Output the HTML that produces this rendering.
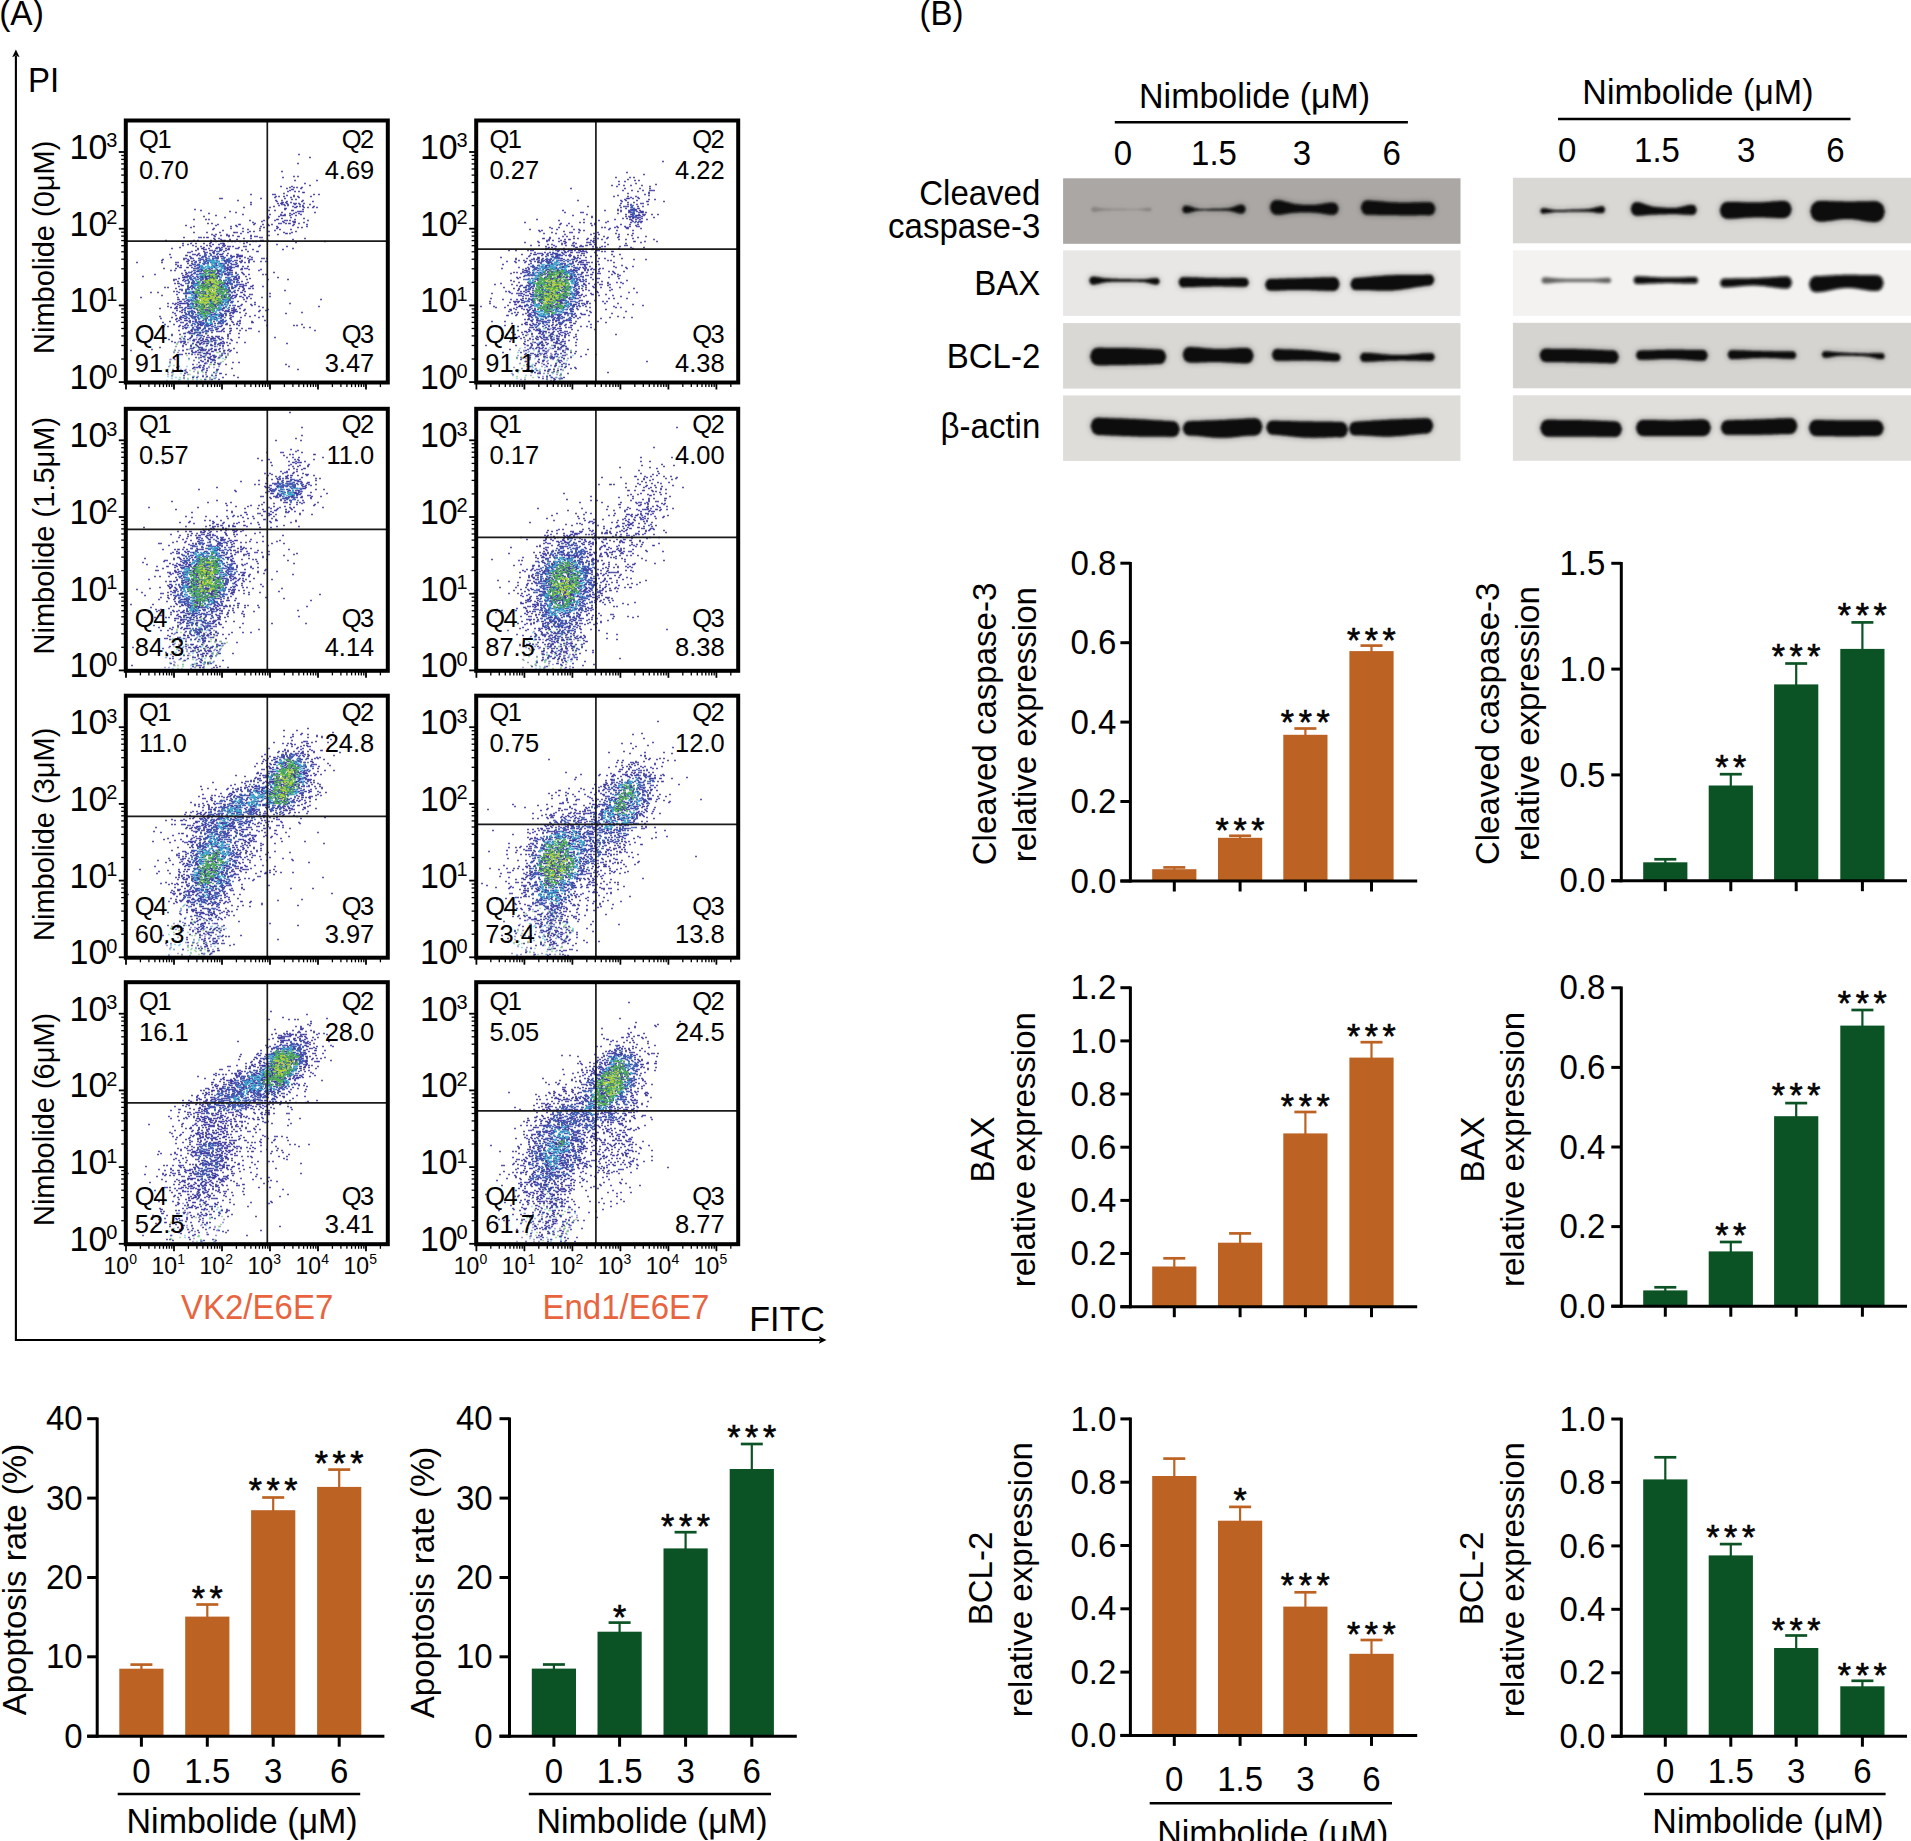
<!DOCTYPE html>
<html><head><meta charset="utf-8"><style>
html,body{margin:0;padding:0;background:#fff;}
svg{display:block;font-family:"Liberation Sans",sans-serif;}
</style></head><body>
<svg xmlns="http://www.w3.org/2000/svg" width="1911" height="1841" viewBox="0 0 1911 1841">
<defs><filter id="bl" x="-15%" y="-100%" width="130%" height="300%"><feGaussianBlur in="SourceGraphic" stdDeviation="3" result="b1"/><feComponentTransfer in="b1" result="b2"><feFuncA type="linear" slope="0.45"/></feComponentTransfer><feGaussianBlur in="SourceGraphic" stdDeviation="1" result="b3"/><feMerge><feMergeNode in="b2"/><feMergeNode in="b3"/></feMerge></filter>
<filter id="sb" x="-20%" y="-20%" width="140%" height="140%"><feGaussianBlur stdDeviation="6"/></filter><filter id="bl2" x="-10%" y="-80%" width="120%" height="260%"><feGaussianBlur stdDeviation="1.8"/></filter><filter id="sb2" x="-20%" y="-100%" width="140%" height="300%"><feGaussianBlur stdDeviation="3"/></filter></defs>
<rect width="1911" height="1841" fill="#fff"/>
<text transform="translate(-0.8,25) scale(1,1.045)" font-size="33.5" text-anchor="start" fill="#000" >(A)</text>
<text transform="translate(28,91.8) scale(1,1.045)" font-size="33" text-anchor="start" fill="#000" >PI</text>
<text transform="translate(749.3,1330.8) scale(1,1.045)" font-size="34" text-anchor="start" fill="#000" >FITC</text>
<line x1="15.9" y1="56" x2="15.9" y2="1341" stroke="#000" stroke-width="2.1"/>
<path d="M15.9 49.5 L19.6 57.2 L15.9 55.6 L12.2 57.2 Z" fill="#000"/>
<line x1="15" y1="1340" x2="820" y2="1340" stroke="#000" stroke-width="2.1"/>
<path d="M826.5 1340 L818.8 1343.7 L820.4 1340 L818.8 1336.3 Z" fill="#000"/>
<g transform="translate(0,0.5)"><path d="M195 319h0m343 2h0m-338 1h0m-8 2h0m352 0h0m-9 1h0m-340 1h0m344 2h0m12 0h0m-353 1h0m352 0h0m-347 2h0m339 0h0m-341 1h0m350 1h0m1 0h0m-24 1h0m16 0h0m0 1h0m5 0h0m-17 1h0m17 0h0m-352 1h0m357 0h0m-364 1h0m369 0h0m-378 1h0m4 0h0m11 0h0m17 0h0m-2 1h0m346 0h0m-378 1h0m31 0h0m347 0h0m5 0h0m-384 1h0m38 0h0m324 0h0m3 1h0m-340 1h0m-12 1h0m336 0h0m25 0h0m-335 1h0m314 0h0m-6 1h0m5 1h0m21 0h0m-362 1h0m350 0h0m10 0h0m-366 1h0m42 0h0m294 0h0m24 0h0m22 0h0m6 0h0m-47 1h0m5 0h0m19 0h0m-351 1h0m3 0h0m2 0h0m5 0h0m17 0h0m323 0h0m-324 1h0m-46 1h0m18 0h0m5 0h0m6 0h0m346 0h0m-332 1h0m298 0h0m29 0h0m-326 1h0m5 0h0m325 0h0m4 0h0m16 0h0m-367 1h0m1 0h0m15 0h0m325 0h0m14 0h0m-360 1h0m323 0h0m4 0h0m28 0h0m-384 1h0m1 0h0m42 0h0m316 0h0m10 0h0m14 0h0m-345 1h0m340 0h0m-378 1h0m355 0h0m13 0h0m-317 1h0m-16 1h0m1 0h0m1 0h0m-10 1h0m23 0h0m346 0h0m-20 1h0m-337 1h0m333 0h0m-343 1h0m15 0h0m344 1h0m-377 1h0m23 0h0m323 0h0m5 0h0m13 1h0m4 0h0m14 0h0m-369 1h0m337 0h0m-358 1h0m25 0h0m342 0h0m17 0h0m-45 1h0m-344 1h0m363 1h0m29 0h0m-353 1h0m-23 1h0m26 0h0m6 0h0m335 0h0m10 0h0m-14 1h0m12 0h0m-349 1h0m311 0h0m39 0h0m-366 230h0m355 1h0m-352 1h0m348 3h0m-353 1h0m5 2h0m345 1h0m-347 2h0m10 0h0m-22 2h0m18 2h0m4 2h0m7 0h0m347 0h0m3 0h0m-6 1h0m-363 2h0m16 0h0m340 0h0m18 1h0m-33 1h0m-328 1h0m-32 2h0m372 0h0m5 0h0m22 0h0m-364 1h0m6 0h0m363 0h0m-390 1h0m20 0h0m328 0h0m-339 1h0m12 0h0m341 0h0m5 0h0m-369 1h0m20 0h0m323 0h0m30 0h0m-373 1h0m5 0h0m352 0h0m15 0h0m10 0h0m6 0h0m-359 2h0m5 0h0m1 0h0m351 0h0m-397 2h0m29 0h0m362 0h0m-387 1h0m39 0h0m318 0h0m-348 1h0m29 0h0m342 1h0m10 0h0m-373 1h0m16 0h0m328 0h0m33 0h0m-395 1h0m8 0h0m5 0h0m30 0h0m346 0h0m-380 1h0m33 0h0m-19 1h0m8 0h0m5 0h0m348 0h0m-381 1h0m38 0h0m325 0h0m13 0h0m10 0h0m9 0h0m-396 2h0m23 0h0m5 0h0m9 1h0m343 0h0m1 0h0m9 0h0m-394 1h0m36 0h0m312 0h0m50 0h0m-381 1h0m371 0h0m5 0h0m5 0h0m-408 1h0m398 0h0m5 0h0m-10 1h0m13 0h0m-26 1h0m26 0h0m-398 2h0m26 0h0m350 0h0m-375 1h0m30 0h0m5 0h0m3 0h0m-4 1h0m344 1h0m13 0h0m-392 1h0m-9 2h0m4 0h0m31 0h0m323 0h0m21 1h0m21 0h0m5 0h0m-381 233h0m351 1h0m5 1h0m-361 2h0m-3 3h0m349 0h0m3 1h0m18 0h0m-370 1h0m27 1h0m340 1h0m5 0h0m-2 3h0m-16 1h0m15 1h0m-365 1h0m342 2h0m8 1h0m6 0h0m-349 2h0m-14 1h0m23 0h0m2 0h0m317 0h0m19 0h0m-321 1h0m331 0h0m-377 1h0m19 1h0m373 0h0m-343 1h0m-26 1h0m323 0h0m44 0h0m-363 2h0m20 0h0m317 0h0m14 0h0m-10 1h0m31 0h0m-392 1h0m370 0h0m4 0h0m10 0h0m1 0h0m-359 1h0m1 0h0m343 0h0m-28 1h0m4 0h0m19 0h0m-339 1h0m15 0h0m333 0h0m15 0h0m-390 1h0m32 0h0m319 0h0m-316 1h0m343 0h0m-362 1h0m10 0h0m311 0h0m19 1h0m21 1h0m-27 1h0m26 0h0m11 0h0m-21 2h0m-333 2h0m307 0h0m35 0h0m9 0h0m-391 1h0m25 0h0m9 0h0m326 0h0m-361 1h0m26 0h0m356 0h0m-378 1h0m9 0h0m30 0h0m335 0h0m9 1h0m-343 1h0m312 0h0m1 0h0m-315 1h0m-34 1h0m34 0h0m322 1h0m13 0h0m8 0h0m-365 1h0m-4 236h0m11 1h0m355 1h0m-363 1h0m369 0h0m-363 1h0m343 3h0m-329 1h0m348 1h0m7 0h0m-364 1h0m-17 2h0m346 0h0m19 0h0m-343 6h0m17 0h0m350 0h0m-368 1h0m18 0h0m333 0h0m-367 2h0m0 1h0m10 0h0m345 0h0m15 0h0m-16 1h0m35 1h0m-377 1h0m1 0h0m371 0h0m-37 2h0m34 1h0m-29 1h0m-14 1h0m22 0h0m-5 1h0m10 0h0m10 0h0m9 0h0m-38 1h0m23 0h0m-355 1h0m-15 1h0m14 0h0m-9 1h0m23 0h0m5 0h0m-33 1h0m28 0h0m336 0h0m18 0h0m1 0h0m-42 1h0m27 0h0m5 0h0m4 1h0m-32 1h0m36 0h0m-378 1h0m337 1h0m22 0h0m14 1h0m-356 1h0m-13 1h0m337 1h0m-337 2h0m340 1h0m-333 1h0m-8 1h0m9 0h0m315 0h0m9 0h0m8 0h0m31 1h0" stroke="#6a63bd" stroke-width="1.4" stroke-linecap="square" stroke-opacity="0.8" fill="none"/>
<path d="M541 319h0m1 0h0m3 2h0m-354 4h0m7 0h0m337 1h0m-346 1h0m355 1h0m-346 1h0m1 0h0m-2 1h0m1 0h0m345 0h0m-12 1h0m-345 1h0m10 0h0m5 0h0m-6 1h0m-1 1h0m-2 2h0m351 0h0m-361 1h0m32 1h0m339 0h0m-369 1h0m28 0h0m-22 1h0m362 0h0m5 0h0m-347 1h0m-1 1h0m330 0h0m-346 1h0m15 0h0m8 0h0m323 0h0m21 0h0m-364 2h0m369 0h0m-2 1h0m-33 1h0m20 0h0m-351 1h0m12 0h0m309 0h0m14 1h0m26 0h0m-26 1h0m4 1h0m6 0h0m-351 1h0m325 0h0m10 0h0m10 0h0m26 0h0m-372 1h0m30 0h0m335 0h0m-335 1h0m-17 1h0m10 0h0m316 0h0m42 0h0m-18 1h0m6 0h0m-346 1h0m8 1h0m294 0h0m18 0h0m10 0h0m-356 1h0m355 0h0m-350 1h0m364 0h0m9 0h0m-355 1h0m345 1h0m-387 1h0m363 1h0m33 0h0m-396 1h0m381 0h0m-364 1h0m373 0h0m-27 1h0m12 0h0m-10 2h0m1 0h0m4 0h0m-338 2h0m14 0h0m-44 1h0m45 0h0m318 0h0m18 0h0m-372 1h0m372 0h0m8 0h0m-349 1h0m301 1h0m13 0h0m21 0h0m-379 1h0m4 0h0m21 0h0m1 0h0m20 0h0m324 0h0m13 0h0m-375 1h0m381 0h0m-385 1h0m345 0h0m43 0h0m-381 1h0m1 0h0m8 0h0m9 0h0m363 0h0m-393 1h0m29 231h0m351 0h0m-351 1h0m-4 4h0m363 1h0m-361 4h0m345 0h0m24 0h0m-376 1h0m5 1h0m16 1h0m339 1h0m-346 1h0m356 0h0m-358 1h0m9 2h0m-12 1h0m11 0h0m-16 1h0m373 0h0m-388 1h0m20 0h0m15 0h0m6 0h0m316 0h0m-338 1h0m362 0h0m17 0h0m-380 2h0m4 0h0m363 0h0m-363 1h0m373 0h0m-36 1h0m24 0h0m-386 1h0m9 0h0m-10 1h0m4 0h0m1 0h0m23 0h0m358 0h0m11 0h0m-383 1h0m5 0h0m9 0h0m5 0h0m329 0h0m-334 1h0m367 0h0m-343 2h0m336 0h0m11 1h0m10 0h0m-359 1h0m-48 1h0m10 0h0m18 0h0m10 0h0m5 0h0m357 0h0m-373 1h0m15 0h0m358 0h0m-397 2h0m43 0h0m357 0h0m-390 1h0m33 0h0m310 0h0m-331 1h0m357 0h0m-343 1h0m348 0h0m-368 1h0m20 1h0m334 0h0m-344 1h0m322 0h0m44 0h0m-402 1h0m49 0h0m339 0h0m9 0h0m-14 1h0m23 0h0m-368 1h0m6 0h0m-32 1h0m8 0h0m371 0h0m-362 1h0m341 0h0m8 0h0m1 0h0m22 0h0m-23 1h0m26 0h0m-401 1h0m34 0h0m6 0h0m3 0h0m-18 1h0m1 0h0m7 0h0m2 0h0m331 0h0m-353 1h0m8 1h0m370 0h0m-21 1h0m-336 1h0m-31 1h0m9 0h0m354 0h0m4 0h0m-343 228h0m345 4h0m-342 1h0m-15 3h0m345 2h0m-341 1h0m358 1h0m-366 1h0m19 5h0m341 0h0m10 1h0m-354 1h0m-11 1h0m28 0h0m330 0h0m5 0h0m5 0h0m6 1h0m-380 2h0m15 1h0m14 0h0m359 1h0m-38 1h0m37 0h0m-7 1h0m6 0h0m-365 1h0m1 0h0m16 0h0m317 0h0m-363 1h0m39 0h0m1 0h0m11 0h0m311 0h0m9 0h0m21 0h0m-348 1h0m-45 1h0m34 0h0m21 0h0m347 0h0m-31 1h0m10 0h0m21 0h0m-7 1h0m-25 1h0m32 0h0m-385 1h0m10 0h0m14 0h0m305 0h0m5 1h0m37 0h0m11 0h0m-401 1h0m5 0h0m370 0h0m14 0h0m-348 1h0m10 0h0m305 0h0m14 1h0m4 0h0m14 1h0m-339 1h0m325 0h0m23 0h0m-367 1h0m346 0h0m-351 1h0m5 0h0m346 0h0m-365 1h0m1 0h0m-14 1h0m26 0h0m13 0h0m9 1h0m299 0h0m27 0h0m-370 1h0m4 0h0m5 0h0m-9 1h0m8 0h0m339 0h0m-330 1h0m27 0h0m307 1h0m27 0h0m-357 1h0m4 0h0m339 0h0m-365 1h0m4 0h0m356 2h0m17 0h0m9 0h0m-365 1h0m14 1h0m355 0h0m-391 1h0m348 0h0m21 0h0m8 0h0m0 227h0m-344 6h0m343 2h0m-340 1h0m350 0h0m-11 6h0m6 0h0m-7 1h0m11 1h0m-354 2h0m363 2h0m-19 1h0m-329 1h0m338 1h0m-21 1h0m-320 1h0m344 0h0m2 0h0m-341 2h0m328 0h0m23 0h0m-347 1h0m330 0h0m-331 1h0m355 1h0m-396 1h0m40 0h0m305 0h0m19 0h0m5 0h0m27 0h0m-373 1h0m359 2h0m-351 1h0m341 0h0m-341 1h0m320 1h0m10 0h0m29 1h0m-6 2h0m-34 2h0m-323 1h0m3 3h0m328 0h0m12 0h0m1 0h0m-332 1h0m327 0h0m9 1h0m-22 2h0m35 2h0m-395 1h0m13 0h0m14 1h0m-14 1h0m362 0h0m14 0h0m4 0h0m-35 1h0m22 1h0m9 0h0m-359 1h0m359 0h0m-364 1h0m17 0h0m337 0h0" stroke="#55bcd8" stroke-width="1.4" stroke-linecap="square" stroke-opacity="0.8" fill="none"/>
<path d="M541 319h0m-2 9h0m6 0h0m-349 3h0m357 1h0m-364 1h0m6 0h0m12 0h0m339 0h0m-347 1h0m352 0h0m-24 1h0m28 0h0m-373 1h0m367 0h0m-13 1h0m-319 3h0m-32 1h0m15 0h0m10 0h0m323 0h0m-356 2h0m28 0h0m-28 1h0m15 0h0m28 0h0m323 0h0m17 0h0m-347 1h0m330 0h0m9 0h0m12 0h0m-368 2h0m5 0h0m-11 1h0m14 0h0m341 0h0m-370 1h0m24 0h0m4 1h0m368 0h0m-397 1h0m50 0h0m347 0h0m-369 1h0m5 0h0m10 0h0m1 0h0m348 2h0m-379 1h0m33 0h0m8 0h0m312 0h0m-335 1h0m21 0h0m324 0h0m-29 1h0m1 0h0m32 0h0m5 0h0m-360 1h0m19 0h0m1 0h0m298 0h0m-292 1h0m339 0h0m-7 1h0m1 0h0m-335 1h0m-3 2h0m-10 1h0m1 0h0m4 0h0m-41 1h0m350 0h0m8 0h0m-354 1h0m381 0h0m-364 1h0m359 1h0m-386 1h0m395 0h0m-373 1h0m329 0h0m4 0h0m16 0h0m10 0h0m-376 1h0m25 0h0m19 0h0m332 0h0m8 0h0m-372 1h0m18 0h0m315 0h0m13 0h0m22 0h0m5 0h0m-385 2h0m17 0h0m371 0h0m0 1h0m-367 1h0m323 0h0m-337 1h0m4 0h0m22 0h0m319 0h0m8 0h0m-345 1h0m22 0h0m4 0h0m347 0h0m-368 1h0m8 0h0m5 0h0m341 0h0m-355 231h0m-1 1h0m363 0h0m-364 1h0m-2 2h0m-2 3h0m16 1h0m345 0h0m13 0h0m-366 1h0m7 0h0m-12 1h0m11 0h0m-2 2h0m10 1h0m345 0h0m-357 1h0m352 1h0m-349 2h0m353 0h0m-375 2h0m15 0h0m10 0h0m358 0h0m-383 1h0m25 0h0m347 0h0m-348 1h0m1 0h0m352 0h0m4 0h0m-377 1h0m14 0h0m23 0h0m344 1h0m-357 1h0m336 0h0m16 0h0m6 0h0m-26 1h0m-323 1h0m-12 1h0m12 0h0m356 0h0m6 0h0m-380 1h0m353 0h0m21 0h0m-359 1h0m357 0h0m-11 1h0m23 0h0m-405 1h0m29 0h0m1 0h0m6 0h0m5 0h0m5 0h0m308 0h0m28 0h0m-342 1h0m12 0h0m-3 1h0m309 0h0m18 0h0m14 0h0m-377 1h0m15 0h0m-11 1h0m11 0h0m14 0h0m314 0h0m33 0h0m11 0h0m-369 1h0m16 0h0m305 0h0m19 0h0m13 0h0m15 0h0m1 0h0m-364 1h0m6 0h0m338 0h0m-378 1h0m29 0h0m372 0h0m-48 1h0m43 0h0m-378 1h0m4 0h0m332 0h0m13 0h0m18 0h0m-367 1h0m357 0h0m-380 1h0m1 0h0m3 0h0m399 0h0m-362 1h0m4 0h0m-33 1h0m33 0h0m325 0h0m13 0h0m-365 1h0m357 0h0m-341 1h0m323 0h0m-318 1h0m326 0h0m-335 1h0m9 0h0m-18 1h0m331 1h0m21 0h0m-362 1h0m22 0h0m5 0h0m326 0h0m14 0h0m-345 1h0m340 0h0m22 0h0m-397 1h0m39 0h0m-26 1h0m9 0h0m3 0h0m13 0h0m327 0h0m-360 1h0m3 0h0m353 0h0m18 0h0m-366 1h0m13 0h0m348 1h0m17 0h0m-383 1h0m26 0h0m340 0h0m9 0h0m8 0h0m-25 232h0m2 5h0m-355 1h0m22 2h0m335 0h0m-7 3h0m16 0h0m-6 1h0m10 0h0m-341 1h0m314 0h0m28 0h0m-29 2h0m15 0h0m-348 1h0m362 2h0m6 0h0m-356 2h0m333 0h0m-343 1h0m358 0h0m-359 1h0m370 0h0m-33 2h0m21 0h0m-365 1h0m379 0h0m-1 1h0m-15 1h0m21 0h0m-399 1h0m49 0h0m337 0h0m11 0h0m-354 1h0m1 0h0m4 0h0m-40 1h0m24 0h0m10 0h0m305 0h0m55 0h0m-365 1h0m342 0h0m-376 1h0m24 0h0m14 0h0m337 2h0m-357 1h0m3 0h0m372 0h0m-6 4h0m4 0h0m-46 2h0m9 0h0m13 0h0m-343 1h0m316 0h0m50 0h0m-371 1h0m14 0h0m9 0h0m306 0h0m19 0h0m13 0h0m-35 1h0m31 0h0m-5 1h0m-357 2h0m13 0h0m360 0h0m1 0h0m-10 1h0m-361 1h0m10 0h0m4 0h0m347 0h0m-364 1h0m7 0h0m5 0h0m1 0h0m-5 1h0m13 0h0m343 0h0m-22 1h0m-339 1h0m8 1h0m-17 1h0m360 231h0m6 0h0m3 3h0m-7 1h0m-347 3h0m350 0h0m-15 5h0m22 1h0m3 2h0m-354 3h0m352 0h0m-11 1h0m-357 1h0m31 1h0m329 1h0m-12 1h0m14 1h0m16 1h0m-382 1h0m374 2h0m6 0h0m-341 2h0m306 0h0m-332 1h0m331 0h0m1 0h0m28 0h0m-346 1h0m321 0h0m-9 1h0m54 0h0m-37 2h0m34 0h0m-402 1h0m351 0h0m45 0h0m-37 1h0m37 0h0m-346 1h0m349 1h0m-351 1h0m328 0h0m18 0h0m-391 2h0m390 0h0m1 0h0m-383 1h0m-13 2h0m398 0h0m1 0h0m-31 1h0m13 1h0m3 0h0m-26 1h0m-328 1h0m337 0h0m22 0h0m3 0h0m-363 1h0m-18 1h0m376 0h0m-385 1h0m1 1h0m29 0h0m14 0h0m328 1h0" stroke="#6cc063" stroke-width="1.4" stroke-linecap="square" stroke-opacity="0.8" fill="none"/>
<path d="M195 321h0m345 0h0m5 1h0m-351 7h0m344 0h0m-330 1h0m338 2h0m-346 3h0m333 1h0m11 0h0m3 2h0m-351 1h0m329 0h0m5 0h0m-314 1h0m329 0h0m6 0h0m-367 1h0m10 0h0m10 0h0m358 0h0m-374 1h0m11 0h0m334 0h0m4 1h0m-5 2h0m-356 1h0m30 0h0m357 0h0m-340 2h0m307 0h0m31 0h0m5 0h0m1 0h0m1 0h0m-364 1h0m5 0h0m351 0h0m6 0h0m-391 1h0m4 0h0m345 0h0m15 0h0m4 0h0m5 0h0m-340 1h0m16 0h0m-50 1h0m4 0h0m44 1h0m6 0h0m314 0h0m9 0h0m-329 1h0m6 0h0m313 0h0m26 0h0m-361 1h0m330 0h0m15 0h0m-352 2h0m15 0h0m303 0h0m4 0h0m23 0h0m6 0h0m-361 1h0m341 0h0m34 0h0m4 0h0m-393 1h0m355 0h0m28 0h0m-364 1h0m8 1h0m336 0h0m9 0h0m15 0h0m-392 1h0m36 0h0m14 1h0m300 0h0m22 0h0m24 0h0m-10 1h0m-355 1h0m350 0h0m4 0h0m-386 1h0m10 0h0m25 0h0m15 0h0m308 0h0m5 0h0m-337 1h0m14 0h0m305 0h0m-310 1h0m318 0h0m14 0h0m-363 1h0m13 0h0m9 0h0m332 0h0m1 0h0m-10 1h0m30 0h0m10 0h0m-372 1h0m354 0h0m-372 1h0m4 0h0m367 0h0m13 0h0m-354 1h0m18 0h0m328 0h0m4 0h0m-360 1h0m18 0h0m307 0h0m44 0h0m4 0h0m-389 1h0m31 0h0m-5 1h0m345 0h0m-350 1h0m354 0h0m9 0h0m-372 1h0m31 0h0m345 0h0m-35 1h0m22 0h0m4 1h0m-2 230h0m6 1h0m-9 1h0m0 1h0m0 1h0m-363 6h0m18 0h0m350 0h0m13 0h0m-361 2h0m1 0h0m-8 1h0m12 0h0m-28 1h0m26 1h0m352 1h0m-380 1h0m385 0h0m5 0h0m-28 1h0m20 1h0m-351 1h0m5 0h0m345 1h0m-374 1h0m10 0h0m374 0h0m6 0h0m-400 1h0m371 1h0m25 2h0m-375 2h0m353 0h0m-14 1h0m4 0h0m24 0h0m-347 1h0m-11 1h0m366 1h0m-346 1h0m347 0h0m-398 1h0m363 0h0m14 0h0m-354 1h0m26 0h0m342 0h0m-30 1h0m-366 1h0m14 0h0m343 0h0m14 0h0m10 0h0m24 0h0m-392 1h0m357 0h0m-334 1h0m10 0h0m5 0h0m347 0h0m-372 1h0m357 0h0m16 0h0m-381 1h0m365 0h0m-334 1h0m329 0h0m-358 1h0m18 0h0m5 0h0m330 0h0m1 0h0m9 0h0m-381 1h0m10 0h0m22 1h0m13 0h0m348 0h0m1 0h0m9 0h0m-376 1h0m4 0h0m335 0h0m22 1h0m9 0h0m-357 1h0m-31 1h0m17 0h0m4 0h0m322 0h0m49 0h0m-388 1h0m16 1h0m14 0h0m323 0h0m12 0h0m9 0h0m-353 1h0m323 0h0m21 1h0m-375 1h0m30 0h0m332 1h0m-332 1h0m341 0h0m25 0h0m-375 1h0m350 0h0m-354 1h0m21 0h0m-24 234h0m362 1h0m-17 1h0m-344 2h0m360 3h0m2 0h0m-355 1h0m333 0h0m-349 1h0m375 0h0m4 2h0m-348 1h0m339 1h0m7 0h0m-12 1h0m4 1h0m12 1h0m-361 1h0m6 0h0m322 0h0m25 1h0m-370 2h0m373 0h0m-382 1h0m39 0h0m-36 2h0m45 1h0m332 0h0m-359 1h0m352 0h0m-371 2h0m28 0h0m9 1h0m310 0h0m49 0h0m-374 2h0m9 0h0m6 0h0m357 0h0m-21 1h0m10 0h0m-343 1h0m-14 1h0m355 0h0m-42 1h0m24 0h0m28 0h0m-348 2h0m342 0h0m5 0h0m-353 1h0m-9 1h0m9 0h0m352 0h0m-348 1h0m-31 1h0m7 0h0m1 0h0m12 0h0m339 0h0m-374 1h0m26 0h0m357 0h0m8 0h0m-351 1h0m342 0h0m-386 1h0m21 0h0m370 0h0m-357 1h0m326 1h0m-1 2h0m22 0h0m-347 1h0m325 0h0m-318 1h0m326 1h0m-330 1h0m308 0h0m30 0h0m-360 1h0m22 0h0m317 0h0m39 0h0m-391 1h0m348 0h0m17 0h0m-342 230h0m361 2h0m-10 4h0m6 0h0m-352 8h0m349 1h0m-341 2h0m364 4h0m-28 1h0m6 0h0m10 0h0m15 2h0m-387 1h0m350 0h0m6 0h0m-332 1h0m361 1h0m-391 1h0m346 0h0m-338 1h0m-14 1h0m5 0h0m350 0h0m10 0h0m22 0h0m-18 1h0m-343 1h0m347 0h0m4 0h0m27 0h0m-353 2h0m298 0h0m-319 1h0m371 0h0m-20 1h0m-331 1h0m325 0h0m19 1h0m-34 1h0m5 0h0m14 0h0m18 1h0m1 0h0m-38 2h0m17 1h0m-4 1h0m-329 1h0m-22 1h0m328 0h0m35 0h0m-351 1h0m342 0h0m5 0h0m12 1h0m-13 1h0m-337 1h0m315 0h0m31 0h0m-32 1h0m30 0h0m-38 1h0m17 0h0m9 2h0m-347 2h0m14 0h0m311 0h0m13 0h0m26 0h0" stroke="#4a46a8" stroke-width="1.4" stroke-linecap="square" stroke-opacity="0.8" fill="none"/>
<path d="M299 154h0m11 3h0m353 4h0m-365 2h0m-16 8h0m345 1h0m17 2h0m-350 2h0m4 0h0m-15 1h0m333 0h0m14 0h0m4 0h0m-6 2h0m-333 1h0m22 0h0m318 0h0m4 0h0m-20 1h0m6 0h0m-320 2h0m331 0h0m-17 1h0m37 0h0m-346 1h0m302 0h0m12 0h0m7 0h0m11 0h0m-361 1h0m11 0h0m325 0h0m33 0h0m-360 1h0m4 0h0m3 0h0m5 0h0m-15 1h0m14 0h0m270 0h0m54 0h0m15 0h0m10 0h0m-358 1h0m1 0h0m-3 1h0m333 0h0m9 0h0m11 0h0m7 0h0m2 0h0m2 0h0m-366 1h0m7 0h0m4 0h0m339 0h0m-335 1h0m1 0h0m345 0h0m-365 1h0m344 0h0m21 0h0m-398 1h0m22 0h0m2 0h0m39 0h0m5 0h0m326 0h0m-358 1h0m7 0h0m324 0h0m31 0h0m-373 1h0m3 0h0m5 0h0m10 0h0m4 0h0m13 0h0m303 0h0m14 0h0m8 0h0m-361 1h0m16 0h0m8 0h0m332 0h0m7 0h0m-418 1h0m2 0h0m39 0h0m24 0h0m342 0h0m1 0h0m1 0h0m4 0h0m6 0h0m-347 1h0m4 0h0m329 0h0m24 0h0m6 0h0m-417 1h0m38 0h0m6 0h0m21 0h0m275 0h0m43 0h0m5 0h0m11 0h0m-360 1h0m10 0h0m15 0h0m11 0h0m309 0h0m25 0h0m1 0h0m16 0h0m-413 1h0m31 0h0m1 0h0m3 0h0m5 0h0m337 0h0m6 0h0m-356 1h0m3 0h0m1 0h0m5 0h0m7 0h0m2 0h0m3 0h0m5 0h0m317 0h0m20 0h0m2 0h0m-392 1h0m31 0h0m2 0h0m4 0h0m7 0h0m5 0h0m10 0h0m318 0h0m3 0h0m6 0h0m11 0h0m-369 1h0m6 0h0m3 0h0m15 0h0m317 0h0m-346 1h0m19 0h0m4 0h0m3 0h0m3 0h0m11 0h0m274 0h0m36 0h0m2 0h0m2 0h0m4 0h0m6 0h0m5 0h0m-399 1h0m26 0h0m25 0h0m1 0h0m8 0h0m4 0h0m5 0h0m4 0h0m304 0h0m11 0h0m-347 1h0m1 0h0m340 0h0m8 0h0m4 0h0m1 0h0m-444 1h0m90 0h0m18 0h0m315 0h0m13 0h0m1 0h0m1 0h0m2 0h0m1 0h0m-435 1h0m68 0h0m6 0h0m17 0h0m1 0h0m270 0h0m42 0h0m13 0h0m3 0h0m8 0h0m3 0h0m2 0h0m2 0h0m4 0h0m-410 1h0m68 0h0m2 0h0m1 0h0m2 0h0m318 0h0m8 0h0m1 0h0m7 0h0m4 0h0m1 0h0m1 0h0m-407 1h0m46 0h0m14 0h0m19 0h0m250 0h0m16 0h0m2 0h0m46 0h0m2 0h0m8 0h0m2 0h0m1 0h0m1 0h0m3 0h0m-437 1h0m81 0h0m4 0h0m5 0h0m319 0h0m15 0h0m1 0h0m-391 1h0m27 0h0m11 0h0m4 0h0m7 0h0m9 0h0m286 0h0m39 0h0m5 0h0m1 0h0m7 0h0m4 0h0m2 0h0m7 0h0m6 0h0m-442 1h0m65 0h0m2 0h0m1 0h0m1 0h0m5 0h0m6 0h0m277 0h0m60 0h0m3 0h0m1 0h0m1 0h0m1 0h0m1 0h0m4 0h0m-440 1h0m64 0h0m11 0h0m313 0h0m34 0h0m3 0h0m2 0h0m1 0h0m1 0h0m3 0h0m6 0h0m-417 1h0m44 0h0m22 0h0m301 0h0m38 0h0m3 0h0m1 0h0m2 0h0m2 0h0m2 0h0m14 0h0m-386 1h0m14 0h0m22 0h0m319 0h0m4 0h0m6 0h0m5 0h0m4 0h0m-448 1h0m12 0h0m3 0h0m68 0h0m1 0h0m17 0h0m242 0h0m47 0h0m31 0h0m15 0h0m1 0h0m5 0h0m4 0h0m7 0h0m-397 1h0m14 0h0m11 0h0m10 0h0m2 0h0m3 0h0m18 0h0m251 0h0m40 0h0m33 0h0m-370 1h0m21 0h0m10 0h0m2 0h0m313 0h0m25 0h0m3 0h0m3 0h0m2 0h0m1 0h0m-389 1h0m31 0h0m10 0h0m1 0h0m9 0h0m221 0h0m55 0h0m4 0h0m22 0h0m25 0h0m7 0h0m3 0h0m-433 1h0m4 0h0m43 0h0m24 0h0m2 0h0m5 0h0m3 0h0m1 0h0m9 0h0m262 0h0m8 0h0m22 0h0m4 0h0m-377 1h0m21 0h0m1 0h0m14 0h0m9 0h0m5 0h0m4 0h0m22 0h0m13 0h0m253 0h0m35 0h0m26 0h0m9 0h0m8 0h0m-452 1h0m30 0h0m20 0h0m33 0h0m24 0h0m274 0h0m25 0h0m44 0h0m-442 1h0m37 0h0m6 0h0m24 0h0m16 0h0m30 0h0m265 0h0m45 0h0m8 0h0m5 0h0m7 0h0m2 0h0m-448 1h0m73 0h0m14 0h0m20 0h0m4 0h0m248 0h0m9 0h0m43 0h0m3 0h0m10 0h0m3 0h0m8 0h0m2 0h0m-414 1h0m17 0h0m12 0h0m17 0h0m17 0h0m275 0h0m58 0h0m17 0h0m1 0h0m13 0h0m-428 1h0m35 0h0m32 0h0m11 0h0m239 0h0m27 0h0m17 0h0m5 0h0m30 0h0m-386 1h0m37 0h0m15 0h0m264 0h0m3 0h0m38 0h0m4 0h0m33 0h0m16 0h0m-390 1h0m7 0h0m4 0h0m15 0h0m27 0h0m244 0h0m24 0h0m-370 1h0m13 0h0m13 0h0m14 0h0m1 0h0m2 0h0m11 0h0m36 0h0m8 0h0m260 0h0m18 0h0m2 0h0m7 0h0m19 0h0m-357 1h0m45 0h0m1 0h0m3 0h0m254 0h0m12 0h0m38 0h0m22 0h0m17 0h0m-421 1h0m4 0h0m11 0h0m51 0h0m287 0h0m26 0h0m8 0h0m20 0h0m9 0h0m-414 1h0m7 0h0m6 0h0m2 0h0m4 0h0m18 0h0m18 0h0m363 0h0m-417 1h0m14 0h0m9 0h0m1 0h0m12 0h0m4 0h0m2 0h0m306 0h0m4 0h0m7 0h0m21 0h0m9 0h0m15 0h0m27 0h0m-462 1h0m15 0h0m2 0h0m3 0h0m3 0h0m1 0h0m52 0h0m2 0h0m288 0h0m58 0h0m10 0h0m20 0h0m-424 1h0m5 0h0m25 0h0m7 0h0m54 0h0m238 0h0m1 0h0m6 0h0m9 0h0m15 0h0m4 0h0m10 0h0m6 0h0m4 0h0m9 0h0m26 0h0m-418 1h0m6 0h0m9 0h0m7 0h0m56 0h0m256 0h0m16 0h0m4 0h0m1 0h0m17 0h0m15 0h0m17 0h0m7 0h0m28 0h0m-488 1h0m28 0h0m4 0h0m13 0h0m11 0h0m2 0h0m1 0h0m5 0h0m31 0h0m2 0h0m5 0h0m279 0h0m2 0h0m4 0h0m8 0h0m30 0h0m3 0h0m-402 1h0m24 0h0m7 0h0m5 0h0m4 0h0m3 0h0m5 0h0m4 0h0m9 0h0m3 0h0m69 0h0m213 0h0m9 0h0m12 0h0m5 0h0m1 0h0m28 0h0m41 0h0m1 0h0m10 0h0m12 0h0m-446 1h0m36 0h0m49 0h0m229 0h0m14 0h0m27 0h0m8 0h0m13 0h0m1 0h0m2 0h0m4 0h0m11 0h0m36 0h0m-458 1h0m8 0h0m5 0h0m8 0h0m6 0h0m11 0h0m2 0h0m1 0h0m20 0h0m318 0h0m3 0h0m8 0h0m3 0h0m50 0h0m-438 1h0m25 0h0m6 0h0m5 0h0m26 0h0m27 0h0m271 0h0m4 0h0m10 0h0m28 0h0m1 0h0m4 0h0m13 0h0m-425 1h0m10 0h0m14 0h0m3 0h0m13 0h0m2 0h0m35 0h0m271 0h0m8 0h0m15 0h0m12 0h0m6 0h0m2 0h0m7 0h0m5 0h0m1 0h0m38 0h0m2 0h0m-431 1h0m5 0h0m10 0h0m13 0h0m4 0h0m2 0h0m3 0h0m11 0h0m2 0h0m13 0h0m28 0h0m259 0h0m10 0h0m18 0h0m6 0h0m2 0h0m1 0h0m10 0h0m9 0h0m3 0h0m15 0h0m-440 1h0m24 0h0m13 0h0m2 0h0m3 0h0m17 0h0m310 0h0m3 0h0m24 0h0m1 0h0m20 0h0m3 0h0m31 0h0m13 0h0m-472 1h0m26 0h0m4 0h0m1 0h0m6 0h0m7 0h0m1 0h0m3 0h0m6 0h0m3 0h0m7 0h0m2 0h0m55 0h0m253 0h0m1 0h0m1 0h0m7 0h0m9 0h0m29 0h0m26 0h0m14 0h0m-435 1h0m6 0h0m2 0h0m15 0h0m7 0h0m1 0h0m17 0h0m7 0h0m30 0h0m263 0h0m7 0h0m3 0h0m3 0h0m3 0h0m7 0h0m17 0h0m6 0h0m1 0h0m-397 1h0m14 0h0m2 0h0m3 0h0m5 0h0m1 0h0m5 0h0m16 0h0m267 0h0m7 0h0m12 0h0m3 0h0m2 0h0m25 0h0m1 0h0m5 0h0m5 0h0m2 0h0m1 0h0m3 0h0m4 0h0m1 0h0m3 0h0m14 0h0m2 0h0m-407 1h0m12 0h0m10 0h0m10 0h0m24 0h0m9 0h0m1 0h0m300 0h0m7 0h0m3 0h0m13 0h0m1 0h0m2 0h0m2 0h0m16 0h0m3 0h0m7 0h0m1 0h0m-425 1h0m2 0h0m15 0h0m2 0h0m6 0h0m1 0h0m321 0h0m10 0h0m5 0h0m3 0h0m9 0h0m3 0h0m1 0h0m5 0h0m1 0h0m5 0h0m2 0h0m8 0h0m8 0h0m-396 1h0m6 0h0m5 0h0m4 0h0m4 0h0m10 0h0m303 0h0m7 0h0m2 0h0m2 0h0m6 0h0m6 0h0m1 0h0m1 0h0m1 0h0m6 0h0m19 0h0m2 0h0m-414 1h0m23 0h0m2 0h0m3 0h0m19 0h0m3 0h0m1 0h0m1 0h0m15 0h0m1 0h0m284 0h0m12 0h0m1 0h0m1 0h0m7 0h0m4 0h0m4 0h0m1 0h0m4 0h0m1 0h0m2 0h0m1 0h0m10 0h0m42 0h0m8 0h0m-434 1h0m1 0h0m10 0h0m3 0h0m5 0h0m6 0h0m16 0h0m4 0h0m7 0h0m2 0h0m2 0h0m288 0h0m12 0h0m6 0h0m9 0h0m1 0h0m1 0h0m1 0h0m2 0h0m4 0h0m3 0h0m2 0h0m7 0h0m3 0h0m3 0h0m13 0h0m-407 1h0m13 0h0m2 0h0m8 0h0m2 0h0m3 0h0m3 0h0m1 0h0m1 0h0m8 0h0m2 0h0m1 0h0m3 0h0m2 0h0m1 0h0m1 0h0m1 0h0m8 0h0m279 0h0m17 0h0m6 0h0m1 0h0m3 0h0m1 0h0m13 0h0m4 0h0m17 0h0m23 0h0m-443 1h0m20 0h0m11 0h0m4 0h0m10 0h0m2 0h0m14 0h0m5 0h0m8 0h0m7 0h0m249 0h0m37 0h0m1 0h0m16 0h0m2 0h0m1 0h0m16 0h0m1 0h0m3 0h0m8 0h0m-402 1h0m2 0h0m5 0h0m2 0h0m6 0h0m14 0h0m4 0h0m1 0h0m4 0h0m2 0h0m16 0h0m8 0h0m14 0h0m2 0h0m3 0h0m249 0h0m11 0h0m7 0h0m4 0h0m1 0h0m4 0h0m16 0h0m2 0h0m1 0h0m13 0h0m2 0h0m3 0h0m19 0h0m6 0h0m17 0h0m-459 1h0m21 0h0m4 0h0m13 0h0m2 0h0m3 0h0m7 0h0m14 0h0m1 0h0m22 0h0m2 0h0m264 0h0m16 0h0m2 0h0m3 0h0m5 0h0m4 0h0m1 0h0m2 0h0m2 0h0m13 0h0m4 0h0m5 0h0m1 0h0m60 0h0m12 0h0m-484 1h0m27 0h0m5 0h0m6 0h0m7 0h0m2 0h0m2 0h0m2 0h0m4 0h0m7 0h0m1 0h0m2 0h0m2 0h0m2 0h0m4 0h0m2 0h0m5 0h0m7 0h0m270 0h0m5 0h0m6 0h0m9 0h0m3 0h0m2 0h0m3 0h0m3 0h0m3 0h0m4 0h0m1 0h0m3 0h0m1 0h0m15 0h0m5 0h0m2 0h0m2 0h0m22 0h0m3 0h0m-424 1h0m1 0h0m4 0h0m4 0h0m10 0h0m13 0h0m6 0h0m2 0h0m2 0h0m11 0h0m2 0h0m7 0h0m5 0h0m7 0h0m5 0h0m241 0h0m8 0h0m11 0h0m5 0h0m4 0h0m3 0h0m4 0h0m5 0h0m1 0h0m2 0h0m7 0h0m11 0h0m5 0h0m3 0h0m4 0h0m1 0h0m17 0h0m-461 1h0m25 0h0m14 0h0m2 0h0m17 0h0m5 0h0m5 0h0m3 0h0m3 0h0m1 0h0m1 0h0m3 0h0m1 0h0m9 0h0m3 0h0m7 0h0m5 0h0m4 0h0m4 0h0m267 0h0m9 0h0m13 0h0m1 0h0m2 0h0m7 0h0m1 0h0m2 0h0m4 0h0m1 0h0m17 0h0m6 0h0m2 0h0m2 0h0m4 0h0m2 0h0m3 0h0m22 0h0m-426 1h0m4 0h0m12 0h0m4 0h0m7 0h0m1 0h0m4 0h0m1 0h0m1 0h0m4 0h0m5 0h0m300 0h0m10 0h0m7 0h0m1 0h0m3 0h0m10 0h0m3 0h0m5 0h0m2 0h0m-396 1h0m17 0h0m2 0h0m3 0h0m1 0h0m5 0h0m11 0h0m1 0h0m5 0h0m11 0h0m2 0h0m2 0h0m267 0h0m26 0h0m23 0h0m3 0h0m3 0h0m2 0h0m2 0h0m3 0h0m13 0h0m3 0h0m2 0h0m1 0h0m1 0h0m2 0h0m9 0h0m3 0h0m-421 1h0m3 0h0m9 0h0m1 0h0m6 0h0m16 0h0m3 0h0m1 0h0m4 0h0m1 0h0m1 0h0m5 0h0m10 0h0m295 0h0m5 0h0m1 0h0m7 0h0m1 0h0m2 0h0m4 0h0m4 0h0m8 0h0m2 0h0m7 0h0m11 0h0m37 0h0m-444 1h0m17 0h0m5 0h0m2 0h0m10 0h0m2 0h0m6 0h0m3 0h0m2 0h0m5 0h0m1 0h0m5 0h0m1 0h0m1 0h0m5 0h0m5 0h0m285 0h0m1 0h0m8 0h0m4 0h0m4 0h0m13 0h0m1 0h0m3 0h0m1 0h0m1 0h0m16 0h0m5 0h0m6 0h0m18 0h0m19 0h0m-453 1h0m1 0h0m6 0h0m1 0h0m4 0h0m7 0h0m3 0h0m1 0h0m7 0h0m1 0h0m1 0h0m3 0h0m7 0h0m5 0h0m1 0h0m2 0h0m2 0h0m287 0h0m9 0h0m5 0h0m4 0h0m5 0h0m1 0h0m2 0h0m1 0h0m2 0h0m5 0h0m2 0h0m1 0h0m4 0h0m2 0h0m1 0h0m2 0h0m10 0h0m5 0h0m3 0h0m3 0h0m30 0h0m10 0h0m-462 1h0m12 0h0m18 0h0m2 0h0m1 0h0m1 0h0m3 0h0m8 0h0m3 0h0m4 0h0m9 0h0m2 0h0m1 0h0m3 0h0m11 0h0m3 0h0m2 0h0m255 0h0m24 0h0m3 0h0m6 0h0m4 0h0m1 0h0m3 0h0m1 0h0m2 0h0m1 0h0m4 0h0m1 0h0m3 0h0m2 0h0m1 0h0m18 0h0m2 0h0m6 0h0m2 0h0m6 0h0m8 0h0m3 0h0m24 0h0m-427 1h0m1 0h0m1 0h0m4 0h0m4 0h0m7 0h0m4 0h0m4 0h0m3 0h0m1 0h0m1 0h0m11 0h0m1 0h0m7 0h0m12 0h0m262 0h0m6 0h0m5 0h0m2 0h0m7 0h0m4 0h0m1 0h0m1 0h0m1 0h0m1 0h0m3 0h0m4 0h0m4 0h0m3 0h0m6 0h0m3 0h0m5 0h0m6 0h0m3 0h0m3 0h0m3 0h0m5 0h0m-428 1h0m4 0h0m10 0h0m9 0h0m5 0h0m3 0h0m1 0h0m2 0h0m3 0h0m4 0h0m3 0h0m3 0h0m1 0h0m2 0h0m6 0h0m3 0h0m1 0h0m1 0h0m27 0h0m266 0h0m1 0h0m1 0h0m7 0h0m4 0h0m8 0h0m4 0h0m7 0h0m2 0h0m4 0h0m1 0h0m2 0h0m3 0h0m4 0h0m1 0h0m1 0h0m1 0h0m1 0h0m8 0h0m3 0h0m-391 1h0m1 0h0m1 0h0m2 0h0m3 0h0m2 0h0m4 0h0m3 0h0m2 0h0m3 0h0m2 0h0m4 0h0m299 0h0m4 0h0m2 0h0m15 0h0m1 0h0m3 0h0m3 0h0m2 0h0m3 0h0m1 0h0m1 0h0m6 0h0m2 0h0m2 0h0m1 0h0m3 0h0m27 0h0m10 0h0m4 0h0m11 0h0m-438 1h0m3 0h0m2 0h0m4 0h0m10 0h0m4 0h0m1 0h0m2 0h0m1 0h0m1 0h0m4 0h0m4 0h0m1 0h0m5 0h0m2 0h0m2 0h0m4 0h0m6 0h0m32 0h0m240 0h0m3 0h0m6 0h0m2 0h0m2 0h0m6 0h0m4 0h0m3 0h0m1 0h0m3 0h0m4 0h0m1 0h0m3 0h0m2 0h0m3 0h0m1 0h0m1 0h0m1 0h0m2 0h0m2 0h0m1 0h0m1 0h0m2 0h0m1 0h0m5 0h0m8 0h0m1 0h0m4 0h0m6 0h0m21 0h0m-432 1h0m5 0h0m7 0h0m6 0h0m1 0h0m2 0h0m8 0h0m1 0h0m1 0h0m1 0h0m3 0h0m2 0h0m6 0h0m1 0h0m3 0h0m7 0h0m7 0h0m268 0h0m10 0h0m8 0h0m5 0h0m5 0h0m1 0h0m2 0h0m3 0h0m1 0h0m3 0h0m9 0h0m1 0h0m1 0h0m1 0h0m3 0h0m3 0h0m15 0h0m16 0h0m2 0h0m15 0h0m-460 1h0m31 0h0m6 0h0m5 0h0m8 0h0m5 0h0m1 0h0m1 0h0m3 0h0m1 0h0m4 0h0m2 0h0m3 0h0m1 0h0m2 0h0m1 0h0m3 0h0m12 0h0m5 0h0m14 0h0m3 0h0m262 0h0m12 0h0m1 0h0m2 0h0m2 0h0m3 0h0m1 0h0m1 0h0m1 0h0m1 0h0m1 0h0m1 0h0m1 0h0m2 0h0m2 0h0m1 0h0m2 0h0m3 0h0m1 0h0m5 0h0m3 0h0m4 0h0m3 0h0m10 0h0m1 0h0m20 0h0m6 0h0m-435 1h0m5 0h0m3 0h0m12 0h0m2 0h0m4 0h0m1 0h0m3 0h0m1 0h0m4 0h0m4 0h0m6 0h0m297 0h0m4 0h0m3 0h0m3 0h0m2 0h0m2 0h0m1 0h0m2 0h0m6 0h0m9 0h0m1 0h0m1 0h0m1 0h0m1 0h0m10 0h0m2 0h0m1 0h0m12 0h0m2 0h0m32 0h0m-477 1h0m42 0h0m2 0h0m2 0h0m4 0h0m4 0h0m4 0h0m1 0h0m1 0h0m2 0h0m1 0h0m1 0h0m1 0h0m1 0h0m3 0h0m1 0h0m1 0h0m1 0h0m1 0h0m2 0h0m1 0h0m17 0h0m3 0h0m7 0h0m278 0h0m14 0h0m1 0h0m8 0h0m3 0h0m1 0h0m6 0h0m1 0h0m1 0h0m1 0h0m1 0h0m3 0h0m3 0h0m4 0h0m1 0h0m3 0h0m1 0h0m5 0h0m2 0h0m35 0h0m-435 1h0m1 0h0m1 0h0m2 0h0m11 0h0m3 0h0m1 0h0m1 0h0m1 0h0m1 0h0m1 0h0m4 0h0m1 0h0m1 0h0m1 0h0m3 0h0m1 0h0m3 0h0m1 0h0m5 0h0m9 0h0m1 0h0m3 0h0m39 0h0m239 0h0m3 0h0m21 0h0m4 0h0m1 0h0m5 0h0m4 0h0m3 0h0m2 0h0m3 0h0m3 0h0m1 0h0m3 0h0m2 0h0m7 0h0m12 0h0m18 0h0m-430 1h0m11 0h0m10 0h0m1 0h0m2 0h0m3 0h0m1 0h0m2 0h0m2 0h0m3 0h0m1 0h0m2 0h0m12 0h0m5 0h0m3 0h0m2 0h0m11 0h0m268 0h0m14 0h0m3 0h0m2 0h0m1 0h0m3 0h0m1 0h0m3 0h0m1 0h0m2 0h0m1 0h0m1 0h0m2 0h0m1 0h0m1 0h0m3 0h0m14 0h0m1 0h0m1 0h0m4 0h0m20 0h0m2 0h0m20 0h0m-445 1h0m2 0h0m8 0h0m7 0h0m1 0h0m4 0h0m2 0h0m3 0h0m2 0h0m3 0h0m1 0h0m13 0h0m11 0h0m3 0h0m2 0h0m1 0h0m10 0h0m21 0h0m20 0h0m240 0h0m8 0h0m2 0h0m1 0h0m1 0h0m2 0h0m1 0h0m1 0h0m2 0h0m3 0h0m1 0h0m2 0h0m3 0h0m1 0h0m1 0h0m3 0h0m6 0h0m1 0h0m2 0h0m1 0h0m4 0h0m3 0h0m3 0h0m3 0h0m3 0h0m7 0h0m-419 1h0m9 0h0m3 0h0m2 0h0m5 0h0m8 0h0m4 0h0m5 0h0m4 0h0m5 0h0m1 0h0m1 0h0m3 0h0m2 0h0m3 0h0m2 0h0m7 0h0m273 0h0m22 0h0m5 0h0m11 0h0m2 0h0m1 0h0m4 0h0m1 0h0m1 0h0m1 0h0m1 0h0m2 0h0m3 0h0m1 0h0m1 0h0m5 0h0m1 0h0m7 0h0m47 0h0m-449 1h0m16 0h0m9 0h0m2 0h0m2 0h0m2 0h0m1 0h0m2 0h0m1 0h0m1 0h0m1 0h0m3 0h0m10 0h0m6 0h0m8 0h0m272 0h0m21 0h0m5 0h0m1 0h0m4 0h0m3 0h0m3 0h0m5 0h0m1 0h0m2 0h0m4 0h0m2 0h0m7 0h0m4 0h0m5 0h0m2 0h0m3 0h0m16 0h0m-413 1h0m3 0h0m2 0h0m4 0h0m1 0h0m4 0h0m3 0h0m2 0h0m1 0h0m1 0h0m1 0h0m2 0h0m2 0h0m2 0h0m8 0h0m3 0h0m2 0h0m7 0h0m2 0h0m9 0h0m271 0h0m9 0h0m4 0h0m1 0h0m6 0h0m6 0h0m2 0h0m4 0h0m1 0h0m1 0h0m2 0h0m1 0h0m4 0h0m6 0h0m1 0h0m8 0h0m23 0h0m10 0h0m9 0h0m4 0h0m-446 1h0m3 0h0m1 0h0m9 0h0m4 0h0m1 0h0m1 0h0m2 0h0m1 0h0m5 0h0m1 0h0m1 0h0m1 0h0m1 0h0m2 0h0m3 0h0m1 0h0m2 0h0m1 0h0m3 0h0m2 0h0m1 0h0m2 0h0m1 0h0m2 0h0m1 0h0m1 0h0m2 0h0m1 0h0m15 0h0m255 0h0m28 0h0m2 0h0m1 0h0m2 0h0m4 0h0m1 0h0m3 0h0m2 0h0m4 0h0m1 0h0m3 0h0m4 0h0m2 0h0m2 0h0m2 0h0m2 0h0m1 0h0m1 0h0m7 0h0m3 0h0m1 0h0m7 0h0m5 0h0m19 0h0m15 0h0m-442 1h0m13 0h0m2 0h0m2 0h0m6 0h0m1 0h0m2 0h0m1 0h0m3 0h0m2 0h0m3 0h0m1 0h0m2 0h0m1 0h0m3 0h0m1 0h0m3 0h0m5 0h0m8 0h0m1 0h0m2 0h0m252 0h0m17 0h0m18 0h0m4 0h0m3 0h0m2 0h0m3 0h0m1 0h0m2 0h0m2 0h0m2 0h0m1 0h0m1 0h0m3 0h0m2 0h0m1 0h0m3 0h0m1 0h0m1 0h0m3 0h0m10 0h0m9 0h0m1 0h0m10 0h0m5 0h0m2 0h0m8 0h0m-428 1h0m1 0h0m9 0h0m3 0h0m3 0h0m2 0h0m1 0h0m2 0h0m3 0h0m1 0h0m4 0h0m1 0h0m1 0h0m1 0h0m1 0h0m3 0h0m1 0h0m3 0h0m3 0h0m3 0h0m7 0h0m9 0h0m2 0h0m7 0h0m264 0h0m4 0h0m1 0h0m5 0h0m1 0h0m6 0h0m3 0h0m4 0h0m4 0h0m1 0h0m2 0h0m2 0h0m1 0h0m2 0h0m3 0h0m1 0h0m2 0h0m3 0h0m2 0h0m11 0h0m1 0h0m10 0h0m22 0h0m-429 1h0m9 0h0m3 0h0m2 0h0m10 0h0m1 0h0m1 0h0m1 0h0m2 0h0m1 0h0m1 0h0m4 0h0m1 0h0m4 0h0m2 0h0m1 0h0m4 0h0m1 0h0m5 0h0m4 0h0m4 0h0m2 0h0m1 0h0m8 0h0m1 0h0m11 0h0m257 0h0m9 0h0m3 0h0m2 0h0m5 0h0m3 0h0m4 0h0m3 0h0m1 0h0m1 0h0m2 0h0m1 0h0m1 0h0m1 0h0m2 0h0m2 0h0m4 0h0m1 0h0m1 0h0m1 0h0m1 0h0m2 0h0m5 0h0m4 0h0m14 0h0m-428 1h0m3 0h0m21 0h0m1 0h0m3 0h0m1 0h0m4 0h0m3 0h0m1 0h0m1 0h0m1 0h0m3 0h0m1 0h0m1 0h0m4 0h0m1 0h0m3 0h0m1 0h0m2 0h0m1 0h0m1 0h0m1 0h0m6 0h0m3 0h0m11 0h0m261 0h0m20 0h0m1 0h0m1 0h0m5 0h0m8 0h0m1 0h0m1 0h0m1 0h0m1 0h0m4 0h0m1 0h0m1 0h0m3 0h0m2 0h0m3 0h0m4 0h0m1 0h0m3 0h0m2 0h0m1 0h0m2 0h0m4 0h0m12 0h0m8 0h0m7 0h0m9 0h0m10 0h0m-444 1h0m12 0h0m4 0h0m3 0h0m4 0h0m5 0h0m5 0h0m1 0h0m3 0h0m6 0h0m1 0h0m6 0h0m3 0h0m3 0h0m1 0h0m6 0h0m5 0h0m5 0h0m1 0h0m3 0h0m261 0h0m5 0h0m11 0h0m3 0h0m3 0h0m3 0h0m3 0h0m12 0h0m1 0h0m1 0h0m2 0h0m2 0h0m4 0h0m1 0h0m3 0h0m11 0h0m3 0h0m52 0h0m-454 1h0m2 0h0m5 0h0m2 0h0m7 0h0m11 0h0m7 0h0m1 0h0m1 0h0m1 0h0m3 0h0m2 0h0m2 0h0m2 0h0m1 0h0m2 0h0m15 0h0m275 0h0m7 0h0m3 0h0m8 0h0m2 0h0m3 0h0m1 0h0m3 0h0m3 0h0m2 0h0m4 0h0m1 0h0m2 0h0m1 0h0m4 0h0m1 0h0m3 0h0m3 0h0m4 0h0m3 0h0m9 0h0m26 0h0m-430 1h0m4 0h0m12 0h0m1 0h0m8 0h0m2 0h0m2 0h0m8 0h0m6 0h0m1 0h0m2 0h0m1 0h0m1 0h0m8 0h0m5 0h0m42 0h0m233 0h0m8 0h0m7 0h0m4 0h0m5 0h0m3 0h0m3 0h0m1 0h0m1 0h0m3 0h0m2 0h0m5 0h0m1 0h0m4 0h0m11 0h0m7 0h0m6 0h0m21 0h0m-436 1h0m3 0h0m9 0h0m7 0h0m4 0h0m5 0h0m1 0h0m2 0h0m5 0h0m7 0h0m1 0h0m1 0h0m2 0h0m1 0h0m7 0h0m1 0h0m4 0h0m11 0h0m261 0h0m3 0h0m12 0h0m3 0h0m4 0h0m1 0h0m15 0h0m1 0h0m1 0h0m2 0h0m6 0h0m1 0h0m1 0h0m1 0h0m5 0h0m2 0h0m2 0h0m10 0h0m2 0h0m18 0h0m1 0h0m-446 1h0m7 0h0m21 0h0m7 0h0m4 0h0m1 0h0m1 0h0m1 0h0m1 0h0m3 0h0m3 0h0m5 0h0m1 0h0m1 0h0m2 0h0m2 0h0m5 0h0m5 0h0m2 0h0m4 0h0m1 0h0m4 0h0m3 0h0m6 0h0m1 0h0m268 0h0m16 0h0m7 0h0m3 0h0m1 0h0m3 0h0m3 0h0m4 0h0m1 0h0m1 0h0m2 0h0m1 0h0m2 0h0m2 0h0m1 0h0m1 0h0m1 0h0m4 0h0m2 0h0m7 0h0m5 0h0m2 0h0m19 0h0m31 0h0m8 0h0m-453 1h0m2 0h0m1 0h0m1 0h0m2 0h0m4 0h0m1 0h0m2 0h0m3 0h0m2 0h0m1 0h0m2 0h0m5 0h0m1 0h0m2 0h0m1 0h0m4 0h0m2 0h0m2 0h0m48 0h0m222 0h0m20 0h0m5 0h0m2 0h0m2 0h0m1 0h0m8 0h0m10 0h0m2 0h0m4 0h0m2 0h0m2 0h0m3 0h0m4 0h0m6 0h0m1 0h0m1 0h0m2 0h0m1 0h0m1 0h0m1 0h0m2 0h0m2 0h0m4 0h0m13 0h0m-414 1h0m15 0h0m4 0h0m3 0h0m5 0h0m2 0h0m3 0h0m1 0h0m1 0h0m1 0h0m2 0h0m1 0h0m4 0h0m7 0h0m3 0h0m8 0h0m7 0h0m6 0h0m2 0h0m272 0h0m7 0h0m1 0h0m1 0h0m2 0h0m1 0h0m4 0h0m1 0h0m1 0h0m1 0h0m5 0h0m2 0h0m1 0h0m1 0h0m1 0h0m5 0h0m2 0h0m2 0h0m2 0h0m1 0h0m1 0h0m5 0h0m3 0h0m3 0h0m5 0h0m10 0h0m1 0h0m13 0h0m-444 1h0m32 0h0m1 0h0m1 0h0m3 0h0m4 0h0m1 0h0m1 0h0m1 0h0m1 0h0m1 0h0m1 0h0m3 0h0m1 0h0m1 0h0m2 0h0m2 0h0m4 0h0m2 0h0m2 0h0m4 0h0m3 0h0m1 0h0m2 0h0m9 0h0m274 0h0m2 0h0m5 0h0m2 0h0m8 0h0m1 0h0m1 0h0m1 0h0m1 0h0m3 0h0m1 0h0m1 0h0m1 0h0m1 0h0m3 0h0m1 0h0m1 0h0m2 0h0m4 0h0m2 0h0m3 0h0m1 0h0m2 0h0m10 0h0m3 0h0m2 0h0m5 0h0m13 0h0m14 0h0m-427 1h0m8 0h0m2 0h0m1 0h0m6 0h0m2 0h0m4 0h0m1 0h0m1 0h0m2 0h0m1 0h0m3 0h0m5 0h0m1 0h0m1 0h0m1 0h0m1 0h0m3 0h0m3 0h0m4 0h0m4 0h0m1 0h0m8 0h0m21 0h0m253 0h0m8 0h0m5 0h0m4 0h0m2 0h0m1 0h0m2 0h0m3 0h0m3 0h0m1 0h0m3 0h0m3 0h0m1 0h0m1 0h0m4 0h0m1 0h0m2 0h0m6 0h0m11 0h0m37 0h0m-480 1h0m37 0h0m15 0h0m2 0h0m2 0h0m3 0h0m1 0h0m4 0h0m1 0h0m1 0h0m1 0h0m2 0h0m1 0h0m1 0h0m2 0h0m2 0h0m6 0h0m1 0h0m1 0h0m1 0h0m1 0h0m5 0h0m4 0h0m8 0h0m4 0h0m15 0h0m280 0h0m2 0h0m2 0h0m3 0h0m3 0h0m1 0h0m1 0h0m1 0h0m1 0h0m3 0h0m1 0h0m2 0h0m4 0h0m1 0h0m3 0h0m3 0h0m7 0h0m-387 1h0m1 0h0m1 0h0m5 0h0m2 0h0m2 0h0m1 0h0m2 0h0m3 0h0m1 0h0m1 0h0m3 0h0m1 0h0m1 0h0m1 0h0m10 0h0m2 0h0m3 0h0m14 0h0m4 0h0m240 0h0m32 0h0m3 0h0m3 0h0m8 0h0m4 0h0m1 0h0m5 0h0m4 0h0m2 0h0m1 0h0m3 0h0m2 0h0m5 0h0m1 0h0m4 0h0m6 0h0m1 0h0m2 0h0m31 0h0m5 0h0m13 0h0m-449 1h0m1 0h0m4 0h0m8 0h0m5 0h0m7 0h0m1 0h0m1 0h0m1 0h0m1 0h0m2 0h0m1 0h0m1 0h0m3 0h0m9 0h0m1 0h0m2 0h0m2 0h0m1 0h0m1 0h0m14 0h0m77 0h0m182 0h0m8 0h0m6 0h0m4 0h0m8 0h0m2 0h0m1 0h0m2 0h0m6 0h0m1 0h0m1 0h0m1 0h0m1 0h0m6 0h0m1 0h0m1 0h0m1 0h0m2 0h0m1 0h0m4 0h0m2 0h0m2 0h0m6 0h0m2 0h0m-385 1h0m2 0h0m2 0h0m2 0h0m4 0h0m5 0h0m1 0h0m3 0h0m1 0h0m1 0h0m2 0h0m1 0h0m1 0h0m2 0h0m3 0h0m1 0h0m8 0h0m3 0h0m1 0h0m292 0h0m1 0h0m9 0h0m2 0h0m5 0h0m1 0h0m1 0h0m3 0h0m5 0h0m2 0h0m1 0h0m1 0h0m3 0h0m1 0h0m1 0h0m2 0h0m1 0h0m2 0h0m1 0h0m1 0h0m1 0h0m14 0h0m2 0h0m13 0h0m-415 1h0m1 0h0m4 0h0m4 0h0m6 0h0m2 0h0m7 0h0m1 0h0m1 0h0m1 0h0m1 0h0m1 0h0m1 0h0m1 0h0m2 0h0m2 0h0m6 0h0m2 0h0m5 0h0m4 0h0m6 0h0m8 0h0m244 0h0m24 0h0m2 0h0m2 0h0m1 0h0m10 0h0m4 0h0m7 0h0m1 0h0m1 0h0m5 0h0m2 0h0m2 0h0m7 0h0m1 0h0m1 0h0m1 0h0m5 0h0m1 0h0m1 0h0m3 0h0m16 0h0m1 0h0m15 0h0m4 0h0m-429 1h0m18 0h0m2 0h0m4 0h0m2 0h0m4 0h0m2 0h0m2 0h0m6 0h0m1 0h0m1 0h0m3 0h0m3 0h0m2 0h0m3 0h0m1 0h0m23 0h0m255 0h0m5 0h0m3 0h0m4 0h0m2 0h0m10 0h0m1 0h0m6 0h0m1 0h0m5 0h0m3 0h0m3 0h0m2 0h0m5 0h0m1 0h0m1 0h0m4 0h0m2 0h0m9 0h0m10 0h0m-419 1h0m5 0h0m3 0h0m4 0h0m1 0h0m1 0h0m1 0h0m1 0h0m1 0h0m2 0h0m1 0h0m3 0h0m1 0h0m1 0h0m3 0h0m4 0h0m5 0h0m3 0h0m3 0h0m1 0h0m1 0h0m2 0h0m2 0h0m3 0h0m1 0h0m7 0h0m62 0h0m200 0h0m44 0h0m5 0h0m3 0h0m2 0h0m4 0h0m2 0h0m1 0h0m6 0h0m3 0h0m2 0h0m4 0h0m4 0h0m9 0h0m3 0h0m2 0h0m3 0h0m3 0h0m15 0h0m13 0h0m-443 1h0m3 0h0m10 0h0m1 0h0m4 0h0m3 0h0m1 0h0m5 0h0m1 0h0m1 0h0m2 0h0m1 0h0m4 0h0m2 0h0m1 0h0m1 0h0m1 0h0m3 0h0m3 0h0m3 0h0m17 0h0m9 0h0m4 0h0m260 0h0m1 0h0m11 0h0m10 0h0m10 0h0m1 0h0m1 0h0m1 0h0m1 0h0m5 0h0m2 0h0m2 0h0m11 0h0m3 0h0m1 0h0m1 0h0m9 0h0m48 0h0m-453 1h0m8 0h0m5 0h0m4 0h0m1 0h0m1 0h0m3 0h0m2 0h0m1 0h0m5 0h0m2 0h0m3 0h0m3 0h0m4 0h0m1 0h0m7 0h0m5 0h0m6 0h0m11 0h0m256 0h0m12 0h0m5 0h0m1 0h0m2 0h0m5 0h0m4 0h0m4 0h0m8 0h0m1 0h0m1 0h0m2 0h0m1 0h0m4 0h0m3 0h0m4 0h0m3 0h0m5 0h0m1 0h0m5 0h0m4 0h0m60 0h0m-475 1h0m9 0h0m11 0h0m2 0h0m4 0h0m1 0h0m2 0h0m2 0h0m1 0h0m2 0h0m2 0h0m2 0h0m4 0h0m2 0h0m1 0h0m1 0h0m1 0h0m1 0h0m10 0h0m12 0h0m1 0h0m20 0h0m60 0h0m162 0h0m13 0h0m25 0h0m1 0h0m1 0h0m1 0h0m3 0h0m6 0h0m13 0h0m2 0h0m2 0h0m2 0h0m1 0h0m1 0h0m4 0h0m2 0h0m1 0h0m4 0h0m1 0h0m2 0h0m3 0h0m4 0h0m1 0h0m3 0h0m3 0h0m6 0h0m28 0h0m-443 1h0m5 0h0m4 0h0m2 0h0m4 0h0m6 0h0m7 0h0m1 0h0m2 0h0m1 0h0m2 0h0m1 0h0m1 0h0m2 0h0m3 0h0m4 0h0m3 0h0m5 0h0m10 0h0m29 0h0m233 0h0m9 0h0m12 0h0m13 0h0m9 0h0m1 0h0m3 0h0m1 0h0m3 0h0m5 0h0m4 0h0m2 0h0m1 0h0m5 0h0m4 0h0m22 0h0m26 0h0m5 0h0m-461 1h0m15 0h0m2 0h0m8 0h0m3 0h0m1 0h0m1 0h0m1 0h0m3 0h0m1 0h0m7 0h0m1 0h0m11 0h0m3 0h0m2 0h0m4 0h0m1 0h0m8 0h0m2 0h0m6 0h0m274 0h0m8 0h0m13 0h0m6 0h0m1 0h0m6 0h0m2 0h0m2 0h0m5 0h0m3 0h0m2 0h0m1 0h0m8 0h0m1 0h0m5 0h0m-394 1h0m14 0h0m5 0h0m1 0h0m2 0h0m1 0h0m2 0h0m1 0h0m4 0h0m5 0h0m2 0h0m1 0h0m1 0h0m7 0h0m5 0h0m2 0h0m9 0h0m23 0h0m242 0h0m1 0h0m5 0h0m8 0h0m3 0h0m3 0h0m5 0h0m3 0h0m6 0h0m3 0h0m3 0h0m5 0h0m1 0h0m1 0h0m1 0h0m9 0h0m3 0h0m3 0h0m5 0h0m28 0h0m-429 1h0m5 0h0m3 0h0m7 0h0m6 0h0m8 0h0m2 0h0m1 0h0m1 0h0m4 0h0m9 0h0m3 0h0m2 0h0m4 0h0m1 0h0m2 0h0m9 0h0m16 0h0m6 0h0m245 0h0m17 0h0m1 0h0m4 0h0m1 0h0m1 0h0m6 0h0m1 0h0m3 0h0m1 0h0m7 0h0m3 0h0m7 0h0m8 0h0m16 0h0m-407 1h0m10 0h0m4 0h0m7 0h0m1 0h0m2 0h0m1 0h0m1 0h0m1 0h0m1 0h0m2 0h0m15 0h0m2 0h0m1 0h0m1 0h0m5 0h0m2 0h0m1 0h0m22 0h0m250 0h0m19 0h0m6 0h0m2 0h0m10 0h0m2 0h0m2 0h0m1 0h0m5 0h0m2 0h0m2 0h0m1 0h0m10 0h0m1 0h0m1 0h0m17 0h0m36 0h0m-453 1h0m9 0h0m3 0h0m4 0h0m3 0h0m3 0h0m3 0h0m1 0h0m3 0h0m1 0h0m1 0h0m3 0h0m4 0h0m2 0h0m18 0h0m2 0h0m1 0h0m6 0h0m62 0h0m213 0h0m3 0h0m10 0h0m6 0h0m1 0h0m10 0h0m7 0h0m11 0h0m2 0h0m1 0h0m1 0h0m24 0h0m-416 1h0m11 0h0m3 0h0m4 0h0m8 0h0m1 0h0m3 0h0m3 0h0m1 0h0m1 0h0m5 0h0m6 0h0m4 0h0m5 0h0m3 0h0m13 0h0m40 0h0m226 0h0m14 0h0m4 0h0m5 0h0m2 0h0m11 0h0m1 0h0m4 0h0m12 0h0m2 0h0m5 0h0m3 0h0m6 0h0m31 0h0m-426 1h0m2 0h0m12 0h0m1 0h0m1 0h0m9 0h0m1 0h0m2 0h0m2 0h0m1 0h0m2 0h0m2 0h0m2 0h0m3 0h0m291 0h0m6 0h0m6 0h0m2 0h0m7 0h0m6 0h0m5 0h0m3 0h0m4 0h0m1 0h0m2 0h0m2 0h0m4 0h0m7 0h0m2 0h0m8 0h0m2 0h0m1 0h0m-409 1h0m7 0h0m1 0h0m6 0h0m2 0h0m6 0h0m7 0h0m1 0h0m1 0h0m4 0h0m10 0h0m1 0h0m1 0h0m3 0h0m4 0h0m1 0h0m14 0h0m10 0h0m252 0h0m1 0h0m8 0h0m12 0h0m2 0h0m3 0h0m7 0h0m1 0h0m2 0h0m9 0h0m1 0h0m5 0h0m2 0h0m16 0h0m13 0h0m-429 1h0m21 0h0m11 0h0m2 0h0m2 0h0m5 0h0m1 0h0m4 0h0m3 0h0m1 0h0m3 0h0m6 0h0m3 0h0m1 0h0m10 0h0m17 0h0m13 0h0m266 0h0m2 0h0m11 0h0m1 0h0m1 0h0m1 0h0m3 0h0m1 0h0m2 0h0m2 0h0m6 0h0m3 0h0m10 0h0m4 0h0m42 0h0m-446 1h0m8 0h0m1 0h0m2 0h0m9 0h0m3 0h0m3 0h0m4 0h0m5 0h0m4 0h0m4 0h0m1 0h0m5 0h0m10 0h0m10 0h0m18 0h0m273 0h0m5 0h0m9 0h0m6 0h0m3 0h0m3 0h0m6 0h0m6 0h0m4 0h0m6 0h0m30 0h0m14 0h0m8 0h0m-471 1h0m16 0h0m3 0h0m5 0h0m1 0h0m3 0h0m10 0h0m6 0h0m2 0h0m4 0h0m3 0h0m3 0h0m13 0h0m299 0h0m9 0h0m8 0h0m8 0h0m3 0h0m1 0h0m1 0h0m3 0h0m16 0h0m23 0h0m-425 1h0m5 0h0m15 0h0m8 0h0m2 0h0m5 0h0m4 0h0m2 0h0m6 0h0m8 0h0m294 0h0m3 0h0m1 0h0m8 0h0m6 0h0m10 0h0m1 0h0m5 0h0m8 0h0m3 0h0m-391 1h0m6 0h0m1 0h0m1 0h0m3 0h0m6 0h0m7 0h0m3 0h0m5 0h0m6 0h0m4 0h0m1 0h0m18 0h0m25 0h0m266 0h0m1 0h0m5 0h0m1 0h0m2 0h0m8 0h0m1 0h0m4 0h0m3 0h0m1 0h0m2 0h0m5 0h0m2 0h0m1 0h0m2 0h0m2 0h0m-401 1h0m7 0h0m13 0h0m3 0h0m3 0h0m3 0h0m2 0h0m5 0h0m8 0h0m11 0h0m7 0h0m6 0h0m2 0h0m12 0h0m240 0h0m13 0h0m27 0h0m10 0h0m2 0h0m2 0h0m10 0h0m7 0h0m13 0h0m13 0h0m9 0h0m-435 1h0m18 0h0m2 0h0m7 0h0m7 0h0m3 0h0m3 0h0m3 0h0m5 0h0m8 0h0m1 0h0m3 0h0m10 0h0m19 0h0m1 0h0m273 0h0m1 0h0m10 0h0m6 0h0m6 0h0m4 0h0m6 0h0m1 0h0m10 0h0m1 0h0m35 0h0m-419 1h0m11 0h0m3 0h0m2 0h0m1 0h0m3 0h0m5 0h0m3 0h0m3 0h0m3 0h0m6 0h0m10 0h0m3 0h0m272 0h0m13 0h0m8 0h0m6 0h0m4 0h0m17 0h0m2 0h0m12 0h0m1 0h0m-410 1h0m9 0h0m12 0h0m13 0h0m1 0h0m1 0h0m2 0h0m4 0h0m1 0h0m3 0h0m1 0h0m14 0h0m1 0h0m7 0h0m3 0h0m65 0h0m220 0h0m4 0h0m1 0h0m3 0h0m4 0h0m2 0h0m11 0h0m6 0h0m4 0h0m3 0h0m1 0h0m5 0h0m25 0h0m-411 1h0m5 0h0m3 0h0m4 0h0m6 0h0m3 0h0m1 0h0m5 0h0m2 0h0m1 0h0m12 0h0m8 0h0m9 0h0m28 0h0m27 0h0m3 0h0m208 0h0m26 0h0m1 0h0m20 0h0m4 0h0m9 0h0m6 0h0m1 0h0m-408 1h0m4 0h0m11 0h0m4 0h0m29 0h0m8 0h0m1 0h0m275 0h0m22 0h0m25 0h0m6 0h0m11 0h0m21 0h0m6 0h0m-402 1h0m2 0h0m6 0h0m4 0h0m2 0h0m1 0h0m5 0h0m11 0h0m88 0h0m6 0h0m220 0h0m2 0h0m1 0h0m3 0h0m10 0h0m7 0h0m2 0h0m11 0h0m3 0h0m2 0h0m20 0h0m-408 1h0m3 0h0m12 0h0m2 0h0m5 0h0m4 0h0m1 0h0m8 0h0m6 0h0m6 0h0m1 0h0m6 0h0m5 0h0m7 0h0m2 0h0m303 0h0m4 0h0m2 0h0m1 0h0m-369 1h0m3 0h0m2 0h0m6 0h0m13 0h0m1 0h0m6 0h0m306 0h0m5 0h0m3 0h0m3 0h0m8 0h0m1 0h0m4 0h0m3 0h0m16 0h0m23 0h0m-416 1h0m12 0h0m1 0h0m14 0h0m5 0h0m2 0h0m9 0h0m9 0h0m9 0h0m6 0h0m69 0h0m203 0h0m12 0h0m6 0h0m2 0h0m1 0h0m1 0h0m20 0h0m1 0h0m17 0h0m-389 1h0m3 0h0m15 0h0m1 0h0m9 0h0m2 0h0m2 0h0m3 0h0m6 0h0m29 0h0m266 0h0m1 0h0m3 0h0m11 0h0m1 0h0m3 0h0m1 0h0m1 0h0m8 0h0m4 0h0m7 0h0m2 0h0m-379 1h0m2 0h0m5 0h0m2 0h0m3 0h0m3 0h0m9 0h0m300 0h0m10 0h0m5 0h0m13 0h0m3 0h0m6 0h0m4 0h0m8 0h0m2 0h0m7 0h0m-386 1h0m1 0h0m5 0h0m2 0h0m2 0h0m6 0h0m6 0h0m24 0h0m9 0h0m293 0h0m7 0h0m1 0h0m3 0h0m9 0h0m7 0h0m6 0h0m3 0h0m-396 1h0m8 0h0m18 0h0m30 0h0m279 0h0m8 0h0m8 0h0m9 0h0m10 0h0m9 0h0m2 0h0m7 0h0m6 0h0m10 0h0m40 0h0m-444 1h0m20 0h0m5 0h0m5 0h0m6 0h0m20 0h0m274 0h0m24 0h0m18 0h0m6 0h0m7 0h0m5 0h0m3 0h0m4 0h0m-384 1h0m7 0h0m12 0h0m8 0h0m4 0h0m1 0h0m2 0h0m9 0h0m291 0h0m18 0h0m3 0h0m11 0h0m1 0h0m5 0h0m2 0h0m6 0h0m11 0h0m-385 1h0m16 0h0m2 0h0m4 0h0m5 0h0m4 0h0m17 0h0m36 0h0m241 0h0m1 0h0m7 0h0m14 0h0m3 0h0m3 0h0m2 0h0m1 0h0m4 0h0m14 0h0m9 0h0m-394 1h0m4 0h0m6 0h0m10 0h0m3 0h0m8 0h0m1 0h0m1 0h0m1 0h0m1 0h0m4 0h0m4 0h0m5 0h0m293 0h0m9 0h0m6 0h0m6 0h0m9 0h0m6 0h0m1 0h0m-389 1h0m19 0h0m6 0h0m5 0h0m4 0h0m3 0h0m1 0h0m4 0h0m9 0h0m1 0h0m10 0h0m280 0h0m22 0h0m4 0h0m1 0h0m6 0h0m2 0h0m2 0h0m4 0h0m2 0h0m4 0h0m5 0h0m14 0h0m-439 1h0m55 0h0m1 0h0m7 0h0m1 0h0m6 0h0m6 0h0m1 0h0m17 0h0m258 0h0m38 0h0m24 0h0m7 0h0m10 0h0m-397 1h0m9 0h0m2 0h0m2 0h0m13 0h0m6 0h0m1 0h0m1 0h0m2 0h0m4 0h0m11 0h0m276 0h0m11 0h0m15 0h0m17 0h0m15 0h0m6 0h0m2 0h0m-390 1h0m6 0h0m4 0h0m12 0h0m1 0h0m4 0h0m13 0h0m6 0h0m3 0h0m3 0h0m10 0h0m8 0h0m290 0h0m6 0h0m1 0h0m4 0h0m8 0h0m2 0h0m1 0h0m4 0h0m15 0h0m-392 1h0m9 0h0m7 0h0m1 0h0m3 0h0m3 0h0m1 0h0m7 0h0m4 0h0m1 0h0m2 0h0m2 0h0m6 0h0m57 0h0m237 0h0m7 0h0m9 0h0m8 0h0m8 0h0m1 0h0m2 0h0m6 0h0m-379 1h0m10 0h0m4 0h0m11 0h0m4 0h0m3 0h0m278 0h0m29 0h0m7 0h0m6 0h0m1 0h0m3 0h0m5 0h0m14 0h0m-378 1h0m8 0h0m6 0h0m10 0h0m4 0h0m1 0h0m8 0h0m3 0h0m5 0h0m258 0h0m30 0h0m12 0h0m4 0h0m6 0h0m4 0h0m1 0h0m1 0h0m10 0h0m1 0h0m8 0h0m1 0h0m12 0h0m-393 1h0m8 0h0m7 0h0m17 0h0m8 0h0m332 0h0m7 0h0m4 0h0m-406 1h0m34 0h0m5 0h0m1 0h0m2 0h0m329 0h0m6 0h0m2 0h0m4 0h0m12 0h0m3 0h0m3 0h0m-370 1h0m2 0h0m9 0h0m10 0h0m8 0h0m14 0h0m299 0h0m3 0h0m4 0h0m2 0h0m4 0h0m7 0h0m6 0h0m8 0h0m-415 1h0m35 0h0m13 0h0m2 0h0m1 0h0m3 0h0m5 0h0m4 0h0m1 0h0m3 0h0m10 0h0m281 0h0m18 0h0m30 0h0m10 0h0m20 0h0m-457 1h0m52 0h0m9 0h0m6 0h0m3 0h0m2 0h0m2 0h0m4 0h0m6 0h0m1 0h0m8 0h0m4 0h0m3 0h0m295 0h0m18 0h0m19 0h0m-371 1h0m4 0h0m16 0h0m1 0h0m7 0h0m10 0h0m309 0h0m7 0h0m9 0h0m1 0h0m7 0h0m13 0h0m-383 1h0m2 0h0m4 0h0m1 0h0m7 0h0m30 0h0m266 0h0m18 0h0m44 0h0m6 0h0m-385 1h0m3 0h0m15 0h0m1 0h0m2 0h0m1 0h0m2 0h0m15 0h0m301 0h0m5 0h0m2 0h0m7 0h0m5 0h0m1 0h0m10 0h0m5 0h0m14 0h0m-395 1h0m2 0h0m10 0h0m6 0h0m12 0h0m315 0h0m10 0h0m3 0h0m6 0h0m11 0h0m3 0h0m28 0h0m10 0h0m-395 1h0m12 0h0m1 0h0m8 0h0m308 0h0m7 0h0m26 0h0m2 0h0m-362 1h0m1 0h0m7 0h0m3 0h0m2 0h0m320 0h0m2 0h0m6 0h0m1 0h0m7 0h0m5 0h0m24 0h0m-385 1h0m5 0h0m7 0h0m2 0h0m5 0h0m4 0h0m7 0h0m304 0h0m17 0h0m4 0h0m2 0h0m1 0h0m8 0h0m9 0h0m-397 1h0m35 0h0m1 0h0m341 0h0m2 0h0m11 0h0m-359 1h0m6 0h0m1 0h0m2 0h0m307 0h0m18 0h0m-338 1h0m7 0h0m5 0h0m2 0h0m328 0h0m1 0h0m15 0h0m2 0h0m-358 1h0m5 0h0m318 0h0m17 0h0m16 0h0m88 0h0m-448 1h0m12 0h0m4 0h0m18 0h0m6 0h0m300 0h0m21 0h0m-355 1h0m13 0h0m318 0h0m12 0h0m8 0h0m8 0h0m-371 1h0m21 0h0m5 0h0m7 0h0m60 0h0m241 0h0m17 0h0m18 0h0m7 0h0m-369 1h0m4 0h0m331 0h0m21 0h0m-357 1h0m90 0h0m241 0h0m17 0h0m8 0h0m7 0h0m4 0h0m-389 1h0m17 0h0m3 0h0m3 0h0m3 0h0m362 0h0m10 0h0m-382 1h0m14 0h0m25 0h0m339 0h0m5 0h0m-373 1h0m14 0h0m1 0h0m80 0h0m251 0h0m1 0h0m4 0h0m7 0h0m-376 1h0m17 0h0m5 0h0m10 0h0m299 0h0m21 0h0m8 0h0m13 0h0m-10 1h0m6 0h0m-367 1h0m19 0h0m8 0h0m318 0h0m3 0h0m73 0h0m-423 1h0m35 0h0m1 0h0m317 0h0m2 0h0m28 0h0m-342 1h0m-42 1h0m28 0h0m4 0h0m18 0h0m316 0h0m-347 1h0m4 0h0m340 0h0m-354 1h0m4 0h0m26 0h0m15 0h0m301 0h0m13 0h0m12 0h0m-21 1h0m11 0h0m8 0h0m-357 1h0m7 0h0m7 0h0m336 0h0m-1 1h0m-264 32h0m12 15h0m375 0h0m-375 8h0m-6 3h0m-20 2h0m25 0h0m353 7h0m-363 2h0m7 1h0m-2 1h0m-29 1h0m14 0h0m2 0h0m19 0h0m-12 2h0m3 0h0m21 0h0m1 0h0m-31 1h0m3 2h0m6 0h0m6 0h0m24 0h0m318 0h0m31 0h0m-414 1h0m11 1h0m26 0h0m3 0h0m16 0h0m-52 1h0m37 0h0m-10 1h0m7 0h0m9 0h0m336 0h0m9 0h0m-379 1h0m22 0h0m1 0h0m4 0h0m2 0h0m1 0h0m-138 1h0m133 0h0m-5 1h0m18 0h0m353 0h0m-390 1h0m17 0h0m11 0h0m8 0h0m334 0h0m32 0h0m-381 1h0m5 0h0m10 0h0m356 0h0m-44 1h0m30 0h0m-356 1h0m10 0h0m1 0h0m352 0h0m-368 1h0m8 0h0m5 0h0m337 1h0m-358 1h0m6 0h0m10 0h0m361 0h0m-373 1h0m2 0h0m7 0h0m-29 1h0m5 0h0m13 0h0m10 0h0m10 0h0m338 0h0m18 0h0m-387 1h0m34 0h0m2 0h0m345 0h0m-385 1h0m20 0h0m3 0h0m1 0h0m6 0h0m9 0h0m7 0h0m343 0h0m-381 1h0m4 0h0m6 0h0m1 0h0m348 0h0m1 0h0m9 0h0m6 0h0m13 0h0m7 0h0m-384 1h0m4 0h0m11 0h0m300 0h0m19 0h0m26 0h0m30 0h0m-410 1h0m10 0h0m3 0h0m3 0h0m3 0h0m2 0h0m28 0h0m4 0h0m324 0h0m22 0h0m10 0h0m-404 1h0m6 0h0m2 0h0m11 0h0m1 0h0m8 0h0m338 0h0m6 0h0m9 0h0m19 0h0m-413 1h0m24 0h0m8 0h0m4 0h0m1 0h0m2 0h0m18 0h0m334 0h0m-409 1h0m37 0h0m4 0h0m5 0h0m1 0h0m1 0h0m9 0h0m1 0h0m2 0h0m341 0h0m-364 1h0m5 0h0m11 0h0m8 0h0m6 0h0m1 0h0m337 0h0m12 0h0m11 0h0m-403 1h0m7 0h0m2 0h0m2 0h0m2 0h0m8 0h0m3 0h0m2 0h0m5 0h0m4 0h0m6 0h0m319 0h0m12 0h0m14 0h0m9 0h0m-406 1h0m4 0h0m16 0h0m5 0h0m3 0h0m7 0h0m2 0h0m3 0h0m8 0h0m6 0h0m7 0h0m283 0h0m11 0h0m1 0h0m3 0h0m26 0h0m-370 1h0m1 0h0m7 0h0m6 0h0m4 0h0m7 0h0m7 0h0m4 0h0m5 0h0m336 0h0m8 0h0m18 0h0m-408 1h0m12 0h0m1 0h0m1 0h0m2 0h0m2 0h0m4 0h0m6 0h0m2 0h0m8 0h0m2 0h0m331 0h0m10 0h0m16 0h0m-445 1h0m49 0h0m3 0h0m9 0h0m3 0h0m2 0h0m8 0h0m3 0h0m1 0h0m11 0h0m320 0h0m18 0h0m7 0h0m5 0h0m27 0h0m-412 1h0m21 0h0m5 0h0m6 0h0m1 0h0m1 0h0m344 0h0m12 0h0m-462 1h0m71 0h0m3 0h0m2 0h0m6 0h0m2 0h0m4 0h0m1 0h0m1 0h0m12 0h0m15 0h0m8 0h0m337 0h0m5 0h0m-431 1h0m36 0h0m1 0h0m7 0h0m10 0h0m1 0h0m3 0h0m3 0h0m2 0h0m1 0h0m329 0h0m1 0h0m6 0h0m8 0h0m1 0h0m8 0h0m-416 1h0m33 0h0m3 0h0m2 0h0m6 0h0m1 0h0m1 0h0m6 0h0m11 0h0m2 0h0m352 0h0m3 0h0m-390 1h0m18 0h0m1 0h0m3 0h0m1 0h0m1 0h0m1 0h0m1 0h0m2 0h0m1 0h0m1 0h0m3 0h0m12 0h0m349 0h0m-389 1h0m1 0h0m1 0h0m5 0h0m5 0h0m7 0h0m5 0h0m1 0h0m1 0h0m1 0h0m3 0h0m26 0h0m237 0h0m77 0h0m25 0h0m-388 1h0m2 0h0m4 0h0m5 0h0m3 0h0m5 0h0m1 0h0m2 0h0m331 0h0m7 0h0m10 0h0m6 0h0m7 0h0m-384 1h0m3 0h0m1 0h0m11 0h0m1 0h0m4 0h0m11 0h0m2 0h0m318 0h0m22 0h0m1 0h0m-390 1h0m2 0h0m11 0h0m2 0h0m1 0h0m3 0h0m3 0h0m6 0h0m2 0h0m1 0h0m1 0h0m9 0h0m10 0h0m9 0h0m270 0h0m42 0h0m37 0h0m-400 1h0m6 0h0m2 0h0m8 0h0m1 0h0m2 0h0m3 0h0m2 0h0m3 0h0m4 0h0m1 0h0m9 0h0m308 0h0m-348 1h0m12 0h0m1 0h0m1 0h0m2 0h0m1 0h0m23 0h0m322 0h0m16 0h0m5 0h0m11 0h0m1 0h0m-385 1h0m6 0h0m8 0h0m272 0h0m76 0h0m6 0h0m-432 1h0m64 0h0m4 0h0m5 0h0m1 0h0m12 0h0m288 0h0m6 0h0m34 0h0m18 0h0m16 0h0m-493 1h0m477 0h0m7 0h0m2 0h0m-450 1h0m23 0h0m33 0h0m20 0h0m2 0h0m1 0h0m10 0h0m3 0h0m4 0h0m14 0h0m262 0h0m22 0h0m19 0h0m15 0h0m3 0h0m2 0h0m6 0h0m-421 1h0m48 0h0m28 0h0m335 0h0m8 0h0m3 0h0m14 0h0m3 0h0m-403 1h0m28 0h0m7 0h0m18 0h0m304 0h0m1 0h0m21 0h0m7 0h0m16 0h0m-437 1h0m24 0h0m8 0h0m55 0h0m325 0h0m1 0h0m17 0h0m-421 1h0m12 0h0m26 0h0m11 0h0m323 0h0m40 0h0m5 0h0m5 0h0m9 0h0m-518 1h0m49 0h0m71 0h0m11 0h0m10 0h0m4 0h0m29 0h0m297 0h0m8 0h0m19 0h0m13 0h0m-415 1h0m13 0h0m13 0h0m7 0h0m13 0h0m247 0h0m44 0h0m48 0h0m18 0h0m3 0h0m22 0h0m-497 1h0m87 0h0m14 0h0m9 0h0m6 0h0m315 0h0m20 0h0m10 0h0m6 0h0m2 0h0m1 0h0m2 0h0m8 0h0m1 0h0m4 0h0m6 0h0m-440 1h0m48 0h0m1 0h0m27 0h0m265 0h0m46 0h0m11 0h0m14 0h0m11 0h0m10 0h0m-428 1h0m32 0h0m1 0h0m6 0h0m15 0h0m3 0h0m6 0h0m330 0h0m16 0h0m8 0h0m3 0h0m2 0h0m-462 1h0m40 0h0m13 0h0m1 0h0m27 0h0m13 0h0m2 0h0m298 0h0m-328 1h0m2 0h0m9 0h0m31 0h0m257 0h0m19 0h0m15 0h0m24 0h0m26 0h0m5 0h0m2 0h0m5 0h0m-406 1h0m23 0h0m1 0h0m5 0h0m24 0h0m12 0h0m272 0h0m43 0h0m1 0h0m1 0h0m3 0h0m6 0h0m3 0h0m7 0h0m3 0h0m-417 1h0m7 0h0m21 0h0m7 0h0m283 0h0m57 0h0m5 0h0m17 0h0m5 0h0m1 0h0m5 0h0m26 0h0m-482 1h0m20 0h0m11 0h0m10 0h0m6 0h0m5 0h0m15 0h0m21 0h0m11 0h0m293 0h0m48 0h0m6 0h0m13 0h0m10 0h0m9 0h0m-472 1h0m51 0h0m392 0h0m5 0h0m3 0h0m20 0h0m-435 1h0m20 0h0m6 0h0m18 0h0m275 0h0m32 0h0m5 0h0m41 0h0m16 0h0m4 0h0m3 0h0m8 0h0m-392 1h0m1 0h0m11 0h0m318 0h0m9 0h0m20 0h0m6 0h0m5 0h0m7 0h0m2 0h0m-438 1h0m5 0h0m11 0h0m55 0h0m1 0h0m19 0h0m258 0h0m31 0h0m33 0h0m8 0h0m9 0h0m12 0h0m-457 1h0m23 0h0m31 0h0m26 0h0m26 0h0m294 0h0m2 0h0m36 0h0m16 0h0m3 0h0m-467 1h0m9 0h0m25 0h0m10 0h0m15 0h0m19 0h0m13 0h0m20 0h0m239 0h0m59 0h0m5 0h0m18 0h0m5 0h0m12 0h0m4 0h0m19 0h0m-458 1h0m19 0h0m10 0h0m11 0h0m3 0h0m14 0h0m326 0h0m3 0h0m13 0h0m30 0h0m1 0h0m7 0h0m1 0h0m7 0h0m6 0h0m-428 1h0m1 0h0m41 0h0m307 0h0m16 0h0m46 0h0m2 0h0m1 0h0m20 0h0m-441 1h0m11 0h0m1 0h0m7 0h0m4 0h0m11 0h0m1 0h0m39 0h0m288 0h0m26 0h0m20 0h0m8 0h0m3 0h0m4 0h0m16 0h0m7 0h0m-470 1h0m20 0h0m7 0h0m2 0h0m3 0h0m11 0h0m4 0h0m1 0h0m1 0h0m12 0h0m30 0h0m22 0h0m305 0h0m13 0h0m2 0h0m4 0h0m21 0h0m8 0h0m-508 1h0m69 0h0m10 0h0m37 0h0m11 0h0m345 0h0m12 0h0m10 0h0m1 0h0m-428 1h0m3 0h0m9 0h0m3 0h0m363 0h0m15 0h0m7 0h0m13 0h0m6 0h0m1 0h0m11 0h0m2 0h0m7 0h0m2 0h0m-450 1h0m3 0h0m3 0h0m4 0h0m15 0h0m8 0h0m323 0h0m4 0h0m20 0h0m44 0h0m23 0h0m4 0h0m-450 1h0m5 0h0m12 0h0m5 0h0m7 0h0m1 0h0m3 0h0m6 0h0m305 0h0m9 0h0m33 0h0m3 0h0m14 0h0m15 0h0m4 0h0m20 0h0m3 0h0m15 0h0m-486 1h0m8 0h0m4 0h0m1 0h0m10 0h0m4 0h0m6 0h0m6 0h0m18 0h0m1 0h0m5 0h0m311 0h0m19 0h0m2 0h0m7 0h0m2 0h0m10 0h0m18 0h0m10 0h0m4 0h0m15 0h0m7 0h0m-445 1h0m2 0h0m1 0h0m6 0h0m15 0h0m9 0h0m26 0h0m287 0h0m26 0h0m8 0h0m21 0h0m4 0h0m1 0h0m3 0h0m7 0h0m49 0h0m-474 1h0m5 0h0m11 0h0m18 0h0m29 0h0m302 0h0m7 0h0m11 0h0m1 0h0m1 0h0m2 0h0m15 0h0m8 0h0m3 0h0m2 0h0m4 0h0m16 0h0m9 0h0m2 0h0m7 0h0m-474 1h0m17 0h0m14 0h0m2 0h0m6 0h0m3 0h0m13 0h0m8 0h0m3 0h0m314 0h0m20 0h0m1 0h0m3 0h0m2 0h0m9 0h0m3 0h0m3 0h0m24 0h0m5 0h0m15 0h0m3 0h0m4 0h0m11 0h0m-474 1h0m11 0h0m5 0h0m3 0h0m1 0h0m7 0h0m1 0h0m2 0h0m3 0h0m2 0h0m12 0h0m19 0h0m37 0h0m262 0h0m3 0h0m16 0h0m3 0h0m3 0h0m4 0h0m21 0h0m21 0h0m11 0h0m2 0h0m5 0h0m-446 1h0m18 0h0m11 0h0m18 0h0m28 0h0m284 0h0m7 0h0m11 0h0m3 0h0m1 0h0m5 0h0m21 0h0m18 0h0m7 0h0m1 0h0m11 0h0m-453 1h0m18 0h0m1 0h0m2 0h0m7 0h0m4 0h0m1 0h0m9 0h0m2 0h0m298 0h0m30 0h0m7 0h0m10 0h0m3 0h0m6 0h0m16 0h0m10 0h0m20 0h0m4 0h0m23 0h0m9 0h0m-472 1h0m10 0h0m5 0h0m16 0h0m4 0h0m7 0h0m317 0h0m9 0h0m9 0h0m4 0h0m4 0h0m8 0h0m13 0h0m6 0h0m7 0h0m26 0h0m15 0h0m-464 1h0m16 0h0m10 0h0m1 0h0m11 0h0m2 0h0m2 0h0m26 0h0m276 0h0m19 0h0m5 0h0m12 0h0m5 0h0m7 0h0m7 0h0m3 0h0m10 0h0m9 0h0m2 0h0m11 0h0m7 0h0m1 0h0m-434 1h0m10 0h0m2 0h0m13 0h0m5 0h0m1 0h0m2 0h0m6 0h0m1 0h0m4 0h0m1 0h0m1 0h0m43 0h0m264 0h0m1 0h0m8 0h0m10 0h0m1 0h0m21 0h0m25 0h0m11 0h0m9 0h0m1 0h0m9 0h0m-463 1h0m9 0h0m12 0h0m1 0h0m11 0h0m18 0h0m5 0h0m17 0h0m13 0h0m14 0h0m280 0h0m1 0h0m3 0h0m4 0h0m14 0h0m1 0h0m6 0h0m4 0h0m12 0h0m12 0h0m6 0h0m2 0h0m18 0h0m-467 1h0m12 0h0m25 0h0m9 0h0m1 0h0m5 0h0m1 0h0m5 0h0m10 0h0m5 0h0m11 0h0m289 0h0m13 0h0m6 0h0m1 0h0m1 0h0m2 0h0m5 0h0m10 0h0m5 0h0m4 0h0m3 0h0m7 0h0m17 0h0m3 0h0m1 0h0m8 0h0m11 0h0m-484 1h0m2 0h0m32 0h0m3 0h0m3 0h0m1 0h0m4 0h0m14 0h0m1 0h0m1 0h0m1 0h0m1 0h0m5 0h0m7 0h0m38 0h0m12 0h0m260 0h0m4 0h0m2 0h0m12 0h0m6 0h0m8 0h0m6 0h0m9 0h0m2 0h0m3 0h0m11 0h0m52 0h0m-470 1h0m7 0h0m7 0h0m15 0h0m14 0h0m327 0h0m14 0h0m10 0h0m1 0h0m5 0h0m4 0h0m39 0h0m5 0h0m5 0h0m-473 1h0m22 0h0m2 0h0m14 0h0m2 0h0m2 0h0m6 0h0m3 0h0m2 0h0m5 0h0m41 0h0m272 0h0m12 0h0m6 0h0m13 0h0m1 0h0m3 0h0m2 0h0m27 0h0m1 0h0m14 0h0m11 0h0m4 0h0m19 0h0m1 0h0m-461 1h0m2 0h0m7 0h0m7 0h0m4 0h0m2 0h0m3 0h0m4 0h0m10 0h0m2 0h0m7 0h0m296 0h0m3 0h0m20 0h0m1 0h0m1 0h0m1 0h0m2 0h0m2 0h0m13 0h0m11 0h0m11 0h0m3 0h0m12 0h0m19 0h0m5 0h0m-457 1h0m18 0h0m23 0h0m6 0h0m10 0h0m3 0h0m267 0h0m35 0h0m2 0h0m15 0h0m14 0h0m8 0h0m16 0h0m8 0h0m-418 1h0m1 0h0m5 0h0m14 0h0m4 0h0m2 0h0m3 0h0m18 0h0m5 0h0m3 0h0m5 0h0m293 0h0m13 0h0m4 0h0m7 0h0m6 0h0m2 0h0m1 0h0m9 0h0m14 0h0m11 0h0m7 0h0m3 0h0m3 0h0m-461 1h0m12 0h0m3 0h0m1 0h0m4 0h0m4 0h0m11 0h0m2 0h0m2 0h0m1 0h0m6 0h0m1 0h0m4 0h0m1 0h0m3 0h0m1 0h0m11 0h0m11 0h0m1 0h0m47 0h0m257 0h0m31 0h0m13 0h0m1 0h0m9 0h0m7 0h0m1 0h0m9 0h0m4 0h0m12 0h0m-437 1h0m1 0h0m18 0h0m1 0h0m1 0h0m3 0h0m3 0h0m5 0h0m3 0h0m3 0h0m1 0h0m23 0h0m289 0h0m12 0h0m5 0h0m12 0h0m5 0h0m38 0h0m2 0h0m25 0h0m-469 1h0m8 0h0m3 0h0m1 0h0m7 0h0m9 0h0m1 0h0m7 0h0m1 0h0m1 0h0m1 0h0m22 0h0m3 0h0m6 0h0m22 0h0m275 0h0m8 0h0m1 0h0m8 0h0m1 0h0m10 0h0m4 0h0m3 0h0m3 0h0m3 0h0m2 0h0m26 0h0m2 0h0m5 0h0m4 0h0m5 0h0m2 0h0m16 0h0m16 0h0m-490 1h0m6 0h0m7 0h0m7 0h0m1 0h0m10 0h0m3 0h0m5 0h0m2 0h0m8 0h0m1 0h0m1 0h0m3 0h0m9 0h0m2 0h0m17 0h0m2 0h0m5 0h0m272 0h0m6 0h0m8 0h0m10 0h0m1 0h0m3 0h0m1 0h0m6 0h0m3 0h0m9 0h0m4 0h0m5 0h0m4 0h0m2 0h0m9 0h0m1 0h0m4 0h0m2 0h0m10 0h0m-451 1h0m6 0h0m2 0h0m9 0h0m6 0h0m8 0h0m6 0h0m1 0h0m3 0h0m1 0h0m3 0h0m3 0h0m12 0h0m17 0h0m1 0h0m48 0h0m212 0h0m34 0h0m2 0h0m3 0h0m7 0h0m13 0h0m9 0h0m4 0h0m7 0h0m7 0h0m6 0h0m6 0h0m14 0h0m2 0h0m10 0h0m-451 1h0m18 0h0m2 0h0m1 0h0m9 0h0m5 0h0m9 0h0m9 0h0m9 0h0m2 0h0m23 0h0m25 0h0m250 0h0m2 0h0m5 0h0m11 0h0m2 0h0m3 0h0m10 0h0m3 0h0m4 0h0m6 0h0m2 0h0m9 0h0m6 0h0m5 0h0m-429 1h0m1 0h0m7 0h0m1 0h0m1 0h0m7 0h0m3 0h0m4 0h0m9 0h0m5 0h0m1 0h0m2 0h0m8 0h0m12 0h0m5 0h0m35 0h0m252 0h0m5 0h0m5 0h0m4 0h0m3 0h0m3 0h0m9 0h0m2 0h0m1 0h0m1 0h0m1 0h0m1 0h0m1 0h0m1 0h0m1 0h0m2 0h0m1 0h0m13 0h0m1 0h0m9 0h0m8 0h0m12 0h0m7 0h0m4 0h0m7 0h0m-452 1h0m3 0h0m7 0h0m3 0h0m4 0h0m2 0h0m4 0h0m3 0h0m2 0h0m1 0h0m3 0h0m2 0h0m11 0h0m1 0h0m31 0h0m280 0h0m26 0h0m6 0h0m1 0h0m2 0h0m4 0h0m5 0h0m13 0h0m2 0h0m6 0h0m8 0h0m-438 1h0m1 0h0m13 0h0m3 0h0m1 0h0m8 0h0m3 0h0m5 0h0m9 0h0m5 0h0m1 0h0m1 0h0m1 0h0m34 0h0m260 0h0m13 0h0m6 0h0m1 0h0m1 0h0m6 0h0m5 0h0m2 0h0m6 0h0m1 0h0m5 0h0m3 0h0m2 0h0m1 0h0m3 0h0m3 0h0m2 0h0m5 0h0m23 0h0m3 0h0m-469 1h0m29 0h0m6 0h0m4 0h0m3 0h0m11 0h0m1 0h0m6 0h0m2 0h0m6 0h0m5 0h0m5 0h0m5 0h0m5 0h0m16 0h0m289 0h0m8 0h0m1 0h0m1 0h0m7 0h0m12 0h0m1 0h0m2 0h0m2 0h0m8 0h0m13 0h0m23 0h0m6 0h0m20 0h0m-468 1h0m7 0h0m12 0h0m4 0h0m1 0h0m1 0h0m1 0h0m1 0h0m1 0h0m1 0h0m4 0h0m11 0h0m1 0h0m12 0h0m11 0h0m11 0h0m3 0h0m11 0h0m225 0h0m67 0h0m5 0h0m4 0h0m1 0h0m3 0h0m10 0h0m10 0h0m2 0h0m2 0h0m29 0h0m-460 1h0m2 0h0m18 0h0m4 0h0m9 0h0m2 0h0m1 0h0m4 0h0m2 0h0m1 0h0m1 0h0m7 0h0m2 0h0m2 0h0m1 0h0m10 0h0m1 0h0m56 0h0m231 0h0m3 0h0m21 0h0m22 0h0m6 0h0m1 0h0m3 0h0m3 0h0m1 0h0m8 0h0m5 0h0m1 0h0m5 0h0m4 0h0m44 0h0m18 0h0m-500 1h0m17 0h0m4 0h0m1 0h0m10 0h0m2 0h0m2 0h0m2 0h0m2 0h0m3 0h0m2 0h0m3 0h0m4 0h0m1 0h0m5 0h0m10 0h0m2 0h0m23 0h0m279 0h0m2 0h0m4 0h0m8 0h0m4 0h0m1 0h0m4 0h0m1 0h0m8 0h0m6 0h0m1 0h0m5 0h0m2 0h0m7 0h0m3 0h0m6 0h0m27 0h0m-482 1h0m40 0h0m4 0h0m3 0h0m3 0h0m1 0h0m5 0h0m1 0h0m3 0h0m6 0h0m3 0h0m2 0h0m2 0h0m1 0h0m5 0h0m5 0h0m316 0h0m1 0h0m10 0h0m3 0h0m3 0h0m8 0h0m1 0h0m3 0h0m3 0h0m4 0h0m2 0h0m2 0h0m3 0h0m23 0h0m-439 1h0m7 0h0m7 0h0m3 0h0m10 0h0m8 0h0m1 0h0m2 0h0m1 0h0m1 0h0m3 0h0m1 0h0m2 0h0m1 0h0m2 0h0m4 0h0m1 0h0m10 0h0m1 0h0m12 0h0m11 0h0m36 0h0m251 0h0m4 0h0m3 0h0m3 0h0m6 0h0m2 0h0m3 0h0m1 0h0m3 0h0m9 0h0m10 0h0m5 0h0m10 0h0m31 0h0m20 0h0m-508 1h0m26 0h0m6 0h0m1 0h0m6 0h0m3 0h0m1 0h0m1 0h0m5 0h0m1 0h0m1 0h0m2 0h0m2 0h0m5 0h0m1 0h0m1 0h0m1 0h0m3 0h0m4 0h0m1 0h0m5 0h0m7 0h0m2 0h0m10 0h0m3 0h0m276 0h0m31 0h0m1 0h0m1 0h0m3 0h0m2 0h0m9 0h0m1 0h0m3 0h0m5 0h0m6 0h0m6 0h0m4 0h0m10 0h0m6 0h0m7 0h0m12 0h0m5 0h0m1 0h0m-459 1h0m1 0h0m4 0h0m2 0h0m7 0h0m1 0h0m5 0h0m4 0h0m5 0h0m1 0h0m2 0h0m5 0h0m1 0h0m1 0h0m1 0h0m1 0h0m1 0h0m2 0h0m6 0h0m6 0h0m6 0h0m6 0h0m271 0h0m19 0h0m1 0h0m5 0h0m10 0h0m4 0h0m1 0h0m2 0h0m1 0h0m4 0h0m1 0h0m4 0h0m3 0h0m5 0h0m3 0h0m-420 1h0m10 0h0m1 0h0m9 0h0m9 0h0m1 0h0m1 0h0m3 0h0m3 0h0m1 0h0m1 0h0m5 0h0m1 0h0m3 0h0m4 0h0m1 0h0m3 0h0m1 0h0m4 0h0m2 0h0m6 0h0m11 0h0m14 0h0m282 0h0m6 0h0m7 0h0m4 0h0m2 0h0m8 0h0m2 0h0m1 0h0m7 0h0m2 0h0m1 0h0m3 0h0m1 0h0m6 0h0m2 0h0m24 0h0m9 0h0m8 0h0m4 0h0m-455 1h0m6 0h0m2 0h0m1 0h0m5 0h0m8 0h0m2 0h0m1 0h0m4 0h0m1 0h0m1 0h0m1 0h0m2 0h0m2 0h0m1 0h0m2 0h0m1 0h0m1 0h0m12 0h0m1 0h0m2 0h0m6 0h0m14 0h0m7 0h0m293 0h0m1 0h0m2 0h0m2 0h0m1 0h0m4 0h0m1 0h0m1 0h0m3 0h0m1 0h0m1 0h0m1 0h0m5 0h0m2 0h0m1 0h0m8 0h0m3 0h0m7 0h0m11 0h0m8 0h0m4 0h0m10 0h0m4 0h0m-469 1h0m19 0h0m5 0h0m2 0h0m4 0h0m1 0h0m2 0h0m5 0h0m9 0h0m4 0h0m8 0h0m2 0h0m5 0h0m3 0h0m1 0h0m20 0h0m280 0h0m8 0h0m5 0h0m6 0h0m7 0h0m5 0h0m2 0h0m2 0h0m2 0h0m1 0h0m2 0h0m4 0h0m1 0h0m4 0h0m1 0h0m1 0h0m2 0h0m3 0h0m6 0h0m8 0h0m5 0h0m-430 1h0m17 0h0m5 0h0m2 0h0m3 0h0m1 0h0m1 0h0m1 0h0m7 0h0m1 0h0m12 0h0m2 0h0m3 0h0m3 0h0m9 0h0m21 0h0m261 0h0m5 0h0m5 0h0m2 0h0m7 0h0m2 0h0m5 0h0m4 0h0m6 0h0m1 0h0m2 0h0m3 0h0m7 0h0m7 0h0m1 0h0m1 0h0m2 0h0m2 0h0m1 0h0m8 0h0m-442 1h0m2 0h0m17 0h0m13 0h0m2 0h0m1 0h0m3 0h0m2 0h0m5 0h0m1 0h0m2 0h0m1 0h0m2 0h0m1 0h0m1 0h0m2 0h0m5 0h0m1 0h0m2 0h0m1 0h0m2 0h0m43 0h0m258 0h0m8 0h0m4 0h0m7 0h0m3 0h0m3 0h0m1 0h0m3 0h0m1 0h0m2 0h0m6 0h0m2 0h0m1 0h0m3 0h0m2 0h0m1 0h0m10 0h0m2 0h0m2 0h0m2 0h0m1 0h0m1 0h0m3 0h0m1 0h0m9 0h0m7 0h0m18 0h0m5 0h0m-456 1h0m1 0h0m3 0h0m6 0h0m1 0h0m1 0h0m6 0h0m1 0h0m3 0h0m2 0h0m2 0h0m1 0h0m3 0h0m1 0h0m1 0h0m1 0h0m2 0h0m2 0h0m5 0h0m2 0h0m7 0h0m3 0h0m29 0h0m19 0h0m248 0h0m15 0h0m4 0h0m1 0h0m3 0h0m5 0h0m2 0h0m2 0h0m3 0h0m6 0h0m2 0h0m1 0h0m1 0h0m2 0h0m5 0h0m4 0h0m2 0h0m24 0h0m11 0h0m15 0h0m-465 1h0m2 0h0m6 0h0m2 0h0m5 0h0m2 0h0m2 0h0m2 0h0m2 0h0m3 0h0m7 0h0m2 0h0m1 0h0m2 0h0m1 0h0m1 0h0m1 0h0m1 0h0m1 0h0m3 0h0m3 0h0m1 0h0m3 0h0m2 0h0m4 0h0m14 0h0m2 0h0m2 0h0m13 0h0m262 0h0m17 0h0m6 0h0m1 0h0m5 0h0m1 0h0m3 0h0m3 0h0m6 0h0m1 0h0m2 0h0m1 0h0m1 0h0m4 0h0m1 0h0m6 0h0m5 0h0m3 0h0m2 0h0m4 0h0m17 0h0m1 0h0m2 0h0m2 0h0m2 0h0m2 0h0m-448 1h0m3 0h0m7 0h0m3 0h0m11 0h0m1 0h0m2 0h0m1 0h0m3 0h0m5 0h0m4 0h0m1 0h0m4 0h0m13 0h0m16 0h0m20 0h0m274 0h0m7 0h0m1 0h0m1 0h0m2 0h0m2 0h0m1 0h0m1 0h0m3 0h0m1 0h0m1 0h0m3 0h0m1 0h0m5 0h0m1 0h0m1 0h0m4 0h0m1 0h0m1 0h0m6 0h0m1 0h0m4 0h0m4 0h0m7 0h0m4 0h0m5 0h0m-435 1h0m7 0h0m6 0h0m1 0h0m1 0h0m1 0h0m3 0h0m2 0h0m3 0h0m2 0h0m2 0h0m2 0h0m2 0h0m2 0h0m1 0h0m1 0h0m1 0h0m1 0h0m3 0h0m3 0h0m2 0h0m4 0h0m3 0h0m1 0h0m1 0h0m3 0h0m1 0h0m4 0h0m5 0h0m4 0h0m7 0h0m43 0h0m240 0h0m8 0h0m1 0h0m4 0h0m8 0h0m7 0h0m7 0h0m1 0h0m2 0h0m3 0h0m1 0h0m1 0h0m1 0h0m15 0h0m6 0h0m6 0h0m17 0h0m-439 1h0m10 0h0m1 0h0m3 0h0m2 0h0m1 0h0m3 0h0m2 0h0m1 0h0m1 0h0m20 0h0m5 0h0m11 0h0m1 0h0m1 0h0m5 0h0m280 0h0m3 0h0m4 0h0m2 0h0m12 0h0m7 0h0m1 0h0m2 0h0m1 0h0m1 0h0m1 0h0m5 0h0m6 0h0m2 0h0m1 0h0m1 0h0m2 0h0m4 0h0m1 0h0m1 0h0m1 0h0m9 0h0m2 0h0m5 0h0m5 0h0m7 0h0m5 0h0m-465 1h0m5 0h0m9 0h0m12 0h0m3 0h0m10 0h0m2 0h0m6 0h0m3 0h0m1 0h0m3 0h0m2 0h0m4 0h0m5 0h0m3 0h0m1 0h0m6 0h0m3 0h0m16 0h0m280 0h0m3 0h0m9 0h0m6 0h0m7 0h0m3 0h0m1 0h0m1 0h0m1 0h0m4 0h0m1 0h0m3 0h0m2 0h0m1 0h0m1 0h0m7 0h0m6 0h0m2 0h0m-411 1h0m4 0h0m4 0h0m1 0h0m2 0h0m7 0h0m2 0h0m2 0h0m1 0h0m7 0h0m1 0h0m1 0h0m1 0h0m2 0h0m4 0h0m2 0h0m2 0h0m1 0h0m10 0h0m5 0h0m285 0h0m9 0h0m4 0h0m1 0h0m4 0h0m10 0h0m1 0h0m1 0h0m5 0h0m7 0h0m3 0h0m4 0h0m9 0h0m6 0h0m1 0h0m6 0h0m28 0h0m8 0h0m-445 1h0m7 0h0m5 0h0m2 0h0m3 0h0m9 0h0m1 0h0m1 0h0m3 0h0m5 0h0m2 0h0m2 0h0m1 0h0m2 0h0m1 0h0m5 0h0m3 0h0m2 0h0m4 0h0m3 0h0m11 0h0m280 0h0m12 0h0m3 0h0m3 0h0m3 0h0m1 0h0m1 0h0m3 0h0m5 0h0m1 0h0m5 0h0m1 0h0m2 0h0m1 0h0m3 0h0m2 0h0m1 0h0m1 0h0m12 0h0m2 0h0m3 0h0m6 0h0m5 0h0m1 0h0m20 0h0m-482 1h0m28 0h0m8 0h0m2 0h0m2 0h0m3 0h0m1 0h0m7 0h0m2 0h0m3 0h0m1 0h0m1 0h0m1 0h0m2 0h0m3 0h0m1 0h0m2 0h0m1 0h0m2 0h0m8 0h0m1 0h0m5 0h0m6 0h0m7 0h0m26 0h0m264 0h0m2 0h0m3 0h0m5 0h0m1 0h0m1 0h0m5 0h0m9 0h0m4 0h0m4 0h0m7 0h0m8 0h0m11 0h0m9 0h0m18 0h0m-446 1h0m6 0h0m1 0h0m5 0h0m1 0h0m3 0h0m1 0h0m1 0h0m2 0h0m1 0h0m1 0h0m4 0h0m7 0h0m1 0h0m2 0h0m1 0h0m3 0h0m6 0h0m5 0h0m3 0h0m7 0h0m5 0h0m255 0h0m30 0h0m2 0h0m11 0h0m3 0h0m2 0h0m4 0h0m1 0h0m5 0h0m5 0h0m1 0h0m1 0h0m3 0h0m5 0h0m2 0h0m3 0h0m1 0h0m1 0h0m3 0h0m2 0h0m9 0h0m4 0h0m8 0h0m13 0h0m29 0h0m-480 1h0m4 0h0m1 0h0m3 0h0m1 0h0m11 0h0m2 0h0m4 0h0m4 0h0m1 0h0m4 0h0m1 0h0m1 0h0m1 0h0m1 0h0m1 0h0m4 0h0m6 0h0m3 0h0m1 0h0m6 0h0m10 0h0m8 0h0m6 0h0m259 0h0m25 0h0m7 0h0m4 0h0m1 0h0m2 0h0m1 0h0m5 0h0m1 0h0m1 0h0m5 0h0m5 0h0m1 0h0m3 0h0m2 0h0m2 0h0m2 0h0m4 0h0m1 0h0m7 0h0m6 0h0m1 0h0m8 0h0m4 0h0m-425 1h0m1 0h0m1 0h0m2 0h0m5 0h0m3 0h0m4 0h0m2 0h0m1 0h0m4 0h0m11 0h0m4 0h0m6 0h0m1 0h0m8 0h0m283 0h0m17 0h0m1 0h0m3 0h0m8 0h0m4 0h0m4 0h0m1 0h0m1 0h0m5 0h0m1 0h0m1 0h0m1 0h0m1 0h0m2 0h0m1 0h0m2 0h0m2 0h0m1 0h0m3 0h0m2 0h0m10 0h0m1 0h0m1 0h0m3 0h0m7 0h0m11 0h0m5 0h0m23 0h0m-457 1h0m5 0h0m1 0h0m3 0h0m4 0h0m3 0h0m1 0h0m1 0h0m2 0h0m2 0h0m1 0h0m1 0h0m1 0h0m1 0h0m7 0h0m5 0h0m3 0h0m1 0h0m2 0h0m7 0h0m8 0h0m286 0h0m4 0h0m5 0h0m4 0h0m4 0h0m1 0h0m3 0h0m3 0h0m3 0h0m6 0h0m2 0h0m1 0h0m3 0h0m2 0h0m1 0h0m9 0h0m17 0h0m36 0h0m-462 1h0m1 0h0m8 0h0m3 0h0m4 0h0m2 0h0m5 0h0m1 0h0m1 0h0m2 0h0m2 0h0m3 0h0m4 0h0m2 0h0m1 0h0m1 0h0m5 0h0m3 0h0m2 0h0m5 0h0m2 0h0m9 0h0m25 0h0m266 0h0m22 0h0m2 0h0m3 0h0m9 0h0m5 0h0m1 0h0m2 0h0m2 0h0m1 0h0m2 0h0m1 0h0m8 0h0m1 0h0m3 0h0m1 0h0m4 0h0m1 0h0m11 0h0m3 0h0m19 0h0m9 0h0m-469 1h0m4 0h0m14 0h0m1 0h0m5 0h0m2 0h0m1 0h0m1 0h0m5 0h0m4 0h0m1 0h0m1 0h0m1 0h0m1 0h0m1 0h0m1 0h0m1 0h0m1 0h0m1 0h0m3 0h0m2 0h0m4 0h0m14 0h0m5 0h0m276 0h0m9 0h0m10 0h0m5 0h0m2 0h0m2 0h0m2 0h0m1 0h0m1 0h0m7 0h0m2 0h0m3 0h0m1 0h0m1 0h0m1 0h0m1 0h0m2 0h0m2 0h0m1 0h0m5 0h0m3 0h0m2 0h0m2 0h0m1 0h0m8 0h0m1 0h0m1 0h0m2 0h0m4 0h0m19 0h0m-450 1h0m3 0h0m8 0h0m9 0h0m1 0h0m1 0h0m1 0h0m2 0h0m2 0h0m1 0h0m1 0h0m2 0h0m2 0h0m1 0h0m4 0h0m1 0h0m3 0h0m1 0h0m2 0h0m1 0h0m1 0h0m3 0h0m16 0h0m28 0h0m281 0h0m7 0h0m2 0h0m1 0h0m1 0h0m1 0h0m3 0h0m1 0h0m1 0h0m2 0h0m1 0h0m6 0h0m1 0h0m2 0h0m7 0h0m1 0h0m12 0h0m13 0h0m-446 1h0m10 0h0m1 0h0m4 0h0m5 0h0m3 0h0m1 0h0m3 0h0m2 0h0m2 0h0m15 0h0m5 0h0m1 0h0m3 0h0m2 0h0m1 0h0m1 0h0m2 0h0m2 0h0m3 0h0m5 0h0m3 0h0m9 0h0m4 0h0m253 0h0m16 0h0m10 0h0m15 0h0m3 0h0m3 0h0m1 0h0m2 0h0m2 0h0m1 0h0m1 0h0m2 0h0m1 0h0m2 0h0m2 0h0m3 0h0m2 0h0m1 0h0m3 0h0m3 0h0m1 0h0m4 0h0m3 0h0m5 0h0m14 0h0m5 0h0m11 0h0m9 0h0m5 0h0m1 0h0m-481 1h0m20 0h0m6 0h0m6 0h0m2 0h0m4 0h0m1 0h0m1 0h0m4 0h0m3 0h0m4 0h0m2 0h0m2 0h0m2 0h0m1 0h0m1 0h0m3 0h0m1 0h0m3 0h0m2 0h0m2 0h0m3 0h0m30 0h0m29 0h0m249 0h0m12 0h0m2 0h0m9 0h0m1 0h0m1 0h0m1 0h0m1 0h0m1 0h0m2 0h0m3 0h0m1 0h0m1 0h0m1 0h0m1 0h0m1 0h0m2 0h0m5 0h0m3 0h0m7 0h0m1 0h0m3 0h0m1 0h0m1 0h0m11 0h0m7 0h0m5 0h0m3 0h0m-481 1h0m40 0h0m11 0h0m6 0h0m2 0h0m3 0h0m1 0h0m2 0h0m1 0h0m3 0h0m1 0h0m2 0h0m2 0h0m2 0h0m1 0h0m9 0h0m1 0h0m5 0h0m1 0h0m3 0h0m2 0h0m286 0h0m7 0h0m4 0h0m1 0h0m6 0h0m5 0h0m3 0h0m3 0h0m1 0h0m2 0h0m1 0h0m3 0h0m1 0h0m2 0h0m1 0h0m1 0h0m1 0h0m2 0h0m1 0h0m1 0h0m1 0h0m1 0h0m4 0h0m2 0h0m1 0h0m5 0h0m4 0h0m1 0h0m5 0h0m6 0h0m6 0h0m-429 1h0m2 0h0m13 0h0m2 0h0m4 0h0m1 0h0m2 0h0m1 0h0m3 0h0m3 0h0m2 0h0m6 0h0m2 0h0m1 0h0m1 0h0m3 0h0m2 0h0m1 0h0m9 0h0m2 0h0m5 0h0m5 0h0m270 0h0m15 0h0m10 0h0m12 0h0m2 0h0m2 0h0m2 0h0m3 0h0m1 0h0m1 0h0m1 0h0m2 0h0m1 0h0m6 0h0m1 0h0m2 0h0m5 0h0m4 0h0m1 0h0m4 0h0m11 0h0m2 0h0m8 0h0m1 0h0m-440 1h0m4 0h0m13 0h0m3 0h0m1 0h0m1 0h0m4 0h0m2 0h0m2 0h0m2 0h0m1 0h0m4 0h0m4 0h0m1 0h0m1 0h0m5 0h0m10 0h0m5 0h0m45 0h0m246 0h0m15 0h0m1 0h0m1 0h0m2 0h0m1 0h0m5 0h0m11 0h0m1 0h0m3 0h0m6 0h0m2 0h0m2 0h0m1 0h0m3 0h0m1 0h0m1 0h0m2 0h0m2 0h0m2 0h0m3 0h0m10 0h0m6 0h0m11 0h0m-475 1h0m26 0h0m5 0h0m2 0h0m7 0h0m10 0h0m3 0h0m6 0h0m2 0h0m1 0h0m1 0h0m1 0h0m1 0h0m2 0h0m3 0h0m5 0h0m1 0h0m1 0h0m1 0h0m12 0h0m1 0h0m1 0h0m15 0h0m11 0h0m274 0h0m10 0h0m1 0h0m5 0h0m5 0h0m5 0h0m3 0h0m2 0h0m1 0h0m1 0h0m7 0h0m4 0h0m15 0h0m5 0h0m2 0h0m-439 1h0m2 0h0m18 0h0m13 0h0m1 0h0m2 0h0m2 0h0m1 0h0m3 0h0m1 0h0m1 0h0m4 0h0m1 0h0m1 0h0m1 0h0m2 0h0m17 0h0m1 0h0m12 0h0m265 0h0m9 0h0m4 0h0m22 0h0m2 0h0m7 0h0m2 0h0m1 0h0m1 0h0m3 0h0m4 0h0m1 0h0m3 0h0m3 0h0m1 0h0m6 0h0m3 0h0m3 0h0m17 0h0m1 0h0m-431 1h0m7 0h0m3 0h0m4 0h0m10 0h0m3 0h0m1 0h0m6 0h0m6 0h0m1 0h0m2 0h0m2 0h0m1 0h0m4 0h0m5 0h0m7 0h0m16 0h0m71 0h0m209 0h0m11 0h0m2 0h0m5 0h0m6 0h0m1 0h0m1 0h0m1 0h0m4 0h0m1 0h0m3 0h0m2 0h0m4 0h0m1 0h0m1 0h0m2 0h0m9 0h0m7 0h0m3 0h0m2 0h0m-450 1h0m23 0h0m6 0h0m4 0h0m15 0h0m2 0h0m2 0h0m3 0h0m2 0h0m5 0h0m1 0h0m4 0h0m1 0h0m6 0h0m302 0h0m6 0h0m12 0h0m2 0h0m1 0h0m2 0h0m3 0h0m2 0h0m1 0h0m6 0h0m1 0h0m1 0h0m2 0h0m1 0h0m3 0h0m2 0h0m2 0h0m2 0h0m1 0h0m2 0h0m5 0h0m9 0h0m3 0h0m9 0h0m3 0h0m-426 1h0m7 0h0m6 0h0m6 0h0m2 0h0m2 0h0m2 0h0m4 0h0m2 0h0m4 0h0m2 0h0m2 0h0m8 0h0m1 0h0m7 0h0m292 0h0m8 0h0m6 0h0m10 0h0m1 0h0m3 0h0m1 0h0m3 0h0m3 0h0m2 0h0m4 0h0m1 0h0m3 0h0m2 0h0m4 0h0m3 0h0m1 0h0m2 0h0m2 0h0m6 0h0m3 0h0m6 0h0m-436 1h0m7 0h0m7 0h0m16 0h0m2 0h0m1 0h0m3 0h0m2 0h0m4 0h0m2 0h0m3 0h0m2 0h0m2 0h0m3 0h0m6 0h0m7 0h0m38 0h0m264 0h0m16 0h0m1 0h0m1 0h0m3 0h0m2 0h0m3 0h0m1 0h0m4 0h0m1 0h0m1 0h0m2 0h0m1 0h0m14 0h0m1 0h0m2 0h0m10 0h0m2 0h0m4 0h0m7 0h0m1 0h0m2 0h0m-440 1h0m6 0h0m4 0h0m8 0h0m2 0h0m5 0h0m7 0h0m4 0h0m2 0h0m6 0h0m1 0h0m1 0h0m1 0h0m2 0h0m1 0h0m9 0h0m8 0h0m48 0h0m246 0h0m7 0h0m1 0h0m3 0h0m7 0h0m2 0h0m2 0h0m3 0h0m3 0h0m1 0h0m1 0h0m3 0h0m2 0h0m4 0h0m1 0h0m1 0h0m16 0h0m9 0h0m1 0h0m11 0h0m4 0h0m-453 1h0m15 0h0m7 0h0m1 0h0m2 0h0m1 0h0m1 0h0m3 0h0m8 0h0m2 0h0m1 0h0m1 0h0m7 0h0m1 0h0m4 0h0m8 0h0m307 0h0m1 0h0m19 0h0m5 0h0m1 0h0m1 0h0m1 0h0m2 0h0m4 0h0m1 0h0m1 0h0m1 0h0m5 0h0m1 0h0m2 0h0m1 0h0m5 0h0m1 0h0m2 0h0m7 0h0m8 0h0m7 0h0m-417 1h0m5 0h0m2 0h0m1 0h0m1 0h0m1 0h0m1 0h0m3 0h0m2 0h0m2 0h0m3 0h0m3 0h0m3 0h0m13 0h0m1 0h0m1 0h0m6 0h0m76 0h0m215 0h0m2 0h0m3 0h0m7 0h0m7 0h0m2 0h0m1 0h0m3 0h0m2 0h0m1 0h0m3 0h0m1 0h0m1 0h0m1 0h0m2 0h0m1 0h0m3 0h0m1 0h0m3 0h0m1 0h0m3 0h0m10 0h0m11 0h0m6 0h0m8 0h0m4 0h0m-446 1h0m8 0h0m4 0h0m6 0h0m3 0h0m5 0h0m3 0h0m2 0h0m2 0h0m3 0h0m1 0h0m5 0h0m4 0h0m2 0h0m6 0h0m2 0h0m305 0h0m2 0h0m5 0h0m5 0h0m6 0h0m4 0h0m2 0h0m3 0h0m2 0h0m6 0h0m4 0h0m3 0h0m1 0h0m4 0h0m2 0h0m3 0h0m3 0h0m9 0h0m4 0h0m4 0h0m-421 1h0m1 0h0m4 0h0m11 0h0m2 0h0m3 0h0m14 0h0m3 0h0m304 0h0m5 0h0m11 0h0m15 0h0m3 0h0m5 0h0m3 0h0m4 0h0m1 0h0m1 0h0m5 0h0m3 0h0m5 0h0m8 0h0m5 0h0m8 0h0m7 0h0m25 0h0m-459 1h0m9 0h0m1 0h0m5 0h0m2 0h0m4 0h0m1 0h0m2 0h0m5 0h0m9 0h0m4 0h0m4 0h0m16 0h0m1 0h0m282 0h0m1 0h0m1 0h0m15 0h0m7 0h0m6 0h0m1 0h0m4 0h0m3 0h0m4 0h0m4 0h0m2 0h0m1 0h0m10 0h0m4 0h0m3 0h0m36 0h0m-492 1h0m22 0h0m24 0h0m5 0h0m3 0h0m3 0h0m1 0h0m6 0h0m5 0h0m8 0h0m3 0h0m4 0h0m4 0h0m314 0h0m1 0h0m1 0h0m2 0h0m1 0h0m13 0h0m1 0h0m11 0h0m4 0h0m3 0h0m2 0h0m1 0h0m3 0h0m1 0h0m8 0h0m11 0h0m9 0h0m23 0h0m-446 1h0m1 0h0m5 0h0m2 0h0m2 0h0m5 0h0m3 0h0m3 0h0m4 0h0m8 0h0m2 0h0m3 0h0m2 0h0m4 0h0m4 0h0m4 0h0m4 0h0m7 0h0m3 0h0m10 0h0m277 0h0m3 0h0m3 0h0m1 0h0m1 0h0m2 0h0m3 0h0m1 0h0m2 0h0m7 0h0m2 0h0m2 0h0m1 0h0m1 0h0m1 0h0m7 0h0m1 0h0m6 0h0m2 0h0m2 0h0m9 0h0m-421 1h0m3 0h0m6 0h0m8 0h0m3 0h0m4 0h0m1 0h0m1 0h0m1 0h0m1 0h0m3 0h0m4 0h0m8 0h0m4 0h0m6 0h0m1 0h0m2 0h0m3 0h0m77 0h0m221 0h0m2 0h0m3 0h0m3 0h0m18 0h0m10 0h0m4 0h0m8 0h0m9 0h0m29 0h0m3 0h0m-466 1h0m38 0h0m1 0h0m6 0h0m3 0h0m1 0h0m2 0h0m2 0h0m12 0h0m22 0h0m7 0h0m14 0h0m265 0h0m1 0h0m10 0h0m6 0h0m9 0h0m7 0h0m4 0h0m2 0h0m1 0h0m7 0h0m1 0h0m1 0h0m8 0h0m7 0h0m4 0h0m4 0h0m-427 1h0m22 0h0m3 0h0m3 0h0m1 0h0m13 0h0m2 0h0m7 0h0m4 0h0m9 0h0m284 0h0m9 0h0m16 0h0m3 0h0m6 0h0m2 0h0m6 0h0m1 0h0m1 0h0m5 0h0m2 0h0m7 0h0m5 0h0m2 0h0m4 0h0m3 0h0m2 0h0m-435 1h0m5 0h0m26 0h0m7 0h0m1 0h0m8 0h0m2 0h0m6 0h0m1 0h0m2 0h0m3 0h0m1 0h0m279 0h0m37 0h0m2 0h0m2 0h0m3 0h0m8 0h0m10 0h0m1 0h0m3 0h0m7 0h0m6 0h0m4 0h0m2 0h0m4 0h0m7 0h0m-434 1h0m14 0h0m6 0h0m5 0h0m3 0h0m4 0h0m2 0h0m3 0h0m1 0h0m2 0h0m1 0h0m4 0h0m7 0h0m6 0h0m3 0h0m2 0h0m7 0h0m4 0h0m65 0h0m204 0h0m14 0h0m11 0h0m15 0h0m5 0h0m1 0h0m8 0h0m2 0h0m9 0h0m3 0h0m2 0h0m7 0h0m3 0h0m6 0h0m3 0h0m-434 1h0m17 0h0m3 0h0m6 0h0m4 0h0m1 0h0m5 0h0m1 0h0m2 0h0m16 0h0m1 0h0m9 0h0m21 0h0m11 0h0m273 0h0m3 0h0m3 0h0m2 0h0m11 0h0m9 0h0m15 0h0m15 0h0m1 0h0m10 0h0m-447 1h0m22 0h0m10 0h0m1 0h0m2 0h0m9 0h0m14 0h0m5 0h0m16 0h0m6 0h0m262 0h0m32 0h0m12 0h0m3 0h0m3 0h0m1 0h0m1 0h0m2 0h0m2 0h0m1 0h0m9 0h0m4 0h0m2 0h0m2 0h0m7 0h0m4 0h0m-443 1h0m50 0h0m2 0h0m3 0h0m2 0h0m1 0h0m1 0h0m5 0h0m2 0h0m16 0h0m2 0h0m6 0h0m14 0h0m283 0h0m7 0h0m20 0h0m3 0h0m5 0h0m5 0h0m3 0h0m10 0h0m11 0h0m10 0h0m-428 1h0m7 0h0m11 0h0m4 0h0m7 0h0m1 0h0m4 0h0m1 0h0m2 0h0m2 0h0m6 0h0m11 0h0m17 0h0m283 0h0m9 0h0m3 0h0m4 0h0m2 0h0m1 0h0m7 0h0m2 0h0m9 0h0m5 0h0m10 0h0m1 0h0m7 0h0m24 0h0m2 0h0m-452 1h0m16 0h0m7 0h0m1 0h0m1 0h0m6 0h0m1 0h0m1 0h0m12 0h0m6 0h0m5 0h0m2 0h0m317 0h0m6 0h0m7 0h0m6 0h0m6 0h0m6 0h0m1 0h0m9 0h0m3 0h0m7 0h0m6 0h0m3 0h0m5 0h0m-422 1h0m1 0h0m4 0h0m12 0h0m5 0h0m5 0h0m14 0h0m8 0h0m16 0h0m55 0h0m222 0h0m8 0h0m2 0h0m12 0h0m1 0h0m7 0h0m5 0h0m8 0h0m5 0h0m1 0h0m7 0h0m2 0h0m35 0h0m14 0h0m10 0h0m-483 1h0m11 0h0m3 0h0m12 0h0m6 0h0m1 0h0m3 0h0m3 0h0m6 0h0m5 0h0m8 0h0m5 0h0m2 0h0m5 0h0m312 0h0m12 0h0m1 0h0m1 0h0m1 0h0m3 0h0m2 0h0m1 0h0m4 0h0m8 0h0m3 0h0m1 0h0m5 0h0m13 0h0m41 0h0m-458 1h0m1 0h0m2 0h0m12 0h0m7 0h0m7 0h0m7 0h0m8 0h0m322 0h0m6 0h0m1 0h0m7 0h0m2 0h0m1 0h0m17 0h0m1 0h0m4 0h0m1 0h0m2 0h0m14 0h0m16 0h0m-432 1h0m1 0h0m2 0h0m2 0h0m5 0h0m2 0h0m25 0h0m2 0h0m307 0h0m2 0h0m2 0h0m3 0h0m4 0h0m12 0h0m4 0h0m4 0h0m2 0h0m11 0h0m2 0h0m16 0h0m3 0h0m-417 1h0m6 0h0m7 0h0m9 0h0m2 0h0m6 0h0m1 0h0m8 0h0m2 0h0m314 0h0m8 0h0m12 0h0m3 0h0m6 0h0m1 0h0m2 0h0m4 0h0m4 0h0m4 0h0m1 0h0m6 0h0m6 0h0m21 0h0m-424 1h0m4 0h0m15 0h0m7 0h0m3 0h0m2 0h0m11 0h0m8 0h0m288 0h0m15 0h0m5 0h0m1 0h0m7 0h0m2 0h0m1 0h0m2 0h0m1 0h0m3 0h0m7 0h0m6 0h0m29 0h0m-423 1h0m2 0h0m3 0h0m7 0h0m2 0h0m5 0h0m6 0h0m2 0h0m9 0h0m5 0h0m315 0h0m12 0h0m2 0h0m3 0h0m4 0h0m1 0h0m6 0h0m4 0h0m10 0h0m1 0h0m13 0h0m6 0h0m5 0h0m-420 1h0m6 0h0m1 0h0m5 0h0m3 0h0m1 0h0m9 0h0m4 0h0m2 0h0m1 0h0m6 0h0m24 0h0m29 0h0m34 0h0m212 0h0m9 0h0m4 0h0m3 0h0m9 0h0m2 0h0m3 0h0m7 0h0m6 0h0m2 0h0m2 0h0m2 0h0m3 0h0m1 0h0m6 0h0m3 0h0m2 0h0m6 0h0m9 0h0m-405 1h0m24 0h0m4 0h0m1 0h0m304 0h0m6 0h0m12 0h0m5 0h0m6 0h0m4 0h0m1 0h0m1 0h0m12 0h0m4 0h0m9 0h0m9 0h0m-440 1h0m24 0h0m11 0h0m8 0h0m6 0h0m5 0h0m2 0h0m333 0h0m11 0h0m5 0h0m3 0h0m1 0h0m7 0h0m8 0h0m-400 1h0m9 0h0m17 0h0m3 0h0m3 0h0m4 0h0m2 0h0m327 0h0m1 0h0m4 0h0m4 0h0m4 0h0m2 0h0m4 0h0m6 0h0m1 0h0m1 0h0m4 0h0m6 0h0m-421 1h0m14 0h0m9 0h0m25 0h0m16 0h0m17 0h0m283 0h0m22 0h0m1 0h0m3 0h0m10 0h0m3 0h0m3 0h0m5 0h0m7 0h0m19 0h0m-426 1h0m11 0h0m4 0h0m1 0h0m1 0h0m1 0h0m2 0h0m6 0h0m5 0h0m4 0h0m6 0h0m1 0h0m308 0h0m15 0h0m4 0h0m3 0h0m6 0h0m1 0h0m20 0h0m11 0h0m-408 1h0m12 0h0m14 0h0m1 0h0m1 0h0m2 0h0m3 0h0m54 0h0m269 0h0m12 0h0m6 0h0m4 0h0m15 0h0m10 0h0m6 0h0m10 0h0m76 0h0m-506 1h0m7 0h0m26 0h0m1 0h0m15 0h0m298 0h0m18 0h0m13 0h0m24 0h0m6 0h0m2 0h0m2 0h0m26 0h0m-413 1h0m11 0h0m3 0h0m16 0h0m325 0h0m18 0h0m3 0h0m6 0h0m7 0h0m-398 1h0m20 0h0m1 0h0m2 0h0m1 0h0m10 0h0m5 0h0m16 0h0m11 0h0m8 0h0m291 0h0m5 0h0m5 0h0m3 0h0m3 0h0m6 0h0m4 0h0m13 0h0m-409 1h0m18 0h0m8 0h0m1 0h0m5 0h0m6 0h0m8 0h0m317 0h0m7 0h0m6 0h0m6 0h0m2 0h0m2 0h0m2 0h0m5 0h0m6 0h0m3 0h0m33 0h0m-423 1h0m7 0h0m6 0h0m7 0h0m4 0h0m3 0h0m3 0h0m9 0h0m6 0h0m288 0h0m19 0h0m6 0h0m2 0h0m23 0h0m50 0h0m-449 1h0m16 0h0m1 0h0m3 0h0m4 0h0m2 0h0m8 0h0m2 0h0m3 0h0m1 0h0m9 0h0m306 0h0m13 0h0m7 0h0m2 0h0m5 0h0m2 0h0m4 0h0m10 0h0m8 0h0m10 0h0m-414 1h0m33 0h0m328 0h0m4 0h0m10 0h0m4 0h0m6 0h0m3 0h0m2 0h0m11 0h0m6 0h0m4 0h0m4 0h0m-407 1h0m2 0h0m8 0h0m1 0h0m16 0h0m6 0h0m2 0h0m326 0h0m14 0h0m2 0h0m7 0h0m4 0h0m2 0h0m7 0h0m5 0h0m1 0h0m4 0h0m-420 1h0m2 0h0m17 0h0m18 0h0m1 0h0m2 0h0m21 0h0m304 0h0m21 0h0m5 0h0m2 0h0m18 0h0m2 0h0m5 0h0m24 0h0m-437 1h0m21 0h0m4 0h0m4 0h0m4 0h0m13 0h0m311 0h0m9 0h0m4 0h0m7 0h0m1 0h0m4 0h0m10 0h0m1 0h0m4 0h0m3 0h0m1 0h0m46 0h0m-437 1h0m23 0h0m2 0h0m11 0h0m330 0h0m4 0h0m8 0h0m4 0h0m2 0h0m14 0h0m6 0h0m-404 1h0m6 0h0m12 0h0m6 0h0m5 0h0m343 0h0m2 0h0m3 0h0m29 0h0m1 0h0m-384 1h0m34 0h0m301 0h0m5 0h0m12 0h0m3 0h0m9 0h0m-345 1h0m308 0h0m19 0h0m4 0h0m11 0h0m5 0h0m2 0h0m1 0h0m12 0h0m-446 1h0m35 0h0m13 0h0m5 0h0m1 0h0m1 0h0m9 0h0m15 0h0m303 0h0m7 0h0m2 0h0m4 0h0m12 0h0m3 0h0m4 0h0m1 0h0m8 0h0m6 0h0m9 0h0m6 0h0m-375 1h0m12 0h0m1 0h0m300 0h0m31 0h0m20 0h0m-401 1h0m16 0h0m10 0h0m4 0h0m6 0h0m7 0h0m4 0h0m321 0h0m10 0h0m2 0h0m1 0h0m4 0h0m6 0h0m5 0h0m6 0h0m1 0h0m1 0h0m8 0h0m-449 1h0m56 0h0m1 0h0m4 0h0m2 0h0m1 0h0m1 0h0m10 0h0m3 0h0m1 0h0m354 0h0m16 0h0m-419 1h0m32 0h0m9 0h0m6 0h0m319 0h0m15 0h0m4 0h0m4 0h0m2 0h0m3 0h0m5 0h0m4 0h0m1 0h0m5 0h0m5 0h0m-379 1h0m336 0h0m27 0h0m1 0h0m17 0h0m-400 1h0m14 0h0m8 0h0m4 0h0m3 0h0m2 0h0m7 0h0m327 0h0m8 0h0m7 0h0m14 0h0m3 0h0m10 0h0m7 0h0m-402 1h0m2 0h0m6 0h0m7 0h0m3 0h0m2 0h0m331 0h0m1 0h0m9 0h0m1 0h0m8 0h0m3 0h0m2 0h0m-400 1h0m31 0h0m354 0h0m4 0h0m9 0h0m2 0h0m27 0h0m-390 1h0m1 0h0m3 0h0m12 0h0m1 0h0m13 0h0m323 0h0m4 0h0m7 0h0m13 0h0m-382 1h0m3 0h0m1 0h0m341 0h0m1 0h0m15 0h0m14 0h0m3 0h0m-392 1h0m4 0h0m10 0h0m8 0h0m5 0h0m338 0h0m8 0h0m-384 1h0m30 0h0m7 0h0m2 0h0m337 0h0m2 0h0m9 0h0m-367 1h0m2 0h0m348 0h0m5 0h0m7 0h0m20 0h0m2 0h0m-407 1h0m3 0h0m8 0h0m7 0h0m11 0h0m349 0h0m5 0h0m1 0h0m5 0h0m5 0h0m1 0h0m55 0h0m-419 1h0m342 0h0m15 0h0m4 0h0m9 0h0m6 0h0m-392 1h0m17 0h0m21 0h0m319 0h0m20 0h0m3 0h0m1 1h0m19 0h0m-384 1h0m7 0h0m329 0h0m26 0h0m-392 1h0m26 0h0m11 0h0m3 0h0m346 0h0m1 0h0m15 0h0m-380 1h0m368 0h0m33 0h0m-462 1h0m65 0h0m2 0h0m2 0h0m15 0h0m346 0h0m21 0h0m-390 1h0m27 0h0m312 0h0m15 0h0m-347 1h0m3 0h0m11 0h0m3 0h0m11 0h0m338 0h0m7 0h0m85 54h0m-350 7h0m-24 2h0m13 0h0m36 2h0m-31 1h0m340 0h0m-349 1h0m8 0h0m7 0h0m325 0h0m-316 1h0m-33 1h0m9 0h0m24 0h0m5 0h0m-31 1h0m17 0h0m14 0h0m322 1h0m-313 1h0m-39 1h0m12 1h0m1 0h0m2 0h0m9 0h0m-42 1h0m28 0h0m10 0h0m16 0h0m325 0h0m-370 1h0m5 0h0m3 0h0m16 0h0m1 0h0m314 0h0m9 0h0m-339 1h0m3 0h0m-8 1h0m17 0h0m3 0h0m341 0h0m-356 1h0m9 0h0m7 0h0m2 0h0m326 0h0m-338 1h0m375 0h0m-404 1h0m28 0h0m6 0h0m330 0h0m-348 1h0m16 0h0m9 0h0m-25 1h0m3 0h0m24 0h0m9 0h0m1 0h0m-43 1h0m4 0h0m5 0h0m6 0h0m5 0h0m4 0h0m5 0h0m6 0h0m310 0h0m-346 1h0m8 0h0m16 0h0m1 0h0m11 0h0m26 0h0m269 0h0m36 0h0m19 0h0m-378 1h0m5 0h0m5 0h0m2 0h0m3 0h0m2 0h0m327 0h0m42 0h0m-407 1h0m18 0h0m3 0h0m6 0h0m4 0h0m9 0h0m3 0h0m-26 1h0m2 0h0m6 0h0m7 0h0m6 0h0m6 0h0m25 0h0m307 0h0m4 0h0m-383 1h0m8 0h0m8 0h0m5 0h0m1 0h0m3 0h0m3 0h0m2 0h0m7 0h0m5 0h0m4 0h0m337 0h0m-371 1h0m1 0h0m7 0h0m2 0h0m4 0h0m4 0h0m25 0h0m3 0h0m-52 1h0m9 0h0m7 0h0m5 0h0m9 0h0m2 0h0m7 0h0m1 0h0m7 0h0m3 0h0m328 0h0m4 0h0m10 0h0m4 0h0m-400 1h0m10 0h0m1 0h0m5 0h0m7 0h0m1 0h0m2 0h0m11 0h0m1 0h0m10 0h0m12 0h0m225 0h0m100 0h0m8 0h0m-391 1h0m6 0h0m9 0h0m6 0h0m6 0h0m5 0h0m320 0h0m5 0h0m45 0h0m7 0h0m-412 1h0m13 0h0m1 0h0m11 0h0m1 0h0m2 0h0m3 0h0m2 0h0m1 0h0m2 0h0m12 0h0m1 0h0m324 0h0m8 0h0m-368 1h0m5 0h0m1 0h0m2 0h0m2 0h0m5 0h0m5 0h0m9 0h0m8 0h0m304 0h0m5 0h0m9 0h0m2 0h0m3 0h0m2 0h0m25 0h0m-406 1h0m5 0h0m5 0h0m3 0h0m10 0h0m1 0h0m2 0h0m2 0h0m9 0h0m1 0h0m33 0h0m306 0h0m21 0h0m-384 1h0m3 0h0m1 0h0m7 0h0m1 0h0m3 0h0m4 0h0m6 0h0m2 0h0m14 0h0m2 0h0m2 0h0m313 0h0m3 0h0m6 0h0m17 0h0m-370 1h0m3 0h0m4 0h0m1 0h0m6 0h0m6 0h0m6 0h0m19 0h0m292 0h0m13 0h0m-380 1h0m12 0h0m2 0h0m13 0h0m1 0h0m4 0h0m2 0h0m1 0h0m1 0h0m2 0h0m2 0h0m3 0h0m4 0h0m2 0h0m2 0h0m13 0h0m297 0h0m11 0h0m3 0h0m11 0h0m4 0h0m17 0h0m-395 1h0m3 0h0m3 0h0m4 0h0m8 0h0m1 0h0m3 0h0m2 0h0m5 0h0m4 0h0m309 0h0m14 0h0m8 0h0m12 0h0m8 0h0m-381 1h0m1 0h0m6 0h0m1 0h0m4 0h0m1 0h0m3 0h0m1 0h0m1 0h0m2 0h0m3 0h0m1 0h0m2 0h0m1 0h0m1 0h0m6 0h0m9 0h0m5 0h0m311 0h0m10 0h0m14 0h0m4 0h0m-395 1h0m2 0h0m9 0h0m7 0h0m2 0h0m2 0h0m1 0h0m3 0h0m1 0h0m3 0h0m1 0h0m3 0h0m324 0h0m2 0h0m7 0h0m-346 1h0m1 0h0m1 0h0m1 0h0m4 0h0m2 0h0m2 0h0m1 0h0m10 0h0m2 0h0m18 0h0m9 0h0m299 0h0m2 0h0m6 0h0m3 0h0m3 0h0m-379 1h0m3 0h0m1 0h0m1 0h0m2 0h0m4 0h0m3 0h0m1 0h0m1 0h0m8 0h0m3 0h0m1 0h0m2 0h0m3 0h0m3 0h0m5 0h0m9 0h0m301 0h0m1 0h0m7 0h0m-369 1h0m25 0h0m5 0h0m7 0h0m2 0h0m1 0h0m1 0h0m4 0h0m1 0h0m2 0h0m260 0h0m60 0h0m6 0h0m3 0h0m4 0h0m2 0h0m8 0h0m4 0h0m-396 1h0m1 0h0m3 0h0m8 0h0m8 0h0m5 0h0m2 0h0m5 0h0m2 0h0m1 0h0m3 0h0m5 0h0m1 0h0m3 0h0m1 0h0m1 0h0m1 0h0m7 0h0m297 0h0m23 0h0m10 0h0m-372 1h0m2 0h0m2 0h0m1 0h0m1 0h0m2 0h0m1 0h0m10 0h0m2 0h0m1 0h0m3 0h0m3 0h0m4 0h0m12 0h0m5 0h0m260 0h0m19 0h0m14 0h0m9 0h0m2 0h0m2 0h0m4 0h0m6 0h0m1 0h0m6 0h0m2 0h0m5 0h0m12 0h0m-427 1h0m24 0h0m3 0h0m1 0h0m2 0h0m2 0h0m4 0h0m3 0h0m9 0h0m2 0h0m1 0h0m1 0h0m2 0h0m2 0h0m1 0h0m1 0h0m1 0h0m13 0h0m3 0h0m4 0h0m284 0h0m8 0h0m6 0h0m2 0h0m11 0h0m1 0h0m5 0h0m3 0h0m1 0h0m2 0h0m6 0h0m2 0h0m4 0h0m5 0h0m6 0h0m3 0h0m-419 1h0m21 0h0m2 0h0m3 0h0m1 0h0m5 0h0m2 0h0m4 0h0m1 0h0m2 0h0m1 0h0m1 0h0m1 0h0m2 0h0m3 0h0m1 0h0m4 0h0m8 0h0m305 0h0m1 0h0m8 0h0m7 0h0m1 0h0m16 0h0m4 0h0m1 0h0m-394 1h0m8 0h0m2 0h0m5 0h0m6 0h0m2 0h0m4 0h0m2 0h0m4 0h0m2 0h0m2 0h0m1 0h0m1 0h0m1 0h0m2 0h0m6 0h0m1 0h0m271 0h0m54 0h0m9 0h0m7 0h0m9 0h0m32 0h0m-432 1h0m3 0h0m2 0h0m14 0h0m3 0h0m2 0h0m4 0h0m1 0h0m1 0h0m2 0h0m1 0h0m2 0h0m9 0h0m1 0h0m1 0h0m2 0h0m3 0h0m312 0h0m22 0h0m1 0h0m9 0h0m1 0h0m1 0h0m1 0h0m2 0h0m5 0h0m1 0h0m11 0h0m-414 1h0m12 0h0m2 0h0m1 0h0m5 0h0m3 0h0m3 0h0m6 0h0m2 0h0m7 0h0m1 0h0m6 0h0m2 0h0m1 0h0m2 0h0m264 0h0m36 0h0m1 0h0m25 0h0m4 0h0m-390 1h0m3 0h0m6 0h0m1 0h0m16 0h0m1 0h0m2 0h0m2 0h0m1 0h0m1 0h0m7 0h0m8 0h0m9 0h0m2 0h0m4 0h0m292 0h0m6 0h0m2 0h0m14 0h0m10 0h0m7 0h0m8 0h0m-407 1h0m2 0h0m3 0h0m3 0h0m12 0h0m4 0h0m1 0h0m1 0h0m1 0h0m1 0h0m1 0h0m1 0h0m4 0h0m4 0h0m1 0h0m4 0h0m3 0h0m4 0h0m1 0h0m1 0h0m3 0h0m3 0h0m4 0h0m312 0h0m8 0h0m1 0h0m1 0h0m5 0h0m15 0h0m8 0h0m4 0h0m1 0h0m-450 1h0m29 0h0m16 0h0m6 0h0m3 0h0m2 0h0m2 0h0m2 0h0m3 0h0m1 0h0m2 0h0m2 0h0m3 0h0m3 0h0m1 0h0m7 0h0m1 0h0m4 0h0m2 0h0m1 0h0m8 0h0m3 0h0m292 0h0m6 0h0m5 0h0m5 0h0m4 0h0m2 0h0m5 0h0m6 0h0m1 0h0m3 0h0m-398 1h0m18 0h0m6 0h0m4 0h0m1 0h0m6 0h0m5 0h0m3 0h0m1 0h0m2 0h0m2 0h0m1 0h0m24 0h0m289 0h0m5 0h0m15 0h0m2 0h0m2 0h0m17 0h0m-413 1h0m35 0h0m6 0h0m1 0h0m4 0h0m1 0h0m2 0h0m1 0h0m4 0h0m3 0h0m1 0h0m2 0h0m1 0h0m3 0h0m4 0h0m9 0h0m8 0h0m275 0h0m9 0h0m1 0h0m1 0h0m5 0h0m4 0h0m6 0h0m1 0h0m17 0h0m5 0h0m35 0h0m-448 1h0m15 0h0m10 0h0m12 0h0m7 0h0m2 0h0m1 0h0m2 0h0m1 0h0m3 0h0m2 0h0m2 0h0m2 0h0m1 0h0m2 0h0m2 0h0m4 0h0m5 0h0m5 0h0m296 0h0m3 0h0m8 0h0m3 0h0m11 0h0m1 0h0m3 0h0m4 0h0m4 0h0m9 0h0m2 0h0m4 0h0m-456 1h0m48 0h0m3 0h0m3 0h0m1 0h0m1 0h0m2 0h0m7 0h0m5 0h0m10 0h0m3 0h0m1 0h0m1 0h0m1 0h0m2 0h0m3 0h0m1 0h0m4 0h0m1 0h0m4 0h0m2 0h0m5 0h0m6 0h0m5 0h0m281 0h0m3 0h0m10 0h0m9 0h0m4 0h0m2 0h0m1 0h0m1 0h0m9 0h0m-399 1h0m4 0h0m2 0h0m6 0h0m9 0h0m1 0h0m1 0h0m1 0h0m1 0h0m1 0h0m4 0h0m1 0h0m9 0h0m1 0h0m5 0h0m1 0h0m2 0h0m1 0h0m3 0h0m5 0h0m23 0h0m277 0h0m6 0h0m4 0h0m7 0h0m2 0h0m4 0h0m2 0h0m2 0h0m4 0h0m1 0h0m1 0h0m6 0h0m3 0h0m2 0h0m7 0h0m5 0h0m-447 1h0m20 0h0m5 0h0m5 0h0m7 0h0m10 0h0m1 0h0m1 0h0m2 0h0m4 0h0m1 0h0m17 0h0m2 0h0m1 0h0m1 0h0m2 0h0m2 0h0m1 0h0m1 0h0m8 0h0m17 0h0m6 0h0m247 0h0m12 0h0m12 0h0m13 0h0m6 0h0m6 0h0m7 0h0m2 0h0m3 0h0m4 0h0m3 0h0m2 0h0m5 0h0m-442 1h0m14 0h0m11 0h0m9 0h0m2 0h0m3 0h0m7 0h0m3 0h0m11 0h0m8 0h0m4 0h0m2 0h0m3 0h0m2 0h0m3 0h0m2 0h0m2 0h0m2 0h0m1 0h0m2 0h0m1 0h0m3 0h0m7 0h0m7 0h0m273 0h0m20 0h0m6 0h0m4 0h0m10 0h0m6 0h0m1 0h0m3 0h0m3 0h0m3 0h0m2 0h0m9 0h0m1 0h0m-411 1h0m7 0h0m2 0h0m4 0h0m2 0h0m1 0h0m5 0h0m1 0h0m9 0h0m3 0h0m1 0h0m2 0h0m2 0h0m2 0h0m1 0h0m1 0h0m1 0h0m2 0h0m3 0h0m11 0h0m8 0h0m250 0h0m1 0h0m39 0h0m4 0h0m13 0h0m4 0h0m1 0h0m3 0h0m1 0h0m7 0h0m1 0h0m10 0h0m2 0h0m3 0h0m3 0h0m6 0h0m-424 1h0m4 0h0m5 0h0m8 0h0m6 0h0m1 0h0m2 0h0m2 0h0m3 0h0m1 0h0m3 0h0m2 0h0m4 0h0m4 0h0m3 0h0m4 0h0m4 0h0m1 0h0m3 0h0m2 0h0m1 0h0m2 0h0m1 0h0m6 0h0m1 0h0m4 0h0m1 0h0m7 0h0m261 0h0m20 0h0m10 0h0m24 0h0m4 0h0m1 0h0m5 0h0m3 0h0m-413 1h0m1 0h0m18 0h0m6 0h0m4 0h0m4 0h0m1 0h0m4 0h0m1 0h0m7 0h0m2 0h0m1 0h0m3 0h0m1 0h0m2 0h0m3 0h0m2 0h0m10 0h0m6 0h0m11 0h0m6 0h0m230 0h0m10 0h0m25 0h0m5 0h0m20 0h0m3 0h0m5 0h0m1 0h0m8 0h0m5 0h0m5 0h0m7 0h0m-429 1h0m9 0h0m1 0h0m28 0h0m4 0h0m2 0h0m3 0h0m1 0h0m1 0h0m3 0h0m1 0h0m2 0h0m6 0h0m1 0h0m2 0h0m5 0h0m6 0h0m4 0h0m1 0h0m2 0h0m246 0h0m19 0h0m33 0h0m10 0h0m11 0h0m1 0h0m2 0h0m8 0h0m7 0h0m10 0h0m-447 1h0m26 0h0m3 0h0m9 0h0m9 0h0m3 0h0m8 0h0m2 0h0m7 0h0m1 0h0m4 0h0m2 0h0m1 0h0m1 0h0m2 0h0m2 0h0m2 0h0m1 0h0m1 0h0m1 0h0m1 0h0m2 0h0m11 0h0m16 0h0m255 0h0m12 0h0m10 0h0m8 0h0m1 0h0m12 0h0m2 0h0m7 0h0m1 0h0m2 0h0m3 0h0m8 0h0m4 0h0m1 0h0m4 0h0m12 0h0m10 0h0m-458 1h0m3 0h0m16 0h0m4 0h0m6 0h0m1 0h0m5 0h0m2 0h0m1 0h0m25 0h0m5 0h0m1 0h0m2 0h0m5 0h0m9 0h0m5 0h0m1 0h0m13 0h0m5 0h0m231 0h0m7 0h0m7 0h0m38 0h0m21 0h0m3 0h0m7 0h0m3 0h0m10 0h0m5 0h0m-454 1h0m20 0h0m3 0h0m6 0h0m2 0h0m4 0h0m3 0h0m2 0h0m23 0h0m3 0h0m5 0h0m8 0h0m1 0h0m6 0h0m14 0h0m11 0h0m2 0h0m263 0h0m13 0h0m18 0h0m2 0h0m1 0h0m11 0h0m2 0h0m2 0h0m2 0h0m3 0h0m19 0h0m10 0h0m8 0h0m-455 1h0m13 0h0m3 0h0m13 0h0m8 0h0m4 0h0m3 0h0m2 0h0m3 0h0m1 0h0m1 0h0m7 0h0m2 0h0m3 0h0m1 0h0m4 0h0m1 0h0m2 0h0m1 0h0m1 0h0m1 0h0m10 0h0m7 0h0m1 0h0m3 0h0m3 0h0m1 0h0m280 0h0m22 0h0m1 0h0m1 0h0m7 0h0m2 0h0m8 0h0m4 0h0m1 0h0m-433 1h0m2 0h0m7 0h0m19 0h0m5 0h0m6 0h0m5 0h0m11 0h0m7 0h0m3 0h0m2 0h0m2 0h0m4 0h0m3 0h0m1 0h0m1 0h0m1 0h0m3 0h0m2 0h0m4 0h0m7 0h0m12 0h0m242 0h0m15 0h0m25 0h0m4 0h0m10 0h0m10 0h0m2 0h0m1 0h0m4 0h0m3 0h0m5 0h0m1 0h0m11 0h0m6 0h0m1 0h0m1 0h0m8 0h0m-448 1h0m16 0h0m5 0h0m15 0h0m4 0h0m4 0h0m8 0h0m5 0h0m1 0h0m7 0h0m1 0h0m8 0h0m3 0h0m1 0h0m5 0h0m8 0h0m14 0h0m251 0h0m10 0h0m2 0h0m19 0h0m4 0h0m7 0h0m3 0h0m3 0h0m1 0h0m4 0h0m10 0h0m2 0h0m5 0h0m6 0h0m2 0h0m4 0h0m2 0h0m6 0h0m44 0h0m-489 1h0m9 0h0m9 0h0m16 0h0m16 0h0m6 0h0m2 0h0m7 0h0m4 0h0m3 0h0m3 0h0m6 0h0m4 0h0m3 0h0m5 0h0m262 0h0m9 0h0m17 0h0m3 0h0m9 0h0m5 0h0m1 0h0m4 0h0m7 0h0m8 0h0m9 0h0m5 0h0m2 0h0m18 0h0m-457 1h0m8 0h0m10 0h0m7 0h0m1 0h0m2 0h0m7 0h0m10 0h0m2 0h0m1 0h0m2 0h0m2 0h0m2 0h0m9 0h0m5 0h0m2 0h0m1 0h0m2 0h0m2 0h0m3 0h0m7 0h0m2 0h0m5 0h0m11 0h0m286 0h0m11 0h0m7 0h0m1 0h0m7 0h0m2 0h0m7 0h0m1 0h0m3 0h0m1 0h0m8 0h0m1 0h0m11 0h0m14 0h0m-479 1h0m47 0h0m2 0h0m7 0h0m2 0h0m3 0h0m1 0h0m16 0h0m2 0h0m1 0h0m2 0h0m3 0h0m2 0h0m4 0h0m3 0h0m3 0h0m17 0h0m257 0h0m5 0h0m36 0h0m6 0h0m6 0h0m3 0h0m2 0h0m4 0h0m1 0h0m2 0h0m3 0h0m6 0h0m7 0h0m25 0h0m-466 1h0m11 0h0m3 0h0m4 0h0m9 0h0m9 0h0m3 0h0m1 0h0m3 0h0m2 0h0m1 0h0m8 0h0m17 0h0m11 0h0m3 0h0m1 0h0m16 0h0m255 0h0m1 0h0m2 0h0m27 0h0m25 0h0m1 0h0m1 0h0m2 0h0m1 0h0m3 0h0m5 0h0m6 0h0m13 0h0m2 0h0m-454 1h0m4 0h0m9 0h0m7 0h0m9 0h0m1 0h0m3 0h0m16 0h0m8 0h0m3 0h0m1 0h0m4 0h0m3 0h0m1 0h0m1 0h0m4 0h0m15 0h0m2 0h0m16 0h0m211 0h0m34 0h0m27 0h0m2 0h0m17 0h0m1 0h0m2 0h0m3 0h0m1 0h0m2 0h0m2 0h0m2 0h0m1 0h0m3 0h0m9 0h0m1 0h0m7 0h0m6 0h0m4 0h0m6 0h0m-448 1h0m9 0h0m5 0h0m16 0h0m4 0h0m2 0h0m1 0h0m3 0h0m2 0h0m1 0h0m2 0h0m3 0h0m2 0h0m5 0h0m4 0h0m1 0h0m1 0h0m4 0h0m3 0h0m1 0h0m2 0h0m7 0h0m6 0h0m5 0h0m10 0h0m4 0h0m1 0h0m11 0h0m228 0h0m46 0h0m13 0h0m6 0h0m1 0h0m5 0h0m1 0h0m9 0h0m5 0h0m5 0h0m1 0h0m2 0h0m8 0h0m8 0h0m-449 1h0m10 0h0m12 0h0m3 0h0m4 0h0m4 0h0m1 0h0m4 0h0m3 0h0m11 0h0m2 0h0m2 0h0m14 0h0m9 0h0m1 0h0m4 0h0m2 0h0m3 0h0m20 0h0m207 0h0m37 0h0m18 0h0m27 0h0m2 0h0m8 0h0m4 0h0m6 0h0m1 0h0m4 0h0m3 0h0m4 0h0m5 0h0m2 0h0m1 0h0m6 0h0m1 0h0m3 0h0m-444 1h0m6 0h0m3 0h0m4 0h0m3 0h0m3 0h0m3 0h0m1 0h0m5 0h0m5 0h0m1 0h0m2 0h0m2 0h0m6 0h0m4 0h0m15 0h0m7 0h0m1 0h0m4 0h0m3 0h0m2 0h0m6 0h0m15 0h0m1 0h0m220 0h0m45 0h0m16 0h0m3 0h0m19 0h0m1 0h0m2 0h0m2 0h0m2 0h0m3 0h0m4 0h0m1 0h0m2 0h0m2 0h0m1 0h0m7 0h0m7 0h0m13 0h0m-446 1h0m14 0h0m1 0h0m9 0h0m2 0h0m10 0h0m7 0h0m1 0h0m1 0h0m13 0h0m5 0h0m4 0h0m1 0h0m7 0h0m5 0h0m1 0h0m2 0h0m13 0h0m11 0h0m232 0h0m11 0h0m1 0h0m12 0h0m15 0h0m8 0h0m11 0h0m1 0h0m1 0h0m8 0h0m1 0h0m2 0h0m2 0h0m3 0h0m1 0h0m1 0h0m5 0h0m1 0h0m1 0h0m5 0h0m9 0h0m-438 1h0m2 0h0m3 0h0m1 0h0m15 0h0m5 0h0m2 0h0m3 0h0m6 0h0m4 0h0m2 0h0m1 0h0m4 0h0m2 0h0m11 0h0m2 0h0m8 0h0m6 0h0m6 0h0m2 0h0m9 0h0m185 0h0m59 0h0m18 0h0m2 0h0m8 0h0m10 0h0m17 0h0m1 0h0m3 0h0m6 0h0m1 0h0m3 0h0m4 0h0m1 0h0m1 0h0m2 0h0m3 0h0m2 0h0m7 0h0m9 0h0m9 0h0m-451 1h0m12 0h0m4 0h0m6 0h0m4 0h0m3 0h0m8 0h0m1 0h0m9 0h0m2 0h0m2 0h0m1 0h0m16 0h0m2 0h0m11 0h0m2 0h0m1 0h0m3 0h0m251 0h0m18 0h0m3 0h0m14 0h0m9 0h0m3 0h0m2 0h0m12 0h0m6 0h0m3 0h0m7 0h0m1 0h0m3 0h0m3 0h0m21 0h0m-453 1h0m4 0h0m14 0h0m17 0h0m2 0h0m5 0h0m1 0h0m11 0h0m1 0h0m2 0h0m1 0h0m3 0h0m3 0h0m8 0h0m6 0h0m37 0h0m272 0h0m3 0h0m2 0h0m16 0h0m10 0h0m1 0h0m6 0h0m12 0h0m9 0h0m8 0h0m6 0h0m-467 1h0m5 0h0m10 0h0m5 0h0m3 0h0m2 0h0m17 0h0m2 0h0m7 0h0m1 0h0m1 0h0m1 0h0m1 0h0m9 0h0m1 0h0m5 0h0m4 0h0m16 0h0m4 0h0m3 0h0m7 0h0m5 0h0m4 0h0m257 0h0m15 0h0m4 0h0m16 0h0m2 0h0m1 0h0m8 0h0m1 0h0m6 0h0m13 0h0m1 0h0m14 0h0m1 0h0m6 0h0m-446 1h0m2 0h0m5 0h0m10 0h0m4 0h0m4 0h0m9 0h0m1 0h0m1 0h0m3 0h0m4 0h0m7 0h0m6 0h0m2 0h0m8 0h0m2 0h0m11 0h0m12 0h0m18 0h0m226 0h0m21 0h0m15 0h0m1 0h0m4 0h0m3 0h0m2 0h0m1 0h0m4 0h0m2 0h0m2 0h0m1 0h0m2 0h0m4 0h0m5 0h0m2 0h0m6 0h0m2 0h0m3 0h0m7 0h0m13 0h0m3 0h0m5 0h0m11 0h0m8 0h0m-475 1h0m12 0h0m4 0h0m3 0h0m7 0h0m2 0h0m4 0h0m2 0h0m3 0h0m5 0h0m12 0h0m4 0h0m8 0h0m6 0h0m3 0h0m14 0h0m6 0h0m4 0h0m262 0h0m5 0h0m12 0h0m21 0h0m15 0h0m3 0h0m7 0h0m6 0h0m1 0h0m2 0h0m8 0h0m3 0h0m3 0h0m3 0h0m2 0h0m3 0h0m2 0h0m-452 1h0m13 0h0m5 0h0m1 0h0m13 0h0m5 0h0m36 0h0m1 0h0m1 0h0m3 0h0m15 0h0m11 0h0m248 0h0m8 0h0m2 0h0m2 0h0m14 0h0m7 0h0m26 0h0m9 0h0m8 0h0m5 0h0m2 0h0m2 0h0m10 0h0m3 0h0m3 0h0m-456 1h0m16 0h0m4 0h0m9 0h0m11 0h0m2 0h0m5 0h0m9 0h0m11 0h0m6 0h0m6 0h0m11 0h0m20 0h0m255 0h0m10 0h0m4 0h0m3 0h0m4 0h0m7 0h0m11 0h0m3 0h0m14 0h0m5 0h0m1 0h0m5 0h0m8 0h0m5 0h0m5 0h0m7 0h0m-450 1h0m10 0h0m4 0h0m1 0h0m13 0h0m5 0h0m1 0h0m7 0h0m3 0h0m2 0h0m2 0h0m5 0h0m5 0h0m12 0h0m6 0h0m7 0h0m48 0h0m222 0h0m4 0h0m2 0h0m8 0h0m3 0h0m7 0h0m5 0h0m6 0h0m17 0h0m3 0h0m2 0h0m7 0h0m3 0h0m4 0h0m6 0h0m5 0h0m3 0h0m1 0h0m4 0h0m10 0h0m-457 1h0m3 0h0m7 0h0m2 0h0m3 0h0m3 0h0m10 0h0m3 0h0m3 0h0m7 0h0m5 0h0m25 0h0m13 0h0m27 0h0m232 0h0m5 0h0m10 0h0m17 0h0m10 0h0m3 0h0m18 0h0m6 0h0m9 0h0m4 0h0m5 0h0m2 0h0m1 0h0m2 0h0m2 0h0m1 0h0m4 0h0m1 0h0m4 0h0m17 0h0m-482 1h0m12 0h0m17 0h0m5 0h0m6 0h0m5 0h0m2 0h0m2 0h0m7 0h0m5 0h0m1 0h0m4 0h0m9 0h0m30 0h0m2 0h0m303 0h0m3 0h0m1 0h0m6 0h0m2 0h0m7 0h0m1 0h0m9 0h0m7 0h0m1 0h0m2 0h0m14 0h0m-469 1h0m9 0h0m6 0h0m1 0h0m4 0h0m20 0h0m5 0h0m3 0h0m2 0h0m8 0h0m6 0h0m6 0h0m2 0h0m13 0h0m1 0h0m10 0h0m3 0h0m289 0h0m8 0h0m8 0h0m4 0h0m5 0h0m2 0h0m14 0h0m4 0h0m8 0h0m6 0h0m2 0h0m7 0h0m2 0h0m4 0h0m6 0h0m-438 1h0m1 0h0m2 0h0m4 0h0m10 0h0m1 0h0m19 0h0m7 0h0m2 0h0m4 0h0m2 0h0m1 0h0m1 0h0m19 0h0m3 0h0m9 0h0m275 0h0m5 0h0m4 0h0m9 0h0m4 0h0m9 0h0m3 0h0m6 0h0m8 0h0m3 0h0m2 0h0m3 0h0m22 0h0m8 0h0m5 0h0m-451 1h0m1 0h0m8 0h0m6 0h0m2 0h0m7 0h0m2 0h0m1 0h0m2 0h0m2 0h0m5 0h0m2 0h0m10 0h0m6 0h0m9 0h0m7 0h0m16 0h0m17 0h0m251 0h0m7 0h0m4 0h0m18 0h0m2 0h0m4 0h0m21 0h0m1 0h0m6 0h0m15 0h0m2 0h0m1 0h0m2 0h0m-439 1h0m12 0h0m6 0h0m1 0h0m8 0h0m1 0h0m2 0h0m1 0h0m1 0h0m4 0h0m2 0h0m2 0h0m6 0h0m2 0h0m3 0h0m1 0h0m7 0h0m5 0h0m3 0h0m39 0h0m251 0h0m14 0h0m4 0h0m8 0h0m15 0h0m3 0h0m5 0h0m9 0h0m1 0h0m4 0h0m3 0h0m5 0h0m1 0h0m13 0h0m9 0h0m-473 1h0m3 0h0m7 0h0m2 0h0m1 0h0m18 0h0m2 0h0m3 0h0m7 0h0m8 0h0m6 0h0m4 0h0m6 0h0m2 0h0m8 0h0m6 0h0m13 0h0m282 0h0m9 0h0m3 0h0m3 0h0m5 0h0m15 0h0m1 0h0m2 0h0m1 0h0m3 0h0m6 0h0m2 0h0m5 0h0m10 0h0m11 0h0m-438 1h0m2 0h0m3 0h0m9 0h0m1 0h0m3 0h0m4 0h0m1 0h0m5 0h0m2 0h0m8 0h0m1 0h0m1 0h0m1 0h0m2 0h0m1 0h0m17 0h0m15 0h0m13 0h0m2 0h0m4 0h0m262 0h0m3 0h0m5 0h0m15 0h0m3 0h0m2 0h0m12 0h0m12 0h0m1 0h0m12 0h0m1 0h0m3 0h0m6 0h0m1 0h0m4 0h0m3 0h0m-431 1h0m1 0h0m1 0h0m6 0h0m4 0h0m5 0h0m2 0h0m3 0h0m5 0h0m1 0h0m1 0h0m1 0h0m3 0h0m1 0h0m2 0h0m1 0h0m1 0h0m22 0h0m2 0h0m9 0h0m278 0h0m5 0h0m8 0h0m7 0h0m2 0h0m4 0h0m1 0h0m6 0h0m4 0h0m7 0h0m2 0h0m10 0h0m5 0h0m16 0h0m19 0h0m4 0h0m-490 1h0m31 0h0m5 0h0m3 0h0m2 0h0m7 0h0m2 0h0m10 0h0m1 0h0m5 0h0m2 0h0m10 0h0m5 0h0m2 0h0m6 0h0m2 0h0m2 0h0m19 0h0m13 0h0m269 0h0m4 0h0m5 0h0m3 0h0m4 0h0m6 0h0m14 0h0m2 0h0m3 0h0m1 0h0m1 0h0m5 0h0m17 0h0m6 0h0m13 0h0m10 0h0m9 0h0m-469 1h0m4 0h0m1 0h0m5 0h0m3 0h0m5 0h0m8 0h0m5 0h0m7 0h0m1 0h0m3 0h0m3 0h0m2 0h0m31 0h0m1 0h0m5 0h0m20 0h0m248 0h0m3 0h0m1 0h0m5 0h0m2 0h0m16 0h0m6 0h0m1 0h0m2 0h0m3 0h0m1 0h0m3 0h0m4 0h0m8 0h0m7 0h0m7 0h0m1 0h0m3 0h0m9 0h0m5 0h0m1 0h0m2 0h0m14 0h0m2 0h0m-446 1h0m1 0h0m5 0h0m4 0h0m1 0h0m1 0h0m1 0h0m3 0h0m3 0h0m6 0h0m13 0h0m6 0h0m1 0h0m1 0h0m2 0h0m1 0h0m5 0h0m276 0h0m5 0h0m9 0h0m22 0h0m2 0h0m2 0h0m12 0h0m1 0h0m14 0h0m2 0h0m1 0h0m4 0h0m2 0h0m4 0h0m3 0h0m4 0h0m2 0h0m3 0h0m1 0h0m1 0h0m-430 1h0m10 0h0m2 0h0m4 0h0m20 0h0m3 0h0m6 0h0m3 0h0m17 0h0m5 0h0m13 0h0m1 0h0m217 0h0m46 0h0m5 0h0m4 0h0m7 0h0m9 0h0m2 0h0m22 0h0m12 0h0m7 0h0m1 0h0m6 0h0m6 0h0m3 0h0m5 0h0m4 0h0m33 0h0m-511 1h0m40 0h0m2 0h0m1 0h0m10 0h0m3 0h0m6 0h0m1 0h0m4 0h0m2 0h0m2 0h0m10 0h0m7 0h0m1 0h0m16 0h0m276 0h0m14 0h0m1 0h0m2 0h0m2 0h0m3 0h0m2 0h0m2 0h0m1 0h0m1 0h0m7 0h0m4 0h0m2 0h0m3 0h0m1 0h0m10 0h0m2 0h0m3 0h0m8 0h0m1 0h0m15 0h0m1 0h0m-459 1h0m35 0h0m5 0h0m7 0h0m2 0h0m2 0h0m8 0h0m3 0h0m2 0h0m3 0h0m1 0h0m7 0h0m14 0h0m15 0h0m21 0h0m32 0h0m210 0h0m5 0h0m10 0h0m4 0h0m8 0h0m2 0h0m9 0h0m2 0h0m1 0h0m3 0h0m5 0h0m1 0h0m7 0h0m3 0h0m5 0h0m7 0h0m6 0h0m3 0h0m3 0h0m1 0h0m1 0h0m3 0h0m39 0h0m-477 1h0m3 0h0m1 0h0m18 0h0m4 0h0m12 0h0m4 0h0m3 0h0m2 0h0m2 0h0m9 0h0m3 0h0m35 0h0m255 0h0m13 0h0m9 0h0m3 0h0m21 0h0m3 0h0m1 0h0m4 0h0m5 0h0m1 0h0m1 0h0m1 0h0m13 0h0m2 0h0m4 0h0m-406 1h0m7 0h0m3 0h0m2 0h0m1 0h0m7 0h0m2 0h0m15 0h0m6 0h0m2 0h0m27 0h0m236 0h0m24 0h0m18 0h0m3 0h0m5 0h0m2 0h0m7 0h0m1 0h0m7 0h0m3 0h0m6 0h0m2 0h0m2 0h0m25 0h0m9 0h0m1 0h0m-455 1h0m14 0h0m6 0h0m15 0h0m12 0h0m4 0h0m3 0h0m2 0h0m2 0h0m10 0h0m4 0h0m3 0h0m4 0h0m1 0h0m2 0h0m1 0h0m10 0h0m292 0h0m7 0h0m3 0h0m8 0h0m21 0h0m3 0h0m11 0h0m4 0h0m4 0h0m5 0h0m1 0h0m1 0h0m-439 1h0m9 0h0m4 0h0m8 0h0m3 0h0m3 0h0m5 0h0m8 0h0m9 0h0m7 0h0m3 0h0m9 0h0m9 0h0m8 0h0m17 0h0m261 0h0m8 0h0m1 0h0m1 0h0m1 0h0m1 0h0m4 0h0m3 0h0m2 0h0m8 0h0m2 0h0m3 0h0m1 0h0m35 0h0m2 0h0m16 0h0m29 0h0m-473 1h0m12 0h0m1 0h0m15 0h0m2 0h0m5 0h0m5 0h0m19 0h0m18 0h0m257 0h0m7 0h0m12 0h0m3 0h0m2 0h0m3 0h0m1 0h0m2 0h0m5 0h0m2 0h0m6 0h0m10 0h0m1 0h0m1 0h0m3 0h0m4 0h0m1 0h0m4 0h0m11 0h0m3 0h0m3 0h0m5 0h0m2 0h0m4 0h0m17 0h0m16 0h0m-488 1h0m24 0h0m5 0h0m2 0h0m1 0h0m4 0h0m2 0h0m5 0h0m3 0h0m3 0h0m33 0h0m3 0h0m28 0h0m250 0h0m1 0h0m3 0h0m2 0h0m6 0h0m7 0h0m7 0h0m2 0h0m11 0h0m4 0h0m2 0h0m1 0h0m2 0h0m5 0h0m6 0h0m35 0h0m9 0h0m18 0h0m-488 1h0m17 0h0m10 0h0m10 0h0m4 0h0m10 0h0m3 0h0m2 0h0m2 0h0m5 0h0m13 0h0m1 0h0m2 0h0m6 0h0m5 0h0m276 0h0m8 0h0m5 0h0m3 0h0m3 0h0m2 0h0m22 0h0m2 0h0m1 0h0m15 0h0m20 0h0m11 0h0m-447 1h0m25 0h0m18 0h0m1 0h0m25 0h0m1 0h0m5 0h0m2 0h0m282 0h0m2 0h0m8 0h0m19 0h0m7 0h0m1 0h0m2 0h0m1 0h0m1 0h0m6 0h0m4 0h0m3 0h0m2 0h0m3 0h0m3 0h0m1 0h0m2 0h0m4 0h0m5 0h0m5 0h0m-460 1h0m30 0h0m6 0h0m1 0h0m1 0h0m2 0h0m2 0h0m10 0h0m4 0h0m1 0h0m2 0h0m9 0h0m1 0h0m6 0h0m2 0h0m6 0h0m2 0h0m8 0h0m5 0h0m3 0h0m2 0h0m26 0h0m23 0h0m232 0h0m7 0h0m4 0h0m2 0h0m3 0h0m5 0h0m4 0h0m1 0h0m10 0h0m4 0h0m1 0h0m9 0h0m6 0h0m11 0h0m8 0h0m4 0h0m2 0h0m4 0h0m3 0h0m4 0h0m-459 1h0m15 0h0m2 0h0m4 0h0m1 0h0m3 0h0m5 0h0m4 0h0m6 0h0m1 0h0m4 0h0m3 0h0m5 0h0m2 0h0m10 0h0m10 0h0m3 0h0m1 0h0m297 0h0m2 0h0m5 0h0m6 0h0m1 0h0m1 0h0m3 0h0m2 0h0m3 0h0m11 0h0m14 0h0m6 0h0m5 0h0m3 0h0m6 0h0m12 0h0m9 0h0m-432 1h0m3 0h0m5 0h0m5 0h0m2 0h0m17 0h0m7 0h0m7 0h0m12 0h0m14 0h0m49 0h0m185 0h0m22 0h0m2 0h0m4 0h0m10 0h0m17 0h0m1 0h0m4 0h0m1 0h0m1 0h0m2 0h0m11 0h0m7 0h0m4 0h0m9 0h0m5 0h0m8 0h0m3 0h0m-432 1h0m5 0h0m4 0h0m3 0h0m6 0h0m5 0h0m1 0h0m3 0h0m1 0h0m1 0h0m5 0h0m5 0h0m18 0h0m18 0h0m266 0h0m4 0h0m12 0h0m5 0h0m3 0h0m6 0h0m1 0h0m7 0h0m1 0h0m1 0h0m3 0h0m6 0h0m5 0h0m4 0h0m37 0h0m6 0h0m11 0h0m1 0h0m-450 1h0m5 0h0m3 0h0m1 0h0m2 0h0m5 0h0m8 0h0m8 0h0m1 0h0m8 0h0m3 0h0m7 0h0m4 0h0m3 0h0m11 0h0m274 0h0m7 0h0m3 0h0m6 0h0m10 0h0m2 0h0m1 0h0m6 0h0m9 0h0m7 0h0m3 0h0m3 0h0m3 0h0m11 0h0m9 0h0m3 0h0m7 0h0m-433 1h0m6 0h0m1 0h0m2 0h0m2 0h0m2 0h0m3 0h0m4 0h0m2 0h0m2 0h0m1 0h0m2 0h0m10 0h0m12 0h0m280 0h0m6 0h0m3 0h0m1 0h0m5 0h0m8 0h0m5 0h0m3 0h0m10 0h0m3 0h0m5 0h0m3 0h0m1 0h0m2 0h0m1 0h0m2 0h0m12 0h0m1 0h0m3 0h0m8 0h0m17 0h0m-442 1h0m12 0h0m3 0h0m7 0h0m4 0h0m2 0h0m12 0h0m1 0h0m2 0h0m3 0h0m2 0h0m7 0h0m1 0h0m3 0h0m6 0h0m5 0h0m6 0h0m255 0h0m7 0h0m4 0h0m17 0h0m13 0h0m2 0h0m4 0h0m2 0h0m1 0h0m2 0h0m1 0h0m1 0h0m17 0h0m1 0h0m16 0h0m13 0h0m9 0h0m1 0h0m4 0h0m-426 1h0m5 0h0m9 0h0m10 0h0m4 0h0m18 0h0m10 0h0m7 0h0m268 0h0m2 0h0m11 0h0m1 0h0m1 0h0m9 0h0m1 0h0m3 0h0m6 0h0m4 0h0m1 0h0m7 0h0m2 0h0m8 0h0m7 0h0m1 0h0m1 0h0m2 0h0m18 0h0m2 0h0m-414 1h0m3 0h0m14 0h0m2 0h0m9 0h0m5 0h0m3 0h0m5 0h0m281 0h0m20 0h0m2 0h0m1 0h0m4 0h0m7 0h0m3 0h0m3 0h0m2 0h0m1 0h0m11 0h0m3 0h0m1 0h0m1 0h0m2 0h0m4 0h0m1 0h0m17 0h0m2 0h0m5 0h0m8 0h0m3 0h0m-453 1h0m20 0h0m1 0h0m10 0h0m3 0h0m3 0h0m4 0h0m4 0h0m3 0h0m20 0h0m6 0h0m11 0h0m4 0h0m246 0h0m10 0h0m9 0h0m1 0h0m2 0h0m2 0h0m3 0h0m6 0h0m2 0h0m7 0h0m1 0h0m1 0h0m1 0h0m3 0h0m4 0h0m1 0h0m1 0h0m1 0h0m22 0h0m2 0h0m2 0h0m4 0h0m5 0h0m11 0h0m3 0h0m-428 1h0m2 0h0m9 0h0m4 0h0m2 0h0m1 0h0m1 0h0m6 0h0m6 0h0m10 0h0m4 0h0m5 0h0m14 0h0m4 0h0m6 0h0m18 0h0m214 0h0m46 0h0m4 0h0m1 0h0m6 0h0m3 0h0m4 0h0m4 0h0m1 0h0m1 0h0m1 0h0m1 0h0m2 0h0m4 0h0m1 0h0m6 0h0m17 0h0m3 0h0m6 0h0m6 0h0m11 0h0m3 0h0m5 0h0m-439 1h0m5 0h0m12 0h0m7 0h0m6 0h0m2 0h0m5 0h0m14 0h0m4 0h0m5 0h0m22 0h0m22 0h0m226 0h0m17 0h0m18 0h0m1 0h0m5 0h0m3 0h0m1 0h0m2 0h0m7 0h0m1 0h0m1 0h0m2 0h0m24 0h0m3 0h0m5 0h0m14 0h0m1 0h0m6 0h0m5 0h0m-453 1h0m9 0h0m5 0h0m5 0h0m2 0h0m3 0h0m9 0h0m1 0h0m1 0h0m2 0h0m1 0h0m4 0h0m4 0h0m8 0h0m3 0h0m4 0h0m6 0h0m6 0h0m281 0h0m14 0h0m1 0h0m2 0h0m10 0h0m5 0h0m3 0h0m6 0h0m4 0h0m3 0h0m2 0h0m26 0h0m-432 1h0m9 0h0m10 0h0m1 0h0m5 0h0m1 0h0m4 0h0m2 0h0m1 0h0m5 0h0m2 0h0m2 0h0m12 0h0m6 0h0m1 0h0m2 0h0m10 0h0m16 0h0m241 0h0m14 0h0m5 0h0m3 0h0m3 0h0m4 0h0m10 0h0m2 0h0m2 0h0m1 0h0m1 0h0m2 0h0m2 0h0m9 0h0m3 0h0m9 0h0m9 0h0m3 0h0m1 0h0m1 0h0m3 0h0m5 0h0m1 0h0m3 0h0m2 0h0m1 0h0m5 0h0m3 0h0m3 0h0m21 0h0m-461 1h0m2 0h0m12 0h0m3 0h0m2 0h0m7 0h0m2 0h0m4 0h0m1 0h0m4 0h0m1 0h0m2 0h0m6 0h0m6 0h0m5 0h0m19 0h0m2 0h0m278 0h0m3 0h0m4 0h0m4 0h0m2 0h0m3 0h0m2 0h0m3 0h0m2 0h0m1 0h0m1 0h0m1 0h0m1 0h0m1 0h0m2 0h0m3 0h0m2 0h0m1 0h0m1 0h0m1 0h0m3 0h0m11 0h0m26 0h0m-428 1h0m3 0h0m11 0h0m1 0h0m7 0h0m9 0h0m3 0h0m1 0h0m1 0h0m3 0h0m1 0h0m2 0h0m7 0h0m4 0h0m2 0h0m2 0h0m7 0h0m13 0h0m287 0h0m1 0h0m3 0h0m1 0h0m9 0h0m1 0h0m1 0h0m3 0h0m2 0h0m2 0h0m2 0h0m19 0h0m17 0h0m21 0h0m67 0h0m-517 1h0m23 0h0m1 0h0m10 0h0m3 0h0m8 0h0m1 0h0m13 0h0m3 0h0m4 0h0m7 0h0m18 0h0m268 0h0m1 0h0m4 0h0m1 0h0m1 0h0m2 0h0m1 0h0m3 0h0m1 0h0m2 0h0m3 0h0m2 0h0m7 0h0m14 0h0m1 0h0m3 0h0m8 0h0m41 0h0m-464 1h0m14 0h0m2 0h0m10 0h0m2 0h0m13 0h0m2 0h0m2 0h0m2 0h0m7 0h0m1 0h0m6 0h0m1 0h0m52 0h0m225 0h0m25 0h0m2 0h0m7 0h0m2 0h0m1 0h0m1 0h0m3 0h0m8 0h0m7 0h0m1 0h0m1 0h0m1 0h0m4 0h0m4 0h0m7 0h0m2 0h0m18 0h0m12 0h0m-433 1h0m2 0h0m13 0h0m4 0h0m5 0h0m8 0h0m2 0h0m3 0h0m2 0h0m1 0h0m1 0h0m10 0h0m11 0h0m5 0h0m13 0h0m31 0h0m251 0h0m4 0h0m3 0h0m6 0h0m2 0h0m1 0h0m2 0h0m1 0h0m1 0h0m1 0h0m3 0h0m13 0h0m6 0h0m5 0h0m3 0h0m9 0h0m13 0h0m1 0h0m-459 1h0m12 0h0m18 0h0m11 0h0m2 0h0m11 0h0m6 0h0m2 0h0m10 0h0m4 0h0m1 0h0m2 0h0m13 0h0m17 0h0m26 0h0m225 0h0m8 0h0m8 0h0m7 0h0m3 0h0m2 0h0m2 0h0m1 0h0m3 0h0m1 0h0m1 0h0m2 0h0m8 0h0m3 0h0m6 0h0m3 0h0m1 0h0m19 0h0m2 0h0m12 0h0m12 0h0m-440 1h0m7 0h0m1 0h0m7 0h0m1 0h0m3 0h0m2 0h0m3 0h0m2 0h0m2 0h0m2 0h0m3 0h0m20 0h0m297 0h0m1 0h0m7 0h0m2 0h0m3 0h0m7 0h0m1 0h0m6 0h0m1 0h0m2 0h0m1 0h0m9 0h0m4 0h0m5 0h0m3 0h0m2 0h0m1 0h0m4 0h0m3 0h0m12 0h0m4 0h0m29 0h0m-473 1h0m14 0h0m10 0h0m3 0h0m3 0h0m5 0h0m7 0h0m5 0h0m3 0h0m1 0h0m6 0h0m2 0h0m11 0h0m3 0h0m4 0h0m7 0h0m59 0h0m222 0h0m9 0h0m2 0h0m8 0h0m2 0h0m6 0h0m5 0h0m6 0h0m4 0h0m13 0h0m15 0h0m2 0h0m12 0h0m3 0h0m3 0h0m17 0h0m-454 1h0m3 0h0m9 0h0m1 0h0m3 0h0m1 0h0m2 0h0m4 0h0m16 0h0m4 0h0m13 0h0m287 0h0m10 0h0m3 0h0m4 0h0m1 0h0m1 0h0m1 0h0m1 0h0m3 0h0m3 0h0m1 0h0m1 0h0m4 0h0m9 0h0m2 0h0m1 0h0m1 0h0m1 0h0m6 0h0m3 0h0m9 0h0m1 0h0m5 0h0m15 0h0m5 0h0m-445 1h0m10 0h0m5 0h0m8 0h0m1 0h0m1 0h0m9 0h0m2 0h0m3 0h0m2 0h0m2 0h0m5 0h0m9 0h0m3 0h0m305 0h0m1 0h0m2 0h0m9 0h0m2 0h0m1 0h0m5 0h0m1 0h0m1 0h0m4 0h0m3 0h0m6 0h0m4 0h0m8 0h0m10 0h0m9 0h0m2 0h0m18 0h0m11 0h0m-449 1h0m1 0h0m5 0h0m6 0h0m9 0h0m1 0h0m2 0h0m1 0h0m4 0h0m6 0h0m1 0h0m2 0h0m1 0h0m1 0h0m1 0h0m6 0h0m2 0h0m10 0h0m10 0h0m8 0h0m241 0h0m25 0h0m6 0h0m16 0h0m1 0h0m1 0h0m2 0h0m4 0h0m2 0h0m3 0h0m1 0h0m4 0h0m14 0h0m13 0h0m9 0h0m-450 1h0m30 0h0m4 0h0m16 0h0m3 0h0m6 0h0m3 0h0m10 0h0m2 0h0m6 0h0m1 0h0m2 0h0m8 0h0m1 0h0m28 0h0m244 0h0m7 0h0m1 0h0m3 0h0m4 0h0m1 0h0m6 0h0m5 0h0m7 0h0m1 0h0m4 0h0m2 0h0m5 0h0m2 0h0m2 0h0m4 0h0m2 0h0m5 0h0m4 0h0m9 0h0m6 0h0m5 0h0m1 0h0m1 0h0m3 0h0m17 0h0m-428 1h0m5 0h0m7 0h0m7 0h0m3 0h0m4 0h0m1 0h0m6 0h0m10 0h0m1 0h0m285 0h0m13 0h0m5 0h0m1 0h0m3 0h0m1 0h0m5 0h0m1 0h0m1 0h0m3 0h0m4 0h0m2 0h0m1 0h0m1 0h0m1 0h0m5 0h0m1 0h0m6 0h0m16 0h0m1 0h0m-404 1h0m3 0h0m4 0h0m2 0h0m1 0h0m3 0h0m3 0h0m1 0h0m1 0h0m4 0h0m3 0h0m5 0h0m3 0h0m2 0h0m7 0h0m2 0h0m3 0h0m10 0h0m239 0h0m17 0h0m7 0h0m4 0h0m12 0h0m1 0h0m5 0h0m4 0h0m1 0h0m2 0h0m2 0h0m4 0h0m1 0h0m1 0h0m2 0h0m2 0h0m4 0h0m1 0h0m1 0h0m5 0h0m2 0h0m11 0h0m2 0h0m3 0h0m8 0h0m18 0h0m11 0h0m-481 1h0m39 0h0m6 0h0m3 0h0m1 0h0m6 0h0m4 0h0m6 0h0m1 0h0m3 0h0m3 0h0m7 0h0m14 0h0m10 0h0m1 0h0m2 0h0m2 0h0m26 0h0m225 0h0m24 0h0m17 0h0m2 0h0m5 0h0m1 0h0m1 0h0m2 0h0m2 0h0m4 0h0m2 0h0m5 0h0m3 0h0m1 0h0m3 0h0m2 0h0m14 0h0m30 0h0m-449 1h0m32 0h0m1 0h0m4 0h0m1 0h0m1 0h0m4 0h0m1 0h0m2 0h0m2 0h0m1 0h0m7 0h0m3 0h0m5 0h0m8 0h0m30 0h0m243 0h0m23 0h0m5 0h0m2 0h0m3 0h0m2 0h0m6 0h0m3 0h0m2 0h0m7 0h0m2 0h0m1 0h0m10 0h0m2 0h0m1 0h0m1 0h0m6 0h0m6 0h0m6 0h0m9 0h0m-451 1h0m20 0h0m5 0h0m3 0h0m6 0h0m6 0h0m2 0h0m3 0h0m1 0h0m8 0h0m2 0h0m3 0h0m4 0h0m5 0h0m5 0h0m2 0h0m7 0h0m20 0h0m15 0h0m256 0h0m14 0h0m1 0h0m2 0h0m1 0h0m4 0h0m1 0h0m1 0h0m2 0h0m1 0h0m10 0h0m9 0h0m4 0h0m2 0h0m2 0h0m12 0h0m14 0h0m3 0h0m13 0h0m-448 1h0m19 0h0m5 0h0m1 0h0m7 0h0m2 0h0m2 0h0m5 0h0m2 0h0m7 0h0m16 0h0m20 0h0m4 0h0m11 0h0m12 0h0m215 0h0m2 0h0m17 0h0m4 0h0m1 0h0m3 0h0m4 0h0m6 0h0m2 0h0m2 0h0m6 0h0m1 0h0m2 0h0m2 0h0m5 0h0m4 0h0m13 0h0m12 0h0m3 0h0m17 0h0m11 0h0m-468 1h0m13 0h0m28 0h0m1 0h0m1 0h0m2 0h0m3 0h0m1 0h0m1 0h0m1 0h0m2 0h0m1 0h0m8 0h0m3 0h0m4 0h0m1 0h0m8 0h0m21 0h0m9 0h0m1 0h0m235 0h0m23 0h0m6 0h0m4 0h0m4 0h0m3 0h0m1 0h0m1 0h0m6 0h0m7 0h0m1 0h0m1 0h0m4 0h0m5 0h0m4 0h0m1 0h0m1 0h0m9 0h0m5 0h0m2 0h0m2 0h0m14 0h0m5 0h0m10 0h0m-441 1h0m5 0h0m13 0h0m4 0h0m4 0h0m1 0h0m8 0h0m1 0h0m2 0h0m1 0h0m4 0h0m2 0h0m10 0h0m2 0h0m2 0h0m36 0h0m252 0h0m5 0h0m3 0h0m2 0h0m3 0h0m2 0h0m4 0h0m8 0h0m1 0h0m1 0h0m6 0h0m6 0h0m2 0h0m11 0h0m1 0h0m4 0h0m14 0h0m-420 1h0m3 0h0m5 0h0m1 0h0m7 0h0m1 0h0m1 0h0m2 0h0m6 0h0m1 0h0m2 0h0m1 0h0m4 0h0m1 0h0m1 0h0m10 0h0m6 0h0m1 0h0m296 0h0m2 0h0m3 0h0m9 0h0m2 0h0m2 0h0m2 0h0m1 0h0m2 0h0m2 0h0m1 0h0m1 0h0m3 0h0m3 0h0m2 0h0m2 0h0m5 0h0m2 0h0m6 0h0m13 0h0m12 0h0m-421 1h0m7 0h0m3 0h0m9 0h0m4 0h0m1 0h0m5 0h0m2 0h0m5 0h0m1 0h0m9 0h0m1 0h0m2 0h0m1 0h0m26 0h0m2 0h0m240 0h0m27 0h0m5 0h0m19 0h0m1 0h0m3 0h0m2 0h0m2 0h0m7 0h0m3 0h0m1 0h0m3 0h0m18 0h0m4 0h0m2 0h0m4 0h0m-425 1h0m3 0h0m5 0h0m5 0h0m5 0h0m3 0h0m1 0h0m13 0h0m2 0h0m2 0h0m1 0h0m1 0h0m2 0h0m9 0h0m7 0h0m4 0h0m84 0h0m186 0h0m17 0h0m13 0h0m9 0h0m1 0h0m4 0h0m2 0h0m1 0h0m1 0h0m1 0h0m5 0h0m3 0h0m1 0h0m3 0h0m7 0h0m-394 1h0m4 0h0m5 0h0m1 0h0m3 0h0m2 0h0m1 0h0m7 0h0m1 0h0m2 0h0m2 0h0m2 0h0m3 0h0m1 0h0m1 0h0m27 0h0m4 0h0m273 0h0m1 0h0m7 0h0m2 0h0m7 0h0m7 0h0m2 0h0m7 0h0m22 0h0m1 0h0m1 0h0m5 0h0m4 0h0m5 0h0m9 0h0m41 0h0m-465 1h0m6 0h0m2 0h0m1 0h0m5 0h0m2 0h0m4 0h0m2 0h0m1 0h0m2 0h0m1 0h0m1 0h0m2 0h0m3 0h0m2 0h0m1 0h0m6 0h0m2 0h0m19 0h0m14 0h0m262 0h0m8 0h0m1 0h0m6 0h0m9 0h0m8 0h0m1 0h0m2 0h0m3 0h0m9 0h0m6 0h0m11 0h0m5 0h0m4 0h0m5 0h0m17 0h0m-419 1h0m3 0h0m1 0h0m9 0h0m1 0h0m1 0h0m2 0h0m3 0h0m1 0h0m1 0h0m4 0h0m2 0h0m2 0h0m2 0h0m15 0h0m14 0h0m292 0h0m2 0h0m1 0h0m7 0h0m2 0h0m3 0h0m1 0h0m19 0h0m13 0h0m-407 1h0m14 0h0m8 0h0m7 0h0m1 0h0m5 0h0m5 0h0m280 0h0m36 0h0m5 0h0m2 0h0m3 0h0m3 0h0m3 0h0m5 0h0m5 0h0m9 0h0m13 0h0m14 0h0m-438 1h0m16 0h0m1 0h0m3 0h0m9 0h0m1 0h0m2 0h0m3 0h0m4 0h0m3 0h0m1 0h0m2 0h0m7 0h0m3 0h0m6 0h0m289 0h0m2 0h0m4 0h0m6 0h0m1 0h0m6 0h0m1 0h0m10 0h0m3 0h0m2 0h0m6 0h0m4 0h0m9 0h0m2 0h0m1 0h0m16 0h0m3 0h0m2 0h0m16 0h0m5 0h0m3 0h0m-457 1h0m11 0h0m5 0h0m19 0h0m1 0h0m2 0h0m3 0h0m4 0h0m1 0h0m10 0h0m2 0h0m1 0h0m2 0h0m4 0h0m1 0h0m1 0h0m254 0h0m27 0h0m21 0h0m14 0h0m3 0h0m1 0h0m2 0h0m9 0h0m3 0h0m4 0h0m6 0h0m2 0h0m27 0h0m-432 1h0m6 0h0m3 0h0m9 0h0m16 0h0m2 0h0m3 0h0m14 0h0m8 0h0m12 0h0m288 0h0m5 0h0m2 0h0m4 0h0m5 0h0m1 0h0m1 0h0m5 0h0m3 0h0m3 0h0m2 0h0m3 0h0m1 0h0m2 0h0m2 0h0m3 0h0m9 0h0m7 0h0m2 0h0m7 0h0m10 0h0m11 0h0m-431 1h0m2 0h0m7 0h0m5 0h0m2 0h0m7 0h0m5 0h0m7 0h0m1 0h0m4 0h0m2 0h0m2 0h0m38 0h0m218 0h0m35 0h0m2 0h0m2 0h0m7 0h0m2 0h0m2 0h0m8 0h0m4 0h0m2 0h0m1 0h0m9 0h0m7 0h0m5 0h0m1 0h0m1 0h0m12 0h0m6 0h0m1 0h0m-412 1h0m6 0h0m15 0h0m4 0h0m4 0h0m1 0h0m2 0h0m1 0h0m1 0h0m5 0h0m1 0h0m3 0h0m286 0h0m13 0h0m1 0h0m15 0h0m11 0h0m3 0h0m10 0h0m8 0h0m10 0h0m42 0h0m-449 1h0m16 0h0m11 0h0m1 0h0m1 0h0m9 0h0m9 0h0m1 0h0m1 0h0m18 0h0m254 0h0m14 0h0m3 0h0m28 0h0m5 0h0m3 0h0m2 0h0m5 0h0m1 0h0m3 0h0m2 0h0m3 0h0m1 0h0m6 0h0m1 0h0m2 0h0m1 0h0m5 0h0m6 0h0m1 0h0m12 0h0m-415 1h0m12 0h0m1 0h0m1 0h0m11 0h0m3 0h0m3 0h0m7 0h0m9 0h0m10 0h0m49 0h0m22 0h0m196 0h0m16 0h0m3 0h0m4 0h0m4 0h0m3 0h0m14 0h0m10 0h0m39 0h0m2 0h0m5 0h0m2 0h0m-433 1h0m2 0h0m10 0h0m6 0h0m1 0h0m4 0h0m5 0h0m1 0h0m1 0h0m4 0h0m4 0h0m3 0h0m4 0h0m7 0h0m14 0h0m276 0h0m17 0h0m1 0h0m5 0h0m3 0h0m22 0h0m3 0h0m24 0h0m9 0h0m14 0h0m-446 1h0m6 0h0m1 0h0m9 0h0m5 0h0m3 0h0m2 0h0m1 0h0m3 0h0m1 0h0m4 0h0m5 0h0m2 0h0m8 0h0m9 0h0m2 0h0m291 0h0m1 0h0m1 0h0m2 0h0m10 0h0m1 0h0m6 0h0m2 0h0m1 0h0m3 0h0m2 0h0m1 0h0m2 0h0m1 0h0m4 0h0m2 0h0m2 0h0m2 0h0m-393 1h0m11 0h0m2 0h0m2 0h0m2 0h0m1 0h0m2 0h0m2 0h0m11 0h0m2 0h0m1 0h0m10 0h0m5 0h0m303 0h0m9 0h0m5 0h0m1 0h0m3 0h0m1 0h0m1 0h0m6 0h0m2 0h0m9 0h0m10 0h0m14 0h0m5 0h0m-423 1h0m13 0h0m5 0h0m4 0h0m1 0h0m6 0h0m1 0h0m4 0h0m2 0h0m3 0h0m6 0h0m2 0h0m6 0h0m300 0h0m1 0h0m20 0h0m2 0h0m6 0h0m1 0h0m1 0h0m2 0h0m1 0h0m35 0h0m1 0h0m3 0h0m14 0h0m-438 1h0m2 0h0m5 0h0m1 0h0m8 0h0m9 0h0m11 0h0m1 0h0m7 0h0m2 0h0m5 0h0m3 0h0m105 0h0m178 0h0m2 0h0m10 0h0m11 0h0m16 0h0m2 0h0m1 0h0m22 0h0m9 0h0m24 0h0m4 0h0m-483 1h0m46 0h0m6 0h0m9 0h0m4 0h0m4 0h0m6 0h0m7 0h0m1 0h0m14 0h0m9 0h0m6 0h0m286 0h0m6 0h0m1 0h0m8 0h0m7 0h0m1 0h0m8 0h0m2 0h0m6 0h0m6 0h0m6 0h0m4 0h0m-397 1h0m3 0h0m2 0h0m2 0h0m5 0h0m8 0h0m4 0h0m1 0h0m4 0h0m8 0h0m4 0h0m300 0h0m32 0h0m3 0h0m8 0h0m4 0h0m3 0h0m24 0h0m-422 1h0m8 0h0m16 0h0m2 0h0m6 0h0m3 0h0m4 0h0m11 0h0m297 0h0m2 0h0m3 0h0m12 0h0m3 0h0m3 0h0m5 0h0m8 0h0m1 0h0m15 0h0m3 0h0m51 0h0m-446 1h0m6 0h0m11 0h0m2 0h0m5 0h0m5 0h0m3 0h0m9 0h0m4 0h0m287 0h0m2 0h0m3 0h0m21 0h0m5 0h0m5 0h0m6 0h0m6 0h0m5 0h0m7 0h0m12 0h0m16 0h0m-433 1h0m22 0h0m6 0h0m1 0h0m1 0h0m8 0h0m3 0h0m9 0h0m17 0h0m268 0h0m27 0h0m8 0h0m4 0h0m2 0h0m4 0h0m5 0h0m4 0h0m5 0h0m21 0h0m-410 1h0m7 0h0m9 0h0m1 0h0m1 0h0m4 0h0m3 0h0m3 0h0m1 0h0m4 0h0m2 0h0m3 0h0m15 0h0m73 0h0m195 0h0m40 0h0m5 0h0m10 0h0m4 0h0m5 0h0m1 0h0m3 0h0m1 0h0m6 0h0m-392 1h0m2 0h0m6 0h0m1 0h0m9 0h0m3 0h0m5 0h0m1 0h0m13 0h0m2 0h0m56 0h0m262 0h0m1 0h0m3 0h0m12 0h0m3 0h0m3 0h0m7 0h0m11 0h0m8 0h0m8 0h0m12 0h0m-439 1h0m7 0h0m5 0h0m6 0h0m1 0h0m7 0h0m4 0h0m3 0h0m2 0h0m7 0h0m15 0h0m4 0h0m11 0h0m1 0h0m9 0h0m268 0h0m19 0h0m19 0h0m13 0h0m24 0h0m9 0h0m18 0h0m-444 1h0m11 0h0m3 0h0m2 0h0m1 0h0m10 0h0m1 0h0m10 0h0m1 0h0m4 0h0m5 0h0m3 0h0m22 0h0m283 0h0m3 0h0m2 0h0m14 0h0m9 0h0m-387 1h0m35 0h0m1 0h0m3 0h0m2 0h0m3 0h0m6 0h0m38 0h0m253 0h0m5 0h0m13 0h0m9 0h0m2 0h0m8 0h0m8 0h0m2 0h0m9 0h0m22 0h0m7 0h0m-408 1h0m2 0h0m6 0h0m8 0h0m5 0h0m4 0h0m2 0h0m43 0h0m254 0h0m9 0h0m15 0h0m2 0h0m11 0h0m9 0h0m12 0h0m4 0h0m22 0h0m13 0h0m-426 1h0m7 0h0m18 0h0m20 0h0m11 0h0m55 0h0m230 0h0m1 0h0m7 0h0m1 0h0m7 0h0m7 0h0m3 0h0m2 0h0m1 0h0m2 0h0m14 0h0m2 0h0m4 0h0m8 0h0m-396 1h0m10 0h0m1 0h0m1 0h0m14 0h0m21 0h0m12 0h0m281 0h0m15 0h0m2 0h0m4 0h0m1 0h0m2 0h0m2 0h0m5 0h0m39 0h0m-382 1h0m329 0h0m5 0h0m5 0h0m1 0h0m2 0h0m5 0h0m32 0h0m-402 1h0m7 0h0m1 0h0m2 0h0m2 0h0m5 0h0m13 0h0m291 0h0m4 0h0m8 0h0m18 0h0m1 0h0m3 0h0m6 0h0m7 0h0m3 0h0m11 0h0m34 0h0m-425 1h0m5 0h0m2 0h0m15 0h0m1 0h0m7 0h0m20 0h0m285 0h0m8 0h0m22 0h0m3 0h0m3 0h0m9 0h0m10 0h0m10 0h0m-425 1h0m25 0h0m5 0h0m1 0h0m1 0h0m2 0h0m5 0h0m9 0h0m9 0h0m1 0h0m8 0h0m277 0h0m4 0h0m29 0h0m14 0h0m8 0h0m27 0h0m7 0h0m-401 1h0m16 0h0m5 0h0m10 0h0m5 0h0m3 0h0m303 0h0m1 0h0m28 0h0m2 0h0m4 0h0m-402 1h0m19 0h0m9 0h0m1 0h0m2 0h0m2 0h0m1 0h0m1 0h0m6 0h0m2 0h0m3 0h0m8 0h0m5 0h0m297 0h0m31 0h0m2 0h0m4 0h0m16 0h0m-397 1h0m17 0h0m4 0h0m2 0h0m1 0h0m9 0h0m1 0h0m6 0h0m322 0h0m6 0h0m3 0h0m5 0h0m-375 1h0m19 0h0m6 0h0m2 0h0m3 0h0m1 0h0m3 0h0m12 0h0m311 0h0m1 0h0m1 0h0m1 0h0m6 0h0m5 0h0m10 0h0m1 0h0m16 0h0m27 0h0m-411 1h0m2 0h0m12 0h0m3 0h0m5 0h0m12 0h0m5 0h0m285 0h0m5 0h0m3 0h0m24 0h0m14 0h0m7 0h0m13 0h0m-394 1h0m8 0h0m2 0h0m15 0h0m297 0h0m5 0h0m7 0h0m16 0h0m4 0h0m3 0h0m5 0h0m1 0h0m3 0h0m4 0h0m1 0h0m6 0h0m6 0h0m2 0h0m-374 1h0m14 0h0m3 0h0m6 0h0m304 0h0m1 0h0m44 0h0m-389 1h0m12 0h0m7 0h0m5 0h0m2 0h0m10 0h0m299 0h0m10 0h0m5 0h0m1 0h0m10 0h0m10 0h0m6 0h0m14 0h0m-384 1h0m8 0h0m10 0h0m8 0h0m4 0h0m310 0h0m2 0h0m2 0h0m5 0h0m3 0h0m7 0h0m2 0h0m14 0h0m12 0h0m-381 1h0m9 0h0m5 0h0m313 0h0m13 0h0m1 0h0m11 0h0m1 0h0m4 0h0m4 0h0m2 0h0m-381 1h0m17 0h0m42 0h0m265 0h0m44 0h0m16 0h0m1 0h0m2 0h0m11 0h0m15 0h0m-402 1h0m4 0h0m10 0h0m337 0h0m9 0h0m9 0h0m7 0h0m-382 1h0m6 0h0m11 0h0m1 0h0m2 0h0m4 0h0m6 0h0m2 0h0m53 0h0m266 0h0m2 0h0m3 0h0m9 0h0m2 0h0m8 0h0m-367 1h0m5 0h0m3 0h0m330 0h0m11 0h0m49 0h0m28 0h0m-451 1h0m16 0h0m5 0h0m14 0h0m21 0h0m74 0h0m221 0h0m22 0h0m-365 1h0m25 0h0m3 0h0m319 0h0m17 0h0m1 0h0m10 0h0m1 0h0m17 0h0m-391 1h0m21 0h0m4 0h0m4 0h0m10 0h0m319 0h0m4 0h0m16 0h0m3 0h0m7 0h0m-383 1h0m14 0h0m5 0h0m1 0h0m8 0h0m4 0h0m4 0h0m309 0h0m21 0h0m2 0h0m10 0h0m26 0h0m-406 1h0m9 0h0m8 0h0m3 0h0m9 0h0m4 0h0m10 0h0m325 0h0m1 0h0m17 0h0m-384 1h0m10 0h0m24 0h0m4 0h0m294 0h0m26 0h0m2 0h0m4 0h0m1 0h0m7 0h0m2 0h0m12 0h0m-376 1h0m5 0h0m2 0h0m6 0h0m309 0h0m29 0h0m2 0h0m10 0h0m2 0h0m35 0h0m-384 1h0m2 0h0m2 0h0m7 0h0m322 0h0m7 0h0m7 0h0m5 0h0m1 0h0m4 0h0m4 0h0m7 0h0m-381 1h0m8 0h0m4 0h0m308 0h0m32 0h0m4 0h0m-362 1h0m10 0h0m9 0h0m326 0h0m19 0h0m1 0h0m6 0h0m1 0h0m15 0h0m-414 1h0m37 0h0m11 0h0m12 0h0m18 0h0m261 0h0m29 0h0m17 0h0m3 0h0m3 0h0m-336 1h0m4 0h0m4 0h0m3 0h0m300 0h0m16 0h0m3 0h0m10 0h0m3 0h0m6 0h0m-380 1h0m13 0h0m329 0h0m1 0h0m10 0h0m10 0h0m9 0h0m8 0h0m10 0h0m-372 1h0m4 0h0m5 0h0m1 0h0m293 0h0m-321 1h0m15 0h0m76 0h0m269 0h0m4 0h0m11 0h0m8 0h0m-365 1h0m12 0h0m6 0h0m327 0h0m14 0h0m5 0h0m15 0h0m-408 1h0m28 0h0m6 0h0m4 0h0m2 0h0m290 0h0m42 0h0m5 0h0m12 0h0m1 0h0m33 0h0m-411 1h0m28 0h0m325 0h0m10 0h0m3 0h0m9 0h0m24 0h0m-421 1h0m38 0h0m9 0h0m1 0h0m4 0h0m4 0h0m2 0h0m300 0h0m17 0h0m13 0h0m2 0h0m12 0h0m8 0h0m-370 1h0m28 0h0m307 0h0m9 0h0m2 0h0m-360 1h0m6 0h0m9 0h0m23 0h0m306 0h0m7 0h0m7 0h0m7 0h0m16 0h0m-368 1h0m2 0h0m-8 2h0m3 0h0m6 0h0m10 0h0m313 0h0m23 0h0m1 0h0m-372 1h0m367 0h0m20 0h0m2 0h0m-364 1h0m1 0h0m9 0h0m1 0h0m341 0h0m4 0h0m2 0h0m11 0h0m-364 1h0m1 0h0m348 0h0m-36 1h0m-324 1h0m9 0h0m-1 1h0m325 0h0m15 0h0m13 0h0m-15 1h0m17 0h0m3 0h0m61 47h0m-358 9h0m36 3h0m-24 3h0m44 1h0m293 0h0m-351 1h0m20 0h0m6 0h0m3 0h0m13 2h0m369 0h0m-44 1h0m-325 1h0m-3 1h0m350 0h0m-348 1h0m345 0h0m-359 1h0m5 0h0m334 0h0m21 0h0m-355 1h0m334 0h0m-334 1h0m2 0h0m299 0h0m27 0h0m-354 1h0m26 0h0m1 0h0m-9 1h0m18 0h0m-24 1h0m12 0h0m7 0h0m8 0h0m-16 1h0m2 0h0m14 0h0m317 0h0m-355 1h0m8 0h0m3 0h0m3 0h0m29 0h0m5 0h0m304 0h0m16 0h0m-372 1h0m13 0h0m3 0h0m2 0h0m2 0h0m1 0h0m3 0h0m5 0h0m2 0h0m1 0h0m2 0h0m11 0h0m10 0h0m275 0h0m27 0h0m-350 1h0m2 0h0m9 0h0m1 0h0m5 0h0m5 0h0m337 0h0m1 0h0m-357 1h0m2 0h0m2 0h0m2 0h0m2 0h0m10 0h0m2 0h0m3 0h0m324 0h0m5 0h0m-356 1h0m2 0h0m1 0h0m1 0h0m2 0h0m14 0h0m8 0h0m7 0h0m5 0h0m304 0h0m1 0h0m4 0h0m15 0h0m4 0h0m-373 1h0m6 0h0m1 0h0m2 0h0m2 0h0m10 0h0m1 0h0m5 0h0m7 0h0m297 0h0m28 0h0m11 0h0m-374 1h0m20 0h0m5 0h0m6 0h0m5 0h0m10 0h0m292 0h0m1 0h0m-327 1h0m2 0h0m1 0h0m1 0h0m2 0h0m2 0h0m6 0h0m1 0h0m4 0h0m3 0h0m9 0h0m301 0h0m14 0h0m6 0h0m-395 1h0m40 0h0m4 0h0m1 0h0m18 0h0m3 0h0m4 0h0m21 0h0m282 0h0m6 0h0m31 0h0m-367 1h0m2 0h0m8 0h0m14 0h0m2 0h0m3 0h0m314 0h0m6 0h0m4 0h0m-347 1h0m5 0h0m5 0h0m9 0h0m2 0h0m6 0h0m334 0h0m-373 1h0m6 0h0m11 0h0m1 0h0m3 0h0m2 0h0m3 0h0m9 0h0m300 0h0m27 0h0m-371 1h0m14 0h0m3 0h0m2 0h0m2 0h0m3 0h0m1 0h0m14 0h0m1 0h0m25 0h0m287 0h0m1 0h0m36 0h0m-385 1h0m8 0h0m10 0h0m3 0h0m2 0h0m2 0h0m8 0h0m4 0h0m1 0h0m9 0h0m6 0h0m10 0h0m264 0h0m4 0h0m22 0h0m10 0h0m-366 1h0m1 0h0m6 0h0m2 0h0m8 0h0m4 0h0m6 0h0m5 0h0m1 0h0m14 0h0m306 0h0m16 0h0m13 0h0m-377 1h0m2 0h0m4 0h0m2 0h0m2 0h0m3 0h0m1 0h0m3 0h0m3 0h0m2 0h0m1 0h0m3 0h0m2 0h0m10 0h0m2 0h0m4 0h0m301 0h0m2 0h0m3 0h0m3 0h0m4 0h0m4 0h0m9 0h0m-370 1h0m6 0h0m3 0h0m3 0h0m3 0h0m1 0h0m3 0h0m1 0h0m1 0h0m5 0h0m3 0h0m6 0h0m308 0h0m14 0h0m-368 1h0m16 0h0m11 0h0m1 0h0m8 0h0m7 0h0m1 0h0m10 0h0m1 0h0m9 0h0m285 0h0m5 0h0m1 0h0m4 0h0m6 0h0m4 0h0m10 0h0m-364 1h0m2 0h0m2 0h0m3 0h0m2 0h0m1 0h0m1 0h0m1 0h0m12 0h0m9 0h0m297 0h0m3 0h0m3 0h0m14 0h0m19 0h0m-371 1h0m3 0h0m1 0h0m9 0h0m1 0h0m4 0h0m1 0h0m1 0h0m1 0h0m6 0h0m3 0h0m1 0h0m309 0h0m1 0h0m6 0h0m9 0h0m2 0h0m2 0h0m-376 1h0m3 0h0m11 0h0m1 0h0m1 0h0m1 0h0m4 0h0m3 0h0m2 0h0m1 0h0m1 0h0m1 0h0m1 0h0m2 0h0m2 0h0m2 0h0m3 0h0m1 0h0m3 0h0m5 0h0m7 0h0m2 0h0m8 0h0m280 0h0m5 0h0m2 0h0m2 0h0m1 0h0m2 0h0m1 0h0m5 0h0m1 0h0m26 0h0m4 0h0m2 0h0m4 0h0m-417 1h0m16 0h0m9 0h0m2 0h0m2 0h0m1 0h0m4 0h0m1 0h0m5 0h0m2 0h0m11 0h0m3 0h0m1 0h0m2 0h0m2 0h0m1 0h0m2 0h0m290 0h0m22 0h0m1 0h0m1 0h0m1 0h0m2 0h0m9 0h0m1 0h0m5 0h0m12 0h0m-390 1h0m1 0h0m7 0h0m8 0h0m1 0h0m3 0h0m3 0h0m4 0h0m4 0h0m2 0h0m1 0h0m4 0h0m2 0h0m3 0h0m1 0h0m13 0h0m246 0h0m8 0h0m34 0h0m11 0h0m3 0h0m3 0h0m3 0h0m1 0h0m3 0h0m3 0h0m3 0h0m1 0h0m-395 1h0m29 0h0m4 0h0m4 0h0m1 0h0m2 0h0m2 0h0m1 0h0m1 0h0m1 0h0m2 0h0m2 0h0m1 0h0m1 0h0m7 0h0m3 0h0m5 0h0m1 0h0m3 0h0m268 0h0m26 0h0m5 0h0m1 0h0m1 0h0m3 0h0m5 0h0m5 0h0m1 0h0m1 0h0m14 0h0m17 0h0m-402 1h0m1 0h0m17 0h0m1 0h0m2 0h0m3 0h0m1 0h0m1 0h0m1 0h0m1 0h0m1 0h0m2 0h0m1 0h0m1 0h0m3 0h0m1 0h0m2 0h0m6 0h0m1 0h0m6 0h0m18 0h0m273 0h0m4 0h0m10 0h0m2 0h0m10 0h0m1 0h0m3 0h0m7 0h0m-378 1h0m4 0h0m2 0h0m3 0h0m5 0h0m7 0h0m1 0h0m1 0h0m1 0h0m2 0h0m1 0h0m1 0h0m2 0h0m1 0h0m1 0h0m1 0h0m3 0h0m1 0h0m5 0h0m3 0h0m1 0h0m4 0h0m6 0h0m4 0h0m4 0h0m291 0h0m1 0h0m3 0h0m1 0h0m5 0h0m1 0h0m1 0h0m1 0h0m5 0h0m-391 1h0m15 0h0m10 0h0m9 0h0m4 0h0m1 0h0m1 0h0m2 0h0m1 0h0m1 0h0m1 0h0m1 0h0m2 0h0m1 0h0m3 0h0m3 0h0m2 0h0m1 0h0m2 0h0m2 0h0m11 0h0m288 0h0m5 0h0m7 0h0m1 0h0m1 0h0m1 0h0m6 0h0m6 0h0m8 0h0m3 0h0m4 0h0m-382 1h0m11 0h0m1 0h0m4 0h0m2 0h0m3 0h0m1 0h0m5 0h0m1 0h0m1 0h0m1 0h0m1 0h0m1 0h0m4 0h0m2 0h0m2 0h0m3 0h0m3 0h0m1 0h0m24 0h0m267 0h0m5 0h0m4 0h0m7 0h0m4 0h0m14 0h0m7 0h0m3 0h0m-390 1h0m8 0h0m1 0h0m10 0h0m2 0h0m1 0h0m2 0h0m4 0h0m4 0h0m1 0h0m1 0h0m1 0h0m1 0h0m3 0h0m1 0h0m1 0h0m3 0h0m4 0h0m1 0h0m2 0h0m2 0h0m2 0h0m8 0h0m2 0h0m1 0h0m1 0h0m261 0h0m17 0h0m17 0h0m3 0h0m4 0h0m3 0h0m5 0h0m11 0h0m16 0h0m-405 1h0m8 0h0m5 0h0m8 0h0m1 0h0m2 0h0m2 0h0m1 0h0m2 0h0m2 0h0m2 0h0m2 0h0m1 0h0m1 0h0m1 0h0m1 0h0m1 0h0m1 0h0m4 0h0m1 0h0m3 0h0m6 0h0m284 0h0m7 0h0m4 0h0m4 0h0m2 0h0m3 0h0m1 0h0m8 0h0m19 0h0m10 0h0m-402 1h0m14 0h0m7 0h0m2 0h0m2 0h0m3 0h0m2 0h0m2 0h0m1 0h0m1 0h0m4 0h0m3 0h0m2 0h0m3 0h0m2 0h0m2 0h0m1 0h0m3 0h0m7 0h0m271 0h0m3 0h0m13 0h0m8 0h0m3 0h0m5 0h0m4 0h0m2 0h0m5 0h0m2 0h0m1 0h0m5 0h0m7 0h0m11 0h0m1 0h0m7 0h0m1 0h0m-404 1h0m3 0h0m12 0h0m4 0h0m1 0h0m3 0h0m2 0h0m3 0h0m2 0h0m1 0h0m1 0h0m1 0h0m1 0h0m2 0h0m1 0h0m2 0h0m3 0h0m2 0h0m2 0h0m1 0h0m5 0h0m2 0h0m1 0h0m275 0h0m18 0h0m5 0h0m3 0h0m1 0h0m2 0h0m2 0h0m2 0h0m4 0h0m4 0h0m3 0h0m3 0h0m1 0h0m1 0h0m6 0h0m4 0h0m1 0h0m1 0h0m-406 1h0m15 0h0m1 0h0m7 0h0m2 0h0m1 0h0m1 0h0m1 0h0m3 0h0m3 0h0m1 0h0m2 0h0m3 0h0m6 0h0m4 0h0m19 0h0m3 0h0m3 0h0m294 0h0m8 0h0m1 0h0m1 0h0m3 0h0m1 0h0m4 0h0m2 0h0m1 0h0m2 0h0m7 0h0m-408 1h0m2 0h0m16 0h0m4 0h0m4 0h0m1 0h0m8 0h0m2 0h0m4 0h0m2 0h0m1 0h0m1 0h0m2 0h0m3 0h0m1 0h0m1 0h0m2 0h0m4 0h0m3 0h0m1 0h0m6 0h0m4 0h0m1 0h0m4 0h0m13 0h0m272 0h0m4 0h0m1 0h0m4 0h0m2 0h0m11 0h0m1 0h0m1 0h0m7 0h0m2 0h0m1 0h0m13 0h0m5 0h0m-392 1h0m8 0h0m10 0h0m8 0h0m2 0h0m2 0h0m2 0h0m2 0h0m1 0h0m2 0h0m2 0h0m1 0h0m1 0h0m13 0h0m1 0h0m4 0h0m277 0h0m11 0h0m3 0h0m1 0h0m1 0h0m7 0h0m1 0h0m1 0h0m1 0h0m6 0h0m1 0h0m2 0h0m1 0h0m4 0h0m15 0h0m3 0h0m12 0h0m-410 1h0m3 0h0m1 0h0m11 0h0m7 0h0m1 0h0m2 0h0m2 0h0m3 0h0m1 0h0m1 0h0m1 0h0m2 0h0m1 0h0m1 0h0m4 0h0m7 0h0m2 0h0m1 0h0m3 0h0m1 0h0m15 0h0m277 0h0m6 0h0m4 0h0m3 0h0m3 0h0m7 0h0m1 0h0m3 0h0m1 0h0m1 0h0m3 0h0m23 0h0m-428 1h0m2 0h0m41 0h0m1 0h0m6 0h0m3 0h0m1 0h0m1 0h0m1 0h0m3 0h0m2 0h0m1 0h0m1 0h0m3 0h0m4 0h0m2 0h0m1 0h0m2 0h0m1 0h0m8 0h0m259 0h0m19 0h0m11 0h0m8 0h0m3 0h0m3 0h0m3 0h0m4 0h0m2 0h0m1 0h0m3 0h0m3 0h0m2 0h0m4 0h0m8 0h0m2 0h0m9 0h0m-419 1h0m9 0h0m2 0h0m14 0h0m3 0h0m10 0h0m1 0h0m3 0h0m1 0h0m2 0h0m1 0h0m4 0h0m1 0h0m1 0h0m1 0h0m1 0h0m3 0h0m1 0h0m2 0h0m3 0h0m1 0h0m1 0h0m2 0h0m5 0h0m8 0h0m273 0h0m5 0h0m3 0h0m4 0h0m2 0h0m7 0h0m5 0h0m1 0h0m2 0h0m3 0h0m1 0h0m2 0h0m2 0h0m6 0h0m3 0h0m6 0h0m21 0h0m-417 1h0m4 0h0m3 0h0m5 0h0m10 0h0m7 0h0m4 0h0m3 0h0m1 0h0m1 0h0m1 0h0m1 0h0m7 0h0m2 0h0m1 0h0m1 0h0m3 0h0m1 0h0m6 0h0m6 0h0m287 0h0m3 0h0m5 0h0m4 0h0m1 0h0m1 0h0m3 0h0m3 0h0m1 0h0m3 0h0m2 0h0m1 0h0m8 0h0m9 0h0m1 0h0m-397 1h0m11 0h0m5 0h0m5 0h0m3 0h0m3 0h0m5 0h0m1 0h0m3 0h0m6 0h0m1 0h0m28 0h0m267 0h0m5 0h0m4 0h0m7 0h0m6 0h0m1 0h0m5 0h0m2 0h0m2 0h0m1 0h0m4 0h0m1 0h0m3 0h0m1 0h0m1 0h0m3 0h0m2 0h0m19 0h0m-429 1h0m16 0h0m3 0h0m1 0h0m3 0h0m2 0h0m6 0h0m7 0h0m3 0h0m1 0h0m1 0h0m4 0h0m4 0h0m2 0h0m1 0h0m2 0h0m1 0h0m2 0h0m2 0h0m3 0h0m8 0h0m2 0h0m1 0h0m5 0h0m17 0h0m260 0h0m19 0h0m2 0h0m2 0h0m6 0h0m2 0h0m5 0h0m4 0h0m4 0h0m3 0h0m1 0h0m2 0h0m3 0h0m3 0h0m3 0h0m1 0h0m2 0h0m6 0h0m-427 1h0m5 0h0m4 0h0m3 0h0m10 0h0m4 0h0m14 0h0m1 0h0m5 0h0m4 0h0m4 0h0m2 0h0m2 0h0m3 0h0m2 0h0m3 0h0m1 0h0m3 0h0m2 0h0m1 0h0m2 0h0m1 0h0m2 0h0m1 0h0m10 0h0m261 0h0m21 0h0m6 0h0m5 0h0m1 0h0m1 0h0m1 0h0m1 0h0m5 0h0m1 0h0m2 0h0m3 0h0m5 0h0m2 0h0m3 0h0m1 0h0m3 0h0m2 0h0m3 0h0m7 0h0m-421 1h0m20 0h0m1 0h0m2 0h0m9 0h0m4 0h0m2 0h0m1 0h0m1 0h0m6 0h0m1 0h0m3 0h0m1 0h0m1 0h0m2 0h0m1 0h0m1 0h0m1 0h0m3 0h0m1 0h0m1 0h0m2 0h0m3 0h0m7 0h0m5 0h0m2 0h0m3 0h0m1 0h0m14 0h0m268 0h0m8 0h0m5 0h0m2 0h0m2 0h0m3 0h0m1 0h0m4 0h0m1 0h0m1 0h0m1 0h0m6 0h0m4 0h0m1 0h0m18 0h0m-442 1h0m39 0h0m2 0h0m3 0h0m1 0h0m1 0h0m1 0h0m3 0h0m1 0h0m4 0h0m12 0h0m2 0h0m3 0h0m1 0h0m2 0h0m6 0h0m4 0h0m5 0h0m2 0h0m4 0h0m8 0h0m8 0h0m270 0h0m21 0h0m4 0h0m4 0h0m2 0h0m1 0h0m6 0h0m4 0h0m3 0h0m3 0h0m6 0h0m-410 1h0m13 0h0m4 0h0m3 0h0m5 0h0m6 0h0m1 0h0m1 0h0m1 0h0m1 0h0m4 0h0m1 0h0m1 0h0m1 0h0m3 0h0m1 0h0m2 0h0m1 0h0m2 0h0m2 0h0m1 0h0m2 0h0m1 0h0m1 0h0m3 0h0m9 0h0m3 0h0m1 0h0m1 0h0m1 0h0m3 0h0m272 0h0m21 0h0m6 0h0m1 0h0m3 0h0m3 0h0m1 0h0m3 0h0m1 0h0m1 0h0m1 0h0m4 0h0m1 0h0m2 0h0m4 0h0m-422 1h0m18 0h0m11 0h0m7 0h0m2 0h0m1 0h0m6 0h0m2 0h0m3 0h0m7 0h0m7 0h0m5 0h0m1 0h0m1 0h0m4 0h0m4 0h0m2 0h0m4 0h0m3 0h0m3 0h0m2 0h0m245 0h0m42 0h0m3 0h0m9 0h0m2 0h0m3 0h0m1 0h0m4 0h0m2 0h0m4 0h0m2 0h0m2 0h0m2 0h0m1 0h0m1 0h0m6 0h0m2 0h0m1 0h0m2 0h0m10 0h0m-428 1h0m7 0h0m3 0h0m7 0h0m4 0h0m12 0h0m1 0h0m1 0h0m4 0h0m4 0h0m2 0h0m1 0h0m1 0h0m1 0h0m2 0h0m1 0h0m1 0h0m2 0h0m2 0h0m3 0h0m2 0h0m1 0h0m4 0h0m2 0h0m2 0h0m1 0h0m4 0h0m1 0h0m5 0h0m277 0h0m17 0h0m3 0h0m4 0h0m3 0h0m1 0h0m4 0h0m1 0h0m1 0h0m1 0h0m4 0h0m2 0h0m6 0h0m3 0h0m1 0h0m1 0h0m5 0h0m6 0h0m1 0h0m7 0h0m-416 1h0m1 0h0m2 0h0m1 0h0m1 0h0m3 0h0m8 0h0m1 0h0m2 0h0m3 0h0m1 0h0m3 0h0m2 0h0m3 0h0m2 0h0m2 0h0m1 0h0m4 0h0m1 0h0m1 0h0m3 0h0m9 0h0m1 0h0m1 0h0m12 0h0m27 0h0m238 0h0m12 0h0m8 0h0m8 0h0m15 0h0m5 0h0m1 0h0m4 0h0m1 0h0m2 0h0m2 0h0m1 0h0m2 0h0m7 0h0m2 0h0m2 0h0m2 0h0m9 0h0m-423 1h0m11 0h0m1 0h0m1 0h0m8 0h0m4 0h0m3 0h0m6 0h0m5 0h0m5 0h0m4 0h0m4 0h0m2 0h0m1 0h0m1 0h0m1 0h0m1 0h0m5 0h0m1 0h0m1 0h0m1 0h0m290 0h0m4 0h0m14 0h0m3 0h0m8 0h0m1 0h0m4 0h0m1 0h0m1 0h0m1 0h0m2 0h0m1 0h0m3 0h0m2 0h0m4 0h0m4 0h0m3 0h0m13 0h0m-433 1h0m1 0h0m11 0h0m7 0h0m4 0h0m3 0h0m4 0h0m3 0h0m2 0h0m1 0h0m5 0h0m1 0h0m2 0h0m2 0h0m2 0h0m3 0h0m6 0h0m6 0h0m2 0h0m7 0h0m1 0h0m2 0h0m259 0h0m10 0h0m25 0h0m8 0h0m1 0h0m2 0h0m6 0h0m2 0h0m1 0h0m1 0h0m2 0h0m9 0h0m1 0h0m4 0h0m1 0h0m2 0h0m5 0h0m1 0h0m4 0h0m5 0h0m-405 1h0m1 0h0m2 0h0m5 0h0m3 0h0m4 0h0m1 0h0m4 0h0m1 0h0m1 0h0m3 0h0m1 0h0m2 0h0m1 0h0m2 0h0m1 0h0m1 0h0m2 0h0m10 0h0m2 0h0m2 0h0m4 0h0m10 0h0m3 0h0m8 0h0m254 0h0m34 0h0m8 0h0m2 0h0m1 0h0m5 0h0m2 0h0m1 0h0m1 0h0m4 0h0m5 0h0m7 0h0m5 0h0m5 0h0m7 0h0m-434 1h0m4 0h0m8 0h0m2 0h0m3 0h0m7 0h0m2 0h0m5 0h0m12 0h0m5 0h0m1 0h0m3 0h0m2 0h0m3 0h0m2 0h0m1 0h0m4 0h0m1 0h0m3 0h0m1 0h0m1 0h0m1 0h0m1 0h0m4 0h0m4 0h0m3 0h0m4 0h0m250 0h0m9 0h0m8 0h0m16 0h0m2 0h0m2 0h0m4 0h0m4 0h0m6 0h0m1 0h0m7 0h0m2 0h0m3 0h0m10 0h0m2 0h0m3 0h0m5 0h0m19 0h0m-437 1h0m3 0h0m12 0h0m1 0h0m9 0h0m4 0h0m2 0h0m3 0h0m3 0h0m2 0h0m2 0h0m3 0h0m7 0h0m3 0h0m8 0h0m2 0h0m1 0h0m4 0h0m15 0h0m5 0h0m283 0h0m4 0h0m4 0h0m6 0h0m1 0h0m2 0h0m2 0h0m2 0h0m3 0h0m1 0h0m2 0h0m4 0h0m1 0h0m1 0h0m1 0h0m4 0h0m2 0h0m4 0h0m2 0h0m2 0h0m9 0h0m-428 1h0m1 0h0m6 0h0m14 0h0m7 0h0m2 0h0m4 0h0m5 0h0m6 0h0m2 0h0m3 0h0m5 0h0m3 0h0m1 0h0m7 0h0m4 0h0m3 0h0m18 0h0m287 0h0m4 0h0m4 0h0m4 0h0m1 0h0m1 0h0m2 0h0m2 0h0m1 0h0m4 0h0m3 0h0m5 0h0m2 0h0m15 0h0m-429 1h0m10 0h0m5 0h0m4 0h0m1 0h0m1 0h0m6 0h0m2 0h0m1 0h0m1 0h0m2 0h0m3 0h0m12 0h0m5 0h0m5 0h0m6 0h0m3 0h0m2 0h0m3 0h0m8 0h0m270 0h0m2 0h0m10 0h0m3 0h0m5 0h0m11 0h0m1 0h0m5 0h0m1 0h0m6 0h0m1 0h0m1 0h0m3 0h0m5 0h0m5 0h0m-416 1h0m2 0h0m9 0h0m3 0h0m1 0h0m1 0h0m2 0h0m11 0h0m7 0h0m1 0h0m3 0h0m1 0h0m4 0h0m1 0h0m3 0h0m5 0h0m2 0h0m3 0h0m6 0h0m10 0h0m17 0h0m282 0h0m6 0h0m3 0h0m1 0h0m2 0h0m2 0h0m2 0h0m2 0h0m1 0h0m1 0h0m1 0h0m1 0h0m1 0h0m1 0h0m1 0h0m2 0h0m1 0h0m4 0h0m9 0h0m1 0h0m1 0h0m2 0h0m1 0h0m2 0h0m10 0h0m4 0h0m-433 1h0m11 0h0m1 0h0m6 0h0m1 0h0m2 0h0m2 0h0m1 0h0m2 0h0m5 0h0m2 0h0m2 0h0m6 0h0m1 0h0m2 0h0m1 0h0m4 0h0m10 0h0m2 0h0m1 0h0m3 0h0m5 0h0m4 0h0m1 0h0m7 0h0m15 0h0m257 0h0m1 0h0m8 0h0m24 0h0m1 0h0m4 0h0m1 0h0m2 0h0m1 0h0m1 0h0m3 0h0m5 0h0m1 0h0m3 0h0m3 0h0m5 0h0m5 0h0m-430 1h0m3 0h0m8 0h0m1 0h0m1 0h0m4 0h0m4 0h0m4 0h0m3 0h0m7 0h0m5 0h0m1 0h0m8 0h0m2 0h0m1 0h0m1 0h0m1 0h0m4 0h0m1 0h0m1 0h0m5 0h0m5 0h0m7 0h0m287 0h0m8 0h0m10 0h0m6 0h0m2 0h0m9 0h0m2 0h0m1 0h0m4 0h0m1 0h0m2 0h0m1 0h0m5 0h0m2 0h0m2 0h0m11 0h0m-419 1h0m7 0h0m3 0h0m1 0h0m3 0h0m7 0h0m1 0h0m3 0h0m2 0h0m1 0h0m9 0h0m5 0h0m5 0h0m6 0h0m5 0h0m1 0h0m2 0h0m1 0h0m5 0h0m1 0h0m9 0h0m16 0h0m249 0h0m10 0h0m2 0h0m6 0h0m13 0h0m6 0h0m7 0h0m2 0h0m3 0h0m3 0h0m1 0h0m1 0h0m1 0h0m1 0h0m1 0h0m1 0h0m3 0h0m3 0h0m1 0h0m4 0h0m4 0h0m2 0h0m6 0h0m3 0h0m-432 1h0m3 0h0m13 0h0m16 0h0m2 0h0m8 0h0m3 0h0m1 0h0m2 0h0m4 0h0m8 0h0m6 0h0m6 0h0m12 0h0m219 0h0m40 0h0m6 0h0m18 0h0m6 0h0m2 0h0m18 0h0m3 0h0m3 0h0m4 0h0m12 0h0m1 0h0m9 0h0m5 0h0m10 0h0m1 0h0m-444 1h0m4 0h0m11 0h0m4 0h0m4 0h0m7 0h0m1 0h0m8 0h0m5 0h0m7 0h0m3 0h0m2 0h0m8 0h0m2 0h0m5 0h0m8 0h0m2 0h0m266 0h0m4 0h0m12 0h0m12 0h0m20 0h0m3 0h0m1 0h0m1 0h0m1 0h0m1 0h0m1 0h0m1 0h0m2 0h0m2 0h0m1 0h0m1 0h0m7 0h0m2 0h0m10 0h0m13 0h0m3 0h0m-442 1h0m3 0h0m3 0h0m7 0h0m9 0h0m1 0h0m3 0h0m5 0h0m2 0h0m4 0h0m5 0h0m6 0h0m4 0h0m2 0h0m1 0h0m2 0h0m5 0h0m4 0h0m3 0h0m12 0h0m249 0h0m23 0h0m16 0h0m17 0h0m1 0h0m5 0h0m3 0h0m2 0h0m4 0h0m3 0h0m1 0h0m9 0h0m1 0h0m6 0h0m10 0h0m9 0h0m-454 1h0m6 0h0m7 0h0m20 0h0m8 0h0m4 0h0m15 0h0m6 0h0m2 0h0m1 0h0m4 0h0m15 0h0m17 0h0m249 0h0m8 0h0m6 0h0m1 0h0m8 0h0m16 0h0m2 0h0m4 0h0m9 0h0m2 0h0m1 0h0m1 0h0m3 0h0m7 0h0m1 0h0m1 0h0m1 0h0m4 0h0m1 0h0m10 0h0m1 0h0m13 0h0m1 0h0m-450 1h0m28 0h0m1 0h0m2 0h0m4 0h0m4 0h0m5 0h0m1 0h0m9 0h0m5 0h0m5 0h0m5 0h0m1 0h0m8 0h0m1 0h0m7 0h0m1 0h0m21 0h0m234 0h0m37 0h0m5 0h0m5 0h0m2 0h0m5 0h0m1 0h0m6 0h0m2 0h0m2 0h0m1 0h0m3 0h0m1 0h0m2 0h0m7 0h0m3 0h0m2 0h0m1 0h0m7 0h0m-434 1h0m8 0h0m6 0h0m1 0h0m2 0h0m4 0h0m11 0h0m3 0h0m2 0h0m8 0h0m6 0h0m5 0h0m5 0h0m2 0h0m3 0h0m1 0h0m4 0h0m9 0h0m7 0h0m268 0h0m4 0h0m8 0h0m9 0h0m3 0h0m3 0h0m4 0h0m9 0h0m4 0h0m3 0h0m3 0h0m2 0h0m1 0h0m4 0h0m1 0h0m11 0h0m5 0h0m7 0h0m18 0h0m-452 1h0m16 0h0m7 0h0m2 0h0m2 0h0m1 0h0m7 0h0m4 0h0m8 0h0m27 0h0m1 0h0m19 0h0m262 0h0m2 0h0m1 0h0m9 0h0m5 0h0m4 0h0m1 0h0m3 0h0m4 0h0m1 0h0m3 0h0m9 0h0m4 0h0m3 0h0m2 0h0m3 0h0m4 0h0m5 0h0m-421 1h0m3 0h0m1 0h0m6 0h0m5 0h0m1 0h0m2 0h0m3 0h0m1 0h0m1 0h0m2 0h0m13 0h0m1 0h0m1 0h0m2 0h0m15 0h0m3 0h0m1 0h0m14 0h0m3 0h0m262 0h0m3 0h0m7 0h0m12 0h0m1 0h0m4 0h0m1 0h0m2 0h0m2 0h0m8 0h0m8 0h0m1 0h0m5 0h0m4 0h0m1 0h0m2 0h0m1 0h0m11 0h0m3 0h0m5 0h0m2 0h0m1 0h0m1 0h0m3 0h0m1 0h0m5 0h0m4 0h0m-452 1h0m6 0h0m8 0h0m9 0h0m1 0h0m4 0h0m5 0h0m6 0h0m2 0h0m3 0h0m19 0h0m2 0h0m5 0h0m1 0h0m1 0h0m6 0h0m1 0h0m3 0h0m1 0h0m24 0h0m27 0h0m245 0h0m9 0h0m4 0h0m1 0h0m2 0h0m9 0h0m4 0h0m3 0h0m1 0h0m4 0h0m3 0h0m2 0h0m1 0h0m1 0h0m5 0h0m2 0h0m19 0h0m1 0h0m2 0h0m2 0h0m-446 1h0m13 0h0m2 0h0m9 0h0m4 0h0m1 0h0m1 0h0m2 0h0m7 0h0m5 0h0m11 0h0m4 0h0m4 0h0m1 0h0m15 0h0m3 0h0m3 0h0m5 0h0m5 0h0m22 0h0m244 0h0m7 0h0m7 0h0m2 0h0m14 0h0m4 0h0m2 0h0m3 0h0m2 0h0m1 0h0m2 0h0m3 0h0m3 0h0m1 0h0m1 0h0m2 0h0m1 0h0m3 0h0m1 0h0m6 0h0m6 0h0m25 0h0m-456 1h0m1 0h0m7 0h0m8 0h0m2 0h0m9 0h0m4 0h0m9 0h0m4 0h0m5 0h0m2 0h0m15 0h0m2 0h0m2 0h0m1 0h0m2 0h0m3 0h0m3 0h0m3 0h0m3 0h0m19 0h0m10 0h0m274 0h0m3 0h0m6 0h0m7 0h0m1 0h0m3 0h0m1 0h0m1 0h0m2 0h0m3 0h0m4 0h0m1 0h0m4 0h0m8 0h0m9 0h0m4 0h0m-448 1h0m8 0h0m9 0h0m1 0h0m8 0h0m7 0h0m1 0h0m4 0h0m1 0h0m4 0h0m5 0h0m4 0h0m3 0h0m3 0h0m2 0h0m13 0h0m3 0h0m16 0h0m7 0h0m249 0h0m5 0h0m2 0h0m4 0h0m6 0h0m4 0h0m19 0h0m2 0h0m1 0h0m2 0h0m8 0h0m2 0h0m14 0h0m4 0h0m24 0h0m2 0h0m6 0h0m-455 1h0m9 0h0m4 0h0m3 0h0m5 0h0m2 0h0m5 0h0m1 0h0m13 0h0m1 0h0m5 0h0m3 0h0m3 0h0m5 0h0m11 0h0m1 0h0m2 0h0m9 0h0m4 0h0m7 0h0m266 0h0m1 0h0m3 0h0m12 0h0m2 0h0m8 0h0m3 0h0m8 0h0m6 0h0m1 0h0m4 0h0m1 0h0m9 0h0m6 0h0m9 0h0m7 0h0m16 0h0m-459 1h0m6 0h0m13 0h0m6 0h0m11 0h0m1 0h0m1 0h0m2 0h0m1 0h0m5 0h0m10 0h0m1 0h0m5 0h0m3 0h0m1 0h0m2 0h0m12 0h0m4 0h0m267 0h0m12 0h0m17 0h0m5 0h0m24 0h0m1 0h0m8 0h0m4 0h0m7 0h0m19 0h0m3 0h0m-459 1h0m11 0h0m17 0h0m2 0h0m4 0h0m3 0h0m2 0h0m14 0h0m2 0h0m3 0h0m7 0h0m2 0h0m4 0h0m7 0h0m3 0h0m4 0h0m5 0h0m2 0h0m21 0h0m254 0h0m7 0h0m1 0h0m2 0h0m11 0h0m2 0h0m5 0h0m17 0h0m2 0h0m2 0h0m3 0h0m5 0h0m7 0h0m1 0h0m3 0h0m1 0h0m3 0h0m23 0h0m10 0h0m-447 1h0m10 0h0m1 0h0m2 0h0m2 0h0m5 0h0m3 0h0m5 0h0m5 0h0m2 0h0m11 0h0m2 0h0m13 0h0m10 0h0m20 0h0m224 0h0m24 0h0m7 0h0m2 0h0m8 0h0m7 0h0m4 0h0m5 0h0m3 0h0m7 0h0m1 0h0m5 0h0m2 0h0m4 0h0m2 0h0m1 0h0m2 0h0m5 0h0m5 0h0m1 0h0m1 0h0m1 0h0m6 0h0m4 0h0m4 0h0m2 0h0m10 0h0m-448 1h0m9 0h0m1 0h0m5 0h0m2 0h0m1 0h0m18 0h0m16 0h0m4 0h0m5 0h0m1 0h0m11 0h0m11 0h0m275 0h0m13 0h0m1 0h0m3 0h0m20 0h0m2 0h0m1 0h0m2 0h0m3 0h0m1 0h0m4 0h0m1 0h0m6 0h0m9 0h0m5 0h0m14 0h0m-455 1h0m1 0h0m14 0h0m8 0h0m3 0h0m1 0h0m9 0h0m9 0h0m22 0h0m8 0h0m5 0h0m33 0h0m228 0h0m14 0h0m9 0h0m1 0h0m3 0h0m3 0h0m7 0h0m1 0h0m8 0h0m3 0h0m1 0h0m2 0h0m3 0h0m2 0h0m4 0h0m1 0h0m8 0h0m13 0h0m7 0h0m14 0h0m2 0h0m1 0h0m5 0h0m1 0h0m-462 1h0m28 0h0m5 0h0m3 0h0m12 0h0m9 0h0m9 0h0m1 0h0m28 0h0m3 0h0m266 0h0m16 0h0m2 0h0m2 0h0m6 0h0m2 0h0m13 0h0m3 0h0m2 0h0m3 0h0m1 0h0m4 0h0m3 0h0m6 0h0m4 0h0m9 0h0m2 0h0m2 0h0m11 0h0m11 0h0m-452 1h0m17 0h0m3 0h0m14 0h0m2 0h0m15 0h0m2 0h0m319 0h0m10 0h0m8 0h0m4 0h0m1 0h0m2 0h0m1 0h0m15 0h0m7 0h0m4 0h0m2 0h0m4 0h0m9 0h0m13 0h0m-458 1h0m9 0h0m2 0h0m6 0h0m1 0h0m1 0h0m2 0h0m7 0h0m1 0h0m10 0h0m11 0h0m2 0h0m2 0h0m7 0h0m14 0h0m8 0h0m4 0h0m2 0h0m1 0h0m268 0h0m10 0h0m11 0h0m14 0h0m5 0h0m1 0h0m5 0h0m6 0h0m13 0h0m3 0h0m2 0h0m2 0h0m7 0h0m13 0h0m2 0h0m3 0h0m-440 1h0m8 0h0m2 0h0m8 0h0m1 0h0m3 0h0m5 0h0m5 0h0m15 0h0m14 0h0m6 0h0m8 0h0m5 0h0m13 0h0m2 0h0m264 0h0m14 0h0m4 0h0m3 0h0m10 0h0m2 0h0m4 0h0m1 0h0m5 0h0m5 0h0m2 0h0m6 0h0m1 0h0m2 0h0m2 0h0m9 0h0m2 0h0m-437 1h0m3 0h0m7 0h0m14 0h0m5 0h0m1 0h0m15 0h0m4 0h0m5 0h0m20 0h0m3 0h0m4 0h0m282 0h0m2 0h0m7 0h0m3 0h0m10 0h0m8 0h0m6 0h0m1 0h0m3 0h0m3 0h0m2 0h0m1 0h0m1 0h0m7 0h0m6 0h0m1 0h0m14 0h0m-413 1h0m2 0h0m6 0h0m1 0h0m1 0h0m10 0h0m6 0h0m2 0h0m301 0h0m13 0h0m5 0h0m1 0h0m15 0h0m6 0h0m3 0h0m1 0h0m6 0h0m17 0h0m16 0h0m1 0h0m8 0h0m9 0h0m2 0h0m-476 1h0m9 0h0m11 0h0m5 0h0m4 0h0m3 0h0m4 0h0m2 0h0m14 0h0m4 0h0m11 0h0m5 0h0m3 0h0m3 0h0m290 0h0m6 0h0m11 0h0m12 0h0m8 0h0m6 0h0m2 0h0m2 0h0m13 0h0m6 0h0m1 0h0m2 0h0m15 0h0m11 0h0m10 0h0m-456 1h0m8 0h0m8 0h0m1 0h0m1 0h0m4 0h0m10 0h0m2 0h0m2 0h0m6 0h0m13 0h0m5 0h0m12 0h0m4 0h0m273 0h0m1 0h0m12 0h0m9 0h0m3 0h0m3 0h0m7 0h0m2 0h0m5 0h0m10 0h0m1 0h0m5 0h0m4 0h0m2 0h0m2 0h0m9 0h0m2 0h0m4 0h0m4 0h0m14 0h0m17 0h0m-480 1h0m13 0h0m3 0h0m10 0h0m1 0h0m1 0h0m6 0h0m1 0h0m3 0h0m2 0h0m3 0h0m1 0h0m2 0h0m3 0h0m7 0h0m7 0h0m15 0h0m4 0h0m10 0h0m37 0h0m228 0h0m16 0h0m1 0h0m6 0h0m2 0h0m6 0h0m1 0h0m1 0h0m7 0h0m2 0h0m1 0h0m2 0h0m2 0h0m13 0h0m5 0h0m20 0h0m10 0h0m1 0h0m11 0h0m-435 1h0m3 0h0m1 0h0m5 0h0m1 0h0m1 0h0m12 0h0m8 0h0m4 0h0m19 0h0m4 0h0m1 0h0m30 0h0m251 0h0m9 0h0m3 0h0m6 0h0m10 0h0m7 0h0m6 0h0m4 0h0m2 0h0m1 0h0m1 0h0m4 0h0m4 0h0m8 0h0m1 0h0m3 0h0m2 0h0m6 0h0m7 0h0m28 0h0m-473 1h0m17 0h0m4 0h0m5 0h0m6 0h0m2 0h0m3 0h0m10 0h0m3 0h0m299 0h0m1 0h0m7 0h0m6 0h0m8 0h0m4 0h0m1 0h0m3 0h0m1 0h0m2 0h0m2 0h0m1 0h0m10 0h0m1 0h0m5 0h0m4 0h0m8 0h0m13 0h0m6 0h0m2 0h0m9 0h0m8 0h0m-432 1h0m4 0h0m2 0h0m6 0h0m6 0h0m3 0h0m1 0h0m2 0h0m2 0h0m3 0h0m4 0h0m4 0h0m1 0h0m4 0h0m2 0h0m3 0h0m18 0h0m5 0h0m256 0h0m11 0h0m6 0h0m5 0h0m1 0h0m3 0h0m6 0h0m2 0h0m3 0h0m3 0h0m3 0h0m2 0h0m1 0h0m4 0h0m3 0h0m2 0h0m10 0h0m1 0h0m2 0h0m4 0h0m7 0h0m5 0h0m10 0h0m1 0h0m7 0h0m4 0h0m-425 1h0m1 0h0m1 0h0m4 0h0m1 0h0m3 0h0m6 0h0m21 0h0m23 0h0m1 0h0m261 0h0m21 0h0m1 0h0m10 0h0m3 0h0m1 0h0m1 0h0m1 0h0m2 0h0m9 0h0m27 0h0m5 0h0m3 0h0m2 0h0m-430 1h0m13 0h0m18 0h0m9 0h0m3 0h0m5 0h0m17 0h0m24 0h0m19 0h0m250 0h0m8 0h0m13 0h0m2 0h0m3 0h0m3 0h0m3 0h0m3 0h0m4 0h0m6 0h0m33 0h0m2 0h0m1 0h0m-473 1h0m33 0h0m13 0h0m9 0h0m2 0h0m2 0h0m1 0h0m9 0h0m13 0h0m6 0h0m21 0h0m290 0h0m10 0h0m1 0h0m6 0h0m5 0h0m2 0h0m1 0h0m6 0h0m3 0h0m13 0h0m16 0h0m9 0h0m2 0h0m-429 1h0m4 0h0m5 0h0m3 0h0m5 0h0m2 0h0m2 0h0m4 0h0m7 0h0m3 0h0m8 0h0m6 0h0m46 0h0m233 0h0m6 0h0m4 0h0m5 0h0m4 0h0m2 0h0m2 0h0m1 0h0m1 0h0m2 0h0m2 0h0m5 0h0m7 0h0m4 0h0m2 0h0m10 0h0m7 0h0m1 0h0m2 0h0m3 0h0m4 0h0m1 0h0m2 0h0m4 0h0m6 0h0m15 0h0m22 0h0m-472 1h0m9 0h0m27 0h0m2 0h0m2 0h0m1 0h0m5 0h0m2 0h0m4 0h0m7 0h0m4 0h0m2 0h0m4 0h0m14 0h0m288 0h0m2 0h0m11 0h0m2 0h0m9 0h0m11 0h0m15 0h0m5 0h0m6 0h0m21 0h0m-435 1h0m8 0h0m4 0h0m3 0h0m16 0h0m3 0h0m7 0h0m14 0h0m288 0h0m1 0h0m1 0h0m2 0h0m9 0h0m9 0h0m1 0h0m2 0h0m1 0h0m1 0h0m5 0h0m2 0h0m7 0h0m8 0h0m2 0h0m2 0h0m13 0h0m25 0h0m13 0h0m-452 1h0m4 0h0m1 0h0m8 0h0m10 0h0m9 0h0m5 0h0m1 0h0m1 0h0m2 0h0m13 0h0m6 0h0m8 0h0m261 0h0m37 0h0m8 0h0m5 0h0m4 0h0m26 0h0m11 0h0m5 0h0m4 0h0m16 0h0m8 0h0m-440 1h0m8 0h0m2 0h0m10 0h0m2 0h0m13 0h0m21 0h0m5 0h0m273 0h0m26 0h0m4 0h0m2 0h0m1 0h0m2 0h0m3 0h0m1 0h0m21 0h0m1 0h0m9 0h0m5 0h0m1 0h0m19 0h0m1 0h0m1 0h0m6 0h0m-461 1h0m18 0h0m5 0h0m4 0h0m5 0h0m6 0h0m3 0h0m9 0h0m16 0h0m288 0h0m2 0h0m20 0h0m2 0h0m15 0h0m4 0h0m6 0h0m5 0h0m24 0h0m5 0h0m8 0h0m1 0h0m3 0h0m10 0h0m-442 1h0m16 0h0m13 0h0m2 0h0m4 0h0m5 0h0m4 0h0m1 0h0m11 0h0m2 0h0m274 0h0m13 0h0m2 0h0m1 0h0m3 0h0m2 0h0m2 0h0m2 0h0m1 0h0m4 0h0m1 0h0m1 0h0m5 0h0m1 0h0m2 0h0m8 0h0m2 0h0m3 0h0m2 0h0m10 0h0m18 0h0m1 0h0m-438 1h0m13 0h0m15 0h0m1 0h0m4 0h0m3 0h0m7 0h0m1 0h0m3 0h0m1 0h0m5 0h0m4 0h0m29 0h0m281 0h0m3 0h0m4 0h0m2 0h0m1 0h0m5 0h0m2 0h0m8 0h0m7 0h0m5 0h0m2 0h0m2 0h0m6 0h0m1 0h0m3 0h0m9 0h0m1 0h0m6 0h0m6 0h0m6 0h0m7 0h0m2 0h0m-453 1h0m24 0h0m1 0h0m1 0h0m3 0h0m1 0h0m4 0h0m3 0h0m5 0h0m2 0h0m8 0h0m315 0h0m10 0h0m3 0h0m13 0h0m2 0h0m6 0h0m5 0h0m2 0h0m13 0h0m2 0h0m9 0h0m8 0h0m-431 1h0m16 0h0m2 0h0m4 0h0m4 0h0m2 0h0m2 0h0m8 0h0m1 0h0m1 0h0m6 0h0m1 0h0m3 0h0m293 0h0m8 0h0m2 0h0m1 0h0m3 0h0m1 0h0m20 0h0m1 0h0m14 0h0m2 0h0m8 0h0m11 0h0m1 0h0m16 0h0m6 0h0m2 0h0m6 0h0m-446 1h0m11 0h0m3 0h0m6 0h0m6 0h0m6 0h0m29 0h0m22 0h0m264 0h0m5 0h0m8 0h0m9 0h0m5 0h0m20 0h0m2 0h0m9 0h0m7 0h0m4 0h0m21 0h0m10 0h0m-454 1h0m20 0h0m7 0h0m3 0h0m3 0h0m6 0h0m6 0h0m6 0h0m1 0h0m1 0h0m13 0h0m14 0h0m12 0h0m10 0h0m2 0h0m5 0h0m257 0h0m4 0h0m12 0h0m4 0h0m4 0h0m9 0h0m7 0h0m1 0h0m11 0h0m1 0h0m1 0h0m2 0h0m15 0h0m3 0h0m6 0h0m4 0h0m1 0h0m-447 1h0m13 0h0m11 0h0m1 0h0m1 0h0m4 0h0m2 0h0m5 0h0m2 0h0m7 0h0m1 0h0m5 0h0m3 0h0m12 0h0m43 0h0m238 0h0m6 0h0m6 0h0m15 0h0m5 0h0m1 0h0m6 0h0m1 0h0m4 0h0m3 0h0m1 0h0m2 0h0m2 0h0m10 0h0m4 0h0m33 0h0m8 0h0m-443 1h0m9 0h0m2 0h0m8 0h0m3 0h0m2 0h0m2 0h0m5 0h0m20 0h0m28 0h0m248 0h0m11 0h0m5 0h0m3 0h0m7 0h0m5 0h0m1 0h0m2 0h0m2 0h0m8 0h0m1 0h0m2 0h0m2 0h0m2 0h0m2 0h0m4 0h0m3 0h0m6 0h0m1 0h0m11 0h0m3 0h0m2 0h0m17 0h0m3 0h0m11 0h0m-454 1h0m10 0h0m12 0h0m7 0h0m7 0h0m4 0h0m1 0h0m9 0h0m13 0h0m22 0h0m14 0h0m254 0h0m15 0h0m1 0h0m6 0h0m5 0h0m6 0h0m5 0h0m1 0h0m1 0h0m3 0h0m4 0h0m2 0h0m1 0h0m5 0h0m11 0h0m5 0h0m5 0h0m11 0h0m13 0h0m2 0h0m-441 1h0m11 0h0m11 0h0m18 0h0m2 0h0m2 0h0m1 0h0m1 0h0m9 0h0m1 0h0m28 0h0m14 0h0m245 0h0m6 0h0m1 0h0m18 0h0m4 0h0m2 0h0m3 0h0m4 0h0m2 0h0m1 0h0m1 0h0m2 0h0m1 0h0m3 0h0m9 0h0m7 0h0m4 0h0m4 0h0m8 0h0m1 0h0m4 0h0m2 0h0m1 0h0m5 0h0m-434 1h0m6 0h0m3 0h0m6 0h0m12 0h0m1 0h0m40 0h0m269 0h0m5 0h0m2 0h0m8 0h0m6 0h0m3 0h0m8 0h0m1 0h0m2 0h0m12 0h0m2 0h0m6 0h0m43 0h0m1 0h0m2 0h0m13 0h0m-460 1h0m7 0h0m10 0h0m6 0h0m4 0h0m4 0h0m2 0h0m2 0h0m5 0h0m2 0h0m1 0h0m4 0h0m4 0h0m14 0h0m4 0h0m3 0h0m6 0h0m11 0h0m257 0h0m6 0h0m10 0h0m7 0h0m1 0h0m1 0h0m2 0h0m3 0h0m5 0h0m17 0h0m2 0h0m4 0h0m5 0h0m10 0h0m2 0h0m29 0h0m-457 1h0m33 0h0m1 0h0m1 0h0m2 0h0m2 0h0m1 0h0m2 0h0m2 0h0m1 0h0m4 0h0m6 0h0m3 0h0m301 0h0m2 0h0m3 0h0m8 0h0m7 0h0m1 0h0m1 0h0m3 0h0m1 0h0m2 0h0m4 0h0m4 0h0m1 0h0m1 0h0m9 0h0m14 0h0m12 0h0m8 0h0m3 0h0m3 0h0m-432 1h0m7 0h0m2 0h0m2 0h0m3 0h0m6 0h0m8 0h0m3 0h0m4 0h0m4 0h0m3 0h0m58 0h0m5 0h0m14 0h0m212 0h0m8 0h0m17 0h0m10 0h0m1 0h0m1 0h0m3 0h0m1 0h0m2 0h0m9 0h0m5 0h0m25 0h0m2 0h0m5 0h0m5 0h0m8 0h0m1 0h0m6 0h0m2 0h0m4 0h0m-433 1h0m2 0h0m4 0h0m4 0h0m2 0h0m4 0h0m2 0h0m2 0h0m4 0h0m24 0h0m10 0h0m230 0h0m45 0h0m12 0h0m1 0h0m1 0h0m3 0h0m1 0h0m5 0h0m1 0h0m9 0h0m3 0h0m12 0h0m10 0h0m17 0h0m3 0h0m15 0h0m20 0h0m-461 1h0m4 0h0m8 0h0m18 0h0m5 0h0m5 0h0m2 0h0m4 0h0m3 0h0m2 0h0m37 0h0m23 0h0m219 0h0m12 0h0m4 0h0m5 0h0m1 0h0m2 0h0m8 0h0m1 0h0m2 0h0m3 0h0m3 0h0m1 0h0m4 0h0m1 0h0m3 0h0m1 0h0m5 0h0m4 0h0m2 0h0m1 0h0m3 0h0m1 0h0m7 0h0m8 0h0m12 0h0m13 0h0m-440 1h0m9 0h0m4 0h0m13 0h0m1 0h0m13 0h0m2 0h0m8 0h0m6 0h0m6 0h0m6 0h0m266 0h0m11 0h0m3 0h0m5 0h0m4 0h0m3 0h0m7 0h0m4 0h0m2 0h0m9 0h0m6 0h0m9 0h0m1 0h0m24 0h0m8 0h0m6 0h0m11 0h0m8 0h0m-462 1h0m9 0h0m11 0h0m4 0h0m7 0h0m2 0h0m2 0h0m7 0h0m2 0h0m3 0h0m2 0h0m10 0h0m4 0h0m9 0h0m5 0h0m23 0h0m241 0h0m15 0h0m5 0h0m5 0h0m21 0h0m9 0h0m6 0h0m4 0h0m2 0h0m1 0h0m9 0h0m12 0h0m33 0h0m-460 1h0m11 0h0m6 0h0m6 0h0m2 0h0m11 0h0m3 0h0m13 0h0m34 0h0m261 0h0m2 0h0m8 0h0m6 0h0m6 0h0m4 0h0m1 0h0m1 0h0m1 0h0m1 0h0m2 0h0m3 0h0m1 0h0m9 0h0m8 0h0m2 0h0m17 0h0m6 0h0m6 0h0m7 0h0m9 0h0m-447 1h0m7 0h0m2 0h0m7 0h0m12 0h0m8 0h0m4 0h0m5 0h0m3 0h0m1 0h0m2 0h0m45 0h0m5 0h0m250 0h0m7 0h0m5 0h0m1 0h0m16 0h0m2 0h0m1 0h0m5 0h0m3 0h0m2 0h0m1 0h0m4 0h0m1 0h0m13 0h0m1 0h0m11 0h0m4 0h0m17 0h0m3 0h0m1 0h0m2 0h0m20 0h0m-493 1h0m34 0h0m1 0h0m1 0h0m5 0h0m2 0h0m1 0h0m2 0h0m8 0h0m5 0h0m1 0h0m4 0h0m4 0h0m3 0h0m7 0h0m3 0h0m8 0h0m4 0h0m1 0h0m8 0h0m11 0h0m228 0h0m13 0h0m3 0h0m13 0h0m6 0h0m4 0h0m1 0h0m9 0h0m6 0h0m9 0h0m2 0h0m7 0h0m2 0h0m3 0h0m3 0h0m5 0h0m13 0h0m19 0h0m15 0h0m3 0h0m-461 1h0m17 0h0m2 0h0m2 0h0m2 0h0m2 0h0m1 0h0m4 0h0m2 0h0m2 0h0m3 0h0m10 0h0m7 0h0m54 0h0m244 0h0m5 0h0m5 0h0m12 0h0m1 0h0m4 0h0m2 0h0m3 0h0m5 0h0m6 0h0m9 0h0m12 0h0m12 0h0m9 0h0m13 0h0m-464 1h0m14 0h0m13 0h0m8 0h0m5 0h0m1 0h0m1 0h0m1 0h0m2 0h0m1 0h0m1 0h0m1 0h0m3 0h0m10 0h0m3 0h0m10 0h0m36 0h0m248 0h0m11 0h0m5 0h0m2 0h0m4 0h0m3 0h0m1 0h0m1 0h0m4 0h0m1 0h0m1 0h0m1 0h0m1 0h0m6 0h0m1 0h0m21 0h0m15 0h0m25 0h0m4 0h0m1 0h0m1 0h0m11 0h0m-481 1h0m13 0h0m6 0h0m14 0h0m5 0h0m17 0h0m4 0h0m1 0h0m2 0h0m7 0h0m4 0h0m1 0h0m57 0h0m234 0h0m17 0h0m2 0h0m4 0h0m17 0h0m3 0h0m1 0h0m9 0h0m15 0h0m7 0h0m2 0h0m11 0h0m7 0h0m5 0h0m3 0h0m-445 1h0m11 0h0m3 0h0m2 0h0m7 0h0m6 0h0m3 0h0m2 0h0m2 0h0m3 0h0m1 0h0m1 0h0m13 0h0m2 0h0m292 0h0m4 0h0m7 0h0m1 0h0m5 0h0m5 0h0m3 0h0m4 0h0m2 0h0m3 0h0m4 0h0m1 0h0m2 0h0m1 0h0m3 0h0m2 0h0m3 0h0m25 0h0m9 0h0m1 0h0m3 0h0m6 0h0m3 0h0m-433 1h0m7 0h0m11 0h0m9 0h0m1 0h0m4 0h0m1 0h0m16 0h0m6 0h0m3 0h0m28 0h0m8 0h0m243 0h0m2 0h0m5 0h0m3 0h0m4 0h0m2 0h0m5 0h0m5 0h0m1 0h0m5 0h0m1 0h0m4 0h0m2 0h0m4 0h0m3 0h0m27 0h0m1 0h0m3 0h0m20 0h0m25 0h0m-466 1h0m21 0h0m8 0h0m4 0h0m7 0h0m1 0h0m25 0h0m261 0h0m13 0h0m10 0h0m12 0h0m1 0h0m1 0h0m6 0h0m4 0h0m2 0h0m1 0h0m2 0h0m5 0h0m7 0h0m3 0h0m5 0h0m21 0h0m24 0h0m-454 1h0m7 0h0m21 0h0m6 0h0m8 0h0m5 0h0m3 0h0m2 0h0m4 0h0m52 0h0m243 0h0m9 0h0m1 0h0m3 0h0m1 0h0m2 0h0m1 0h0m1 0h0m4 0h0m5 0h0m2 0h0m9 0h0m9 0h0m1 0h0m1 0h0m8 0h0m17 0h0m3 0h0m8 0h0m5 0h0m3 0h0m14 0h0m-460 1h0m22 0h0m2 0h0m24 0h0m6 0h0m59 0h0m230 0h0m2 0h0m5 0h0m8 0h0m5 0h0m5 0h0m15 0h0m2 0h0m8 0h0m4 0h0m7 0h0m1 0h0m1 0h0m1 0h0m15 0h0m4 0h0m37 0h0m-458 1h0m8 0h0m15 0h0m1 0h0m2 0h0m7 0h0m2 0h0m1 0h0m1 0h0m5 0h0m2 0h0m9 0h0m11 0h0m279 0h0m3 0h0m12 0h0m5 0h0m1 0h0m3 0h0m1 0h0m1 0h0m6 0h0m2 0h0m5 0h0m1 0h0m2 0h0m4 0h0m7 0h0m4 0h0m1 0h0m12 0h0m2 0h0m15 0h0m15 0h0m9 0h0m19 0h0m-453 1h0m7 0h0m1 0h0m4 0h0m3 0h0m4 0h0m2 0h0m2 0h0m36 0h0m11 0h0m4 0h0m243 0h0m9 0h0m1 0h0m7 0h0m2 0h0m1 0h0m10 0h0m1 0h0m2 0h0m2 0h0m1 0h0m2 0h0m3 0h0m3 0h0m8 0h0m12 0h0m7 0h0m2 0h0m10 0h0m19 0h0m13 0h0m2 0h0m11 0h0m-464 1h0m6 0h0m17 0h0m5 0h0m8 0h0m1 0h0m8 0h0m1 0h0m9 0h0m17 0h0m277 0h0m1 0h0m17 0h0m3 0h0m4 0h0m2 0h0m6 0h0m3 0h0m1 0h0m2 0h0m5 0h0m2 0h0m8 0h0m23 0h0m5 0h0m4 0h0m8 0h0m6 0h0m-428 1h0m1 0h0m4 0h0m3 0h0m2 0h0m1 0h0m5 0h0m22 0h0m62 0h0m213 0h0m10 0h0m5 0h0m8 0h0m6 0h0m2 0h0m3 0h0m7 0h0m2 0h0m3 0h0m1 0h0m1 0h0m1 0h0m17 0h0m2 0h0m3 0h0m1 0h0m14 0h0m30 0h0m-440 1h0m3 0h0m3 0h0m4 0h0m3 0h0m2 0h0m1 0h0m1 0h0m3 0h0m1 0h0m5 0h0m4 0h0m4 0h0m14 0h0m1 0h0m16 0h0m258 0h0m5 0h0m12 0h0m15 0h0m2 0h0m3 0h0m9 0h0m4 0h0m3 0h0m2 0h0m3 0h0m1 0h0m5 0h0m1 0h0m9 0h0m22 0h0m4 0h0m8 0h0m4 0h0m6 0h0m6 0h0m-473 1h0m3 0h0m6 0h0m6 0h0m2 0h0m2 0h0m13 0h0m7 0h0m6 0h0m3 0h0m2 0h0m6 0h0m2 0h0m2 0h0m3 0h0m1 0h0m1 0h0m14 0h0m259 0h0m2 0h0m17 0h0m2 0h0m13 0h0m1 0h0m9 0h0m1 0h0m1 0h0m6 0h0m9 0h0m1 0h0m3 0h0m11 0h0m7 0h0m5 0h0m17 0h0m7 0h0m1 0h0m23 0h0m-492 1h0m34 0h0m17 0h0m9 0h0m12 0h0m5 0h0m1 0h0m9 0h0m1 0h0m291 0h0m11 0h0m3 0h0m7 0h0m3 0h0m1 0h0m2 0h0m1 0h0m1 0h0m3 0h0m10 0h0m3 0h0m3 0h0m11 0h0m2 0h0m5 0h0m6 0h0m5 0h0m28 0h0m-449 1h0m3 0h0m10 0h0m1 0h0m3 0h0m19 0h0m6 0h0m1 0h0m3 0h0m5 0h0m18 0h0m284 0h0m13 0h0m4 0h0m5 0h0m7 0h0m1 0h0m2 0h0m12 0h0m9 0h0m12 0h0m5 0h0m3 0h0m20 0h0m41 0h0m-497 1h0m24 0h0m4 0h0m3 0h0m6 0h0m1 0h0m1 0h0m1 0h0m2 0h0m7 0h0m2 0h0m5 0h0m12 0h0m18 0h0m19 0h0m242 0h0m7 0h0m5 0h0m1 0h0m1 0h0m7 0h0m3 0h0m5 0h0m1 0h0m3 0h0m2 0h0m3 0h0m1 0h0m1 0h0m4 0h0m4 0h0m13 0h0m4 0h0m18 0h0m3 0h0m33 0h0m-478 1h0m12 0h0m14 0h0m5 0h0m2 0h0m3 0h0m20 0h0m2 0h0m11 0h0m3 0h0m13 0h0m272 0h0m23 0h0m5 0h0m3 0h0m2 0h0m3 0h0m3 0h0m12 0h0m1 0h0m4 0h0m1 0h0m1 0h0m45 0h0m2 0h0m2 0h0m-458 1h0m8 0h0m5 0h0m1 0h0m7 0h0m2 0h0m1 0h0m1 0h0m12 0h0m2 0h0m2 0h0m6 0h0m3 0h0m2 0h0m4 0h0m303 0h0m18 0h0m1 0h0m7 0h0m20 0h0m2 0h0m27 0h0m4 0h0m6 0h0m-424 1h0m8 0h0m8 0h0m2 0h0m4 0h0m2 0h0m2 0h0m21 0h0m8 0h0m264 0h0m23 0h0m7 0h0m8 0h0m1 0h0m4 0h0m2 0h0m8 0h0m2 0h0m5 0h0m6 0h0m1 0h0m12 0h0m25 0h0m6 0h0m3 0h0m-446 1h0m8 0h0m7 0h0m7 0h0m5 0h0m5 0h0m9 0h0m11 0h0m28 0h0m262 0h0m4 0h0m4 0h0m2 0h0m3 0h0m8 0h0m1 0h0m6 0h0m6 0h0m5 0h0m1 0h0m2 0h0m4 0h0m3 0h0m19 0h0m17 0h0m6 0h0m8 0h0m19 0h0m-503 1h0m35 0h0m10 0h0m2 0h0m15 0h0m1 0h0m3 0h0m4 0h0m7 0h0m8 0h0m2 0h0m17 0h0m2 0h0m67 0h0m220 0h0m12 0h0m10 0h0m3 0h0m1 0h0m3 0h0m1 0h0m22 0h0m1 0h0m12 0h0m21 0h0m2 0h0m10 0h0m-474 1h0m18 0h0m3 0h0m13 0h0m1 0h0m15 0h0m1 0h0m5 0h0m2 0h0m1 0h0m5 0h0m7 0h0m1 0h0m40 0h0m243 0h0m9 0h0m17 0h0m6 0h0m18 0h0m2 0h0m3 0h0m-390 1h0m5 0h0m4 0h0m17 0h0m16 0h0m6 0h0m1 0h0m1 0h0m3 0h0m10 0h0m5 0h0m282 0h0m18 0h0m10 0h0m12 0h0m2 0h0m1 0h0m2 0h0m1 0h0m3 0h0m1 0h0m4 0h0m22 0h0m-434 1h0m25 0h0m2 0h0m5 0h0m8 0h0m2 0h0m1 0h0m2 0h0m8 0h0m5 0h0m1 0h0m8 0h0m2 0h0m1 0h0m29 0h0m260 0h0m14 0h0m3 0h0m4 0h0m9 0h0m1 0h0m3 0h0m6 0h0m1 0h0m3 0h0m5 0h0m6 0h0m9 0h0m15 0h0m12 0h0m-398 1h0m1 0h0m2 0h0m1 0h0m1 0h0m1 0h0m12 0h0m42 0h0m247 0h0m23 0h0m1 0h0m4 0h0m5 0h0m1 0h0m8 0h0m4 0h0m41 0h0m-415 1h0m1 0h0m1 0h0m2 0h0m1 0h0m2 0h0m7 0h0m11 0h0m1 0h0m5 0h0m4 0h0m2 0h0m3 0h0m13 0h0m20 0h0m246 0h0m13 0h0m11 0h0m1 0h0m6 0h0m3 0h0m10 0h0m5 0h0m12 0h0m1 0h0m13 0h0m14 0h0m-434 1h0m15 0h0m11 0h0m3 0h0m1 0h0m6 0h0m4 0h0m7 0h0m10 0h0m1 0h0m2 0h0m4 0h0m27 0h0m268 0h0m8 0h0m9 0h0m9 0h0m5 0h0m9 0h0m4 0h0m1 0h0m6 0h0m1 0h0m11 0h0m25 0h0m13 0h0m-443 1h0m4 0h0m2 0h0m13 0h0m1 0h0m7 0h0m5 0h0m10 0h0m2 0h0m8 0h0m40 0h0m226 0h0m34 0h0m12 0h0m2 0h0m1 0h0m4 0h0m4 0h0m17 0h0m4 0h0m8 0h0m-417 1h0m9 0h0m7 0h0m2 0h0m19 0h0m1 0h0m6 0h0m7 0h0m5 0h0m2 0h0m10 0h0m34 0h0m9 0h0m253 0h0m4 0h0m1 0h0m11 0h0m8 0h0m4 0h0m6 0h0m23 0h0m-437 1h0m30 0h0m5 0h0m10 0h0m7 0h0m4 0h0m2 0h0m4 0h0m8 0h0m301 0h0m4 0h0m1 0h0m2 0h0m1 0h0m5 0h0m1 0h0m2 0h0m8 0h0m4 0h0m6 0h0m7 0h0m12 0h0m6 0h0m24 0h0m16 0h0m-431 1h0m7 0h0m5 0h0m5 0h0m7 0h0m24 0h0m27 0h0m255 0h0m13 0h0m6 0h0m3 0h0m11 0h0m9 0h0m10 0h0m50 0h0m5 0h0m-452 1h0m5 0h0m9 0h0m6 0h0m7 0h0m4 0h0m5 0h0m6 0h0m6 0h0m21 0h0m1 0h0m277 0h0m1 0h0m5 0h0m4 0h0m4 0h0m4 0h0m2 0h0m3 0h0m1 0h0m1 0h0m1 0h0m8 0h0m1 0h0m6 0h0m38 0h0m-416 1h0m1 0h0m6 0h0m7 0h0m1 0h0m3 0h0m2 0h0m2 0h0m5 0h0m5 0h0m2 0h0m5 0h0m4 0h0m10 0h0m2 0h0m263 0h0m19 0h0m10 0h0m5 0h0m1 0h0m4 0h0m3 0h0m2 0h0m12 0h0m8 0h0m2 0h0m1 0h0m2 0h0m3 0h0m27 0h0m10 0h0m29 0h0m-451 1h0m2 0h0m1 0h0m7 0h0m4 0h0m10 0h0m3 0h0m1 0h0m304 0h0m4 0h0m7 0h0m9 0h0m21 0h0m20 0h0m12 0h0m-429 1h0m2 0h0m3 0h0m12 0h0m1 0h0m3 0h0m8 0h0m11 0h0m14 0h0m40 0h0m11 0h0m271 0h0m2 0h0m2 0h0m6 0h0m1 0h0m4 0h0m2 0h0m11 0h0m22 0h0m39 0h0m-455 1h0m4 0h0m2 0h0m7 0h0m3 0h0m2 0h0m3 0h0m7 0h0m2 0h0m8 0h0m31 0h0m275 0h0m6 0h0m14 0h0m6 0h0m4 0h0m1 0h0m1 0h0m7 0h0m3 0h0m2 0h0m1 0h0m8 0h0m26 0h0m-400 1h0m1 0h0m1 0h0m5 0h0m4 0h0m4 0h0m6 0h0m9 0h0m55 0h0m230 0h0m27 0h0m3 0h0m3 0h0m13 0h0m2 0h0m2 0h0m2 0h0m5 0h0m4 0h0m-419 1h0m8 0h0m7 0h0m7 0h0m6 0h0m16 0h0m7 0h0m10 0h0m3 0h0m297 0h0m7 0h0m12 0h0m15 0h0m4 0h0m6 0h0m6 0h0m5 0h0m15 0h0m27 0h0m-430 1h0m2 0h0m3 0h0m3 0h0m7 0h0m5 0h0m5 0h0m10 0h0m6 0h0m2 0h0m17 0h0m282 0h0m2 0h0m10 0h0m1 0h0m3 0h0m1 0h0m6 0h0m8 0h0m2 0h0m4 0h0m2 0h0m1 0h0m4 0h0m-397 1h0m27 0h0m4 0h0m2 0h0m2 0h0m13 0h0m12 0h0m292 0h0m2 0h0m1 0h0m4 0h0m2 0h0m9 0h0m15 0h0m51 0h0m13 0h0m10 0h0m-452 1h0m1 0h0m18 0h0m6 0h0m8 0h0m13 0h0m304 0h0m5 0h0m3 0h0m6 0h0m7 0h0m20 0h0m47 0h0m-429 1h0m5 0h0m4 0h0m3 0h0m8 0h0m36 0h0m44 0h0m198 0h0m44 0h0m11 0h0m4 0h0m6 0h0m2 0h0m1 0h0m4 0h0m3 0h0m4 0h0m-390 1h0m6 0h0m14 0h0m3 0h0m2 0h0m9 0h0m1 0h0m4 0h0m10 0h0m9 0h0m286 0h0m8 0h0m6 0h0m7 0h0m1 0h0m2 0h0m10 0h0m1 0h0m-380 1h0m17 0h0m5 0h0m3 0h0m8 0h0m3 0h0m16 0h0m54 0h0m235 0h0m3 0h0m11 0h0m9 0h0m6 0h0m8 0h0m36 0h0m29 0h0m-439 1h0m11 0h0m5 0h0m1 0h0m1 0h0m3 0h0m6 0h0m4 0h0m324 0h0m4 0h0m4 0h0m17 0h0m10 0h0m-379 1h0m3 0h0m1 0h0m5 0h0m14 0h0m2 0h0m2 0h0m1 0h0m321 0h0m4 0h0m5 0h0m2 0h0m3 0h0m3 0h0m1 0h0m5 0h0m41 0h0m-423 1h0m7 0h0m15 0h0m29 0h0m286 0h0m9 0h0m12 0h0m3 0h0m11 0h0m7 0h0m1 0h0m3 0h0m3 0h0m7 0h0m49 0h0m-455 1h0m23 0h0m1 0h0m11 0h0m2 0h0m20 0h0m298 0h0m7 0h0m1 0h0m27 0h0m-397 1h0m14 0h0m33 0h0m65 0h0m256 0h0m6 0h0m5 0h0m1 0h0m1 0h0m2 0h0m2 0h0m3 0h0m3 0h0m2 0h0m10 0h0m5 0h0m1 0h0m6 0h0m16 0h0m21 0h0m13 0h0m-446 1h0m9 0h0m6 0h0m1 0h0m1 0h0m9 0h0m14 0h0m12 0h0m21 0h0m21 0h0m233 0h0m15 0h0m8 0h0m16 0h0m7 0h0m1 0h0m8 0h0m2 0h0m37 0h0m-420 1h0m26 0h0m10 0h0m54 0h0m265 0h0m6 0h0m4 0h0m6 0h0m4 0h0m1 0h0m1 0h0m6 0h0m3 0h0m39 0h0m13 0h0m-439 1h0m10 0h0m12 0h0m7 0h0m1 0h0m8 0h0m1 0h0m17 0h0m289 0h0m5 0h0m26 0h0m2 0h0m19 0h0m-399 1h0m9 0h0m3 0h0m5 0h0m13 0h0m305 0h0m25 0h0m1 0h0m15 0h0m4 0h0m6 0h0m-370 1h0m3 0h0m6 0h0m9 0h0m2 0h0m3 0h0m6 0h0m27 0h0m291 0h0m8 0h0m5 0h0m5 0h0m4 0h0m1 0h0m2 0h0m47 0h0m-422 1h0m1 0h0m1 0h0m1 0h0m5 0h0m1 0h0m324 0h0m29 0h0m1 0h0m17 0h0m1 0h0m9 0h0m-419 1h0m23 0h0m4 0h0m9 0h0m9 0h0m7 0h0m301 0h0m11 0h0m2 0h0m10 0h0m6 0h0m8 0h0m-389 1h0m1 0h0m40 0h0m2 0h0m3 0h0m5 0h0m15 0h0m287 0h0m11 0h0m13 0h0m65 0h0m-427 1h0m3 0h0m43 0h0m5 0h0m2 0h0m270 0h0m21 0h0m33 0h0m2 0h0m4 0h0m3 0h0m-401 1h0m3 0h0m50 0h0m13 0h0m313 0h0m13 0h0m22 0h0m21 0h0m-412 1h0m1 0h0m5 0h0m11 0h0m18 0h0m7 0h0m307 0h0m7 0h0m3 0h0m1 0h0m10 0h0m14 0h0m1 0h0m20 0h0m-427 1h0m1 0h0m14 0h0m7 0h0m22 0h0m14 0h0m327 0h0m6 0h0m5 0h0m-360 1h0m4 0h0m5 0h0m3 0h0m1 0h0m21 0h0m281 0h0m8 0h0m12 0h0m6 0h0m9 0h0m6 0h0m-401 1h0m14 0h0m24 0h0m9 0h0m4 0h0m2 0h0m13 0h0m333 0h0m8 0h0m1 0h0m-387 1h0m20 0h0m34 0h0m28 0h0m276 0h0m15 0h0m3 0h0m4 0h0m7 0h0m-374 1h0m5 0h0m20 0h0m318 0h0m40 0h0m27 0h0m-432 1h0m11 0h0m3 0h0m8 0h0m16 0h0m12 0h0m317 0h0m10 0h0m-383 1h0m18 0h0m10 0h0m13 0h0m299 0h0m18 0h0m7 0h0m18 0h0m11 0h0m2 0h0m1 0h0m10 0h0m-386 1h0m2 0h0m322 0h0m5 0h0m13 0h0m27 0h0m1 0h0m7 0h0m12 0h0m9 0h0m6 0h0m-398 1h0m13 0h0m334 0h0m6 0h0m1 0h0m6 0h0m7 0h0m3 0h0m7 0h0m2 0h0m-400 1h0m1 0h0m25 0h0m12 0h0m4 0h0m3 0h0m319 0h0m2 0h0m16 0h0m1 0h0m25 0h0m-417 1h0m51 0h0m314 0h0m25 0h0m8 0h0m1 0h0m-385 1h0m6 0h0m29 0h0m348 0h0m10 0h0m6 0h0m-386 1h0m1 0h0m8 0h0m343 0h0m10 0h0m4 0h0m15 0h0m-394 1h0m110 0h0m255 0h0m1 0h0m11 0h0m5 0h0m10 0h0m-384 1h0m5 0h0m20 0h0m7 0h0m332 0h0m4 0h0m3 0h0m-366 1h0m10 0h0m344 0h0m3 0h0m5 0h0m1 0h0m36 0h0m-402 1h0m8 0h0m18 0h0m8 0h0m303 0h0m18 0h0m8 0h0m28 0h0m-399 1h0m1 0h0m19 0h0m6 0h0m21 0h0m9 0h0m33 0h0m299 0h0m1 0h0m-338 1h0m325 0h0m5 0h0m10 0h0m-384 1h0m10 0h0m10 0h0m27 0h0m314 0h0m-359 1h0m350 0h0m17 0h0m1 0h0m13 0h0m-367 1h0m13 0h0m334 0h0m12 0h0m-411 1h0m28 0h0m22 0h0m54 0h0m292 0h0m3 0h0m-1 1h0m19 0h0m1 0h0m-372 1h0m348 0h0m6 0h0m22 0h0m12 0h0m-9 1h0m-401 1h0m3 0h0m20 0h0m23 0h0m328 0h0m10 0h0m-378 1h0m31 0h0m12 0h0m350 0h0m-18 1h0m13 0h0m14 0h0" stroke="#3b379e" stroke-width="1.7" stroke-linecap="square" fill="none"/>
<path d="M631 205h0m2 0h0m-2 2h0m1 0h0m2 1h0m-3 2h0m1 0h0m2 1h0m-1 1h0m1 0h0m-1 1h0m1 1h0m-1 2h0m2 0h0m4 5h0m-4 1h0m-415 27h0m2 0h0m328 0h0m3 0h0m8 0h0m-5 1h0m-339 1h0m2 0h0m4 2h0m330 0h0m-348 1h0m1 0h0m5 0h0m6 0h0m339 0h0m8 0h0m-358 1h0m342 0h0m11 0h0m-350 1h0m6 0h0m338 0h0m-351 1h0m1 0h0m21 0h0m1 0h0m328 0h0m6 0h0m-359 1h0m7 0h0m2 0h0m4 0h0m2 0h0m2 0h0m7 0h0m5 0h0m2 0h0m316 0h0m4 0h0m4 0h0m2 0h0m-351 1h0m23 0h0m343 0h0m-373 1h0m5 0h0m3 0h0m2 0h0m20 0h0m310 0h0m21 0h0m1 0h0m5 0h0m4 0h0m-366 1h0m24 0h0m2 0h0m3 0h0m310 0h0m3 0h0m18 0h0m4 0h0m-372 1h0m9 0h0m3 0h0m18 0h0m3 0h0m318 0h0m-344 1h0m1 0h0m2 0h0m18 0h0m13 0h0m324 0h0m1 0h0m1 0h0m10 0h0m-379 1h0m1 0h0m4 0h0m25 0h0m4 0h0m343 0h0m-372 1h0m25 0h0m309 0h0m6 0h0m-308 1h0m300 0h0m1 0h0m40 0h0m-374 1h0m27 0h0m9 0h0m301 0h0m39 0h0m3 0h0m-380 1h0m27 0h0m313 0h0m42 0h0m-384 2h0m3 0h0m335 0h0m38 0h0m-379 1h0m33 0h0m346 0h0m2 0h0m3 0h0m-387 1h0m39 0h0m2 0h0m300 0h0m47 0h0m-382 1h0m34 0h0m304 0h0m38 0h0m2 0h0m-375 1h0m32 0h0m2 0h0m6 0h0m293 0h0m2 0h0m1 0h0m41 0h0m4 0h0m-342 1h0m289 0h0m1 0h0m3 0h0m3 0h0m-343 1h0m42 0h0m1 0h0m1 0h0m342 0h0m-386 1h0m1 0h0m4 0h0m33 0h0m2 0h0m353 0h0m-392 1h0m3 0h0m1 0h0m33 0h0m301 0h0m46 0h0m-387 1h0m4 0h0m37 0h0m295 0h0m2 0h0m52 0h0m-346 1h0m345 0h0m7 0h0m-399 1h0m4 0h0m4 0h0m37 0h0m7 0h0m338 0h0m-386 1h0m4 0h0m37 0h0m4 0h0m344 0h0m-392 1h0m8 0h0m36 0h0m2 0h0m344 0h0m1 0h0m-346 1h0m6 0h0m1 0h0m337 0h0m3 0h0m-390 1h0m49 0h0m293 0h0m4 0h0m43 0h0m5 0h0m-56 1h0m3 0h0m4 0h0m50 0h0m-395 1h0m46 0h0m1 0h0m294 1h0m47 0h0m3 0h0m-393 1h0m43 0h0m299 0h0m2 0h0m-344 1h0m49 0h0m-5 1h0m345 0h0m-387 1h0m44 0h0m-47 1h0m1 0h0m390 0h0m-346 1h0m304 0h0m-348 1h0m347 0h0m42 0h0m-389 1h0m346 0h0m2 0h0m40 1h0m1 0h0m-389 1h0m45 0h0m302 0h0m-349 1h0m4 0h0m342 0h0m4 0h0m-305 1h0m299 0h0m6 0h0m-301 1h0m292 0h0m2 0h0m7 0h0m39 0h0m2 0h0m4 0h0m-392 1h0m45 0h0m300 0h0m44 0h0m-5 1h0m-40 1h0m-298 1h0m294 0h0m5 0h0m39 0h0m8 0h0m-6 1h0m-344 1h0m300 0h0m44 0h0m-388 1h0m347 0h0m-311 1h0m345 0h0m6 0h0m-387 1h0m34 0h0m352 0h0m-383 1h0m2 0h0m1 0h0m1 0h0m1 0h0m-1 1h0m28 0h0m312 0h0m-340 1h0m34 0h0m343 0h0m2 0h0m-385 1h0m3 0h0m4 0h0m3 0h0m25 0h0m1 0h0m313 0h0m4 0h0m16 0h0m1 0h0m12 0h0m-370 1h0m22 0h0m314 0h0m1 0h0m4 0h0m10 0h0m3 0h0m16 0h0m4 0h0m-387 1h0m1 0h0m5 0h0m345 0h0m16 0h0m-365 1h0m7 0h0m4 0h0m27 0h0m311 0h0m1 0h0m23 0h0m3 0h0m-370 1h0m2 0h0m26 0h0m317 0h0m16 0h0m4 0h0m2 0h0m9 0h0m2 0h0m-372 1h0m334 0h0m9 0h0m27 0h0m-346 1h0m3 0h0m323 0h0m1 0h0m-361 1h0m30 0h0m2 0h0m1 0h0m2 0h0m340 0h0m-368 1h0m1 0h0m4 0h0m342 0h0m3 0h0m1 0h0m15 0h0m1 0h0m-370 1h0m1 0h0m4 0h0m21 0h0m2 0h0m2 0h0m317 0h0m19 0h0m-364 1h0m7 0h0m4 0h0m1 0h0m1 0h0m331 0h0m-334 1h0m3 0h0m7 0h0m323 0h0m7 0h0m4 0h0m-352 1h0m8 0h0m2 0h0m1 0h0m5 0h0m5 0h0m319 0h0m-322 1h0m-22 1h0m11 0h0m8 0h0m5 0h0m331 0h0m-350 1h0m11 0h0m-14 1h0m3 0h0m4 0h0m10 0h0m-7 1h0m2 0h0m-8 1h0m7 1h0m-7 2h0m2 0h0m0 2h0m78 140h0m15 2h0m-3 1h0m6 0h0m-15 1h0m8 0h0m3 1h0m-15 1h0m1 0h0m1 0h0m2 0h0m4 0h0m2 0h0m3 0h0m-15 1h0m4 0h0m8 0h0m6 0h0m4 0h0m4 0h0m-20 1h0m2 0h0m1 0h0m2 0h0m6 0h0m1 0h0m-14 1h0m1 0h0m5 0h0m4 0h0m2 0h0m-16 2h0m24 0h0m2 0h0m-26 1h0m-2 1h0m1 0h0m27 1h0m-18 1h0m-6 1h0m4 0h0m-3 1h0m2 0h0m13 0h0m0 1h0m3 0h0m-8 2h0m6 0h0m-11 1h0m4 0h0m6 0h0m-1 1h0m-3 1h0m8 0h0m-7 1h0m0 1h0m-74 35h0m-9 1h0m361 0h0m2 0h0m-357 1h0m357 1h0m-354 1h0m1 0h0m352 0h0m-370 1h0m2 0h0m6 0h0m16 0h0m-22 1h0m361 0h0m11 0h0m2 0h0m-376 1h0m11 0h0m9 0h0m346 0h0m3 0h0m3 0h0m-378 1h0m15 0h0m360 0h0m-372 1h0m14 0h0m-8 1h0m16 0h0m10 0h0m332 0h0m9 0h0m9 0h0m-387 1h0m14 0h0m1 0h0m1 0h0m355 0h0m10 0h0m3 0h0m-351 1h0m1 0h0m333 0h0m12 0h0m5 0h0m6 0h0m1 0h0m-387 1h0m26 0h0m331 0h0m3 0h0m20 0h0m8 0h0m-387 1h0m10 0h0m356 0h0m8 0h0m1 0h0m7 0h0m2 0h0m2 0h0m-392 1h0m7 0h0m26 0h0m328 0h0m8 0h0m8 0h0m8 0h0m1 0h0m2 0h0m-355 1h0m3 0h0m324 0h0m7 0h0m6 0h0m11 0h0m7 0h0m1 0h0m2 0h0m-397 1h0m365 0h0m7 0h0m9 0h0m5 0h0m7 0h0m-397 1h0m7 0h0m28 0h0m334 0h0m4 0h0m5 0h0m9 0h0m8 0h0m-393 1h0m3 0h0m365 0h0m28 0h0m-28 1h0m31 0h0m-398 1h0m3 0h0m-1 1h0m39 0h0m318 0h0m2 0h0m32 0h0m1 0h0m-398 1h0m4 0h0m1 0h0m5 0h0m355 0h0m0 1h0m39 0h0m-402 1h0m354 0h0m41 0h0m13 0h0m-361 1h0m316 0h0m35 0h0m-355 1h0m3 0h0m316 0h0m33 0h0m12 0h0m1 0h0m-410 1h0m47 0h0m315 0h0m44 0h0m-404 1h0m42 0h0m3 0h0m353 0h0m1 0h0m1 0h0m2 0h0m1 0h0m-357 1h0m2 0h0m310 0h0m4 0h0m1 0h0m1 0h0m44 0h0m-410 1h0m1 0h0m42 0h0m315 0h0m5 0h0m1 0h0m37 0h0m2 0h0m4 0h0m1 0h0m-360 1h0m3 0h0m-7 1h0m1 0h0m318 0h0m-365 1h0m50 0h0m1 0h0m5 0h0m310 0h0m40 0h0m5 0h0m-364 1h0m7 0h0m303 0h0m46 0h0m1 0h0m3 0h0m-357 1h0m4 0h0m301 0h0m2 0h0m1 0h0m4 0h0m44 0h0m1 0h0m-404 1h0m48 0h0m353 0h0m-406 2h0m53 0h0m309 0h0m1 0h0m43 0h0m9 0h0m-414 1h0m361 0h0m45 0h0m-362 1h0m3 0h0m314 0h0m2 0h0m43 0h0m5 0h0m1 0h0m-55 1h0m52 0h0m-407 1h0m44 0h0m315 0h0m45 0h0m2 0h0m2 0h0m1 0h0m-409 1h0m46 0h0m311 0h0m4 0h0m-317 1h0m2 0h0m359 0h0m-404 1h0m50 0h0m303 0h0m3 0h0m4 0h0m43 0h0m4 0h0m1 0h0m6 0h0m-421 1h0m414 0h0m2 0h0m-413 1h0m4 0h0m42 0h0m367 0h0m-359 1h0m307 0h0m2 0h0m43 0h0m-404 1h0m2 0h0m358 0h0m48 0h0m4 0h0m-368 1h0m367 0h0m-411 1h0m3 0h0m41 0h0m312 0h0m-356 1h0m44 0h0m310 0h0m2 0h0m55 0h0m-414 1h0m5 0h0m41 0h0m374 0h0m-423 1h0m361 0h0m1 0h0m6 0h0m1 0h0m41 0h0m1 0h0m2 0h0m-406 1h0m38 0h0m4 0h0m-46 1h0m44 0h0m1 0h0m1 0h0m3 0h0m315 0h0m2 0h0m50 0h0m-418 1h0m4 0h0m2 0h0m41 0h0m365 0h0m-405 1h0m37 0h0m3 0h0m318 0h0m46 0h0m1 0h0m1 0h0m-410 1h0m1 0h0m7 0h0m395 0h0m3 0h0m-400 1h0m29 0h0m10 0h0m358 0h0m2 0h0m1 0h0m1 0h0m-398 1h0m352 0h0m42 0h0m-402 1h0m8 0h0m397 0h0m-404 1h0m2 0h0m4 0h0m30 0h0m325 0h0m-362 1h0m2 0h0m6 0h0m1 0h0m20 0h0m4 0h0m3 0h0m5 0h0m369 0h0m2 0h0m-406 1h0m2 0h0m24 0h0m2 0h0m327 0h0m5 0h0m37 0h0m-373 1h0m12 0h0m319 0h0m6 0h0m33 0h0m-394 1h0m393 0h0m-35 1h0m4 0h0m35 0h0m-381 1h0m3 0h0m2 0h0m3 0h0m334 0h0m-357 1h0m21 0h0m8 0h0m326 0h0m7 0h0m26 0h0m2 0h0m5 0h0m-36 1h0m29 0h0m4 0h0m-374 1h0m335 0h0m5 0h0m2 0h0m1 0h0m35 0h0m-374 1h0m5 0h0m2 0h0m329 0h0m-352 1h0m6 0h0m-13 1h0m5 0h0m21 0h0m337 0h0m15 0h0m2 0h0m8 0h0m3 0h0m-383 1h0m5 0h0m5 0h0m2 0h0m339 0h0m2 0h0m16 0h0m-366 1h0m346 0h0m1 0h0m-332 1h0m334 0h0m18 0h0m3 0h0m7 0h0m-390 1h0m6 0h0m23 0h0m357 0h0m-28 1h0m6 0h0m11 0h0m17 0h0m-372 1h0m341 0h0m5 0h0m1 0h0m3 0h0m4 0h0m18 0h0m-386 1h0m11 0h0m344 0h0m8 0h0m17 0h0m9 0h0m-377 1h0m353 0h0m7 0h0m4 0h0m-376 1h0m15 0h0m3 0h0m353 0h0m8 0h0m-376 1h0m15 0h0m341 0h0m9 0h0m6 0h0m-372 1h0m4 0h0m6 0h0m357 0h0m6 0h0m7 0h0m-385 1h0m5 0h0m5 0h0m349 0h0m15 0h0m1 0h0m-354 1h0m337 0h0m10 0h0m5 0h0m7 0h0m8 0h0m-370 1h0m1 0h0m340 0h0m20 0h0m-373 1h0m7 0h0m373 0h0m-377 1h0m6 0h0m355 0h0m-366 1h0m3 0h0m2 0h0m3 0h0m1 0h0m360 0h0m12 0h0m-382 1h0m6 0h0m355 0h0m17 0h0m1 0h0m-379 1h0m372 0h0m1 0h0m-1 1h0m-363 1h0m363 0h0m-362 2h0m355 3h0m-273 115h0m8 0h0m2 0h0m2 0h0m-7 1h0m7 0h0m6 0h0m-18 1h0m11 0h0m-13 1h0m10 0h0m1 1h0m8 0h0m1 1h0m6 0h0m-6 1h0m0 1h0m1 0h0m-26 1h0m3 0h0m23 0h0m3 0h0m4 0h0m-3 2h0m-1 1h0m1 0h0m0 1h0m1 0h0m5 0h0m2 0h0m-7 1h0m2 2h0m329 0h0m10 0h0m-340 1h0m3 0h0m329 0h0m-369 1h0m2 1h0m2 1h0m364 1h0m-372 1h0m40 0h0m334 0h0m-373 1h0m381 0h0m-12 1h0m10 0h0m-342 1h0m329 0h0m5 0h0m-24 1h0m8 0h0m28 0h0m-390 1h0m362 0h0m29 0h0m2 0h0m-14 1h0m5 0h0m4 0h0m5 0h0m1 0h0m-348 1h0m308 0h0m27 0h0m-334 1h0m312 0h0m31 0h0m-400 1h0m4 0h0m386 0h0m-381 1h0m381 0h0m4 0h0m-378 1h0m1 0h0m40 0h0m307 0h0m26 0h0m-380 1h0m4 0h0m345 0h0m3 0h0m7 0h0m26 0h0m-388 1h0m11 0h0m33 0h0m-53 1h0m11 0h0m349 0h0m-305 1h0m311 0h0m1 0h0m4 0h0m-371 1h0m396 0h0m-393 1h0m50 0h0m305 0h0m13 0h0m28 0h0m-397 1h0m361 0h0m7 0h0m-378 1h0m1 0h0m4 0h0m368 0h0m-370 1h0m1 0h0m1 0h0m398 0h0m2 0h0m-350 1h0m313 0h0m-374 1h0m4 0h0m1 0h0m2 0h0m1 0h0m400 0h0m-33 1h0m2 0h0m29 0h0m2 0h0m6 0h0m-408 1h0m2 0h0m2 0h0m45 0h0m320 0h0m-387 1h0m2 0h0m7 0h0m10 0h0m400 0h0m-421 1h0m2 0h0m18 0h0m1 0h0m50 0h0m309 0h0m47 0h0m-414 1h0m1 0h0m8 0h0m47 0h0m3 0h0m2 0h0m1 0h0m353 0h0m-429 1h0m13 0h0m1 0h0m10 0h0m362 0h0m37 0h0m-413 1h0m37 0h0m14 0h0m7 0h0m319 0h0m-333 1h0m2 0h0m4 0h0m12 0h0m313 0h0m-380 1h0m45 0h0m11 0h0m8 0h0m5 0h0m299 0h0m4 0h0m42 0h0m-417 1h0m2 0h0m4 0h0m41 0h0m1 0h0m4 0h0m319 0h0m3 0h0m2 0h0m-382 1h0m13 0h0m45 0h0m7 0h0m1 0h0m354 0h0m2 0h0m-415 1h0m2 0h0m25 0h0m6 0h0m16 0h0m1 0h0m365 0h0m-415 1h0m2 0h0m25 0h0m2 0h0m8 0h0m13 0h0m4 0h0m-65 1h0m7 0h0m2 0h0m2 0h0m24 0h0m2 0h0m33 0h0m320 0h0m2 0h0m39 0h0m-433 1h0m35 0h0m2 0h0m7 0h0m7 0h0m335 0h0m1 0h0m-375 1h0m29 0h0m1 0h0m26 0h0m5 0h0m314 0h0m43 0h0m-430 1h0m9 0h0m23 0h0m8 0h0m3 0h0m1 0h0m341 0h0m1 0h0m5 0h0m-390 1h0m3 0h0m1 0h0m5 0h0m24 0h0m16 0h0m344 0h0m-394 1h0m13 0h0m380 0h0m-390 1h0m7 0h0m1 0h0m2 0h0m21 0h0m6 0h0m5 0h0m330 0h0m10 0h0m40 0h0m-414 1h0m1 0h0m2 0h0m20 0h0m9 0h0m327 0h0m4 0h0m19 0h0m2 0h0m32 0h0m-433 1h0m11 0h0m17 0h0m10 0h0m14 0h0m307 0h0m4 0h0m18 0h0m-380 1h0m3 0h0m4 0h0m23 0h0m12 0h0m309 0h0m9 0h0m4 0h0m7 0h0m55 0h0m-424 1h0m34 0h0m9 0h0m343 0h0m6 0h0m-389 1h0m8 0h0m21 0h0m6 0h0m3 0h0m308 0h0m11 0h0m2 0h0m8 0h0m18 0h0m3 0h0m2 0h0m-397 1h0m15 0h0m341 0h0m18 0h0m20 0h0m1 0h0m37 0h0m4 0h0m-430 1h0m22 0h0m3 0h0m8 0h0m8 0h0m315 0h0m7 0h0m21 0h0m25 0h0m8 0h0m6 0h0m-388 1h0m336 0h0m6 0h0m17 0h0m24 0h0m-426 1h0m14 0h0m26 0h0m337 0h0m10 0h0m2 0h0m8 0h0m26 0h0m-411 1h0m1 0h0m1 0h0m3 0h0m355 0h0m7 0h0m3 0h0m8 0h0m30 0h0m12 0h0m2 0h0m-434 1h0m18 0h0m11 0h0m6 0h0m324 0h0m4 0h0m2 0h0m7 0h0m27 0h0m24 0h0m7 0h0m-423 1h0m9 0h0m13 0h0m327 0h0m3 0h0m35 0h0m2 0h0m6 0h0m19 0h0m4 0h0m-426 1h0m12 0h0m3 0h0m2 0h0m329 0h0m11 0h0m46 0h0m15 0h0m2 0h0m6 0h0m-416 1h0m6 0h0m333 0h0m39 0h0m24 0h0m-410 1h0m12 0h0m1 0h0m11 0h0m3 0h0m9 0h0m6 0h0m344 0h0m11 0h0m4 0h0m9 0h0m-406 1h0m1 0h0m6 0h0m4 0h0m1 0h0m340 0h0m2 0h0m29 0h0m17 0h0m5 0h0m9 0h0m2 0h0m3 0h0m1 0h0m-405 1h0m5 0h0m15 0h0m347 0h0m11 0h0m29 0h0m-405 1h0m14 0h0m10 0h0m338 0h0m16 0h0m-398 1h0m6 0h0m1 0h0m16 0h0m20 0h0m299 0h0m3 0h0m42 0h0m12 0h0m14 0h0m-407 1h0m11 0h0m4 0h0m3 0h0m315 0h0m41 0h0m11 0h0m12 0h0m-398 1h0m13 0h0m14 0h0m308 0h0m5 0h0m43 0h0m10 0h0m6 0h0m-402 1h0m21 0h0m4 0h0m1 0h0m1 0h0m8 0h0m301 0h0m58 0h0m10 0h0m7 0h0m3 0h0m4 0h0m-426 1h0m35 0h0m312 0h0m43 0h0m12 0h0m5 0h0m1 0h0m15 0h0m-410 1h0m15 0h0m312 0h0m54 0h0m3 0h0m17 0h0m1 0h0m-380 1h0m353 0h0m14 0h0m5 0h0m12 0h0m-416 1h0m1 0h0m8 0h0m392 0h0m-395 1h0m2 0h0m335 0h0m55 0h0m3 0h0m-397 1h0m34 0h0m307 0h0m40 0h0m6 0h0m15 0h0m-402 1h0m396 0h0m-401 1h0m2 0h0m335 0h0m6 0h0m2 0h0m-313 1h0m311 0h0m50 0h0m11 0h0m1 0h0m-374 1h0m1 0h0m355 0h0m1 0h0m10 0h0m2 0h0m-404 1h0m1 0h0m1 0h0m34 0h0m3 0h0m5 0h0m343 0h0m-389 1h0m390 0h0m2 0h0m3 0h0m11 0h0m2 0h0m-371 1h0m2 0h0m3 0h0m347 0h0m6 0h0m11 0h0m2 0h0m-403 1h0m34 0h0m-1 1h0m4 0h0m365 0h0m-366 1h0m299 0h0m3 0h0m3 0h0m61 0h0m-407 1h0m5 0h0m333 0h0m57 0h0m1 0h0m8 0h0m2 0h0m-406 1h0m4 0h0m39 0h0m2 0h0m298 0h0m53 0h0m-399 1h0m6 0h0m395 0h0m2 0h0m-400 1h0m388 0h0m3 0h0m-389 1h0m1 0h0m35 0h0m350 0h0m8 0h0m5 0h0m-399 1h0m39 0h0m355 0h0m5 0h0m-400 1h0m42 0h0m297 0h0m47 0h0m10 0h0m-359 1h0m6 0h0m344 0h0m4 0h0m3 0h0m1 0h0m-399 1h0m2 0h0m4 1h0m33 0h0m6 0h0m347 0h0m-391 1h0m9 0h0m31 1h0m358 0h0m-393 1h0m338 0h0m51 0h0m-356 1h0m355 0h0m-359 1h0m306 0h0m5 0h0m46 0h0m8 0h0m-362 1h0m303 0h0m-304 1h0m310 0h0m2 0h0m-3 1h0m1 0h0m45 0h0m-390 1h0m2 0h0m34 0h0m306 0h0m5 0h0m37 0h0m2 0h0m1 0h0m5 0h0m-389 1h0m38 0h0m1 0h0m-41 1h0m33 0h0m7 0h0m303 0h0m40 0h0m-347 1h0m306 0h0m5 0h0m36 0h0m-350 1h0m306 0h0m44 0h0m6 0h0m-354 1h0m2 0h0m348 0h0m-347 1h0m-37 1h0m31 0h0m5 0h0m4 0h0m303 0h0m-308 1h0m-39 1h0m41 0h0m-32 1h0m24 0h0m8 0h0m306 0h0m32 0h0m3 0h0m-378 1h0m28 0h0m350 0h0m-379 1h0m28 0h0m2 0h0m309 0h0m2 0h0m39 0h0m2 0h0m-380 1h0m344 0h0m-347 1h0m4 0h0m29 0h0m308 0h0m37 0h0m4 0h0m-376 1h0m4 0h0m2 0h0m-5 1h0m4 0h0m10 0h0m8 0h0m344 0h0m-378 1h0m37 0h0m312 0h0m34 0h0m-369 1h0m15 0h0m354 0h0m-354 1h0m1 0h0m349 0h0m-379 1h0m17 0h0m12 0h0m2 0h0m316 0h0m6 0h0m32 0h0m-382 1h0m10 0h0m16 0h0m4 0h0m-19 1h0m1 0h0m3 0h0m13 0h0m1 0h0m351 0h0m-384 1h0m3 0h0m22 0h0m5 0h0m350 0h0m1 0h0m-382 1h0m27 0h0m5 0h0m1 0h0m-15 1h0m338 0h0m9 0h0m-353 1h0m3 0h0m5 0h0m333 0h0m1 0h0m8 0h0m-356 1h0m12 0h0m5 0h0m8 0h0m349 0h0m-371 1h0m9 0h0m10 0h0m1 0h0m329 0h0m4 0h0m20 0h0m-369 1h0m9 0h0m329 0h0m5 0h0m2 0h0m1 0h0m16 0h0m-359 1h0m1 0h0m18 0h0m333 0h0m7 0h0m-341 1h0m-18 1h0m345 0h0m7 0h0m12 0h0m-18 1h0m13 0h0m-347 1h0m3 0h0m346 0h0m-353 1h0m6 0h0m331 0h0m10 0h0m-1 1h0m-4 1h0m5 0h0m-346 1h0m341 0h0m2 1h0m8 0h0m-7 2h0m5 1h0m-9 1h0m-1 2h0m-1 3h0m0 1h0m7 1h0m-9 1h0m6 1h0m0 1h0m-250 113h0m-10 1h0m13 1h0m-10 1h0m-3 1h0m2 0h0m1 0h0m-9 1h0m13 0h0m1 0h0m1 0h0m316 0h0m-339 1h0m17 0h0m2 0h0m4 0h0m317 0h0m-341 1h0m27 0h0m-26 1h0m1 0h0m23 0h0m-6 1h0m4 0h0m319 0h0m4 0h0m-345 1h0m21 0h0m1 0h0m1 0h0m-29 1h0m345 0h0m6 0h0m-319 1h0m317 0h0m-347 1h0m31 0h0m-34 1h0m2 0h0m1 0h0m1 0h0m341 0h0m10 0h0m-325 1h0m307 0h0m10 0h0m8 0h0m6 0h0m-366 1h0m38 0h0m323 0h0m4 0h0m1 0h0m1 0h0m-365 1h0m361 0h0m2 0h0m1 0h0m-366 1h0m1 0h0m2 0h0m1 0h0m30 0h0m8 0h0m301 0h0m23 0h0m-364 1h0m33 0h0m1 0h0m325 0h0m-326 1h0m3 0h0m1 0h0m304 0h0m20 0h0m5 1h0m-333 1h0m1 0h0m1 0h0m298 0h0m35 0h0m3 0h0m-373 1h0m3 0h0m31 0h0m3 0h0m330 1h0m3 0h0m-1 1h0m2 0h0m2 0h0m-37 1h0m29 0h0m4 0h0m1 0h0m-374 1h0m335 0h0m37 0h0m-2 1h0m1 0h0m1 0h0m1 0h0m-374 1h0m336 0h0m7 0h0m30 0h0m-378 1h0m6 0h0m2 0h0m373 0h0m-386 1h0m7 0h0m-9 1h0m4 0h0m46 1h0m298 0h0m39 0h0m-383 1h0m343 0h0m42 0h0m-383 1h0m2 0h0m34 0h0m1 0h0m308 0h0m-357 1h0m2 0h0m345 0h0m45 1h0m-390 1h0m349 0h0m41 0h0m5 0h0m-398 1h0m7 0h0m383 0h0m-395 1h0m2 0h0m5 0h0m4 0h0m344 0h0m2 0h0m41 0h0m-46 1h0m-359 1h0m8 0h0m350 0h0m44 0h0m-395 1h0m356 0h0m-351 1h0m2 0h0m1 0h0m48 0h0m298 0h0m42 0h0m-400 1h0m4 0h0m2 0h0m394 0h0m-407 1h0m13 0h0m39 0h0m6 0h0m3 0h0m344 0h0m4 0h0m-405 1h0m9 0h0m356 0h0m37 0h0m-406 1h0m3 0h0m51 0h0m4 0h0m4 0h0m304 0h0m-317 1h0m2 0h0m3 0h0m4 0h0m-54 1h0m4 0h0m1 0h0m3 0h0m21 0h0m20 0h0m307 0h0m-367 1h0m5 0h0m1 0h0m17 0h0m10 0h0m6 0h0m3 0h0m6 0h0m1 0h0m1 0h0m316 0h0m2 0h0m2 0h0m39 0h0m1 0h0m-399 1h0m6 0h0m6 0h0m14 0h0m13 0h0m7 0h0m-56 1h0m2 0h0m17 0h0m1 0h0m2 0h0m1 0h0m1 0h0m13 0h0m1 0h0m3 0h0m4 0h0m4 0h0m10 0h0m-61 1h0m6 0h0m11 0h0m7 0h0m1 0h0m1 0h0m14 0h0m10 0h0m5 0h0m314 0h0m-371 1h0m5 0h0m1 0h0m1 0h0m5 0h0m1 0h0m4 0h0m1 0h0m2 0h0m6 0h0m1 0h0m13 0h0m19 0h0m-55 1h0m9 0h0m1 0h0m1 0h0m4 0h0m9 0h0m8 0h0m4 0h0m9 0h0m322 0h0m34 0h0m2 0h0m3 0h0m-397 1h0m1 0h0m1 0h0m16 0h0m13 0h0m1 0h0m3 0h0m3 0h0m314 0h0m9 0h0m34 0h0m-407 1h0m13 0h0m15 0h0m1 0h0m10 0h0m366 0h0m-402 1h0m11 0h0m19 0h0m6 0h0m5 0h0m13 0h0m348 0h0m2 0h0m-398 1h0m4 0h0m11 0h0m3 0h0m2 0h0m2 0h0m4 0h0m8 0h0m326 0h0m1 0h0m38 0h0m-412 1h0m2 0h0m6 0h0m2 0h0m9 0h0m3 0h0m5 0h0m6 0h0m1 0h0m337 0h0m42 0h0m3 0h0m-417 1h0m27 0h0m345 0h0m46 0h0m-410 1h0m8 0h0m1 0h0m16 0h0m373 0h0m7 0h0m-415 1h0m8 0h0m1 0h0m11 0h0m4 0h0m9 0h0m7 0h0m326 0h0m42 0h0m8 0h0m2 0h0m-418 1h0m8 0h0m7 0h0m8 0h0m1 0h0m1 0h0m2 0h0m2 0h0m2 0h0m3 0h0m325 0h0m3 0h0m15 0h0m-376 1h0m1 0h0m14 0h0m10 0h0m4 0h0m4 0h0m317 0h0m11 0h0m2 0h0m4 0h0m1 0h0m-363 1h0m345 0h0m4 0h0m3 0h0m15 0h0m28 0h0m8 0h0m-409 1h0m12 0h0m4 0h0m8 0h0m11 0h0m318 0h0m12 0h0m-359 1h0m5 0h0m9 0h0m3 0h0m3 0h0m5 0h0m318 0h0m6 0h0m3 0h0m44 0h0m7 0h0m-403 1h0m9 0h0m3 0h0m11 0h0m3 0h0m313 0h0m13 0h0m2 0h0m29 0h0m18 0h0m-409 1h0m354 0h0m5 0h0m8 0h0m8 0h0m3 0h0m1 0h0m-33 1h0m5 0h0m1 0h0m2 0h0m14 0h0m1 0h0m2 0h0m9 0h0m23 0h0m-403 1h0m2 0h0m351 0h0m13 0h0m1 0h0m3 0h0m2 0h0m6 0h0m13 0h0m11 0h0m9 0h0m-60 1h0m11 0h0m1 0h0m5 0h0m2 0h0m6 0h0m13 0h0m-40 1h0m1 0h0m14 0h0m5 0h0m6 0h0m27 0h0m3 0h0m-47 1h0m2 0h0m5 0h0m1 0h0m14 0h0m10 0h0m14 0h0m3 0h0m-60 1h0m3 0h0m5 0h0m18 0h0m9 0h0m11 0h0m6 0h0m3 0h0m5 0h0m-405 1h0m342 0h0m33 0h0m11 0h0m24 0h0m-64 1h0m12 0h0m5 0h0m6 0h0m20 0h0m3 0h0m7 0h0m8 0h0m-62 1h0m3 0h0m8 0h0m6 0h0m3 0h0m3 0h0m6 0h0m5 0h0m6 0h0m2 0h0m5 0h0m13 0h0m-49 1h0m9 0h0m1 0h0m8 0h0m1 0h0m11 0h0m-45 1h0m9 0h0m3 0h0m2 0h0m7 0h0m3 0h0m20 0h0m1 0h0m-37 1h0m4 0h0m2 0h0m9 0h0m1 0h0m2 0h0m17 0h0m9 0h0m-48 1h0m8 0h0m8 0h0m12 0h0m5 0h0m3 0h0m-44 1h0m5 0h0m12 0h0m5 0h0m8 0h0m4 0h0m6 0h0m3 0h0m1 0h0m-42 1h0m2 0h0m3 0h0m17 0h0m2 0h0m15 0h0m6 0h0m-43 1h0m5 0h0m1 0h0m35 0h0m1 0h0m-48 1h0m8 0h0m6 0h0m28 0h0m6 0h0m-49 1h0m12 0h0m4 0h0m28 0h0m-41 1h0m1 0h0m26 0h0m6 0h0m1 0h0m10 0h0m-36 1h0m22 0h0m-36 1h0m-1 1h0m11 0h0m2 0h0m1 0h0m-13 1h0m4 0h0m7 0h0m19 0h0m1 0h0m11 0h0m-41 1h0m1 0h0m32 0h0m-24 1h0m2 1h0m20 0h0m-360 1h0m326 0h0m8 0h0m1 0h0m4 0h0m24 0h0m1 0h0m1 0h0m-372 1h0m342 0h0m6 0h0m23 0h0m4 0h0m-41 1h0m9 0h0m-8 1h0m40 0h0m1 0h0m-35 1h0m25 0h0m-367 1h0m1 0h0m6 0h0m332 0h0m5 0h0m1 0h0m-343 1h0m3 0h0m1 0h0m3 0h0m5 0h0m364 0h0m-373 1h0m3 0h0m1 0h0m3 0h0m322 0h0m3 0h0m1 0h0m4 0h0m26 0h0m-370 1h0m4 0h0m3 0h0m1 0h0m369 0h0m-378 1h0m10 0h0m11 0h0m-11 1h0m2 0h0m5 0h0m322 0h0m-340 1h0m4 0h0m3 0h0m9 0h0m355 0h0m7 0h0m-378 1h0m2 0h0m5 0h0m6 0h0m328 0h0m4 0h0m3 0h0m-344 1h0m9 0h0m319 0h0m2 0h0m2 0h0m32 0h0m1 0h0m-353 1h0m348 0h0m5 0h0m7 0h0m-44 1h0m4 0h0m4 0h0m2 0h0m1 0h0m32 0h0m-374 1h0m7 0h0m2 0h0m-11 1h0m7 0h0m2 0h0m328 0h0m6 0h0m32 0h0m2 0h0m-370 1h0m6 0h0m327 0h0m23 0h0m-363 1h0m18 0h0m5 0h0m314 0h0m5 0h0m35 0h0m2 0h0m-379 1h0m22 0h0m312 0h0m5 0h0m23 0h0m-350 1h0m5 0h0m1 0h0m315 0h0m8 0h0m20 0h0m8 0h0m-30 1h0m5 0h0m22 0h0m6 0h0m4 0h0m3 0h0m-373 1h0m7 0h0m353 0h0m-1 1h0m-360 1h0m8 0h0m4 0h0m3 0h0m314 0h0m5 0h0m26 0h0m2 0h0m-358 1h0m9 0h0m7 0h0m305 0h0m3 0h0m41 0h0m-369 1h0m329 0h0m28 0h0m9 0h0m1 0h0m-356 1h0m1 0h0m326 0h0m4 0h0m27 0h0m-367 1h0m10 0h0m1 0h0m323 0h0m3 0h0m4 0h0m17 0h0m4 0h0m4 0h0m-372 1h0m8 0h0m334 0h0m19 0h0m-356 1h0m2 0h0m331 0h0m22 0h0m13 0h0m-374 1h0m5 0h0m6 0h0m8 0h0m318 0h0m8 0h0m-348 1h0m342 0h0m6 0h0m2 0h0m5 1h0m7 0h0m5 0h0m-367 1h0m4 0h0m3 0h0m3 0h0m342 0h0m16 0h0m3 0h0m-369 1h0m5 0h0m4 0h0m2 0h0m3 0h0m323 0h0m6 0h0m6 0h0m5 0h0m2 0h0m9 0h0m3 0h0m2 0h0m-360 1h0m329 0h0m2 0h0m4 0h0m6 0h0m3 0h0m1 0h0m4 0h0m-356 1h0m1 0h0m337 0h0m7 0h0m1 0h0m6 0h0m6 0h0m-351 1h0m322 0h0m4 0h0m2 0h0m7 0h0m2 0h0m4 0h0m-18 1h0m1 0h0m1 0h0m13 0h0m1 0h0m9 0h0m2 0h0m-357 1h0m1 0h0m3 0h0m328 0h0m3 0h0m14 0h0m2 0h0m12 1h0m-19 2h0m10 1h0m-18 1h0m2 0h0m9 0h0m8 0h0m-15 2h0m6 0h0m6 1h0m-4 2h0m1 0h0m-1 2h0" stroke="#3a5fb5" stroke-width="1.7" stroke-linecap="square" fill="none"/>
<path d="M210 259h0m13 0h0m331 0h0m-342 1h0m1 0h0m2 0h0m7 0h0m335 0h0m-347 1h0m1 0h0m2 0h0m1 0h0m3 0h0m2 0h0m333 0h0m-340 1h0m2 0h0m1 0h0m2 0h0m338 0h0m2 0h0m2 0h0m-347 1h0m1 0h0m6 0h0m335 0h0m2 0h0m-348 1h0m4 0h0m3 0h0m4 0h0m2 0h0m321 0h0m2 0h0m4 0h0m2 0h0m4 0h0m2 0h0m2 0h0m10 0h0m1 0h0m-368 1h0m1 0h0m6 0h0m6 0h0m5 0h0m2 0h0m1 0h0m321 0h0m8 0h0m2 0h0m7 0h0m-359 1h0m5 0h0m2 0h0m1 0h0m3 0h0m4 0h0m5 0h0m319 0h0m4 0h0m7 0h0m1 0h0m3 0h0m6 0h0m4 0h0m1 0h0m1 0h0m-364 1h0m2 0h0m3 0h0m2 0h0m1 0h0m1 0h0m1 0h0m3 0h0m2 0h0m5 0h0m319 0h0m2 0h0m4 0h0m2 0h0m2 0h0m1 0h0m2 0h0m11 0h0m-365 1h0m2 0h0m1 0h0m3 0h0m9 0h0m6 0h0m1 0h0m317 0h0m3 0h0m3 0h0m1 0h0m4 0h0m3 0h0m4 0h0m2 0h0m1 0h0m4 0h0m-345 1h0m1 0h0m319 0h0m15 0h0m9 0h0m2 0h0m-366 1h0m24 0h0m310 0h0m6 0h0m2 0h0m23 0h0m-343 1h0m321 0h0m11 0h0m8 0h0m2 0h0m1 0h0m4 0h0m-347 1h0m314 0h0m3 0h0m3 0h0m25 0h0m-358 1h0m6 0h0m6 0h0m314 0h0m5 0h0m25 0h0m2 0h0m2 0h0m-369 1h0m2 0h0m4 0h0m333 0h0m31 0h0m3 0h0m-372 1h0m1 0h0m12 0h0m8 0h0m315 0h0m21 0h0m15 0h0m-374 1h0m337 0h0m2 0h0m-334 1h0m16 0h0m1 0h0m315 0h0m-335 1h0m333 0h0m2 0h0m37 0h0m-377 1h0m14 0h0m16 0h0m1 0h0m303 0h0m4 0h0m6 0h0m18 0h0m15 0h0m-377 1h0m334 0h0m3 0h0m21 0h0m18 0h0m2 0h0m-377 1h0m3 0h0m16 0h0m8 0h0m1 0h0m4 0h0m300 0h0m1 0h0m30 0h0m1 0h0m10 0h0m-371 1h0m8 0h0m11 0h0m311 0h0m1 0h0m35 0h0m6 0h0m2 0h0m-359 1h0m4 0h0m314 0h0m1 0h0m2 0h0m6 0h0m22 0h0m8 0h0m1 0h0m-378 1h0m1 0h0m1 0h0m1 0h0m345 0h0m-349 1h0m3 0h0m2 0h0m15 0h0m9 0h0m2 0h0m312 0h0m7 0h0m-349 1h0m4 0h0m25 0h0m3 0h0m341 0h0m4 0h0m-358 1h0m12 0h0m1 0h0m324 0h0m16 0h0m5 0h0m-376 1h0m3 0h0m8 0h0m12 0h0m5 0h0m329 0h0m18 0h0m-379 1h0m353 0h0m12 0h0m2 0h0m10 0h0m1 0h0m-1 1h0m5 0h0m-385 1h0m2 0h0m15 0h0m339 0h0m10 0h0m2 0h0m14 0h0m-380 1h0m17 0h0m5 0h0m1 0h0m3 0h0m5 0h0m342 0h0m8 0h0m-352 1h0m-28 1h0m6 0h0m2 0h0m23 0h0m314 0h0m27 0h0m8 0h0m1 0h0m-381 1h0m2 0h0m11 0h0m21 0h0m312 0h0m6 0h0m29 0h0m-379 1h0m351 0h0m13 0h0m-369 1h0m2 0h0m3 0h0m13 0h0m1 0h0m4 0h0m5 0h0m347 0h0m8 0h0m-379 1h0m342 0h0m18 0h0m18 0h0m3 0h0m-384 1h0m26 0h0m4 0h0m6 0h0m2 0h0m318 0h0m7 0h0m2 0h0m10 0h0m-371 1h0m14 0h0m16 0h0m2 0h0m1 0h0m328 0h0m-363 1h0m7 0h0m10 0h0m13 0h0m2 0h0m2 0h0m315 0h0m25 0h0m1 0h0m-375 1h0m19 0h0m1 0h0m342 0h0m3 0h0m8 0h0m-362 1h0m7 0h0m15 0h0m3 0h0m307 0h0m29 0h0m5 0h0m-378 1h0m29 0h0m7 0h0m308 0h0m3 0h0m1 0h0m20 0h0m8 0h0m2 0h0m-376 1h0m26 0h0m1 0h0m3 0h0m4 0h0m308 0h0m2 0h0m1 0h0m1 0h0m7 0h0m1 0h0m20 0h0m-376 1h0m1 0h0m1 0h0m7 0h0m20 0h0m315 0h0m2 0h0m25 0h0m3 0h0m3 0h0m-378 1h0m3 0h0m8 0h0m19 0h0m1 0h0m5 0h0m312 0h0m30 0h0m-358 1h0m9 0h0m2 0h0m7 0h0m334 0h0m-348 1h0m4 0h0m323 0h0m10 0h0m3 0h0m1 0h0m3 0h0m4 0h0m2 0h0m-351 1h0m4 0h0m340 0h0m6 0h0m-359 1h0m10 0h0m2 0h0m319 0h0m2 0h0m2 0h0m1 0h0m2 0h0m2 0h0m12 0h0m4 0h0m-344 1h0m323 0h0m17 0h0m5 0h0m1 0h0m-364 1h0m1 0h0m342 0h0m1 0h0m2 0h0m3 0h0m8 0h0m4 0h0m-357 1h0m2 0h0m5 0h0m1 0h0m8 0h0m323 0h0m4 0h0m2 0h0m1 0h0m1 0h0m-349 1h0m4 0h0m3 0h0m3 0h0m5 0h0m1 0h0m1 0h0m1 0h0m321 0h0m2 0h0m2 0h0m2 0h0m-342 1h0m8 0h0m4 0h0m325 0h0m-338 1h0m9 0h0m2 0h0m331 0h0m4 0h0m-348 1h0m4 0h0m7 0h0m2 0h0m1 0h0m4 0h0m1 0h0m322 0h0m-337 1h0m5 0h0m4 0h0m4 0h0m-8 1h0m8 0h0m-6 1h0m-6 1h0m2 0h0m4 0h0m-2 1h0m2 0h0m1 0h0m67 164h0m13 0h0m-11 1h0m13 0h0m1 0h0m2 0h0m1 0h0m-14 1h0m5 0h0m4 1h0m-13 1h0m4 0h0m9 0h0m-10 1h0m5 0h0m1 0h0m2 0h0m1 0h0m-4 1h0m2 0h0m-6 1h0m1 0h0m4 0h0m1 0h0m1 0h0m2 0h0m1 0h0m-7 1h0m4 0h0m-7 1h0m-72 51h0m3 0h0m1 0h0m1 0h0m1 0h0m-9 1h0m1 0h0m3 0h0m1 0h0m-1 1h0m1 0h0m2 0h0m-5 2h0m2 0h0m2 0h0m1 0h0m-21 1h0m6 0h0m7 0h0m7 0h0m2 0h0m-22 1h0m1 0h0m7 0h0m1 0h0m1 0h0m1 0h0m9 0h0m3 0h0m-23 1h0m1 0h0m3 0h0m-2 1h0m1 0h0m2 0h0m2 0h0m6 0h0m3 0h0m7 0h0m-20 1h0m9 0h0m8 0h0m-18 1h0m7 0h0m9 0h0m6 0h0m1 0h0m340 0h0m2 0h0m10 0h0m-361 1h0m8 0h0m337 0h0m1 0h0m3 0h0m1 0h0m2 0h0m3 0h0m7 0h0m-375 1h0m26 0h0m338 0h0m4 0h0m3 0h0m2 0h0m-376 1h0m1 0h0m17 0h0m347 0h0m8 0h0m1 0h0m1 0h0m2 0h0m-377 1h0m25 0h0m335 0h0m2 0h0m3 0h0m3 0h0m7 0h0m8 0h0m-385 1h0m5 0h0m16 0h0m8 0h0m334 0h0m10 0h0m8 0h0m2 0h0m-384 1h0m2 0h0m5 0h0m19 0h0m2 0h0m329 0h0m7 0h0m5 0h0m-369 1h0m19 0h0m3 0h0m9 0h0m333 0h0m1 0h0m12 0h0m1 0h0m5 0h0m1 0h0m-368 1h0m12 0h0m334 0h0m1 0h0m21 0h0m-25 1h0m4 0h0m5 0h0m19 0h0m-380 1h0m24 0h0m330 0h0m20 0h0m5 0h0m2 0h0m-394 1h0m2 0h0m9 0h0m23 0h0m1 0h0m328 0h0m-364 1h0m1 0h0m3 0h0m393 0h0m-395 1h0m1 0h0m8 0h0m25 0h0m330 0h0m2 0h0m1 0h0m21 0h0m7 0h0m-398 1h0m2 0h0m13 0h0m20 0h0m3 0h0m329 0h0m25 0h0m2 0h0m2 0h0m-391 1h0m27 0h0m337 0h0m20 0h0m7 0h0m3 0h0m-397 1h0m1 0h0m1 0h0m23 0h0m8 0h0m6 0h0m322 0h0m-360 1h0m33 0h0m2 0h0m3 0h0m322 0h0m1 0h0m33 0h0m3 0h0m-400 1h0m3 0h0m17 0h0m16 0h0m7 0h0m350 0h0m-392 1h0m9 0h0m1 0h0m27 0h0m334 0h0m14 0h0m14 0h0m-396 1h0m360 0h0m-361 1h0m2 0h0m10 0h0m6 0h0m359 0h0m10 0h0m7 0h0m-396 1h0m22 0h0m10 0h0m365 0h0m1 0h0m-396 1h0m25 0h0m5 0h0m331 0h0m-339 1h0m338 0h0m7 0h0m-335 1h0m3 0h0m340 0h0m18 0h0m3 0h0m1 0h0m-389 1h0m26 0h0m324 0h0m13 0h0m10 0h0m13 0h0m1 0h0m-396 1h0m21 0h0m337 0h0m11 0h0m4 0h0m4 0h0m-378 1h0m11 0h0m353 0h0m5 0h0m4 0h0m11 0h0m4 0h0m10 0h0m-399 1h0m2 0h0m2 0h0m20 0h0m8 0h0m340 0h0m5 0h0m11 0h0m4 0h0m-391 1h0m360 0h0m35 0h0m1 0h0m3 0h0m-400 1h0m4 0h0m35 0h0m332 0h0m2 0h0m11 0h0m5 0h0m9 0h0m-398 1h0m6 0h0m9 0h0m2 0h0m20 0h0m3 0h0m322 0h0m6 0h0m10 0h0m6 0h0m-383 1h0m4 0h0m12 0h0m19 0h0m1 0h0m1 0h0m326 0h0m-363 1h0m12 0h0m351 0h0m20 0h0m12 0h0m-394 1h0m6 0h0m4 0h0m353 0h0m8 0h0m15 0h0m1 0h0m4 0h0m-379 1h0m350 0h0m12 0h0m15 0h0m1 0h0m2 0h0m1 0h0m-393 1h0m1 0h0m17 0h0m342 0h0m2 0h0m10 0h0m2 0h0m15 0h0m5 0h0m-393 1h0m7 0h0m352 0h0m1 0h0m-362 1h0m360 0h0m1 0h0m2 0h0m12 0h0m15 0h0m6 0h0m3 0h0m-395 1h0m4 0h0m6 0h0m356 0h0m-362 1h0m2 0h0m17 0h0m1 0h0m334 0h0m-337 1h0m335 0h0m22 0h0m3 0h0m-379 1h0m1 0h0m14 0h0m1 0h0m342 0h0m16 0h0m13 0h0m-367 1h0m1 0h0m1 0h0m334 0h0m17 0h0m12 0h0m-385 1h0m12 0h0m6 0h0m3 0h0m341 0h0m1 0h0m19 0h0m5 0h0m1 0h0m-386 1h0m357 0h0m19 0h0m3 0h0m5 0h0m-383 1h0m11 0h0m345 0h0m1 0h0m9 0h0m17 0h0m-370 1h0m342 0h0m20 0h0m-377 1h0m15 0h0m1 0h0m341 0h0m1 0h0m4 0h0m7 0h0m9 0h0m6 0h0m-384 1h0m1 0h0m367 0h0m2 0h0m5 0h0m2 0h0m1 0h0m3 0h0m1 0h0m-384 1h0m2 0h0m5 0h0m354 0h0m3 0h0m2 0h0m6 0h0m2 0h0m-373 1h0m1 0h0m2 0h0m3 0h0m358 0h0m2 0h0m1 0h0m2 0h0m2 0h0m11 0h0m-383 1h0m2 0h0m6 0h0m352 0h0m9 0h0m3 0h0m2 0h0m1 0h0m4 0h0m5 0h0m-378 1h0m355 0h0m4 0h0m5 0h0m4 0h0m1 0h0m6 0h0m-21 1h0m1 0h0m1 0h0m6 0h0m9 0h0m-11 1h0m-4 1h0m2 0h0m1 0h0m-5 1h0m2 0h0m5 0h0m1 2h0m-273 142h0m12 0h0m-17 1h0m1 0h0m16 1h0m-17 1h0m1 0h0m1 0h0m11 0h0m2 0h0m1 1h0m2 0h0m-15 1h0m16 0h0m1 0h0m4 0h0m-27 1h0m13 0h0m11 0h0m-1 1h0m4 0h0m-21 1h0m12 0h0m5 0h0m2 1h0m-27 1h0m10 0h0m15 0h0m-23 1h0m7 0h0m18 0h0m1 0h0m-26 1h0m1 0h0m5 0h0m-1 2h0m6 0h0m1 0h0m-17 1h0m4 0h0m10 0h0m1 0h0m14 0h0m1 0h0m-3 1h0m-29 1h0m1 0h0m27 0h0m3 0h0m-32 1h0m15 0h0m9 0h0m10 0h0m-32 1h0m-1 1h0m25 0h0m3 0h0m4 0h0m327 0h0m8 0h0m-351 1h0m5 0h0m345 0h0m-351 1h0m15 0h0m3 0h0m326 0h0m2 0h0m1 0h0m-343 1h0m14 0h0m322 0h0m4 0h0m1 0h0m-336 1h0m332 0h0m4 0h0m1 0h0m6 0h0m-367 1h0m3 0h0m30 0h0m319 0h0m8 0h0m-359 1h0m348 0h0m2 0h0m18 0h0m-364 1h0m13 0h0m331 0h0m5 0h0m5 0h0m-354 1h0m3 0h0m5 0h0m6 0h0m332 0h0m-348 1h0m357 0h0m3 0h0m4 0h0m-370 1h0m17 0h0m2 0h0m10 0h0m328 0h0m7 0h0m-377 1h0m10 0h0m2 0h0m2 0h0m28 0h0m335 0h0m-377 1h0m1 0h0m10 0h0m1 0h0m1 0h0m25 0h0m5 0h0m339 0h0m-380 1h0m3 0h0m9 0h0m22 0h0m4 0h0m2 0h0m1 0h0m1 0h0m337 0h0m4 0h0m-381 1h0m9 0h0m1 0h0m9 0h0m1 0h0m18 0h0m332 0h0m6 0h0m4 0h0m-386 1h0m11 0h0m1 0h0m25 0h0m1 0h0m3 0h0m1 0h0m325 0h0m10 0h0m-378 1h0m1 0h0m2 0h0m5 0h0m1 0h0m3 0h0m352 0h0m1 0h0m15 0h0m3 0h0m-381 1h0m1 0h0m1 0h0m3 0h0m2 0h0m1 0h0m3 0h0m6 0h0m8 0h0m350 0h0m10 0h0m-388 1h0m2 0h0m1 0h0m2 0h0m3 0h0m2 0h0m3 0h0m4 0h0m7 0h0m362 0h0m-386 1h0m4 0h0m1 0h0m12 0h0m2 0h0m368 0h0m-401 1h0m19 0h0m1 0h0m7 0h0m7 0h0m363 0h0m-398 1h0m4 0h0m15 0h0m4 0h0m10 0h0m2 0h0m2 0h0m5 0h0m3 0h0m333 0h0m1 0h0m15 0h0m1 0h0m8 0h0m1 0h0m-402 1h0m15 0h0m2 0h0m34 0h0m322 0h0m7 0h0m19 0h0m3 0h0m-400 1h0m5 0h0m5 0h0m1 0h0m2 0h0m2 0h0m3 0h0m10 0h0m348 0h0m9 0h0m-388 1h0m12 0h0m1 0h0m3 0h0m1 0h0m13 0h0m3 0h0m2 0h0m1 0h0m358 0h0m3 0h0m4 0h0m-396 1h0m3 0h0m5 0h0m6 0h0m3 0h0m381 0h0m-410 1h0m9 0h0m11 0h0m2 0h0m5 0h0m3 0h0m356 0h0m17 0h0m-393 1h0m370 0h0m2 0h0m3 0h0m-383 1h0m4 0h0m7 0h0m14 0h0m370 0h0m5 0h0m-400 1h0m2 0h0m5 0h0m12 0h0m360 0h0m3 0h0m-389 1h0m4 0h0m2 0h0m1 0h0m1 0h0m5 0h0m1 0h0m374 0h0m-384 1h0m4 0h0m4 0h0m2 0h0m2 0h0m1 0h0m364 0h0m8 0h0m7 0h0m14 0h0m-408 1h0m5 0h0m2 0h0m4 0h0m1 0h0m2 0h0m1 0h0m365 0h0m1 0h0m6 0h0m17 0h0m-401 1h0m376 0h0m4 0h0m2 0h0m20 0h0m3 0h0m-406 1h0m13 0h0m364 0h0m19 0h0m8 0h0m-400 1h0m2 0h0m3 0h0m1 0h0m372 0h0m2 0h0m1 0h0m6 0h0m3 0h0m3 0h0m-399 1h0m4 0h0m1 0h0m1 0h0m4 0h0m1 0h0m368 0h0m5 0h0m4 0h0m6 0h0m5 0h0m1 0h0m2 0h0m6 0h0m-396 1h0m374 0h0m22 0h0m-408 1h0m378 0h0m1 0h0m4 0h0m13 0h0m8 0h0m1 0h0m-404 1h0m394 0h0m5 0h0m1 0h0m-406 1h0m4 0h0m3 0h0m9 0h0m2 0h0m367 0h0m4 0h0m1 0h0m12 0h0m-400 1h0m385 0h0m17 0h0m3 0h0m-403 1h0m379 0h0m8 0h0m4 0h0m1 0h0m8 0h0m3 0h0m1 0h0m-409 1h0m8 0h0m383 0h0m12 0h0m2 0h0m2 0h0m-408 1h0m400 0h0m5 0h0m2 0h0m1 0h0m-403 1h0m1 0h0m1 0h0m1 0h0m383 0h0m-391 1h0m4 0h0m383 0h0m4 0h0m1 0h0m1 0h0m-393 1h0m2 0h0m385 0h0m2 0h0m3 0h0m-391 1h0m5 0h0m380 0h0m2 0h0m5 0h0m-391 1h0m6 0h0m378 0h0m5 0h0m-388 1h0m387 0h0m-36 1h0m1 0h0m-13 1h0m13 0h0m-353 1h0m342 0h0m2 0h0m10 0h0m3 0h0m1 0h0m-15 1h0m6 0h0m-360 1h0m2 0h0m342 0h0m3 0h0m2 0h0m14 0h0m-358 1h0m336 0h0m6 0h0m3 0h0m3 0h0m3 0h0m11 0h0m1 0h0m-365 1h0m338 0h0m5 0h0m5 0h0m12 0h0m6 0h0m-369 1h0m7 0h0m333 0h0m8 0h0m2 0h0m8 0h0m6 0h0m1 0h0m3 0h0m-365 1h0m348 0h0m3 0h0m4 0h0m5 0h0m3 0h0m-366 1h0m4 0h0m3 0h0m335 0h0m12 0h0m1 0h0m-355 1h0m1 0h0m4 0h0m364 0h0m2 0h0m-370 1h0m4 0h0m1 0h0m7 0h0m325 0h0m2 0h0m4 0h0m22 0h0m6 0h0m2 0h0m-363 1h0m1 0h0m323 0h0m1 0h0m6 0h0m1 0h0m28 0h0m1 0h0m-369 1h0m1 0h0m2 0h0m2 0h0m1 0h0m4 0h0m326 0h0m4 0h0m5 0h0m14 0h0m1 0h0m2 0h0m8 0h0m1 0h0m-374 1h0m3 0h0m3 0h0m6 0h0m5 0h0m2 0h0m322 0h0m5 0h0m11 0h0m8 0h0m5 0h0m2 0h0m-375 1h0m5 0h0m9 0h0m1 0h0m1 0h0m1 0h0m358 0h0m-374 1h0m11 0h0m3 0h0m349 0h0m11 0h0m-370 1h0m10 0h0m6 0h0m319 0h0m2 0h0m21 0h0m8 0h0m-368 1h0m10 0h0m3 0h0m1 0h0m3 0h0m1 0h0m326 0h0m6 0h0m9 0h0m3 0h0m2 0h0m9 0h0m-383 1h0m10 0h0m3 0h0m8 0h0m1 0h0m5 0h0m322 0h0m21 0h0m2 0h0m1 0h0m4 0h0m2 0h0m-376 1h0m2 0h0m4 0h0m7 0h0m5 0h0m319 0h0m2 0h0m9 0h0m-352 1h0m8 0h0m16 0h0m4 0h0m313 0h0m-340 1h0m5 0h0m1 0h0m1 0h0m1 0h0m1 0h0m11 0h0m3 0h0m4 0h0m341 0h0m10 0h0m-378 1h0m4 0h0m2 0h0m1 0h0m1 0h0m4 0h0m10 0h0m2 0h0m4 0h0m316 0h0m35 0h0m-377 1h0m2 0h0m4 0h0m6 0h0m9 0h0m1 0h0m2 0h0m2 0h0m339 0h0m7 0h0m5 0h0m-378 1h0m2 0h0m23 0h0m329 0h0m3 0h0m-339 1h0m348 0h0m2 0h0m6 0h0m-376 1h0m1 0h0m1 0h0m23 0h0m316 0h0m36 0h0m3 0h0m-360 1h0m2 0h0m1 0h0m1 0h0m324 0h0m1 0h0m-346 1h0m1 0h0m1 0h0m2 0h0m22 0h0m311 0h0m6 0h0m29 0h0m3 0h0m-377 1h0m339 0h0m16 0h0m16 0h0m-372 1h0m27 0h0m2 0h0m311 0h0m40 0h0m-379 1h0m1 0h0m26 0h0m337 0h0m14 0h0m-376 1h0m1 0h0m1 0h0m20 0h0m351 0h0m-374 1h0m16 0h0m6 0h0m3 0h0m313 0h0m18 0h0m-343 1h0m6 0h0m1 0h0m317 0h0m28 0h0m11 0h0m-368 1h0m5 0h0m361 0h0m2 0h0m-354 1h0m313 0h0m10 0h0m13 0h0m12 0h0m4 0h0m1 0h0m-356 1h0m3 0h0m355 0h0m-381 1h0m6 0h0m19 0h0m327 0h0m22 0h0m-377 1h0m5 0h0m4 0h0m347 0h0m-348 1h0m8 0h0m10 0h0m342 0h0m-367 1h0m2 0h0m22 0h0m347 0h0m9 0h0m-378 1h0m380 0h0m-382 1h0m1 0h0m14 0h0m5 0h0m2 0h0m352 0h0m1 0h0m1 0h0m1 0h0m-378 1h0m1 0h0m4 0h0m19 0h0m4 0h0m319 0h0m22 0h0m-364 1h0m15 0h0m6 0h0m3 0h0m347 0h0m3 0h0m-378 1h0m10 0h0m9 0h0m5 0h0m5 0h0m327 0h0m-355 1h0m25 0h0m350 0h0m1 0h0m-378 1h0m2 0h0m349 0h0m-348 1h0m17 0h0m4 0h0m343 0h0m3 0h0m1 0h0m-346 1h0m321 0h0m29 0h0m-351 1h0m6 0h0m317 0h0m21 0h0m1 0h0m2 0h0m-358 1h0m11 0h0m4 0h0m319 0h0m23 0h0m1 0h0m5 0h0m-371 1h0m5 0h0m339 0h0m-338 1h0m11 0h0m326 0h0m13 0h0m4 0h0m4 0h0m-20 1h0m-341 1h0m4 0h0m1 0h0m3 0h0m332 0h0m1 0h0m6 0h0m5 0h0m9 0h0m-351 1h0m6 0h0m324 0h0m19 0h0m-361 1h0m340 0h0m3 0h0m1 0h0m12 0h0m5 0h0m-355 1h0m345 0h0m4 0h0m1 0h0m2 0h0m5 0h0m-358 1h0m1 0h0m338 0h0m3 0h0m7 0h0m3 0h0m7 0h0m-22 1h0m6 0h0m2 0h0m1 0h0m1 0h0m-12 1h0m8 0h0m6 0h0m1 0h0m7 0h0m-355 1h0m337 0h0m8 0h0m-347 1h0m3 0h0m331 0h0m1 0h0m9 0h0m3 0h0m3 0h0m-14 1h0m1 0h0m2 0h0m4 0h0m1 0h0m1 0h0m3 0h0m3 0h0m2 0h0m-352 1h0m338 0h0m5 0h0m8 0h0m-14 1h0m6 0h0m9 0h0m2 0h0m4 0h0m-10 2h0m2 0h0m1 0h0m1 0h0m-7 1h0m5 2h0m3 0h0m-276 143h0m8 0h0m-1 1h0m1 0h0m-7 1h0m2 0h0m1 0h0m1 0h0m3 0h0m1 0h0m-10 1h0m3 0h0m6 0h0m-8 1h0m5 0h0m1 0h0m2 0h0m-14 1h0m6 0h0m8 0h0m7 0h0m-19 1h0m8 0h0m-10 1h0m8 0h0m9 0h0m-6 1h0m7 0h0m3 0h0m-27 1h0m2 0h0m3 0h0m-7 1h0m2 0h0m7 0h0m338 0h0m4 0h0m-349 1h0m2 0h0m337 0h0m2 0h0m4 0h0m8 0h0m-354 1h0m3 0h0m344 0h0m-343 1h0m8 0h0m6 0h0m327 0h0m5 0h0m1 0h0m-350 1h0m1 0h0m9 0h0m1 0h0m329 0h0m1 0h0m2 0h0m1 0h0m-346 1h0m6 0h0m6 0h0m4 0h0m326 0h0m1 0h0m9 0h0m-348 1h0m356 0h0m-350 1h0m335 0h0m10 0h0m-326 1h0m313 0h0m1 0h0m1 0h0m1 0h0m13 0h0m2 0h0m-359 1h0m5 0h0m10 0h0m5 0h0m-9 1h0m13 0h0m1 0h0m1 0h0m1 0h0m331 0h0m-362 1h0m16 0h0m6 0h0m1 0h0m5 0h0m313 0h0m2 0h0m19 0h0m-363 1h0m3 0h0m1 0h0m26 0h0m1 0h0m318 0h0m10 0h0m1 0h0m3 0h0m-342 1h0m8 0h0m312 0h0m2 0h0m17 0h0m-355 1h0m21 0h0m3 0h0m2 0h0m311 0h0m-344 1h0m1 0h0m9 0h0m20 0h0m310 0h0m9 0h0m8 0h0m-359 1h0m2 0h0m1 0h0m2 0h0m9 0h0m14 0h0m1 0h0m313 0h0m15 0h0m7 0h0m6 0h0m-342 1h0m342 0h0m1 0h0m-370 1h0m7 0h0m7 0h0m6 0h0m9 0h0m2 0h0m-35 1h0m3 0h0m24 0h0m326 0h0m4 0h0m11 0h0m-377 1h0m2 0h0m2 0h0m4 0h0m1 0h0m1 0h0m3 0h0m1 0h0m18 0h0m8 0h0m321 0h0m-358 1h0m3 0h0m1 0h0m5 0h0m336 0h0m16 0h0m-358 1h0m1 0h0m4 0h0m369 0h0m-375 1h0m2 0h0m2 0h0m2 0h0m25 0h0m-37 1h0m3 0h0m1 0h0m7 0h0m10 0h0m17 0h0m1 0h0m310 0h0m-353 1h0m2 0h0m1 0h0m3 0h0m2 0h0m33 0h0m3 0h0m313 0h0m15 0h0m13 0h0m-383 1h0m3 0h0m1 0h0m3 0h0m5 0h0m2 0h0m8 0h0m21 0h0m336 0h0m1 0h0m3 0h0m-383 1h0m2 0h0m19 0h0m19 0h0m1 0h0m1 0h0m328 0h0m-371 1h0m1 0h0m1 0h0m3 0h0m4 0h0m1 0h0m4 0h0m1 0h0m2 0h0m6 0h0m339 0h0m1 0h0m14 0h0m7 0h0m-383 1h0m7 0h0m4 0h0m4 0h0m11 0h0m16 0h0m320 0h0m-369 1h0m2 0h0m11 0h0m1 0h0m2 0h0m8 0h0m4 0h0m2 0h0m2 0h0m353 0h0m3 0h0m-377 1h0m3 0h0m7 0h0m7 0h0m3 0h0m344 0h0m12 0h0m-381 1h0m3 0h0m2 0h0m4 0h0m1 0h0m1 0h0m3 0h0m7 0h0m1 0h0m6 0h0m1 0h0m324 0h0m14 0h0m1 0h0m1 0h0m2 0h0m-374 1h0m10 0h0m1 0h0m8 0h0m1 0h0m1 0h0m4 0h0m1 0h0m6 0h0m329 0h0m9 0h0m5 0h0m-370 1h0m5 0h0m5 0h0m11 0h0m324 0h0m29 0h0m-377 1h0m3 0h0m349 0h0m3 0h0m10 0h0m4 0h0m7 0h0m2 0h0m-378 1h0m347 0h0m27 0h0m2 0h0m4 0h0m-377 1h0m363 0h0m-17 1h0m1 0h0m28 0h0m-377 1h0m348 0h0m-355 1h0m375 0h0m3 0h0m1 0h0m-382 1h0m4 0h0m353 0h0m4 0h0m14 0h0m3 0h0m1 0h0m-380 1h0m1 0h0m1 0h0m355 0h0m12 0h0m-368 1h0m2 0h0m360 0h0m19 0h0m-381 1h0m4 0h0m362 0h0m2 0h0m4 0h0m9 0h0m-4 1h0m-22 1h0m4 0h0m16 0h0m-21 1h0m21 0h0m-19 2h0m2 0h0m1 0h0m5 0h0m-11 1h0m8 0h0m5 0h0m5 0h0m-19 1h0m1 0h0m2 0h0m2 0h0m4 0h0m5 0h0m4 0h0m-19 1h0m1 0h0m1 0h0m15 0h0m-18 1h0m11 0h0m4 0h0m2 0h0m4 0h0m-10 1h0m3 0h0m3 0h0m5 0h0m-17 2h0m0 1h0m2 1h0m1 0h0m-31 12h0m3 0h0m1 0h0m-3 1h0m1 0h0m-5 2h0m-4 1h0m9 0h0m2 0h0m-10 1h0m5 0h0m4 0h0m2 0h0m-7 1h0m1 0h0m1 0h0m2 0h0m4 0h0m1 0h0m-10 1h0m10 0h0m-15 2h0m4 0h0m2 0h0m3 0h0m-5 1h0m8 0h0m2 0h0m-8 1h0m1 0h0m2 0h0m3 0h0m2 0h0m-1 1h0m-12 1h0m1 0h0m8 0h0m-9 1h0m5 1h0m7 0h0m-15 1h0m14 0h0m3 0h0m-18 1h0m1 0h0m12 0h0m1 1h0m1 0h0m2 0h0m1 0h0m-19 1h0m4 0h0m5 0h0m2 0h0m-9 1h0m1 0h0m9 0h0m-7 1h0m3 0h0m2 0h0m8 0h0m-19 1h0m2 0h0m2 0h0m1 0h0m1 0h0m2 0h0m6 0h0m-13 1h0m9 0h0m8 0h0m1 0h0m-20 1h0m10 0h0m7 0h0m1 0h0m1 0h0m-21 1h0m3 0h0m3 0h0m2 0h0m1 0h0m2 0h0m1 0h0m3 0h0m2 0h0m-4 1h0m3 0h0m-18 1h0m10 0h0m3 0h0m-11 1h0m1 1h0m6 0h0m3 0h0m-9 1h0m3 0h0m1 0h0m5 0h0m-11 1h0m5 0h0m1 0h0m4 0h0m1 0h0m3 0h0m-13 1h0m2 0h0m3 0h0m3 0h0m-9 1h0m9 0h0m3 0h0m1 0h0m-10 1h0m8 0h0m-8 1h0m2 0h0m1 0h0m7 0h0m-7 1h0m3 0h0m2 0h0m-11 1h0m5 1h0m1 0h0m5 0h0m-2 1h0m-4 1h0m4 0h0m3 0h0m2 2h0m-6 1h0m1 0h0m-1 1h0" stroke="#3aa7cc" stroke-width="1.7" stroke-linecap="square" fill="none"/>
<path d="M550 269h0m2 0h0m-348 1h0m1 0h0m1 0h0m3 0h0m1 0h0m4 0h0m2 0h0m340 0h0m5 0h0m2 0h0m-358 1h0m2 0h0m3 0h0m3 0h0m2 0h0m330 0h0m5 0h0m6 0h0m3 0h0m2 0h0m2 0h0m-14 1h0m5 0h0m2 0h0m1 0h0m1 0h0m4 0h0m1 0h0m-357 1h0m1 0h0m6 0h0m1 0h0m331 0h0m4 0h0m2 0h0m1 0h0m2 0h0m4 0h0m1 0h0m-355 1h0m6 0h0m1 0h0m331 0h0m12 0h0m2 0h0m6 0h0m5 0h0m-363 1h0m4 0h0m3 0h0m1 0h0m5 0h0m323 0h0m9 0h0m1 0h0m1 0h0m2 0h0m1 0h0m2 0h0m5 0h0m1 0h0m4 0h0m1 0h0m-363 1h0m7 0h0m4 0h0m325 0h0m6 0h0m3 0h0m20 0h0m-354 1h0m1 0h0m325 0h0m8 0h0m2 0h0m3 0h0m1 0h0m7 0h0m2 0h0m-354 1h0m2 0h0m3 0h0m325 0h0m1 0h0m2 0h0m3 0h0m1 0h0m2 0h0m6 0h0m6 0h0m-351 1h0m4 0h0m325 0h0m3 0h0m1 0h0m1 0h0m3 0h0m7 0h0m2 0h0m2 0h0m6 0h0m1 0h0m1 0h0m-360 1h0m2 0h0m8 0h0m4 0h0m322 0h0m1 0h0m2 0h0m6 0h0m4 0h0m3 0h0m9 0h0m1 0h0m-369 1h0m6 0h0m1 0h0m8 0h0m6 0h0m1 0h0m318 0h0m2 0h0m3 0h0m1 0h0m5 0h0m1 0h0m10 0h0m5 0h0m-357 1h0m6 0h0m2 0h0m5 0h0m1 0h0m311 0h0m4 0h0m2 0h0m3 0h0m5 0h0m2 0h0m6 0h0m1 0h0m1 0h0m4 0h0m1 0h0m5 0h0m-369 1h0m9 0h0m1 0h0m11 0h0m3 0h0m313 0h0m1 0h0m3 0h0m1 0h0m2 0h0m1 0h0m5 0h0m3 0h0m7 0h0m1 0h0m7 0h0m2 0h0m-367 1h0m2 0h0m1 0h0m3 0h0m1 0h0m1 0h0m4 0h0m3 0h0m320 0h0m1 0h0m1 0h0m1 0h0m5 0h0m1 0h0m8 0h0m1 0h0m2 0h0m1 0h0m3 0h0m4 0h0m4 0h0m-369 1h0m7 0h0m8 0h0m1 0h0m328 0h0m2 0h0m2 0h0m8 0h0m8 0h0m1 0h0m3 0h0m-369 1h0m1 0h0m3 0h0m3 0h0m1 0h0m4 0h0m3 0h0m5 0h0m4 0h0m314 0h0m1 0h0m1 0h0m7 0h0m1 0h0m5 0h0m14 0h0m1 0h0m2 0h0m-368 1h0m3 0h0m1 0h0m4 0h0m1 0h0m1 0h0m6 0h0m3 0h0m318 0h0m1 0h0m3 0h0m2 0h0m5 0h0m2 0h0m1 0h0m3 0h0m1 0h0m1 0h0m2 0h0m8 0h0m1 0h0m-368 1h0m3 0h0m1 0h0m1 0h0m1 0h0m1 0h0m5 0h0m1 0h0m4 0h0m1 0h0m2 0h0m2 0h0m1 0h0m313 0h0m3 0h0m2 0h0m2 0h0m3 0h0m4 0h0m3 0h0m1 0h0m1 0h0m2 0h0m3 0h0m1 0h0m3 0h0m3 0h0m-371 1h0m2 0h0m4 0h0m1 0h0m1 0h0m22 0h0m312 0h0m9 0h0m5 0h0m1 0h0m1 0h0m1 0h0m10 0h0m4 0h0m-366 1h0m5 0h0m3 0h0m3 0h0m4 0h0m1 0h0m2 0h0m4 0h0m1 0h0m2 0h0m307 0h0m1 0h0m1 0h0m2 0h0m2 0h0m7 0h0m2 0h0m1 0h0m3 0h0m5 0h0m3 0h0m3 0h0m1 0h0m2 0h0m1 0h0m-374 1h0m2 0h0m3 0h0m18 0h0m2 0h0m4 0h0m2 0h0m309 0h0m3 0h0m2 0h0m2 0h0m1 0h0m2 0h0m9 0h0m1 0h0m-360 1h0m2 0h0m1 0h0m5 0h0m1 0h0m5 0h0m3 0h0m4 0h0m6 0h0m2 0h0m312 0h0m4 0h0m10 0h0m4 0h0m1 0h0m12 0h0m-371 1h0m3 0h0m11 0h0m3 0h0m3 0h0m4 0h0m1 0h0m2 0h0m4 0h0m312 0h0m1 0h0m2 0h0m2 0h0m4 0h0m3 0h0m5 0h0m4 0h0m5 0h0m2 0h0m2 0h0m-365 1h0m6 0h0m1 0h0m3 0h0m2 0h0m4 0h0m3 0h0m1 0h0m4 0h0m307 0h0m1 0h0m12 0h0m1 0h0m6 0h0m1 0h0m3 0h0m1 0h0m1 0h0m4 0h0m-363 1h0m2 0h0m1 0h0m1 0h0m329 0h0m7 0h0m2 0h0m4 0h0m1 0h0m1 0h0m4 0h0m4 0h0m1 0h0m2 0h0m1 0h0m4 0h0m1 0h0m2 0h0m-371 1h0m2 0h0m13 0h0m7 0h0m3 0h0m3 0h0m312 0h0m2 0h0m4 0h0m2 0h0m1 0h0m4 0h0m-352 1h0m2 0h0m1 0h0m3 0h0m2 0h0m1 0h0m1 0h0m1 0h0m1 0h0m12 0h0m4 0h0m1 0h0m311 0h0m10 0h0m1 0h0m3 0h0m3 0h0m4 0h0m1 0h0m1 0h0m1 0h0m1 0h0m1 0h0m-362 1h0m6 0h0m5 0h0m2 0h0m4 0h0m2 0h0m6 0h0m1 0h0m307 0h0m5 0h0m1 0h0m2 0h0m4 0h0m6 0h0m2 0h0m9 0h0m-368 1h0m5 0h0m7 0h0m6 0h0m2 0h0m2 0h0m315 0h0m4 0h0m6 0h0m4 0h0m6 0h0m4 0h0m2 0h0m-361 1h0m3 0h0m4 0h0m6 0h0m7 0h0m2 0h0m314 0h0m3 0h0m7 0h0m3 0h0m7 0h0m-361 1h0m2 0h0m2 0h0m6 0h0m2 0h0m1 0h0m6 0h0m6 0h0m2 0h0m321 0h0m5 0h0m4 0h0m1 0h0m3 0h0m-359 1h0m1 0h0m3 0h0m2 0h0m5 0h0m6 0h0m4 0h0m318 0h0m8 0h0m15 0h0m-363 1h0m4 0h0m1 0h0m4 0h0m15 0h0m3 0h0m323 0h0m4 0h0m1 0h0m1 0h0m1 0h0m1 0h0m11 0h0m-363 1h0m7 0h0m1 0h0m1 0h0m2 0h0m5 0h0m327 0h0m2 0h0m6 0h0m7 0h0m-361 1h0m4 0h0m1 0h0m3 0h0m4 0h0m2 0h0m1 0h0m331 0h0m2 0h0m3 0h0m3 0h0m6 0h0m2 0h0m1 0h0m1 0h0m-368 1h0m4 0h0m5 0h0m6 0h0m3 0h0m2 0h0m327 0h0m2 0h0m3 0h0m3 0h0m5 0h0m3 0h0m2 0h0m1 0h0m1 0h0m2 0h0m-364 1h0m2 0h0m1 0h0m4 0h0m10 0h0m324 0h0m4 0h0m1 0h0m4 0h0m5 0h0m1 0h0m5 0h0m2 0h0m-366 1h0m1 0h0m4 0h0m1 0h0m1 0h0m1 0h0m6 0h0m3 0h0m3 0h0m2 0h0m321 0h0m1 0h0m2 0h0m2 0h0m2 0h0m6 0h0m9 0h0m-361 1h0m9 0h0m2 0h0m1 0h0m1 0h0m332 0h0m3 0h0m-349 1h0m1 0h0m3 0h0m9 0h0m333 0h0m2 0h0m2 0h0m3 0h0m-350 1h0m4 0h0m2 0h0m5 0h0m332 0h0m-343 1h0m5 0h0m339 0h0m2 0h0m4 0h0m2 0h0m-354 1h0m2 0h0m1 0h0m1 0h0m2 0h0m2 0h0m2 0h0m343 0h0m-348 1h0m-1 1h0m1 1h0m1 1h0m-2 1h0m8 234h0m0 1h0m1 0h0m-3 3h0m2 0h0m-13 1h0m2 0h0m10 0h0m4 0h0m-12 1h0m3 0h0m4 0h0m5 0h0m1 0h0m-15 1h0m4 0h0m3 0h0m10 0h0m1 0h0m-19 1h0m2 0h0m3 0h0m7 0h0m1 0h0m1 0h0m3 0h0m-16 1h0m1 0h0m5 0h0m2 0h0m1 0h0m4 0h0m-14 1h0m4 0h0m3 0h0m8 0h0m347 0h0m3 0h0m3 0h0m1 0h0m-369 1h0m1 0h0m5 0h0m3 0h0m3 0h0m5 0h0m349 0h0m7 0h0m-375 1h0m3 0h0m2 0h0m2 0h0m6 0h0m4 0h0m1 0h0m344 0h0m4 0h0m4 0h0m1 0h0m-369 1h0m15 0h0m3 0h0m341 0h0m8 0h0m1 0h0m1 0h0m-372 1h0m13 0h0m1 0h0m3 0h0m1 0h0m2 0h0m343 0h0m2 0h0m3 0h0m3 0h0m4 0h0m-380 1h0m1 0h0m2 0h0m2 0h0m2 0h0m3 0h0m1 0h0m1 0h0m2 0h0m4 0h0m5 0h0m2 0h0m340 0h0m5 0h0m3 0h0m-364 1h0m1 0h0m1 0h0m11 0h0m5 0h0m338 0h0m4 0h0m2 0h0m4 0h0m7 0h0m-378 1h0m1 0h0m2 0h0m9 0h0m6 0h0m3 0h0m342 0h0m7 0h0m6 0h0m-380 1h0m4 0h0m2 0h0m4 0h0m2 0h0m10 0h0m1 0h0m1 0h0m2 0h0m339 0h0m1 0h0m4 0h0m7 0h0m3 0h0m2 0h0m-379 1h0m2 0h0m2 0h0m1 0h0m5 0h0m1 0h0m1 0h0m6 0h0m2 0h0m1 0h0m2 0h0m337 0h0m1 0h0m2 0h0m3 0h0m1 0h0m3 0h0m1 0h0m6 0h0m-382 1h0m2 0h0m5 0h0m2 0h0m2 0h0m3 0h0m4 0h0m1 0h0m5 0h0m1 0h0m2 0h0m333 0h0m3 0h0m5 0h0m4 0h0m2 0h0m4 0h0m11 0h0m-380 1h0m4 0h0m2 0h0m3 0h0m1 0h0m6 0h0m3 0h0m335 0h0m7 0h0m7 0h0m11 0h0m-386 1h0m1 0h0m1 0h0m1 0h0m6 0h0m3 0h0m6 0h0m348 0h0m3 0h0m9 0h0m3 0h0m3 0h0m-385 1h0m4 0h0m4 0h0m4 0h0m6 0h0m4 0h0m339 0h0m2 0h0m2 0h0m1 0h0m2 0h0m1 0h0m1 0h0m9 0h0m3 0h0m1 0h0m-383 1h0m11 0h0m3 0h0m3 0h0m4 0h0m1 0h0m343 0h0m1 0h0m6 0h0m15 0h0m-384 1h0m7 0h0m1 0h0m7 0h0m5 0h0m1 0h0m6 0h0m331 0h0m4 0h0m1 0h0m5 0h0m3 0h0m7 0h0m3 0h0m1 0h0m-384 1h0m1 0h0m2 0h0m1 0h0m15 0h0m1 0h0m8 0h0m335 0h0m2 0h0m2 0h0m2 0h0m6 0h0m3 0h0m1 0h0m3 0h0m3 0h0m1 0h0m1 0h0m-383 1h0m1 0h0m6 0h0m2 0h0m3 0h0m2 0h0m1 0h0m1 0h0m5 0h0m3 0h0m1 0h0m329 0h0m7 0h0m2 0h0m4 0h0m2 0h0m5 0h0m1 0h0m2 0h0m3 0h0m-386 1h0m5 0h0m4 0h0m5 0h0m1 0h0m1 0h0m1 0h0m1 0h0m3 0h0m5 0h0m2 0h0m333 0h0m2 0h0m15 0h0m8 0h0m-383 1h0m6 0h0m6 0h0m4 0h0m1 0h0m6 0h0m1 0h0m3 0h0m3 0h0m329 0h0m3 0h0m1 0h0m1 0h0m14 0h0m3 0h0m2 0h0m-386 1h0m6 0h0m3 0h0m6 0h0m6 0h0m1 0h0m3 0h0m2 0h0m1 0h0m5 0h0m327 0h0m6 0h0m8 0h0m7 0h0m4 0h0m1 0h0m2 0h0m-384 1h0m10 0h0m4 0h0m1 0h0m2 0h0m3 0h0m336 0h0m3 0h0m5 0h0m4 0h0m1 0h0m12 0h0m2 0h0m1 0h0m-386 1h0m12 0h0m1 0h0m2 0h0m1 0h0m6 0h0m1 0h0m5 0h0m1 0h0m333 0h0m5 0h0m1 0h0m4 0h0m2 0h0m6 0h0m2 0h0m1 0h0m-384 1h0m1 0h0m9 0h0m2 0h0m5 0h0m2 0h0m2 0h0m1 0h0m1 0h0m2 0h0m2 0h0m2 0h0m3 0h0m331 0h0m13 0h0m3 0h0m6 0h0m3 0h0m-386 1h0m1 0h0m1 0h0m1 0h0m16 0h0m1 0h0m4 0h0m1 0h0m4 0h0m330 0h0m1 0h0m4 0h0m1 0h0m2 0h0m3 0h0m2 0h0m1 0h0m2 0h0m3 0h0m2 0h0m5 0h0m-385 1h0m3 0h0m1 0h0m6 0h0m8 0h0m3 0h0m2 0h0m5 0h0m1 0h0m335 0h0m8 0h0m8 0h0m-383 1h0m5 0h0m4 0h0m12 0h0m2 0h0m4 0h0m334 0h0m10 0h0m5 0h0m1 0h0m2 0h0m5 0h0m-385 1h0m1 0h0m2 0h0m11 0h0m1 0h0m8 0h0m2 0h0m1 0h0m336 0h0m3 0h0m5 0h0m2 0h0m1 0h0m1 0h0m1 0h0m1 0h0m4 0h0m3 0h0m4 0h0m-386 1h0m6 0h0m2 0h0m4 0h0m7 0h0m9 0h0m334 0h0m2 0h0m1 0h0m19 0h0m2 0h0m1 0h0m-387 1h0m3 0h0m1 0h0m1 0h0m1 0h0m1 0h0m2 0h0m3 0h0m2 0h0m3 0h0m1 0h0m8 0h0m333 0h0m3 0h0m1 0h0m5 0h0m1 0h0m12 0h0m5 0h0m3 0h0m-383 1h0m9 0h0m10 0h0m1 0h0m337 0h0m5 0h0m9 0h0m2 0h0m2 0h0m2 0h0m4 0h0m-387 1h0m1 0h0m5 0h0m3 0h0m1 0h0m5 0h0m11 0h0m333 0h0m4 0h0m1 0h0m3 0h0m3 0h0m7 0h0m2 0h0m-376 1h0m3 0h0m2 0h0m4 0h0m7 0h0m5 0h0m339 0h0m3 0h0m13 0h0m-377 1h0m1 0h0m4 0h0m3 0h0m6 0h0m2 0h0m10 0h0m332 0h0m2 0h0m1 0h0m-359 1h0m4 0h0m4 0h0m1 0h0m7 0h0m1 0h0m2 0h0m4 0h0m1 0h0m335 0h0m10 0h0m7 0h0m-365 1h0m2 0h0m8 0h0m344 0h0m3 0h0m9 0h0m2 0h0m-376 1h0m2 0h0m2 0h0m1 0h0m3 0h0m349 0h0m2 0h0m2 0h0m5 0h0m6 0h0m3 0h0m2 0h0m-375 1h0m3 0h0m2 0h0m349 0h0m5 0h0m2 0h0m4 0h0m3 0h0m2 0h0m-373 1h0m2 0h0m2 0h0m2 0h0m5 0h0m345 0h0m12 0h0m2 0h0m2 0h0m-374 1h0m5 0h0m5 0h0m350 0h0m3 0h0m11 0h0m1 0h0m5 0h0m-7 1h0m1 0h0m3 0h0m-372 1h0m3 0h0m353 0h0m10 0h0m1 0h0m-371 1h0m362 0h0m8 0h0m3 0h0m-374 1h0m1 0h0m2 0h0m4 0h0m1 0h0m1 0h0m355 0h0m1 0h0m4 0h0m5 0h0m-13 1h0m10 0h0m1 0h0m-372 1h0m361 0h0m4 0h0m1 0h0m4 0h0m-278 152h0m2 0h0m0 1h0m2 0h0m-6 1h0m7 0h0m3 0h0m-3 1h0m-4 1h0m2 0h0m4 0h0m-14 1h0m10 0h0m2 0h0m1 0h0m1 0h0m-12 1h0m8 0h0m1 0h0m4 0h0m1 0h0m-14 1h0m7 0h0m1 0h0m1 0h0m3 0h0m1 0h0m-5 1h0m1 0h0m5 0h0m2 0h0m2 0h0m-17 1h0m4 0h0m3 0h0m8 0h0m-15 1h0m1 0h0m2 0h0m4 0h0m4 0h0m1 0h0m1 0h0m-15 1h0m3 0h0m3 0h0m1 0h0m4 0h0m2 0h0m4 0h0m1 0h0m-19 1h0m1 0h0m1 0h0m3 0h0m1 0h0m11 0h0m-14 1h0m3 0h0m7 0h0m5 0h0m-16 1h0m2 0h0m4 0h0m2 0h0m5 0h0m-18 1h0m2 0h0m3 0h0m2 0h0m2 0h0m2 0h0m3 0h0m6 0h0m3 0h0m-25 1h0m1 0h0m3 0h0m5 0h0m3 0h0m2 0h0m1 0h0m3 0h0m-14 1h0m9 0h0m3 0h0m3 0h0m4 0h0m-19 1h0m1 0h0m5 0h0m5 0h0m-14 1h0m14 0h0m1 0h0m5 0h0m-20 1h0m3 0h0m1 0h0m4 0h0m10 0h0m1 0h0m-19 1h0m10 0h0m2 0h0m1 0h0m2 0h0m2 0h0m-15 1h0m3 0h0m3 0h0m1 0h0m1 0h0m7 0h0m3 0h0m-20 1h0m3 0h0m2 0h0m10 0h0m1 0h0m3 0h0m-18 1h0m12 0h0m4 0h0m1 0h0m5 0h0m-23 1h0m5 0h0m7 0h0m3 0h0m7 0h0m327 0h0m6 0h0m-352 1h0m13 0h0m2 0h0m332 0h0m1 0h0m-349 1h0m7 0h0m2 0h0m1 0h0m10 0h0m331 0h0m5 0h0m-359 1h0m1 0h0m2 0h0m1 0h0m4 0h0m3 0h0m9 0h0m332 0h0m2 0h0m-353 1h0m12 0h0m1 0h0m2 0h0m2 0h0m6 0h0m330 0h0m6 0h0m-359 1h0m1 0h0m2 0h0m3 0h0m1 0h0m11 0h0m329 0h0m-347 1h0m2 0h0m10 0h0m3 0h0m3 0h0m332 0h0m5 0h0m2 0h0m-359 1h0m1 0h0m6 0h0m2 0h0m1 0h0m4 0h0m2 0h0m2 0h0m-16 1h0m1 0h0m11 0h0m5 0h0m332 0h0m5 0h0m1 0h0m1 0h0m-360 1h0m15 0h0m1 0h0m5 0h0m331 0h0m4 0h0m1 0h0m2 0h0m1 0h0m-358 1h0m4 0h0m3 0h0m1 0h0m2 0h0m9 0h0m328 0h0m6 0h0m6 0h0m-363 1h0m5 0h0m1 0h0m2 0h0m3 0h0m1 0h0m3 0h0m1 0h0m336 0h0m12 0h0m-363 1h0m2 0h0m3 0h0m6 0h0m4 0h0m3 0h0m333 0h0m3 0h0m3 0h0m5 0h0m-361 1h0m6 0h0m5 0h0m3 0h0m334 0h0m4 0h0m2 0h0m8 0h0m-362 1h0m1 0h0m13 0h0m1 0h0m337 0h0m2 0h0m1 0h0m2 0h0m5 0h0m-356 1h0m1 0h0m8 0h0m334 0h0m1 0h0m2 0h0m3 0h0m-350 1h0m342 0h0m-344 1h0m6 0h0m1 0h0m1 0h0m1 0h0m4 0h0m333 0h0m1 0h0m-346 1h0m2 0h0m8 0h0m1 0h0m329 0h0m-339 1h0m1 0h0m1 0h0m2 0h0m1 0h0m5 0h0m334 0h0m2 0h0m2 0h0m-340 1h0m333 0h0m1 0h0m6 0h0m1 0h0m-5 1h0m0 1h0m4 0h0m1 0h0m-10 1h0m3 0h0m3 0h0m-6 1h0m7 0h0m3 0h0m-10 1h0m1 0h0m1 0h0m1 0h0m1 0h0m-4 1h0m6 0h0m6 0h0m-11 1h0m1 0h0m10 0h0m-9 2h0m5 0h0m1 0h0m-68 26h0m4 0h0m5 0h0m-7 1h0m6 0h0m-9 1h0m8 0h0m3 0h0m-9 1h0m8 0h0m2 0h0m-12 1h0m5 0h0m2 0h0m2 0h0m2 0h0m-20 1h0m2 0h0m14 0h0m1 0h0m1 0h0m-14 1h0m5 0h0m1 0h0m2 0h0m3 0h0m6 0h0m2 0h0m-23 1h0m3 0h0m1 0h0m3 0h0m9 0h0m4 0h0m-15 1h0m8 0h0m2 0h0m1 0h0m-6 1h0m3 0h0m1 0h0m-4 1h0m12 0h0m-350 1h0m327 0h0m1 0h0m1 0h0m2 0h0m11 0h0m1 0h0m2 0h0m3 0h0m1 0h0m1 0h0m-350 1h0m332 0h0m1 0h0m3 0h0m4 0h0m1 0h0m7 0h0m-352 1h0m5 0h0m331 0h0m4 0h0m4 0h0m1 0h0m7 0h0m-348 1h0m327 0h0m6 0h0m8 0h0m6 0h0m-351 1h0m1 0h0m329 0h0m6 0h0m4 0h0m1 0h0m3 0h0m7 0h0m3 0h0m4 0h0m-367 1h0m1 0h0m3 0h0m4 0h0m1 0h0m3 0h0m327 0h0m8 0h0m7 0h0m4 0h0m1 0h0m-360 1h0m9 0h0m328 0h0m3 0h0m1 0h0m6 0h0m12 0h0m6 0h0m-365 1h0m5 0h0m2 0h0m1 0h0m1 0h0m4 0h0m334 0h0m2 0h0m2 0h0m5 0h0m1 0h0m6 0h0m1 0h0m-359 1h0m1 0h0m1 0h0m6 0h0m326 0h0m9 0h0m3 0h0m14 0h0m1 0h0m1 0h0m2 0h0m-367 1h0m12 0h0m2 0h0m324 0h0m5 0h0m3 0h0m9 0h0m10 0h0m-363 1h0m3 0h0m2 0h0m1 0h0m5 0h0m1 0h0m1 0h0m319 0h0m3 0h0m9 0h0m7 0h0m7 0h0m5 0h0m1 0h0m-367 1h0m17 0h0m1 0h0m325 0h0m2 0h0m23 0h0m1 0h0m-367 1h0m6 0h0m5 0h0m3 0h0m325 0h0m1 0h0m1 0h0m5 0h0m2 0h0m5 0h0m-354 1h0m1 0h0m5 0h0m2 0h0m10 0h0m317 0h0m7 0h0m7 0h0m6 0h0m1 0h0m5 0h0m4 0h0m2 0h0m-367 1h0m3 0h0m2 0h0m2 0h0m1 0h0m1 0h0m1 0h0m3 0h0m331 0h0m1 0h0m3 0h0m16 0h0m3 0h0m-370 1h0m3 0h0m1 0h0m2 0h0m5 0h0m5 0h0m321 0h0m1 0h0m15 0h0m3 0h0m1 0h0m2 0h0m7 0h0m-370 1h0m8 0h0m1 0h0m1 0h0m1 0h0m3 0h0m328 0h0m2 0h0m5 0h0m3 0h0m11 0h0m1 0h0m3 0h0m5 0h0m2 0h0m-373 1h0m4 0h0m3 0h0m6 0h0m2 0h0m2 0h0m324 0h0m7 0h0m5 0h0m9 0h0m1 0h0m5 0h0m2 0h0m-369 1h0m4 0h0m1 0h0m3 0h0m5 0h0m4 0h0m327 0h0m12 0h0m2 0h0m3 0h0m2 0h0m-360 1h0m11 0h0m328 0h0m1 0h0m4 0h0m1 0h0m1 0h0m9 0h0m9 0h0m4 0h0m-365 1h0m332 0h0m2 0h0m5 0h0m4 0h0m10 0h0m1 0h0m4 0h0m1 0h0m6 0h0m-369 1h0m6 0h0m1 0h0m3 0h0m1 0h0m327 0h0m3 0h0m4 0h0m1 0h0m4 0h0m16 0h0m-369 1h0m8 0h0m4 0h0m1 0h0m3 0h0m333 0h0m3 0h0m2 0h0m1 0h0m9 0h0m2 0h0m6 0h0m-370 1h0m4 0h0m3 0h0m8 0h0m328 0h0m6 0h0m2 0h0m6 0h0m-357 1h0m1 0h0m1 0h0m4 0h0m337 0h0m4 0h0m5 0h0m13 0h0m-363 1h0m3 0h0m5 0h0m1 0h0m340 0h0m3 0h0m13 0h0m-361 1h0m2 0h0m2 0h0m1 0h0m333 0h0m1 0h0m16 0h0m-363 1h0m2 0h0m11 0h0m336 0h0m3 0h0m4 0h0m4 0h0m2 0h0m7 0h0m-364 1h0m4 0h0m336 0h0m10 0h0m6 0h0m1 0h0m-361 1h0m1 0h0m5 0h0m341 0h0m2 0h0m2 0h0m9 0h0m-359 1h0m2 0h0m3 0h0m-7 1h0m4 0h0m5 0h0m336 0h0m4 0h0m3 0h0m3 0h0m-352 1h0m3 0h0m2 0h0m342 0h0m2 0h0m2 0h0m1 0h0m3 0h0m-358 1h0m9 0h0m4 0h0m343 0h0m1 0h0m-358 1h0m346 0h0m1 0h0m6 0h0m-6 1h0m6 1h0m-1 1h0m-273 163h0m6 0h0m9 0h0m-17 1h0m6 0h0m1 0h0m5 0h0m-13 1h0m13 0h0m1 0h0m3 0h0m-15 1h0m3 0h0m1 0h0m1 0h0m1 0h0m1 0h0m4 0h0m2 0h0m-14 1h0m1 0h0m2 0h0m3 0h0m3 0h0m6 0h0m1 0h0m2 0h0m-13 1h0m6 0h0m3 0h0m1 0h0m1 0h0m4 0h0m-20 1h0m1 0h0m2 0h0m1 0h0m2 0h0m1 0h0m4 0h0m2 0h0m4 0h0m2 0h0m1 0h0m2 0h0m1 0h0m-24 1h0m1 0h0m2 0h0m1 0h0m2 0h0m5 0h0m3 0h0m2 0h0m1 0h0m4 0h0m1 0h0m-20 1h0m8 0h0m3 0h0m1 0h0m2 0h0m1 0h0m1 0h0m-18 1h0m2 0h0m2 0h0m3 0h0m3 0h0m2 0h0m-11 1h0m1 0h0m1 0h0m3 0h0m1 0h0m4 0h0m2 0h0m5 0h0m5 0h0m318 0h0m6 0h0m-342 1h0m5 0h0m1 0h0m1 0h0m3 0h0m325 0h0m1 0h0m1 0h0m1 0h0m2 0h0m4 0h0m-352 1h0m2 0h0m12 0h0m8 0h0m3 0h0m-18 1h0m5 0h0m4 0h0m6 0h0m3 0h0m323 0h0m-349 1h0m7 0h0m6 0h0m6 0h0m4 0h0m2 0h0m1 0h0m322 0h0m4 0h0m-350 1h0m4 0h0m4 0h0m7 0h0m1 0h0m326 0h0m4 0h0m1 0h0m3 0h0m-350 1h0m3 0h0m12 0h0m327 0h0m2 0h0m-348 1h0m3 0h0m1 0h0m2 0h0m3 0h0m1 0h0m1 0h0m1 0h0m4 0h0m6 0h0m320 0h0m2 0h0m2 0h0m1 0h0m3 0h0m3 0h0m1 0h0m-345 1h0m1 0h0m5 0h0m5 0h0m329 0h0m3 0h0m3 0h0m-349 1h0m2 0h0m3 0h0m6 0h0m3 0h0m3 0h0m1 0h0m319 0h0m2 0h0m1 0h0m2 0h0m6 0h0m-357 1h0m16 0h0m3 0h0m4 0h0m2 0h0m324 0h0m5 0h0m4 0h0m-358 1h0m3 0h0m1 0h0m4 0h0m2 0h0m3 0h0m7 0h0m2 0h0m333 0h0m4 0h0m2 0h0m-358 1h0m5 0h0m4 0h0m1 0h0m1 0h0m4 0h0m2 0h0m1 0h0m1 0h0m1 0h0m316 0h0m2 0h0m1 0h0m3 0h0m4 0h0m5 0h0m3 0h0m3 0h0m2 0h0m-363 1h0m6 0h0m13 0h0m1 0h0m3 0h0m1 0h0m318 0h0m5 0h0m6 0h0m7 0h0m3 0h0m-362 1h0m5 0h0m7 0h0m3 0h0m2 0h0m3 0h0m318 0h0m1 0h0m1 0h0m3 0h0m5 0h0m1 0h0m3 0h0m4 0h0m4 0h0m-361 1h0m9 0h0m1 0h0m2 0h0m1 0h0m1 0h0m3 0h0m6 0h0m314 0h0m2 0h0m8 0h0m4 0h0m6 0h0m4 0h0m2 0h0m-362 1h0m6 0h0m2 0h0m4 0h0m1 0h0m1 0h0m1 0h0m1 0h0m1 0h0m1 0h0m317 0h0m2 0h0m2 0h0m3 0h0m4 0h0m4 0h0m2 0h0m-349 1h0m3 0h0m3 0h0m1 0h0m7 0h0m326 0h0m4 0h0m6 0h0m1 0h0m7 0h0m-359 1h0m1 0h0m2 0h0m1 0h0m2 0h0m1 0h0m2 0h0m1 0h0m5 0h0m321 0h0m4 0h0m2 0h0m4 0h0m1 0h0m1 0h0m4 0h0m3 0h0m-357 1h0m5 0h0m3 0h0m1 0h0m1 0h0m1 0h0m1 0h0m1 0h0m1 0h0m322 0h0m1 0h0m9 0h0m7 0h0m6 0h0m3 0h0m-364 1h0m1 0h0m1 0h0m2 0h0m1 0h0m3 0h0m5 0h0m2 0h0m2 0h0m1 0h0m1 0h0m316 0h0m1 0h0m3 0h0m8 0h0m4 0h0m4 0h0m2 0h0m-343 1h0m2 0h0m1 0h0m1 0h0m319 0h0m1 0h0m4 0h0m1 0h0m3 0h0m4 0h0m3 0h0m5 0h0m-358 1h0m4 0h0m2 0h0m10 0h0m2 0h0m315 0h0m1 0h0m4 0h0m2 0h0m6 0h0m7 0h0m2 0h0m1 0h0m2 0h0m1 0h0m-359 1h0m3 0h0m1 0h0m2 0h0m6 0h0m320 0h0m7 0h0m1 0h0m5 0h0m6 0h0m2 0h0m2 0h0m1 0h0m1 0h0m-348 1h0m8 0h0m315 0h0m1 0h0m2 0h0m1 0h0m2 0h0m2 0h0m5 0h0m2 0h0m2 0h0m2 0h0m5 0h0m-349 1h0m6 0h0m2 0h0m2 0h0m318 0h0m1 0h0m6 0h0m16 0h0m-26 1h0m1 0h0m13 0h0m1 0h0m2 0h0m2 0h0m1 0h0m1 0h0m3 0h0m-21 1h0m1 0h0m6 0h0m2 0h0m2 0h0m3 0h0m7 0h0m1 0h0m3 0h0m-20 1h0m4 0h0m2 0h0m6 0h0m3 0h0m1 0h0m3 0h0m-26 1h0m3 0h0m2 0h0m2 0h0m1 0h0m4 0h0m2 0h0m8 0h0m3 0h0m-25 1h0m9 0h0m1 0h0m3 0h0m2 0h0m6 0h0m-20 1h0m5 0h0m4 0h0m-12 1h0m4 0h0m9 0h0m2 0h0m2 0h0m6 0h0m1 0h0m-20 1h0m7 0h0m3 0h0m6 0h0m1 0h0m3 0h0m-22 1h0m3 0h0m8 0h0m-10 1h0m2 0h0m3 0h0m1 0h0m8 0h0m2 0h0m1 0h0m-21 1h0m7 0h0m1 0h0m2 0h0m2 0h0m5 0h0m1 0h0m1 0h0m-19 1h0m5 0h0m1 0h0m1 0h0m9 0h0m2 0h0m-17 1h0m5 0h0m3 0h0m6 0h0m-15 1h0m1 0h0m2 0h0m1 0h0m1 0h0m2 0h0m3 0h0m3 0h0m5 0h0m-7 1h0m5 0h0m1 0h0m1 0h0m-16 1h0m1 0h0m9 0h0m1 0h0m2 0h0m-14 1h0m4 0h0m1 0h0m1 0h0m0 1h0m1 0h0m2 0h0m2 0h0m-8 1h0m1 0h0m4 0h0m2 0h0m1 0h0m2 0h0m-9 1h0m4 0h0m-39 35h0m-4 1h0m1 0h0m1 0h0m0 1h0m-4 1h0m5 0h0m-3 2h0m2 0h0" stroke="#4cb050" stroke-width="1.7" stroke-linecap="square" fill="none"/>
<path d="M211 274h0m1 0h0m2 0h0m344 0h0m-2 1h0m-342 1h0m342 0h0m-345 3h0m1 0h0m4 0h0m333 0h0m10 0h0m-355 1h0m5 0h0m2 0h0m3 0h0m332 0h0m6 0h0m2 0h0m4 0h0m4 0h0m-355 1h0m5 0h0m2 0h0m4 0h0m330 0h0m2 0h0m-342 1h0m4 0h0m1 0h0m2 0h0m338 0h0m2 0h0m5 0h0m-354 1h0m10 0h0m2 0h0m345 0h0m1 0h0m-346 1h0m331 0h0m4 0h0m2 0h0m1 0h0m2 0h0m2 0h0m4 0h0m-351 1h0m2 0h0m331 0h0m4 0h0m3 0h0m1 0h0m6 0h0m2 0h0m-348 1h0m2 0h0m328 0h0m9 0h0m7 0h0m-342 1h0m339 0h0m3 0h0m-350 1h0m2 0h0m4 0h0m331 0h0m2 0h0m3 0h0m9 0h0m-355 1h0m4 0h0m4 0h0m1 0h0m336 0h0m5 0h0m1 0h0m-350 1h0m3 0h0m344 0h0m3 0h0m-350 1h0m1 0h0m3 0h0m1 0h0m3 0h0m338 0h0m-346 1h0m5 0h0m2 0h0m340 0h0m9 0h0m-348 1h0m1 0h0m329 0h0m2 0h0m3 0h0m12 0h0m-362 1h0m2 0h0m6 0h0m4 0h0m336 0h0m5 0h0m-348 1h0m1 0h0m1 0h0m3 0h0m5 0h0m336 0h0m4 0h0m2 0h0m1 0h0m-347 1h0m1 0h0m2 0h0m5 0h0m332 0h0m5 0h0m-357 1h0m6 0h0m6 0h0m3 0h0m3 0h0m1 0h0m327 0h0m6 0h0m7 0h0m-357 1h0m1 0h0m1 0h0m1 0h0m3 0h0m1 0h0m2 0h0m1 0h0m2 0h0m333 0h0m1 0h0m2 0h0m4 0h0m4 0h0m-354 1h0m2 0h0m1 0h0m1 0h0m7 0h0m3 0h0m329 0h0m1 0h0m2 0h0m5 0h0m-352 1h0m4 0h0m2 0h0m5 0h0m1 0h0m332 0h0m1 0h0m3 0h0m2 0h0m-352 1h0m3 0h0m13 0h0m-16 1h0m1 0h0m2 0h0m2 0h0m2 0h0m1 0h0m1 0h0m7 0h0m330 0h0m10 0h0m3 0h0m-354 1h0m10 0h0m329 0h0m3 0h0m3 0h0m-345 1h0m1 2h0m-1 2h0m2 254h0m2 0h0m2 0h0m1 0h0m0 2h0m-12 1h0m2 0h0m7 1h0m-8 1h0m11 0h0m1 0h0m-13 1h0m4 0h0m0 1h0m7 0h0m-10 1h0m2 0h0m2 0h0m1 0h0m-2 1h0m5 0h0m3 0h0m-7 1h0m6 0h0m1 0h0m-10 1h0m9 0h0m2 0h0m-14 1h0m12 0h0m-6 1h0m3 0h0m-8 1h0m12 0h0m-12 1h0m6 0h0m1 0h0m354 0h0m-360 1h0m4 0h0m357 0h0m4 0h0m1 0h0m-355 1h0m351 0h0m1 0h0m3 0h0m-360 1h0m1 0h0m3 0h0m-11 1h0m3 0h0m7 0h0m357 0h0m-367 1h0m3 0h0m3 0h0m3 0h0m357 0h0m1 0h0m-364 1h0m3 0h0m4 0h0m1 0h0m345 0h0m4 0h0m2 0h0m1 0h0m5 0h0m-368 1h0m5 0h0m9 0h0m341 0h0m19 0h0m-373 1h0m353 0h0m6 0h0m8 0h0m5 0h0m-373 1h0m7 0h0m350 0h0m4 0h0m4 0h0m1 0h0m4 0h0m-369 1h0m364 0h0m6 0h0m-360 1h0m2 0h0m347 0h0m7 0h0m6 0h0m-371 1h0m8 0h0m1 0h0m350 0h0m1 0h0m2 0h0m-362 1h0m4 0h0m4 0h0m352 0h0m3 0h0m-364 1h0m8 0h0m347 0h0m6 0h0m6 0h0m-9 1h0m4 0h0m5 0h0m-1 1h0m-12 1h0m10 0h0m1 0h0m2 0h0m-7 1h0m1 0h0m7 1h0m-281 173h0m4 0h0m-4 1h0m4 0h0m-3 1h0m3 0h0m-3 1h0m1 0h0m2 0h0m-11 2h0m8 0h0m1 0h0m-6 1h0m5 1h0m-7 1h0m10 0h0m-12 1h0m3 0h0m4 0h0m-3 1h0m1 0h0m8 0h0m-8 2h0m3 0h0m4 0h0m-10 1h0m3 0h0m3 0h0m3 0h0m-1 1h0m1 0h0m-6 1h0m6 0h0m-2 1h0m-9 1h0m0 1h0m4 0h0m1 1h0m-4 1h0m2 0h0m5 0h0m-5 1h0m1 0h0m1 0h0m1 1h0m0 2h0m-7 1h0m3 0h0m-1 1h0m2 0h0m1 1h0m-4 1h0m1 0h0m2 2h0m269 50h0m0 1h0m1 3h0m6 0h0m-13 1h0m2 0h0m3 0h0m7 0h0m-8 1h0m2 0h0m5 0h0m-4 1h0m3 0h0m3 0h0m-7 1h0m-6 1h0m20 0h0m2 0h0m-21 1h0m5 0h0m3 0h0m2 0h0m7 1h0m-14 1h0m6 0h0m7 0h0m3 0h0m1 0h0m-18 1h0m4 0h0m0 1h0m9 0h0m-12 1h0m8 0h0m3 0h0m-14 1h0m18 0h0m-11 2h0m2 0h0m-8 1h0m13 0h0m4 0h0m-20 2h0m5 0h0m1 0h0m1 0h0m1 0h0m6 0h0m3 0h0m1 0h0m-7 1h0m5 0h0m-15 2h0m16 0h0m-9 1h0m1 0h0m-3 1h0m1 0h0m1 0h0m-3 1h0m8 0h0m1 0h0m-4 2h0m-274 177h0m2 0h0m2 1h0m-4 1h0m0 1h0m2 0h0m4 0h0m-5 1h0m2 0h0m-10 1h0m2 0h0m2 0h0m9 0h0m-11 1h0m2 0h0m10 0h0m2 0h0m3 0h0m-13 1h0m2 0h0m9 0h0m-12 1h0m4 0h0m-7 1h0m8 0h0m3 0h0m2 0h0m1 0h0m-12 1h0m5 0h0m-5 1h0m11 0h0m-13 1h0m12 0h0m-10 1h0m5 0h0m5 0h0m-12 1h0m2 0h0m7 0h0m-6 1h0m1 0h0m1 0h0m1 0h0m1 0h0m1 0h0m2 0h0m332 0h0m-344 1h0m1 0h0m6 0h0m329 0h0m6 0h0m-337 1h0m334 0h0m5 0h0m-337 1h0m336 0h0m-341 1h0m3 0h0m3 0h0m0 1h0m328 0h0m3 0h0m3 0h0m-4 1h0m4 0h0m3 0h0m-13 1h0m1 0h0m2 0h0m2 0h0m1 1h0m2 0h0m-3 1h0m2 1h0m3 0h0m3 0h0m-8 1h0m2 0h0m-9 1h0m1 0h0m2 0h0m2 0h0m3 0h0m1 0h0m-8 1h0m10 0h0m4 0h0m-15 1h0m2 1h0m12 0h0m-6 1h0m3 0h0m-6 1h0m4 0h0m0 2h0m2 0h0m4 0h0m-14 1h0m14 0h0m-8 1h0m3 0h0m-6 2h0m3 0h0m3 0h0m-4 1h0m1 0h0" stroke="#b9d838" stroke-width="1.7" stroke-linecap="square" fill="none"/></g>
<text transform="translate(53.9,247.3) rotate(-90)" font-size="29" text-anchor="middle" fill="#000" >Nimbolide (0μM)</text>
<line x1="267.3" y1="120.5" x2="267.3" y2="382.5" stroke="#1a1a1a" stroke-width="1.7"/>
<line x1="125.8" y1="241.1" x2="387.8" y2="241.1" stroke="#1a1a1a" stroke-width="1.7"/>
<rect x="125.8" y="120.5" width="262" height="262" fill="none" stroke="#000" stroke-width="4"/>
<line x1="118.8" y1="152" x2="124.8" y2="152" stroke="#000" stroke-width="1.8"/>
<text transform="translate(107.3,159) scale(1,1.045)" font-size="34" text-anchor="end" fill="#000" >10</text>
<text transform="translate(117.3,147.4) scale(1,1.045)" font-size="20" text-anchor="end" fill="#000" >3</text>
<line x1="118.8" y1="228.7" x2="124.8" y2="228.7" stroke="#000" stroke-width="1.8"/>
<text transform="translate(107.3,235.7) scale(1,1.045)" font-size="34" text-anchor="end" fill="#000" >10</text>
<text transform="translate(117.3,224.1) scale(1,1.045)" font-size="20" text-anchor="end" fill="#000" >2</text>
<line x1="118.8" y1="305.4" x2="124.8" y2="305.4" stroke="#000" stroke-width="1.8"/>
<text transform="translate(107.3,312.4) scale(1,1.045)" font-size="34" text-anchor="end" fill="#000" >10</text>
<text transform="translate(117.3,300.8) scale(1,1.045)" font-size="20" text-anchor="end" fill="#000" >1</text>
<line x1="118.8" y1="382.1" x2="124.8" y2="382.1" stroke="#000" stroke-width="1.8"/>
<text transform="translate(107.3,389.1) scale(1,1.045)" font-size="34" text-anchor="end" fill="#000" >10</text>
<text transform="translate(117.3,377.5) scale(1,1.045)" font-size="20" text-anchor="end" fill="#000" >0</text>
<line x1="121.2" y1="205.6" x2="124.8" y2="205.6" stroke="#000" stroke-width="1.3"/>
<line x1="121.2" y1="192.1" x2="124.8" y2="192.1" stroke="#000" stroke-width="1.3"/>
<line x1="121.2" y1="182.5" x2="124.8" y2="182.5" stroke="#000" stroke-width="1.3"/>
<line x1="121.2" y1="175.1" x2="124.8" y2="175.1" stroke="#000" stroke-width="1.3"/>
<line x1="121.2" y1="169" x2="124.8" y2="169" stroke="#000" stroke-width="1.3"/>
<line x1="121.2" y1="163.9" x2="124.8" y2="163.9" stroke="#000" stroke-width="1.3"/>
<line x1="121.2" y1="159.4" x2="124.8" y2="159.4" stroke="#000" stroke-width="1.3"/>
<line x1="121.2" y1="155.5" x2="124.8" y2="155.5" stroke="#000" stroke-width="1.3"/>
<line x1="121.2" y1="282.3" x2="124.8" y2="282.3" stroke="#000" stroke-width="1.3"/>
<line x1="121.2" y1="268.8" x2="124.8" y2="268.8" stroke="#000" stroke-width="1.3"/>
<line x1="121.2" y1="259.2" x2="124.8" y2="259.2" stroke="#000" stroke-width="1.3"/>
<line x1="121.2" y1="251.8" x2="124.8" y2="251.8" stroke="#000" stroke-width="1.3"/>
<line x1="121.2" y1="245.7" x2="124.8" y2="245.7" stroke="#000" stroke-width="1.3"/>
<line x1="121.2" y1="240.6" x2="124.8" y2="240.6" stroke="#000" stroke-width="1.3"/>
<line x1="121.2" y1="236.1" x2="124.8" y2="236.1" stroke="#000" stroke-width="1.3"/>
<line x1="121.2" y1="232.2" x2="124.8" y2="232.2" stroke="#000" stroke-width="1.3"/>
<line x1="121.2" y1="359" x2="124.8" y2="359" stroke="#000" stroke-width="1.3"/>
<line x1="121.2" y1="345.5" x2="124.8" y2="345.5" stroke="#000" stroke-width="1.3"/>
<line x1="121.2" y1="335.9" x2="124.8" y2="335.9" stroke="#000" stroke-width="1.3"/>
<line x1="121.2" y1="328.5" x2="124.8" y2="328.5" stroke="#000" stroke-width="1.3"/>
<line x1="121.2" y1="322.4" x2="124.8" y2="322.4" stroke="#000" stroke-width="1.3"/>
<line x1="121.2" y1="317.3" x2="124.8" y2="317.3" stroke="#000" stroke-width="1.3"/>
<line x1="121.2" y1="312.8" x2="124.8" y2="312.8" stroke="#000" stroke-width="1.3"/>
<line x1="121.2" y1="308.9" x2="124.8" y2="308.9" stroke="#000" stroke-width="1.3"/>
<line x1="126" y1="383.5" x2="126" y2="389.5" stroke="#000" stroke-width="1.8"/>
<line x1="140.4" y1="383.5" x2="140.4" y2="387.1" stroke="#000" stroke-width="1.3"/>
<line x1="148.9" y1="383.5" x2="148.9" y2="387.1" stroke="#000" stroke-width="1.3"/>
<line x1="154.9" y1="383.5" x2="154.9" y2="387.1" stroke="#000" stroke-width="1.3"/>
<line x1="159.6" y1="383.5" x2="159.6" y2="387.1" stroke="#000" stroke-width="1.3"/>
<line x1="163.4" y1="383.5" x2="163.4" y2="387.1" stroke="#000" stroke-width="1.3"/>
<line x1="166.6" y1="383.5" x2="166.6" y2="387.1" stroke="#000" stroke-width="1.3"/>
<line x1="169.3" y1="383.5" x2="169.3" y2="387.1" stroke="#000" stroke-width="1.3"/>
<line x1="171.8" y1="383.5" x2="171.8" y2="387.1" stroke="#000" stroke-width="1.3"/>
<line x1="174" y1="383.5" x2="174" y2="389.5" stroke="#000" stroke-width="1.8"/>
<line x1="188.4" y1="383.5" x2="188.4" y2="387.1" stroke="#000" stroke-width="1.3"/>
<line x1="196.9" y1="383.5" x2="196.9" y2="387.1" stroke="#000" stroke-width="1.3"/>
<line x1="202.9" y1="383.5" x2="202.9" y2="387.1" stroke="#000" stroke-width="1.3"/>
<line x1="207.6" y1="383.5" x2="207.6" y2="387.1" stroke="#000" stroke-width="1.3"/>
<line x1="211.4" y1="383.5" x2="211.4" y2="387.1" stroke="#000" stroke-width="1.3"/>
<line x1="214.6" y1="383.5" x2="214.6" y2="387.1" stroke="#000" stroke-width="1.3"/>
<line x1="217.3" y1="383.5" x2="217.3" y2="387.1" stroke="#000" stroke-width="1.3"/>
<line x1="219.8" y1="383.5" x2="219.8" y2="387.1" stroke="#000" stroke-width="1.3"/>
<line x1="222" y1="383.5" x2="222" y2="389.5" stroke="#000" stroke-width="1.8"/>
<line x1="236.4" y1="383.5" x2="236.4" y2="387.1" stroke="#000" stroke-width="1.3"/>
<line x1="244.9" y1="383.5" x2="244.9" y2="387.1" stroke="#000" stroke-width="1.3"/>
<line x1="250.9" y1="383.5" x2="250.9" y2="387.1" stroke="#000" stroke-width="1.3"/>
<line x1="255.6" y1="383.5" x2="255.6" y2="387.1" stroke="#000" stroke-width="1.3"/>
<line x1="259.4" y1="383.5" x2="259.4" y2="387.1" stroke="#000" stroke-width="1.3"/>
<line x1="262.6" y1="383.5" x2="262.6" y2="387.1" stroke="#000" stroke-width="1.3"/>
<line x1="265.3" y1="383.5" x2="265.3" y2="387.1" stroke="#000" stroke-width="1.3"/>
<line x1="267.8" y1="383.5" x2="267.8" y2="387.1" stroke="#000" stroke-width="1.3"/>
<line x1="270" y1="383.5" x2="270" y2="389.5" stroke="#000" stroke-width="1.8"/>
<line x1="284.4" y1="383.5" x2="284.4" y2="387.1" stroke="#000" stroke-width="1.3"/>
<line x1="292.9" y1="383.5" x2="292.9" y2="387.1" stroke="#000" stroke-width="1.3"/>
<line x1="298.9" y1="383.5" x2="298.9" y2="387.1" stroke="#000" stroke-width="1.3"/>
<line x1="303.6" y1="383.5" x2="303.6" y2="387.1" stroke="#000" stroke-width="1.3"/>
<line x1="307.4" y1="383.5" x2="307.4" y2="387.1" stroke="#000" stroke-width="1.3"/>
<line x1="310.6" y1="383.5" x2="310.6" y2="387.1" stroke="#000" stroke-width="1.3"/>
<line x1="313.3" y1="383.5" x2="313.3" y2="387.1" stroke="#000" stroke-width="1.3"/>
<line x1="315.8" y1="383.5" x2="315.8" y2="387.1" stroke="#000" stroke-width="1.3"/>
<line x1="318" y1="383.5" x2="318" y2="389.5" stroke="#000" stroke-width="1.8"/>
<line x1="332.4" y1="383.5" x2="332.4" y2="387.1" stroke="#000" stroke-width="1.3"/>
<line x1="340.9" y1="383.5" x2="340.9" y2="387.1" stroke="#000" stroke-width="1.3"/>
<line x1="346.9" y1="383.5" x2="346.9" y2="387.1" stroke="#000" stroke-width="1.3"/>
<line x1="351.6" y1="383.5" x2="351.6" y2="387.1" stroke="#000" stroke-width="1.3"/>
<line x1="355.4" y1="383.5" x2="355.4" y2="387.1" stroke="#000" stroke-width="1.3"/>
<line x1="358.6" y1="383.5" x2="358.6" y2="387.1" stroke="#000" stroke-width="1.3"/>
<line x1="361.3" y1="383.5" x2="361.3" y2="387.1" stroke="#000" stroke-width="1.3"/>
<line x1="363.8" y1="383.5" x2="363.8" y2="387.1" stroke="#000" stroke-width="1.3"/>
<line x1="366" y1="383.5" x2="366" y2="389.5" stroke="#000" stroke-width="1.8"/>
<line x1="380.4" y1="383.5" x2="380.4" y2="387.1" stroke="#000" stroke-width="1.3"/>
<text transform="translate(139.1,148) scale(1,1.045)" font-size="25.5" text-anchor="start" fill="#000" >Q<tspan dx="-1.5">1</tspan></text>
<text transform="translate(139.1,178.9) scale(1,1.045)" font-size="25.5" text-anchor="start" fill="#000" >0.70</text>
<text transform="translate(374.3,148) scale(1,1.045)" font-size="25.5" text-anchor="end" fill="#000" >Q<tspan dx="-1.5">2</tspan></text>
<text transform="translate(374.3,178.9) scale(1,1.045)" font-size="25.5" text-anchor="end" fill="#000" >4.69</text>
<text transform="translate(134.8,342.9) scale(1,1.045)" font-size="25.5" text-anchor="start" fill="#000" >Q<tspan dx="-1.5">4</tspan></text>
<text transform="translate(134.8,371.5) scale(1,1.045)" font-size="25.5" text-anchor="start" fill="#000" >91.1</text>
<text transform="translate(374.3,342.9) scale(1,1.045)" font-size="25.5" text-anchor="end" fill="#000" >Q<tspan dx="-1.5">3</tspan></text>
<text transform="translate(374.3,371.5) scale(1,1.045)" font-size="25.5" text-anchor="end" fill="#000" >3.47</text>
<line x1="595.9" y1="120.5" x2="595.9" y2="382.5" stroke="#1a1a1a" stroke-width="1.7"/>
<line x1="476.2" y1="249.1" x2="738.2" y2="249.1" stroke="#1a1a1a" stroke-width="1.7"/>
<rect x="476.2" y="120.5" width="262" height="262" fill="none" stroke="#000" stroke-width="4"/>
<line x1="469.2" y1="152" x2="475.2" y2="152" stroke="#000" stroke-width="1.8"/>
<text transform="translate(457.7,159) scale(1,1.045)" font-size="34" text-anchor="end" fill="#000" >10</text>
<text transform="translate(467.7,147.4) scale(1,1.045)" font-size="20" text-anchor="end" fill="#000" >3</text>
<line x1="469.2" y1="228.7" x2="475.2" y2="228.7" stroke="#000" stroke-width="1.8"/>
<text transform="translate(457.7,235.7) scale(1,1.045)" font-size="34" text-anchor="end" fill="#000" >10</text>
<text transform="translate(467.7,224.1) scale(1,1.045)" font-size="20" text-anchor="end" fill="#000" >2</text>
<line x1="469.2" y1="305.4" x2="475.2" y2="305.4" stroke="#000" stroke-width="1.8"/>
<text transform="translate(457.7,312.4) scale(1,1.045)" font-size="34" text-anchor="end" fill="#000" >10</text>
<text transform="translate(467.7,300.8) scale(1,1.045)" font-size="20" text-anchor="end" fill="#000" >1</text>
<line x1="469.2" y1="382.1" x2="475.2" y2="382.1" stroke="#000" stroke-width="1.8"/>
<text transform="translate(457.7,389.1) scale(1,1.045)" font-size="34" text-anchor="end" fill="#000" >10</text>
<text transform="translate(467.7,377.5) scale(1,1.045)" font-size="20" text-anchor="end" fill="#000" >0</text>
<line x1="471.6" y1="205.6" x2="475.2" y2="205.6" stroke="#000" stroke-width="1.3"/>
<line x1="471.6" y1="192.1" x2="475.2" y2="192.1" stroke="#000" stroke-width="1.3"/>
<line x1="471.6" y1="182.5" x2="475.2" y2="182.5" stroke="#000" stroke-width="1.3"/>
<line x1="471.6" y1="175.1" x2="475.2" y2="175.1" stroke="#000" stroke-width="1.3"/>
<line x1="471.6" y1="169" x2="475.2" y2="169" stroke="#000" stroke-width="1.3"/>
<line x1="471.6" y1="163.9" x2="475.2" y2="163.9" stroke="#000" stroke-width="1.3"/>
<line x1="471.6" y1="159.4" x2="475.2" y2="159.4" stroke="#000" stroke-width="1.3"/>
<line x1="471.6" y1="155.5" x2="475.2" y2="155.5" stroke="#000" stroke-width="1.3"/>
<line x1="471.6" y1="282.3" x2="475.2" y2="282.3" stroke="#000" stroke-width="1.3"/>
<line x1="471.6" y1="268.8" x2="475.2" y2="268.8" stroke="#000" stroke-width="1.3"/>
<line x1="471.6" y1="259.2" x2="475.2" y2="259.2" stroke="#000" stroke-width="1.3"/>
<line x1="471.6" y1="251.8" x2="475.2" y2="251.8" stroke="#000" stroke-width="1.3"/>
<line x1="471.6" y1="245.7" x2="475.2" y2="245.7" stroke="#000" stroke-width="1.3"/>
<line x1="471.6" y1="240.6" x2="475.2" y2="240.6" stroke="#000" stroke-width="1.3"/>
<line x1="471.6" y1="236.1" x2="475.2" y2="236.1" stroke="#000" stroke-width="1.3"/>
<line x1="471.6" y1="232.2" x2="475.2" y2="232.2" stroke="#000" stroke-width="1.3"/>
<line x1="471.6" y1="359" x2="475.2" y2="359" stroke="#000" stroke-width="1.3"/>
<line x1="471.6" y1="345.5" x2="475.2" y2="345.5" stroke="#000" stroke-width="1.3"/>
<line x1="471.6" y1="335.9" x2="475.2" y2="335.9" stroke="#000" stroke-width="1.3"/>
<line x1="471.6" y1="328.5" x2="475.2" y2="328.5" stroke="#000" stroke-width="1.3"/>
<line x1="471.6" y1="322.4" x2="475.2" y2="322.4" stroke="#000" stroke-width="1.3"/>
<line x1="471.6" y1="317.3" x2="475.2" y2="317.3" stroke="#000" stroke-width="1.3"/>
<line x1="471.6" y1="312.8" x2="475.2" y2="312.8" stroke="#000" stroke-width="1.3"/>
<line x1="471.6" y1="308.9" x2="475.2" y2="308.9" stroke="#000" stroke-width="1.3"/>
<line x1="476.4" y1="383.5" x2="476.4" y2="389.5" stroke="#000" stroke-width="1.8"/>
<line x1="490.8" y1="383.5" x2="490.8" y2="387.1" stroke="#000" stroke-width="1.3"/>
<line x1="499.3" y1="383.5" x2="499.3" y2="387.1" stroke="#000" stroke-width="1.3"/>
<line x1="505.3" y1="383.5" x2="505.3" y2="387.1" stroke="#000" stroke-width="1.3"/>
<line x1="510" y1="383.5" x2="510" y2="387.1" stroke="#000" stroke-width="1.3"/>
<line x1="513.8" y1="383.5" x2="513.8" y2="387.1" stroke="#000" stroke-width="1.3"/>
<line x1="517" y1="383.5" x2="517" y2="387.1" stroke="#000" stroke-width="1.3"/>
<line x1="519.7" y1="383.5" x2="519.7" y2="387.1" stroke="#000" stroke-width="1.3"/>
<line x1="522.2" y1="383.5" x2="522.2" y2="387.1" stroke="#000" stroke-width="1.3"/>
<line x1="524.4" y1="383.5" x2="524.4" y2="389.5" stroke="#000" stroke-width="1.8"/>
<line x1="538.8" y1="383.5" x2="538.8" y2="387.1" stroke="#000" stroke-width="1.3"/>
<line x1="547.3" y1="383.5" x2="547.3" y2="387.1" stroke="#000" stroke-width="1.3"/>
<line x1="553.3" y1="383.5" x2="553.3" y2="387.1" stroke="#000" stroke-width="1.3"/>
<line x1="558" y1="383.5" x2="558" y2="387.1" stroke="#000" stroke-width="1.3"/>
<line x1="561.8" y1="383.5" x2="561.8" y2="387.1" stroke="#000" stroke-width="1.3"/>
<line x1="565" y1="383.5" x2="565" y2="387.1" stroke="#000" stroke-width="1.3"/>
<line x1="567.7" y1="383.5" x2="567.7" y2="387.1" stroke="#000" stroke-width="1.3"/>
<line x1="570.2" y1="383.5" x2="570.2" y2="387.1" stroke="#000" stroke-width="1.3"/>
<line x1="572.4" y1="383.5" x2="572.4" y2="389.5" stroke="#000" stroke-width="1.8"/>
<line x1="586.8" y1="383.5" x2="586.8" y2="387.1" stroke="#000" stroke-width="1.3"/>
<line x1="595.3" y1="383.5" x2="595.3" y2="387.1" stroke="#000" stroke-width="1.3"/>
<line x1="601.3" y1="383.5" x2="601.3" y2="387.1" stroke="#000" stroke-width="1.3"/>
<line x1="606" y1="383.5" x2="606" y2="387.1" stroke="#000" stroke-width="1.3"/>
<line x1="609.8" y1="383.5" x2="609.8" y2="387.1" stroke="#000" stroke-width="1.3"/>
<line x1="613" y1="383.5" x2="613" y2="387.1" stroke="#000" stroke-width="1.3"/>
<line x1="615.7" y1="383.5" x2="615.7" y2="387.1" stroke="#000" stroke-width="1.3"/>
<line x1="618.2" y1="383.5" x2="618.2" y2="387.1" stroke="#000" stroke-width="1.3"/>
<line x1="620.4" y1="383.5" x2="620.4" y2="389.5" stroke="#000" stroke-width="1.8"/>
<line x1="634.8" y1="383.5" x2="634.8" y2="387.1" stroke="#000" stroke-width="1.3"/>
<line x1="643.3" y1="383.5" x2="643.3" y2="387.1" stroke="#000" stroke-width="1.3"/>
<line x1="649.3" y1="383.5" x2="649.3" y2="387.1" stroke="#000" stroke-width="1.3"/>
<line x1="654" y1="383.5" x2="654" y2="387.1" stroke="#000" stroke-width="1.3"/>
<line x1="657.8" y1="383.5" x2="657.8" y2="387.1" stroke="#000" stroke-width="1.3"/>
<line x1="661" y1="383.5" x2="661" y2="387.1" stroke="#000" stroke-width="1.3"/>
<line x1="663.7" y1="383.5" x2="663.7" y2="387.1" stroke="#000" stroke-width="1.3"/>
<line x1="666.2" y1="383.5" x2="666.2" y2="387.1" stroke="#000" stroke-width="1.3"/>
<line x1="668.4" y1="383.5" x2="668.4" y2="389.5" stroke="#000" stroke-width="1.8"/>
<line x1="682.8" y1="383.5" x2="682.8" y2="387.1" stroke="#000" stroke-width="1.3"/>
<line x1="691.3" y1="383.5" x2="691.3" y2="387.1" stroke="#000" stroke-width="1.3"/>
<line x1="697.3" y1="383.5" x2="697.3" y2="387.1" stroke="#000" stroke-width="1.3"/>
<line x1="702" y1="383.5" x2="702" y2="387.1" stroke="#000" stroke-width="1.3"/>
<line x1="705.8" y1="383.5" x2="705.8" y2="387.1" stroke="#000" stroke-width="1.3"/>
<line x1="709" y1="383.5" x2="709" y2="387.1" stroke="#000" stroke-width="1.3"/>
<line x1="711.7" y1="383.5" x2="711.7" y2="387.1" stroke="#000" stroke-width="1.3"/>
<line x1="714.2" y1="383.5" x2="714.2" y2="387.1" stroke="#000" stroke-width="1.3"/>
<line x1="716.4" y1="383.5" x2="716.4" y2="389.5" stroke="#000" stroke-width="1.8"/>
<line x1="730.8" y1="383.5" x2="730.8" y2="387.1" stroke="#000" stroke-width="1.3"/>
<text transform="translate(489.5,148) scale(1,1.045)" font-size="25.5" text-anchor="start" fill="#000" >Q<tspan dx="-1.5">1</tspan></text>
<text transform="translate(489.5,178.9) scale(1,1.045)" font-size="25.5" text-anchor="start" fill="#000" >0.27</text>
<text transform="translate(724.7,148) scale(1,1.045)" font-size="25.5" text-anchor="end" fill="#000" >Q<tspan dx="-1.5">2</tspan></text>
<text transform="translate(724.7,178.9) scale(1,1.045)" font-size="25.5" text-anchor="end" fill="#000" >4.22</text>
<text transform="translate(485.2,342.9) scale(1,1.045)" font-size="25.5" text-anchor="start" fill="#000" >Q<tspan dx="-1.5">4</tspan></text>
<text transform="translate(485.2,371.5) scale(1,1.045)" font-size="25.5" text-anchor="start" fill="#000" >91.1</text>
<text transform="translate(724.7,342.9) scale(1,1.045)" font-size="25.5" text-anchor="end" fill="#000" >Q<tspan dx="-1.5">3</tspan></text>
<text transform="translate(724.7,371.5) scale(1,1.045)" font-size="25.5" text-anchor="end" fill="#000" >4.38</text>
<text transform="translate(53.9,535.7) rotate(-90)" font-size="29" text-anchor="middle" fill="#000" >Nimbolide (1.5μM)</text>
<line x1="267.3" y1="408.8" x2="267.3" y2="670.8" stroke="#1a1a1a" stroke-width="1.7"/>
<line x1="125.8" y1="529.4" x2="387.8" y2="529.4" stroke="#1a1a1a" stroke-width="1.7"/>
<rect x="125.8" y="408.8" width="262" height="262" fill="none" stroke="#000" stroke-width="4"/>
<line x1="118.8" y1="440.3" x2="124.8" y2="440.3" stroke="#000" stroke-width="1.8"/>
<text transform="translate(107.3,447.3) scale(1,1.045)" font-size="34" text-anchor="end" fill="#000" >10</text>
<text transform="translate(117.3,435.7) scale(1,1.045)" font-size="20" text-anchor="end" fill="#000" >3</text>
<line x1="118.8" y1="517" x2="124.8" y2="517" stroke="#000" stroke-width="1.8"/>
<text transform="translate(107.3,524) scale(1,1.045)" font-size="34" text-anchor="end" fill="#000" >10</text>
<text transform="translate(117.3,512.4) scale(1,1.045)" font-size="20" text-anchor="end" fill="#000" >2</text>
<line x1="118.8" y1="593.7" x2="124.8" y2="593.7" stroke="#000" stroke-width="1.8"/>
<text transform="translate(107.3,600.7) scale(1,1.045)" font-size="34" text-anchor="end" fill="#000" >10</text>
<text transform="translate(117.3,589.1) scale(1,1.045)" font-size="20" text-anchor="end" fill="#000" >1</text>
<line x1="118.8" y1="670.4" x2="124.8" y2="670.4" stroke="#000" stroke-width="1.8"/>
<text transform="translate(107.3,677.4) scale(1,1.045)" font-size="34" text-anchor="end" fill="#000" >10</text>
<text transform="translate(117.3,665.8) scale(1,1.045)" font-size="20" text-anchor="end" fill="#000" >0</text>
<line x1="121.2" y1="493.9" x2="124.8" y2="493.9" stroke="#000" stroke-width="1.3"/>
<line x1="121.2" y1="480.4" x2="124.8" y2="480.4" stroke="#000" stroke-width="1.3"/>
<line x1="121.2" y1="470.8" x2="124.8" y2="470.8" stroke="#000" stroke-width="1.3"/>
<line x1="121.2" y1="463.4" x2="124.8" y2="463.4" stroke="#000" stroke-width="1.3"/>
<line x1="121.2" y1="457.3" x2="124.8" y2="457.3" stroke="#000" stroke-width="1.3"/>
<line x1="121.2" y1="452.2" x2="124.8" y2="452.2" stroke="#000" stroke-width="1.3"/>
<line x1="121.2" y1="447.7" x2="124.8" y2="447.7" stroke="#000" stroke-width="1.3"/>
<line x1="121.2" y1="443.8" x2="124.8" y2="443.8" stroke="#000" stroke-width="1.3"/>
<line x1="121.2" y1="570.6" x2="124.8" y2="570.6" stroke="#000" stroke-width="1.3"/>
<line x1="121.2" y1="557.1" x2="124.8" y2="557.1" stroke="#000" stroke-width="1.3"/>
<line x1="121.2" y1="547.5" x2="124.8" y2="547.5" stroke="#000" stroke-width="1.3"/>
<line x1="121.2" y1="540.1" x2="124.8" y2="540.1" stroke="#000" stroke-width="1.3"/>
<line x1="121.2" y1="534" x2="124.8" y2="534" stroke="#000" stroke-width="1.3"/>
<line x1="121.2" y1="528.9" x2="124.8" y2="528.9" stroke="#000" stroke-width="1.3"/>
<line x1="121.2" y1="524.4" x2="124.8" y2="524.4" stroke="#000" stroke-width="1.3"/>
<line x1="121.2" y1="520.5" x2="124.8" y2="520.5" stroke="#000" stroke-width="1.3"/>
<line x1="121.2" y1="647.3" x2="124.8" y2="647.3" stroke="#000" stroke-width="1.3"/>
<line x1="121.2" y1="633.8" x2="124.8" y2="633.8" stroke="#000" stroke-width="1.3"/>
<line x1="121.2" y1="624.2" x2="124.8" y2="624.2" stroke="#000" stroke-width="1.3"/>
<line x1="121.2" y1="616.8" x2="124.8" y2="616.8" stroke="#000" stroke-width="1.3"/>
<line x1="121.2" y1="610.7" x2="124.8" y2="610.7" stroke="#000" stroke-width="1.3"/>
<line x1="121.2" y1="605.6" x2="124.8" y2="605.6" stroke="#000" stroke-width="1.3"/>
<line x1="121.2" y1="601.1" x2="124.8" y2="601.1" stroke="#000" stroke-width="1.3"/>
<line x1="121.2" y1="597.2" x2="124.8" y2="597.2" stroke="#000" stroke-width="1.3"/>
<line x1="126" y1="671.8" x2="126" y2="677.8" stroke="#000" stroke-width="1.8"/>
<line x1="140.4" y1="671.8" x2="140.4" y2="675.4" stroke="#000" stroke-width="1.3"/>
<line x1="148.9" y1="671.8" x2="148.9" y2="675.4" stroke="#000" stroke-width="1.3"/>
<line x1="154.9" y1="671.8" x2="154.9" y2="675.4" stroke="#000" stroke-width="1.3"/>
<line x1="159.6" y1="671.8" x2="159.6" y2="675.4" stroke="#000" stroke-width="1.3"/>
<line x1="163.4" y1="671.8" x2="163.4" y2="675.4" stroke="#000" stroke-width="1.3"/>
<line x1="166.6" y1="671.8" x2="166.6" y2="675.4" stroke="#000" stroke-width="1.3"/>
<line x1="169.3" y1="671.8" x2="169.3" y2="675.4" stroke="#000" stroke-width="1.3"/>
<line x1="171.8" y1="671.8" x2="171.8" y2="675.4" stroke="#000" stroke-width="1.3"/>
<line x1="174" y1="671.8" x2="174" y2="677.8" stroke="#000" stroke-width="1.8"/>
<line x1="188.4" y1="671.8" x2="188.4" y2="675.4" stroke="#000" stroke-width="1.3"/>
<line x1="196.9" y1="671.8" x2="196.9" y2="675.4" stroke="#000" stroke-width="1.3"/>
<line x1="202.9" y1="671.8" x2="202.9" y2="675.4" stroke="#000" stroke-width="1.3"/>
<line x1="207.6" y1="671.8" x2="207.6" y2="675.4" stroke="#000" stroke-width="1.3"/>
<line x1="211.4" y1="671.8" x2="211.4" y2="675.4" stroke="#000" stroke-width="1.3"/>
<line x1="214.6" y1="671.8" x2="214.6" y2="675.4" stroke="#000" stroke-width="1.3"/>
<line x1="217.3" y1="671.8" x2="217.3" y2="675.4" stroke="#000" stroke-width="1.3"/>
<line x1="219.8" y1="671.8" x2="219.8" y2="675.4" stroke="#000" stroke-width="1.3"/>
<line x1="222" y1="671.8" x2="222" y2="677.8" stroke="#000" stroke-width="1.8"/>
<line x1="236.4" y1="671.8" x2="236.4" y2="675.4" stroke="#000" stroke-width="1.3"/>
<line x1="244.9" y1="671.8" x2="244.9" y2="675.4" stroke="#000" stroke-width="1.3"/>
<line x1="250.9" y1="671.8" x2="250.9" y2="675.4" stroke="#000" stroke-width="1.3"/>
<line x1="255.6" y1="671.8" x2="255.6" y2="675.4" stroke="#000" stroke-width="1.3"/>
<line x1="259.4" y1="671.8" x2="259.4" y2="675.4" stroke="#000" stroke-width="1.3"/>
<line x1="262.6" y1="671.8" x2="262.6" y2="675.4" stroke="#000" stroke-width="1.3"/>
<line x1="265.3" y1="671.8" x2="265.3" y2="675.4" stroke="#000" stroke-width="1.3"/>
<line x1="267.8" y1="671.8" x2="267.8" y2="675.4" stroke="#000" stroke-width="1.3"/>
<line x1="270" y1="671.8" x2="270" y2="677.8" stroke="#000" stroke-width="1.8"/>
<line x1="284.4" y1="671.8" x2="284.4" y2="675.4" stroke="#000" stroke-width="1.3"/>
<line x1="292.9" y1="671.8" x2="292.9" y2="675.4" stroke="#000" stroke-width="1.3"/>
<line x1="298.9" y1="671.8" x2="298.9" y2="675.4" stroke="#000" stroke-width="1.3"/>
<line x1="303.6" y1="671.8" x2="303.6" y2="675.4" stroke="#000" stroke-width="1.3"/>
<line x1="307.4" y1="671.8" x2="307.4" y2="675.4" stroke="#000" stroke-width="1.3"/>
<line x1="310.6" y1="671.8" x2="310.6" y2="675.4" stroke="#000" stroke-width="1.3"/>
<line x1="313.3" y1="671.8" x2="313.3" y2="675.4" stroke="#000" stroke-width="1.3"/>
<line x1="315.8" y1="671.8" x2="315.8" y2="675.4" stroke="#000" stroke-width="1.3"/>
<line x1="318" y1="671.8" x2="318" y2="677.8" stroke="#000" stroke-width="1.8"/>
<line x1="332.4" y1="671.8" x2="332.4" y2="675.4" stroke="#000" stroke-width="1.3"/>
<line x1="340.9" y1="671.8" x2="340.9" y2="675.4" stroke="#000" stroke-width="1.3"/>
<line x1="346.9" y1="671.8" x2="346.9" y2="675.4" stroke="#000" stroke-width="1.3"/>
<line x1="351.6" y1="671.8" x2="351.6" y2="675.4" stroke="#000" stroke-width="1.3"/>
<line x1="355.4" y1="671.8" x2="355.4" y2="675.4" stroke="#000" stroke-width="1.3"/>
<line x1="358.6" y1="671.8" x2="358.6" y2="675.4" stroke="#000" stroke-width="1.3"/>
<line x1="361.3" y1="671.8" x2="361.3" y2="675.4" stroke="#000" stroke-width="1.3"/>
<line x1="363.8" y1="671.8" x2="363.8" y2="675.4" stroke="#000" stroke-width="1.3"/>
<line x1="366" y1="671.8" x2="366" y2="677.8" stroke="#000" stroke-width="1.8"/>
<line x1="380.4" y1="671.8" x2="380.4" y2="675.4" stroke="#000" stroke-width="1.3"/>
<text transform="translate(139.1,432.8) scale(1,1.045)" font-size="25.5" text-anchor="start" fill="#000" >Q<tspan dx="-1.5">1</tspan></text>
<text transform="translate(139.1,463.7) scale(1,1.045)" font-size="25.5" text-anchor="start" fill="#000" >0.57</text>
<text transform="translate(374.3,432.8) scale(1,1.045)" font-size="25.5" text-anchor="end" fill="#000" >Q<tspan dx="-1.5">2</tspan></text>
<text transform="translate(374.3,463.7) scale(1,1.045)" font-size="25.5" text-anchor="end" fill="#000" >11.0</text>
<text transform="translate(134.8,627.2) scale(1,1.045)" font-size="25.5" text-anchor="start" fill="#000" >Q<tspan dx="-1.5">4</tspan></text>
<text transform="translate(134.8,655.8) scale(1,1.045)" font-size="25.5" text-anchor="start" fill="#000" >84.3</text>
<text transform="translate(374.3,627.2) scale(1,1.045)" font-size="25.5" text-anchor="end" fill="#000" >Q<tspan dx="-1.5">3</tspan></text>
<text transform="translate(374.3,655.8) scale(1,1.045)" font-size="25.5" text-anchor="end" fill="#000" >4.14</text>
<line x1="595.9" y1="408.8" x2="595.9" y2="670.8" stroke="#1a1a1a" stroke-width="1.7"/>
<line x1="476.2" y1="537.4" x2="738.2" y2="537.4" stroke="#1a1a1a" stroke-width="1.7"/>
<rect x="476.2" y="408.8" width="262" height="262" fill="none" stroke="#000" stroke-width="4"/>
<line x1="469.2" y1="440.3" x2="475.2" y2="440.3" stroke="#000" stroke-width="1.8"/>
<text transform="translate(457.7,447.3) scale(1,1.045)" font-size="34" text-anchor="end" fill="#000" >10</text>
<text transform="translate(467.7,435.7) scale(1,1.045)" font-size="20" text-anchor="end" fill="#000" >3</text>
<line x1="469.2" y1="517" x2="475.2" y2="517" stroke="#000" stroke-width="1.8"/>
<text transform="translate(457.7,524) scale(1,1.045)" font-size="34" text-anchor="end" fill="#000" >10</text>
<text transform="translate(467.7,512.4) scale(1,1.045)" font-size="20" text-anchor="end" fill="#000" >2</text>
<line x1="469.2" y1="593.7" x2="475.2" y2="593.7" stroke="#000" stroke-width="1.8"/>
<text transform="translate(457.7,600.7) scale(1,1.045)" font-size="34" text-anchor="end" fill="#000" >10</text>
<text transform="translate(467.7,589.1) scale(1,1.045)" font-size="20" text-anchor="end" fill="#000" >1</text>
<line x1="469.2" y1="670.4" x2="475.2" y2="670.4" stroke="#000" stroke-width="1.8"/>
<text transform="translate(457.7,677.4) scale(1,1.045)" font-size="34" text-anchor="end" fill="#000" >10</text>
<text transform="translate(467.7,665.8) scale(1,1.045)" font-size="20" text-anchor="end" fill="#000" >0</text>
<line x1="471.6" y1="493.9" x2="475.2" y2="493.9" stroke="#000" stroke-width="1.3"/>
<line x1="471.6" y1="480.4" x2="475.2" y2="480.4" stroke="#000" stroke-width="1.3"/>
<line x1="471.6" y1="470.8" x2="475.2" y2="470.8" stroke="#000" stroke-width="1.3"/>
<line x1="471.6" y1="463.4" x2="475.2" y2="463.4" stroke="#000" stroke-width="1.3"/>
<line x1="471.6" y1="457.3" x2="475.2" y2="457.3" stroke="#000" stroke-width="1.3"/>
<line x1="471.6" y1="452.2" x2="475.2" y2="452.2" stroke="#000" stroke-width="1.3"/>
<line x1="471.6" y1="447.7" x2="475.2" y2="447.7" stroke="#000" stroke-width="1.3"/>
<line x1="471.6" y1="443.8" x2="475.2" y2="443.8" stroke="#000" stroke-width="1.3"/>
<line x1="471.6" y1="570.6" x2="475.2" y2="570.6" stroke="#000" stroke-width="1.3"/>
<line x1="471.6" y1="557.1" x2="475.2" y2="557.1" stroke="#000" stroke-width="1.3"/>
<line x1="471.6" y1="547.5" x2="475.2" y2="547.5" stroke="#000" stroke-width="1.3"/>
<line x1="471.6" y1="540.1" x2="475.2" y2="540.1" stroke="#000" stroke-width="1.3"/>
<line x1="471.6" y1="534" x2="475.2" y2="534" stroke="#000" stroke-width="1.3"/>
<line x1="471.6" y1="528.9" x2="475.2" y2="528.9" stroke="#000" stroke-width="1.3"/>
<line x1="471.6" y1="524.4" x2="475.2" y2="524.4" stroke="#000" stroke-width="1.3"/>
<line x1="471.6" y1="520.5" x2="475.2" y2="520.5" stroke="#000" stroke-width="1.3"/>
<line x1="471.6" y1="647.3" x2="475.2" y2="647.3" stroke="#000" stroke-width="1.3"/>
<line x1="471.6" y1="633.8" x2="475.2" y2="633.8" stroke="#000" stroke-width="1.3"/>
<line x1="471.6" y1="624.2" x2="475.2" y2="624.2" stroke="#000" stroke-width="1.3"/>
<line x1="471.6" y1="616.8" x2="475.2" y2="616.8" stroke="#000" stroke-width="1.3"/>
<line x1="471.6" y1="610.7" x2="475.2" y2="610.7" stroke="#000" stroke-width="1.3"/>
<line x1="471.6" y1="605.6" x2="475.2" y2="605.6" stroke="#000" stroke-width="1.3"/>
<line x1="471.6" y1="601.1" x2="475.2" y2="601.1" stroke="#000" stroke-width="1.3"/>
<line x1="471.6" y1="597.2" x2="475.2" y2="597.2" stroke="#000" stroke-width="1.3"/>
<line x1="476.4" y1="671.8" x2="476.4" y2="677.8" stroke="#000" stroke-width="1.8"/>
<line x1="490.8" y1="671.8" x2="490.8" y2="675.4" stroke="#000" stroke-width="1.3"/>
<line x1="499.3" y1="671.8" x2="499.3" y2="675.4" stroke="#000" stroke-width="1.3"/>
<line x1="505.3" y1="671.8" x2="505.3" y2="675.4" stroke="#000" stroke-width="1.3"/>
<line x1="510" y1="671.8" x2="510" y2="675.4" stroke="#000" stroke-width="1.3"/>
<line x1="513.8" y1="671.8" x2="513.8" y2="675.4" stroke="#000" stroke-width="1.3"/>
<line x1="517" y1="671.8" x2="517" y2="675.4" stroke="#000" stroke-width="1.3"/>
<line x1="519.7" y1="671.8" x2="519.7" y2="675.4" stroke="#000" stroke-width="1.3"/>
<line x1="522.2" y1="671.8" x2="522.2" y2="675.4" stroke="#000" stroke-width="1.3"/>
<line x1="524.4" y1="671.8" x2="524.4" y2="677.8" stroke="#000" stroke-width="1.8"/>
<line x1="538.8" y1="671.8" x2="538.8" y2="675.4" stroke="#000" stroke-width="1.3"/>
<line x1="547.3" y1="671.8" x2="547.3" y2="675.4" stroke="#000" stroke-width="1.3"/>
<line x1="553.3" y1="671.8" x2="553.3" y2="675.4" stroke="#000" stroke-width="1.3"/>
<line x1="558" y1="671.8" x2="558" y2="675.4" stroke="#000" stroke-width="1.3"/>
<line x1="561.8" y1="671.8" x2="561.8" y2="675.4" stroke="#000" stroke-width="1.3"/>
<line x1="565" y1="671.8" x2="565" y2="675.4" stroke="#000" stroke-width="1.3"/>
<line x1="567.7" y1="671.8" x2="567.7" y2="675.4" stroke="#000" stroke-width="1.3"/>
<line x1="570.2" y1="671.8" x2="570.2" y2="675.4" stroke="#000" stroke-width="1.3"/>
<line x1="572.4" y1="671.8" x2="572.4" y2="677.8" stroke="#000" stroke-width="1.8"/>
<line x1="586.8" y1="671.8" x2="586.8" y2="675.4" stroke="#000" stroke-width="1.3"/>
<line x1="595.3" y1="671.8" x2="595.3" y2="675.4" stroke="#000" stroke-width="1.3"/>
<line x1="601.3" y1="671.8" x2="601.3" y2="675.4" stroke="#000" stroke-width="1.3"/>
<line x1="606" y1="671.8" x2="606" y2="675.4" stroke="#000" stroke-width="1.3"/>
<line x1="609.8" y1="671.8" x2="609.8" y2="675.4" stroke="#000" stroke-width="1.3"/>
<line x1="613" y1="671.8" x2="613" y2="675.4" stroke="#000" stroke-width="1.3"/>
<line x1="615.7" y1="671.8" x2="615.7" y2="675.4" stroke="#000" stroke-width="1.3"/>
<line x1="618.2" y1="671.8" x2="618.2" y2="675.4" stroke="#000" stroke-width="1.3"/>
<line x1="620.4" y1="671.8" x2="620.4" y2="677.8" stroke="#000" stroke-width="1.8"/>
<line x1="634.8" y1="671.8" x2="634.8" y2="675.4" stroke="#000" stroke-width="1.3"/>
<line x1="643.3" y1="671.8" x2="643.3" y2="675.4" stroke="#000" stroke-width="1.3"/>
<line x1="649.3" y1="671.8" x2="649.3" y2="675.4" stroke="#000" stroke-width="1.3"/>
<line x1="654" y1="671.8" x2="654" y2="675.4" stroke="#000" stroke-width="1.3"/>
<line x1="657.8" y1="671.8" x2="657.8" y2="675.4" stroke="#000" stroke-width="1.3"/>
<line x1="661" y1="671.8" x2="661" y2="675.4" stroke="#000" stroke-width="1.3"/>
<line x1="663.7" y1="671.8" x2="663.7" y2="675.4" stroke="#000" stroke-width="1.3"/>
<line x1="666.2" y1="671.8" x2="666.2" y2="675.4" stroke="#000" stroke-width="1.3"/>
<line x1="668.4" y1="671.8" x2="668.4" y2="677.8" stroke="#000" stroke-width="1.8"/>
<line x1="682.8" y1="671.8" x2="682.8" y2="675.4" stroke="#000" stroke-width="1.3"/>
<line x1="691.3" y1="671.8" x2="691.3" y2="675.4" stroke="#000" stroke-width="1.3"/>
<line x1="697.3" y1="671.8" x2="697.3" y2="675.4" stroke="#000" stroke-width="1.3"/>
<line x1="702" y1="671.8" x2="702" y2="675.4" stroke="#000" stroke-width="1.3"/>
<line x1="705.8" y1="671.8" x2="705.8" y2="675.4" stroke="#000" stroke-width="1.3"/>
<line x1="709" y1="671.8" x2="709" y2="675.4" stroke="#000" stroke-width="1.3"/>
<line x1="711.7" y1="671.8" x2="711.7" y2="675.4" stroke="#000" stroke-width="1.3"/>
<line x1="714.2" y1="671.8" x2="714.2" y2="675.4" stroke="#000" stroke-width="1.3"/>
<line x1="716.4" y1="671.8" x2="716.4" y2="677.8" stroke="#000" stroke-width="1.8"/>
<line x1="730.8" y1="671.8" x2="730.8" y2="675.4" stroke="#000" stroke-width="1.3"/>
<text transform="translate(489.5,432.8) scale(1,1.045)" font-size="25.5" text-anchor="start" fill="#000" >Q<tspan dx="-1.5">1</tspan></text>
<text transform="translate(489.5,463.7) scale(1,1.045)" font-size="25.5" text-anchor="start" fill="#000" >0.17</text>
<text transform="translate(724.7,432.8) scale(1,1.045)" font-size="25.5" text-anchor="end" fill="#000" >Q<tspan dx="-1.5">2</tspan></text>
<text transform="translate(724.7,463.7) scale(1,1.045)" font-size="25.5" text-anchor="end" fill="#000" >4.00</text>
<text transform="translate(485.2,627.2) scale(1,1.045)" font-size="25.5" text-anchor="start" fill="#000" >Q<tspan dx="-1.5">4</tspan></text>
<text transform="translate(485.2,655.8) scale(1,1.045)" font-size="25.5" text-anchor="start" fill="#000" >87.5</text>
<text transform="translate(724.7,627.2) scale(1,1.045)" font-size="25.5" text-anchor="end" fill="#000" >Q<tspan dx="-1.5">3</tspan></text>
<text transform="translate(724.7,655.8) scale(1,1.045)" font-size="25.5" text-anchor="end" fill="#000" >8.38</text>
<text transform="translate(53.9,834.3) rotate(-90)" font-size="29" text-anchor="middle" fill="#000" >Nimbolide (3μM)</text>
<line x1="267.3" y1="695.7" x2="267.3" y2="957.7" stroke="#1a1a1a" stroke-width="1.7"/>
<line x1="125.8" y1="816.3" x2="387.8" y2="816.3" stroke="#1a1a1a" stroke-width="1.7"/>
<rect x="125.8" y="695.7" width="262" height="262" fill="none" stroke="#000" stroke-width="4"/>
<line x1="118.8" y1="727.2" x2="124.8" y2="727.2" stroke="#000" stroke-width="1.8"/>
<text transform="translate(107.3,734.2) scale(1,1.045)" font-size="34" text-anchor="end" fill="#000" >10</text>
<text transform="translate(117.3,722.6) scale(1,1.045)" font-size="20" text-anchor="end" fill="#000" >3</text>
<line x1="118.8" y1="803.9" x2="124.8" y2="803.9" stroke="#000" stroke-width="1.8"/>
<text transform="translate(107.3,810.9) scale(1,1.045)" font-size="34" text-anchor="end" fill="#000" >10</text>
<text transform="translate(117.3,799.3) scale(1,1.045)" font-size="20" text-anchor="end" fill="#000" >2</text>
<line x1="118.8" y1="880.6" x2="124.8" y2="880.6" stroke="#000" stroke-width="1.8"/>
<text transform="translate(107.3,887.6) scale(1,1.045)" font-size="34" text-anchor="end" fill="#000" >10</text>
<text transform="translate(117.3,876) scale(1,1.045)" font-size="20" text-anchor="end" fill="#000" >1</text>
<line x1="118.8" y1="957.3" x2="124.8" y2="957.3" stroke="#000" stroke-width="1.8"/>
<text transform="translate(107.3,964.3) scale(1,1.045)" font-size="34" text-anchor="end" fill="#000" >10</text>
<text transform="translate(117.3,952.7) scale(1,1.045)" font-size="20" text-anchor="end" fill="#000" >0</text>
<line x1="121.2" y1="780.8" x2="124.8" y2="780.8" stroke="#000" stroke-width="1.3"/>
<line x1="121.2" y1="767.3" x2="124.8" y2="767.3" stroke="#000" stroke-width="1.3"/>
<line x1="121.2" y1="757.7" x2="124.8" y2="757.7" stroke="#000" stroke-width="1.3"/>
<line x1="121.2" y1="750.3" x2="124.8" y2="750.3" stroke="#000" stroke-width="1.3"/>
<line x1="121.2" y1="744.2" x2="124.8" y2="744.2" stroke="#000" stroke-width="1.3"/>
<line x1="121.2" y1="739.1" x2="124.8" y2="739.1" stroke="#000" stroke-width="1.3"/>
<line x1="121.2" y1="734.6" x2="124.8" y2="734.6" stroke="#000" stroke-width="1.3"/>
<line x1="121.2" y1="730.7" x2="124.8" y2="730.7" stroke="#000" stroke-width="1.3"/>
<line x1="121.2" y1="857.5" x2="124.8" y2="857.5" stroke="#000" stroke-width="1.3"/>
<line x1="121.2" y1="844" x2="124.8" y2="844" stroke="#000" stroke-width="1.3"/>
<line x1="121.2" y1="834.4" x2="124.8" y2="834.4" stroke="#000" stroke-width="1.3"/>
<line x1="121.2" y1="827" x2="124.8" y2="827" stroke="#000" stroke-width="1.3"/>
<line x1="121.2" y1="820.9" x2="124.8" y2="820.9" stroke="#000" stroke-width="1.3"/>
<line x1="121.2" y1="815.8" x2="124.8" y2="815.8" stroke="#000" stroke-width="1.3"/>
<line x1="121.2" y1="811.3" x2="124.8" y2="811.3" stroke="#000" stroke-width="1.3"/>
<line x1="121.2" y1="807.4" x2="124.8" y2="807.4" stroke="#000" stroke-width="1.3"/>
<line x1="121.2" y1="934.2" x2="124.8" y2="934.2" stroke="#000" stroke-width="1.3"/>
<line x1="121.2" y1="920.7" x2="124.8" y2="920.7" stroke="#000" stroke-width="1.3"/>
<line x1="121.2" y1="911.1" x2="124.8" y2="911.1" stroke="#000" stroke-width="1.3"/>
<line x1="121.2" y1="903.7" x2="124.8" y2="903.7" stroke="#000" stroke-width="1.3"/>
<line x1="121.2" y1="897.6" x2="124.8" y2="897.6" stroke="#000" stroke-width="1.3"/>
<line x1="121.2" y1="892.5" x2="124.8" y2="892.5" stroke="#000" stroke-width="1.3"/>
<line x1="121.2" y1="888" x2="124.8" y2="888" stroke="#000" stroke-width="1.3"/>
<line x1="121.2" y1="884.1" x2="124.8" y2="884.1" stroke="#000" stroke-width="1.3"/>
<line x1="126" y1="958.7" x2="126" y2="964.7" stroke="#000" stroke-width="1.8"/>
<line x1="140.4" y1="958.7" x2="140.4" y2="962.3" stroke="#000" stroke-width="1.3"/>
<line x1="148.9" y1="958.7" x2="148.9" y2="962.3" stroke="#000" stroke-width="1.3"/>
<line x1="154.9" y1="958.7" x2="154.9" y2="962.3" stroke="#000" stroke-width="1.3"/>
<line x1="159.6" y1="958.7" x2="159.6" y2="962.3" stroke="#000" stroke-width="1.3"/>
<line x1="163.4" y1="958.7" x2="163.4" y2="962.3" stroke="#000" stroke-width="1.3"/>
<line x1="166.6" y1="958.7" x2="166.6" y2="962.3" stroke="#000" stroke-width="1.3"/>
<line x1="169.3" y1="958.7" x2="169.3" y2="962.3" stroke="#000" stroke-width="1.3"/>
<line x1="171.8" y1="958.7" x2="171.8" y2="962.3" stroke="#000" stroke-width="1.3"/>
<line x1="174" y1="958.7" x2="174" y2="964.7" stroke="#000" stroke-width="1.8"/>
<line x1="188.4" y1="958.7" x2="188.4" y2="962.3" stroke="#000" stroke-width="1.3"/>
<line x1="196.9" y1="958.7" x2="196.9" y2="962.3" stroke="#000" stroke-width="1.3"/>
<line x1="202.9" y1="958.7" x2="202.9" y2="962.3" stroke="#000" stroke-width="1.3"/>
<line x1="207.6" y1="958.7" x2="207.6" y2="962.3" stroke="#000" stroke-width="1.3"/>
<line x1="211.4" y1="958.7" x2="211.4" y2="962.3" stroke="#000" stroke-width="1.3"/>
<line x1="214.6" y1="958.7" x2="214.6" y2="962.3" stroke="#000" stroke-width="1.3"/>
<line x1="217.3" y1="958.7" x2="217.3" y2="962.3" stroke="#000" stroke-width="1.3"/>
<line x1="219.8" y1="958.7" x2="219.8" y2="962.3" stroke="#000" stroke-width="1.3"/>
<line x1="222" y1="958.7" x2="222" y2="964.7" stroke="#000" stroke-width="1.8"/>
<line x1="236.4" y1="958.7" x2="236.4" y2="962.3" stroke="#000" stroke-width="1.3"/>
<line x1="244.9" y1="958.7" x2="244.9" y2="962.3" stroke="#000" stroke-width="1.3"/>
<line x1="250.9" y1="958.7" x2="250.9" y2="962.3" stroke="#000" stroke-width="1.3"/>
<line x1="255.6" y1="958.7" x2="255.6" y2="962.3" stroke="#000" stroke-width="1.3"/>
<line x1="259.4" y1="958.7" x2="259.4" y2="962.3" stroke="#000" stroke-width="1.3"/>
<line x1="262.6" y1="958.7" x2="262.6" y2="962.3" stroke="#000" stroke-width="1.3"/>
<line x1="265.3" y1="958.7" x2="265.3" y2="962.3" stroke="#000" stroke-width="1.3"/>
<line x1="267.8" y1="958.7" x2="267.8" y2="962.3" stroke="#000" stroke-width="1.3"/>
<line x1="270" y1="958.7" x2="270" y2="964.7" stroke="#000" stroke-width="1.8"/>
<line x1="284.4" y1="958.7" x2="284.4" y2="962.3" stroke="#000" stroke-width="1.3"/>
<line x1="292.9" y1="958.7" x2="292.9" y2="962.3" stroke="#000" stroke-width="1.3"/>
<line x1="298.9" y1="958.7" x2="298.9" y2="962.3" stroke="#000" stroke-width="1.3"/>
<line x1="303.6" y1="958.7" x2="303.6" y2="962.3" stroke="#000" stroke-width="1.3"/>
<line x1="307.4" y1="958.7" x2="307.4" y2="962.3" stroke="#000" stroke-width="1.3"/>
<line x1="310.6" y1="958.7" x2="310.6" y2="962.3" stroke="#000" stroke-width="1.3"/>
<line x1="313.3" y1="958.7" x2="313.3" y2="962.3" stroke="#000" stroke-width="1.3"/>
<line x1="315.8" y1="958.7" x2="315.8" y2="962.3" stroke="#000" stroke-width="1.3"/>
<line x1="318" y1="958.7" x2="318" y2="964.7" stroke="#000" stroke-width="1.8"/>
<line x1="332.4" y1="958.7" x2="332.4" y2="962.3" stroke="#000" stroke-width="1.3"/>
<line x1="340.9" y1="958.7" x2="340.9" y2="962.3" stroke="#000" stroke-width="1.3"/>
<line x1="346.9" y1="958.7" x2="346.9" y2="962.3" stroke="#000" stroke-width="1.3"/>
<line x1="351.6" y1="958.7" x2="351.6" y2="962.3" stroke="#000" stroke-width="1.3"/>
<line x1="355.4" y1="958.7" x2="355.4" y2="962.3" stroke="#000" stroke-width="1.3"/>
<line x1="358.6" y1="958.7" x2="358.6" y2="962.3" stroke="#000" stroke-width="1.3"/>
<line x1="361.3" y1="958.7" x2="361.3" y2="962.3" stroke="#000" stroke-width="1.3"/>
<line x1="363.8" y1="958.7" x2="363.8" y2="962.3" stroke="#000" stroke-width="1.3"/>
<line x1="366" y1="958.7" x2="366" y2="964.7" stroke="#000" stroke-width="1.8"/>
<line x1="380.4" y1="958.7" x2="380.4" y2="962.3" stroke="#000" stroke-width="1.3"/>
<text transform="translate(139.1,720.7) scale(1,1.045)" font-size="25.5" text-anchor="start" fill="#000" >Q<tspan dx="-1.5">1</tspan></text>
<text transform="translate(139.1,751.6) scale(1,1.045)" font-size="25.5" text-anchor="start" fill="#000" >11.0</text>
<text transform="translate(374.3,720.7) scale(1,1.045)" font-size="25.5" text-anchor="end" fill="#000" >Q<tspan dx="-1.5">2</tspan></text>
<text transform="translate(374.3,751.6) scale(1,1.045)" font-size="25.5" text-anchor="end" fill="#000" >24.8</text>
<text transform="translate(134.8,914.6) scale(1,1.045)" font-size="25.5" text-anchor="start" fill="#000" >Q<tspan dx="-1.5">4</tspan></text>
<text transform="translate(134.8,943.2) scale(1,1.045)" font-size="25.5" text-anchor="start" fill="#000" >60.3</text>
<text transform="translate(374.3,914.6) scale(1,1.045)" font-size="25.5" text-anchor="end" fill="#000" >Q<tspan dx="-1.5">3</tspan></text>
<text transform="translate(374.3,943.2) scale(1,1.045)" font-size="25.5" text-anchor="end" fill="#000" >3.97</text>
<line x1="595.9" y1="695.7" x2="595.9" y2="957.7" stroke="#1a1a1a" stroke-width="1.7"/>
<line x1="476.2" y1="824.3" x2="738.2" y2="824.3" stroke="#1a1a1a" stroke-width="1.7"/>
<rect x="476.2" y="695.7" width="262" height="262" fill="none" stroke="#000" stroke-width="4"/>
<line x1="469.2" y1="727.2" x2="475.2" y2="727.2" stroke="#000" stroke-width="1.8"/>
<text transform="translate(457.7,734.2) scale(1,1.045)" font-size="34" text-anchor="end" fill="#000" >10</text>
<text transform="translate(467.7,722.6) scale(1,1.045)" font-size="20" text-anchor="end" fill="#000" >3</text>
<line x1="469.2" y1="803.9" x2="475.2" y2="803.9" stroke="#000" stroke-width="1.8"/>
<text transform="translate(457.7,810.9) scale(1,1.045)" font-size="34" text-anchor="end" fill="#000" >10</text>
<text transform="translate(467.7,799.3) scale(1,1.045)" font-size="20" text-anchor="end" fill="#000" >2</text>
<line x1="469.2" y1="880.6" x2="475.2" y2="880.6" stroke="#000" stroke-width="1.8"/>
<text transform="translate(457.7,887.6) scale(1,1.045)" font-size="34" text-anchor="end" fill="#000" >10</text>
<text transform="translate(467.7,876) scale(1,1.045)" font-size="20" text-anchor="end" fill="#000" >1</text>
<line x1="469.2" y1="957.3" x2="475.2" y2="957.3" stroke="#000" stroke-width="1.8"/>
<text transform="translate(457.7,964.3) scale(1,1.045)" font-size="34" text-anchor="end" fill="#000" >10</text>
<text transform="translate(467.7,952.7) scale(1,1.045)" font-size="20" text-anchor="end" fill="#000" >0</text>
<line x1="471.6" y1="780.8" x2="475.2" y2="780.8" stroke="#000" stroke-width="1.3"/>
<line x1="471.6" y1="767.3" x2="475.2" y2="767.3" stroke="#000" stroke-width="1.3"/>
<line x1="471.6" y1="757.7" x2="475.2" y2="757.7" stroke="#000" stroke-width="1.3"/>
<line x1="471.6" y1="750.3" x2="475.2" y2="750.3" stroke="#000" stroke-width="1.3"/>
<line x1="471.6" y1="744.2" x2="475.2" y2="744.2" stroke="#000" stroke-width="1.3"/>
<line x1="471.6" y1="739.1" x2="475.2" y2="739.1" stroke="#000" stroke-width="1.3"/>
<line x1="471.6" y1="734.6" x2="475.2" y2="734.6" stroke="#000" stroke-width="1.3"/>
<line x1="471.6" y1="730.7" x2="475.2" y2="730.7" stroke="#000" stroke-width="1.3"/>
<line x1="471.6" y1="857.5" x2="475.2" y2="857.5" stroke="#000" stroke-width="1.3"/>
<line x1="471.6" y1="844" x2="475.2" y2="844" stroke="#000" stroke-width="1.3"/>
<line x1="471.6" y1="834.4" x2="475.2" y2="834.4" stroke="#000" stroke-width="1.3"/>
<line x1="471.6" y1="827" x2="475.2" y2="827" stroke="#000" stroke-width="1.3"/>
<line x1="471.6" y1="820.9" x2="475.2" y2="820.9" stroke="#000" stroke-width="1.3"/>
<line x1="471.6" y1="815.8" x2="475.2" y2="815.8" stroke="#000" stroke-width="1.3"/>
<line x1="471.6" y1="811.3" x2="475.2" y2="811.3" stroke="#000" stroke-width="1.3"/>
<line x1="471.6" y1="807.4" x2="475.2" y2="807.4" stroke="#000" stroke-width="1.3"/>
<line x1="471.6" y1="934.2" x2="475.2" y2="934.2" stroke="#000" stroke-width="1.3"/>
<line x1="471.6" y1="920.7" x2="475.2" y2="920.7" stroke="#000" stroke-width="1.3"/>
<line x1="471.6" y1="911.1" x2="475.2" y2="911.1" stroke="#000" stroke-width="1.3"/>
<line x1="471.6" y1="903.7" x2="475.2" y2="903.7" stroke="#000" stroke-width="1.3"/>
<line x1="471.6" y1="897.6" x2="475.2" y2="897.6" stroke="#000" stroke-width="1.3"/>
<line x1="471.6" y1="892.5" x2="475.2" y2="892.5" stroke="#000" stroke-width="1.3"/>
<line x1="471.6" y1="888" x2="475.2" y2="888" stroke="#000" stroke-width="1.3"/>
<line x1="471.6" y1="884.1" x2="475.2" y2="884.1" stroke="#000" stroke-width="1.3"/>
<line x1="476.4" y1="958.7" x2="476.4" y2="964.7" stroke="#000" stroke-width="1.8"/>
<line x1="490.8" y1="958.7" x2="490.8" y2="962.3" stroke="#000" stroke-width="1.3"/>
<line x1="499.3" y1="958.7" x2="499.3" y2="962.3" stroke="#000" stroke-width="1.3"/>
<line x1="505.3" y1="958.7" x2="505.3" y2="962.3" stroke="#000" stroke-width="1.3"/>
<line x1="510" y1="958.7" x2="510" y2="962.3" stroke="#000" stroke-width="1.3"/>
<line x1="513.8" y1="958.7" x2="513.8" y2="962.3" stroke="#000" stroke-width="1.3"/>
<line x1="517" y1="958.7" x2="517" y2="962.3" stroke="#000" stroke-width="1.3"/>
<line x1="519.7" y1="958.7" x2="519.7" y2="962.3" stroke="#000" stroke-width="1.3"/>
<line x1="522.2" y1="958.7" x2="522.2" y2="962.3" stroke="#000" stroke-width="1.3"/>
<line x1="524.4" y1="958.7" x2="524.4" y2="964.7" stroke="#000" stroke-width="1.8"/>
<line x1="538.8" y1="958.7" x2="538.8" y2="962.3" stroke="#000" stroke-width="1.3"/>
<line x1="547.3" y1="958.7" x2="547.3" y2="962.3" stroke="#000" stroke-width="1.3"/>
<line x1="553.3" y1="958.7" x2="553.3" y2="962.3" stroke="#000" stroke-width="1.3"/>
<line x1="558" y1="958.7" x2="558" y2="962.3" stroke="#000" stroke-width="1.3"/>
<line x1="561.8" y1="958.7" x2="561.8" y2="962.3" stroke="#000" stroke-width="1.3"/>
<line x1="565" y1="958.7" x2="565" y2="962.3" stroke="#000" stroke-width="1.3"/>
<line x1="567.7" y1="958.7" x2="567.7" y2="962.3" stroke="#000" stroke-width="1.3"/>
<line x1="570.2" y1="958.7" x2="570.2" y2="962.3" stroke="#000" stroke-width="1.3"/>
<line x1="572.4" y1="958.7" x2="572.4" y2="964.7" stroke="#000" stroke-width="1.8"/>
<line x1="586.8" y1="958.7" x2="586.8" y2="962.3" stroke="#000" stroke-width="1.3"/>
<line x1="595.3" y1="958.7" x2="595.3" y2="962.3" stroke="#000" stroke-width="1.3"/>
<line x1="601.3" y1="958.7" x2="601.3" y2="962.3" stroke="#000" stroke-width="1.3"/>
<line x1="606" y1="958.7" x2="606" y2="962.3" stroke="#000" stroke-width="1.3"/>
<line x1="609.8" y1="958.7" x2="609.8" y2="962.3" stroke="#000" stroke-width="1.3"/>
<line x1="613" y1="958.7" x2="613" y2="962.3" stroke="#000" stroke-width="1.3"/>
<line x1="615.7" y1="958.7" x2="615.7" y2="962.3" stroke="#000" stroke-width="1.3"/>
<line x1="618.2" y1="958.7" x2="618.2" y2="962.3" stroke="#000" stroke-width="1.3"/>
<line x1="620.4" y1="958.7" x2="620.4" y2="964.7" stroke="#000" stroke-width="1.8"/>
<line x1="634.8" y1="958.7" x2="634.8" y2="962.3" stroke="#000" stroke-width="1.3"/>
<line x1="643.3" y1="958.7" x2="643.3" y2="962.3" stroke="#000" stroke-width="1.3"/>
<line x1="649.3" y1="958.7" x2="649.3" y2="962.3" stroke="#000" stroke-width="1.3"/>
<line x1="654" y1="958.7" x2="654" y2="962.3" stroke="#000" stroke-width="1.3"/>
<line x1="657.8" y1="958.7" x2="657.8" y2="962.3" stroke="#000" stroke-width="1.3"/>
<line x1="661" y1="958.7" x2="661" y2="962.3" stroke="#000" stroke-width="1.3"/>
<line x1="663.7" y1="958.7" x2="663.7" y2="962.3" stroke="#000" stroke-width="1.3"/>
<line x1="666.2" y1="958.7" x2="666.2" y2="962.3" stroke="#000" stroke-width="1.3"/>
<line x1="668.4" y1="958.7" x2="668.4" y2="964.7" stroke="#000" stroke-width="1.8"/>
<line x1="682.8" y1="958.7" x2="682.8" y2="962.3" stroke="#000" stroke-width="1.3"/>
<line x1="691.3" y1="958.7" x2="691.3" y2="962.3" stroke="#000" stroke-width="1.3"/>
<line x1="697.3" y1="958.7" x2="697.3" y2="962.3" stroke="#000" stroke-width="1.3"/>
<line x1="702" y1="958.7" x2="702" y2="962.3" stroke="#000" stroke-width="1.3"/>
<line x1="705.8" y1="958.7" x2="705.8" y2="962.3" stroke="#000" stroke-width="1.3"/>
<line x1="709" y1="958.7" x2="709" y2="962.3" stroke="#000" stroke-width="1.3"/>
<line x1="711.7" y1="958.7" x2="711.7" y2="962.3" stroke="#000" stroke-width="1.3"/>
<line x1="714.2" y1="958.7" x2="714.2" y2="962.3" stroke="#000" stroke-width="1.3"/>
<line x1="716.4" y1="958.7" x2="716.4" y2="964.7" stroke="#000" stroke-width="1.8"/>
<line x1="730.8" y1="958.7" x2="730.8" y2="962.3" stroke="#000" stroke-width="1.3"/>
<text transform="translate(489.5,720.7) scale(1,1.045)" font-size="25.5" text-anchor="start" fill="#000" >Q<tspan dx="-1.5">1</tspan></text>
<text transform="translate(489.5,751.6) scale(1,1.045)" font-size="25.5" text-anchor="start" fill="#000" >0.75</text>
<text transform="translate(724.7,720.7) scale(1,1.045)" font-size="25.5" text-anchor="end" fill="#000" >Q<tspan dx="-1.5">2</tspan></text>
<text transform="translate(724.7,751.6) scale(1,1.045)" font-size="25.5" text-anchor="end" fill="#000" >12.0</text>
<text transform="translate(485.2,914.6) scale(1,1.045)" font-size="25.5" text-anchor="start" fill="#000" >Q<tspan dx="-1.5">4</tspan></text>
<text transform="translate(485.2,943.2) scale(1,1.045)" font-size="25.5" text-anchor="start" fill="#000" >73.4</text>
<text transform="translate(724.7,914.6) scale(1,1.045)" font-size="25.5" text-anchor="end" fill="#000" >Q<tspan dx="-1.5">3</tspan></text>
<text transform="translate(724.7,943.2) scale(1,1.045)" font-size="25.5" text-anchor="end" fill="#000" >13.8</text>
<text transform="translate(53.9,1119.4) rotate(-90)" font-size="29" text-anchor="middle" fill="#000" >Nimbolide (6μM)</text>
<line x1="267.3" y1="982.2" x2="267.3" y2="1244.2" stroke="#1a1a1a" stroke-width="1.7"/>
<line x1="125.8" y1="1102.8" x2="387.8" y2="1102.8" stroke="#1a1a1a" stroke-width="1.7"/>
<rect x="125.8" y="982.2" width="262" height="262" fill="none" stroke="#000" stroke-width="4"/>
<line x1="118.8" y1="1013.7" x2="124.8" y2="1013.7" stroke="#000" stroke-width="1.8"/>
<text transform="translate(107.3,1020.7) scale(1,1.045)" font-size="34" text-anchor="end" fill="#000" >10</text>
<text transform="translate(117.3,1009.1) scale(1,1.045)" font-size="20" text-anchor="end" fill="#000" >3</text>
<line x1="118.8" y1="1090.4" x2="124.8" y2="1090.4" stroke="#000" stroke-width="1.8"/>
<text transform="translate(107.3,1097.4) scale(1,1.045)" font-size="34" text-anchor="end" fill="#000" >10</text>
<text transform="translate(117.3,1085.8) scale(1,1.045)" font-size="20" text-anchor="end" fill="#000" >2</text>
<line x1="118.8" y1="1167.1" x2="124.8" y2="1167.1" stroke="#000" stroke-width="1.8"/>
<text transform="translate(107.3,1174.1) scale(1,1.045)" font-size="34" text-anchor="end" fill="#000" >10</text>
<text transform="translate(117.3,1162.5) scale(1,1.045)" font-size="20" text-anchor="end" fill="#000" >1</text>
<line x1="118.8" y1="1243.8" x2="124.8" y2="1243.8" stroke="#000" stroke-width="1.8"/>
<text transform="translate(107.3,1250.8) scale(1,1.045)" font-size="34" text-anchor="end" fill="#000" >10</text>
<text transform="translate(117.3,1239.2) scale(1,1.045)" font-size="20" text-anchor="end" fill="#000" >0</text>
<line x1="121.2" y1="1067.3" x2="124.8" y2="1067.3" stroke="#000" stroke-width="1.3"/>
<line x1="121.2" y1="1053.8" x2="124.8" y2="1053.8" stroke="#000" stroke-width="1.3"/>
<line x1="121.2" y1="1044.2" x2="124.8" y2="1044.2" stroke="#000" stroke-width="1.3"/>
<line x1="121.2" y1="1036.8" x2="124.8" y2="1036.8" stroke="#000" stroke-width="1.3"/>
<line x1="121.2" y1="1030.7" x2="124.8" y2="1030.7" stroke="#000" stroke-width="1.3"/>
<line x1="121.2" y1="1025.6" x2="124.8" y2="1025.6" stroke="#000" stroke-width="1.3"/>
<line x1="121.2" y1="1021.1" x2="124.8" y2="1021.1" stroke="#000" stroke-width="1.3"/>
<line x1="121.2" y1="1017.2" x2="124.8" y2="1017.2" stroke="#000" stroke-width="1.3"/>
<line x1="121.2" y1="1144" x2="124.8" y2="1144" stroke="#000" stroke-width="1.3"/>
<line x1="121.2" y1="1130.5" x2="124.8" y2="1130.5" stroke="#000" stroke-width="1.3"/>
<line x1="121.2" y1="1120.9" x2="124.8" y2="1120.9" stroke="#000" stroke-width="1.3"/>
<line x1="121.2" y1="1113.5" x2="124.8" y2="1113.5" stroke="#000" stroke-width="1.3"/>
<line x1="121.2" y1="1107.4" x2="124.8" y2="1107.4" stroke="#000" stroke-width="1.3"/>
<line x1="121.2" y1="1102.3" x2="124.8" y2="1102.3" stroke="#000" stroke-width="1.3"/>
<line x1="121.2" y1="1097.8" x2="124.8" y2="1097.8" stroke="#000" stroke-width="1.3"/>
<line x1="121.2" y1="1093.9" x2="124.8" y2="1093.9" stroke="#000" stroke-width="1.3"/>
<line x1="121.2" y1="1220.7" x2="124.8" y2="1220.7" stroke="#000" stroke-width="1.3"/>
<line x1="121.2" y1="1207.2" x2="124.8" y2="1207.2" stroke="#000" stroke-width="1.3"/>
<line x1="121.2" y1="1197.6" x2="124.8" y2="1197.6" stroke="#000" stroke-width="1.3"/>
<line x1="121.2" y1="1190.2" x2="124.8" y2="1190.2" stroke="#000" stroke-width="1.3"/>
<line x1="121.2" y1="1184.1" x2="124.8" y2="1184.1" stroke="#000" stroke-width="1.3"/>
<line x1="121.2" y1="1179" x2="124.8" y2="1179" stroke="#000" stroke-width="1.3"/>
<line x1="121.2" y1="1174.5" x2="124.8" y2="1174.5" stroke="#000" stroke-width="1.3"/>
<line x1="121.2" y1="1170.6" x2="124.8" y2="1170.6" stroke="#000" stroke-width="1.3"/>
<line x1="126" y1="1245.2" x2="126" y2="1251.2" stroke="#000" stroke-width="1.8"/>
<line x1="140.4" y1="1245.2" x2="140.4" y2="1248.8" stroke="#000" stroke-width="1.3"/>
<line x1="148.9" y1="1245.2" x2="148.9" y2="1248.8" stroke="#000" stroke-width="1.3"/>
<line x1="154.9" y1="1245.2" x2="154.9" y2="1248.8" stroke="#000" stroke-width="1.3"/>
<line x1="159.6" y1="1245.2" x2="159.6" y2="1248.8" stroke="#000" stroke-width="1.3"/>
<line x1="163.4" y1="1245.2" x2="163.4" y2="1248.8" stroke="#000" stroke-width="1.3"/>
<line x1="166.6" y1="1245.2" x2="166.6" y2="1248.8" stroke="#000" stroke-width="1.3"/>
<line x1="169.3" y1="1245.2" x2="169.3" y2="1248.8" stroke="#000" stroke-width="1.3"/>
<line x1="171.8" y1="1245.2" x2="171.8" y2="1248.8" stroke="#000" stroke-width="1.3"/>
<line x1="174" y1="1245.2" x2="174" y2="1251.2" stroke="#000" stroke-width="1.8"/>
<line x1="188.4" y1="1245.2" x2="188.4" y2="1248.8" stroke="#000" stroke-width="1.3"/>
<line x1="196.9" y1="1245.2" x2="196.9" y2="1248.8" stroke="#000" stroke-width="1.3"/>
<line x1="202.9" y1="1245.2" x2="202.9" y2="1248.8" stroke="#000" stroke-width="1.3"/>
<line x1="207.6" y1="1245.2" x2="207.6" y2="1248.8" stroke="#000" stroke-width="1.3"/>
<line x1="211.4" y1="1245.2" x2="211.4" y2="1248.8" stroke="#000" stroke-width="1.3"/>
<line x1="214.6" y1="1245.2" x2="214.6" y2="1248.8" stroke="#000" stroke-width="1.3"/>
<line x1="217.3" y1="1245.2" x2="217.3" y2="1248.8" stroke="#000" stroke-width="1.3"/>
<line x1="219.8" y1="1245.2" x2="219.8" y2="1248.8" stroke="#000" stroke-width="1.3"/>
<line x1="222" y1="1245.2" x2="222" y2="1251.2" stroke="#000" stroke-width="1.8"/>
<line x1="236.4" y1="1245.2" x2="236.4" y2="1248.8" stroke="#000" stroke-width="1.3"/>
<line x1="244.9" y1="1245.2" x2="244.9" y2="1248.8" stroke="#000" stroke-width="1.3"/>
<line x1="250.9" y1="1245.2" x2="250.9" y2="1248.8" stroke="#000" stroke-width="1.3"/>
<line x1="255.6" y1="1245.2" x2="255.6" y2="1248.8" stroke="#000" stroke-width="1.3"/>
<line x1="259.4" y1="1245.2" x2="259.4" y2="1248.8" stroke="#000" stroke-width="1.3"/>
<line x1="262.6" y1="1245.2" x2="262.6" y2="1248.8" stroke="#000" stroke-width="1.3"/>
<line x1="265.3" y1="1245.2" x2="265.3" y2="1248.8" stroke="#000" stroke-width="1.3"/>
<line x1="267.8" y1="1245.2" x2="267.8" y2="1248.8" stroke="#000" stroke-width="1.3"/>
<line x1="270" y1="1245.2" x2="270" y2="1251.2" stroke="#000" stroke-width="1.8"/>
<line x1="284.4" y1="1245.2" x2="284.4" y2="1248.8" stroke="#000" stroke-width="1.3"/>
<line x1="292.9" y1="1245.2" x2="292.9" y2="1248.8" stroke="#000" stroke-width="1.3"/>
<line x1="298.9" y1="1245.2" x2="298.9" y2="1248.8" stroke="#000" stroke-width="1.3"/>
<line x1="303.6" y1="1245.2" x2="303.6" y2="1248.8" stroke="#000" stroke-width="1.3"/>
<line x1="307.4" y1="1245.2" x2="307.4" y2="1248.8" stroke="#000" stroke-width="1.3"/>
<line x1="310.6" y1="1245.2" x2="310.6" y2="1248.8" stroke="#000" stroke-width="1.3"/>
<line x1="313.3" y1="1245.2" x2="313.3" y2="1248.8" stroke="#000" stroke-width="1.3"/>
<line x1="315.8" y1="1245.2" x2="315.8" y2="1248.8" stroke="#000" stroke-width="1.3"/>
<line x1="318" y1="1245.2" x2="318" y2="1251.2" stroke="#000" stroke-width="1.8"/>
<line x1="332.4" y1="1245.2" x2="332.4" y2="1248.8" stroke="#000" stroke-width="1.3"/>
<line x1="340.9" y1="1245.2" x2="340.9" y2="1248.8" stroke="#000" stroke-width="1.3"/>
<line x1="346.9" y1="1245.2" x2="346.9" y2="1248.8" stroke="#000" stroke-width="1.3"/>
<line x1="351.6" y1="1245.2" x2="351.6" y2="1248.8" stroke="#000" stroke-width="1.3"/>
<line x1="355.4" y1="1245.2" x2="355.4" y2="1248.8" stroke="#000" stroke-width="1.3"/>
<line x1="358.6" y1="1245.2" x2="358.6" y2="1248.8" stroke="#000" stroke-width="1.3"/>
<line x1="361.3" y1="1245.2" x2="361.3" y2="1248.8" stroke="#000" stroke-width="1.3"/>
<line x1="363.8" y1="1245.2" x2="363.8" y2="1248.8" stroke="#000" stroke-width="1.3"/>
<line x1="366" y1="1245.2" x2="366" y2="1251.2" stroke="#000" stroke-width="1.8"/>
<line x1="380.4" y1="1245.2" x2="380.4" y2="1248.8" stroke="#000" stroke-width="1.3"/>
<text transform="translate(139.1,1009.7) scale(1,1.045)" font-size="25.5" text-anchor="start" fill="#000" >Q<tspan dx="-1.5">1</tspan></text>
<text transform="translate(139.1,1040.6) scale(1,1.045)" font-size="25.5" text-anchor="start" fill="#000" >16.1</text>
<text transform="translate(374.3,1009.7) scale(1,1.045)" font-size="25.5" text-anchor="end" fill="#000" >Q<tspan dx="-1.5">2</tspan></text>
<text transform="translate(374.3,1040.6) scale(1,1.045)" font-size="25.5" text-anchor="end" fill="#000" >28.0</text>
<text transform="translate(134.8,1204.6) scale(1,1.045)" font-size="25.5" text-anchor="start" fill="#000" >Q<tspan dx="-1.5">4</tspan></text>
<text transform="translate(134.8,1233.2) scale(1,1.045)" font-size="25.5" text-anchor="start" fill="#000" >52.5</text>
<text transform="translate(374.3,1204.6) scale(1,1.045)" font-size="25.5" text-anchor="end" fill="#000" >Q<tspan dx="-1.5">3</tspan></text>
<text transform="translate(374.3,1233.2) scale(1,1.045)" font-size="25.5" text-anchor="end" fill="#000" >3.41</text>
<text transform="translate(129,1273.7) scale(1,1.045)" font-size="23" text-anchor="end" fill="#000" >10</text>
<text transform="translate(129.2,1263.5) scale(1,1.045)" font-size="14" text-anchor="start" fill="#000" >0</text>
<text transform="translate(177,1273.7) scale(1,1.045)" font-size="23" text-anchor="end" fill="#000" >10</text>
<text transform="translate(177.2,1263.5) scale(1,1.045)" font-size="14" text-anchor="start" fill="#000" >1</text>
<text transform="translate(225,1273.7) scale(1,1.045)" font-size="23" text-anchor="end" fill="#000" >10</text>
<text transform="translate(225.2,1263.5) scale(1,1.045)" font-size="14" text-anchor="start" fill="#000" >2</text>
<text transform="translate(273,1273.7) scale(1,1.045)" font-size="23" text-anchor="end" fill="#000" >10</text>
<text transform="translate(273.2,1263.5) scale(1,1.045)" font-size="14" text-anchor="start" fill="#000" >3</text>
<text transform="translate(321,1273.7) scale(1,1.045)" font-size="23" text-anchor="end" fill="#000" >10</text>
<text transform="translate(321.2,1263.5) scale(1,1.045)" font-size="14" text-anchor="start" fill="#000" >4</text>
<text transform="translate(369,1273.7) scale(1,1.045)" font-size="23" text-anchor="end" fill="#000" >10</text>
<text transform="translate(369.2,1263.5) scale(1,1.045)" font-size="14" text-anchor="start" fill="#000" >5</text>
<line x1="595.9" y1="982.2" x2="595.9" y2="1244.2" stroke="#1a1a1a" stroke-width="1.7"/>
<line x1="476.2" y1="1110.8" x2="738.2" y2="1110.8" stroke="#1a1a1a" stroke-width="1.7"/>
<rect x="476.2" y="982.2" width="262" height="262" fill="none" stroke="#000" stroke-width="4"/>
<line x1="469.2" y1="1013.7" x2="475.2" y2="1013.7" stroke="#000" stroke-width="1.8"/>
<text transform="translate(457.7,1020.7) scale(1,1.045)" font-size="34" text-anchor="end" fill="#000" >10</text>
<text transform="translate(467.7,1009.1) scale(1,1.045)" font-size="20" text-anchor="end" fill="#000" >3</text>
<line x1="469.2" y1="1090.4" x2="475.2" y2="1090.4" stroke="#000" stroke-width="1.8"/>
<text transform="translate(457.7,1097.4) scale(1,1.045)" font-size="34" text-anchor="end" fill="#000" >10</text>
<text transform="translate(467.7,1085.8) scale(1,1.045)" font-size="20" text-anchor="end" fill="#000" >2</text>
<line x1="469.2" y1="1167.1" x2="475.2" y2="1167.1" stroke="#000" stroke-width="1.8"/>
<text transform="translate(457.7,1174.1) scale(1,1.045)" font-size="34" text-anchor="end" fill="#000" >10</text>
<text transform="translate(467.7,1162.5) scale(1,1.045)" font-size="20" text-anchor="end" fill="#000" >1</text>
<line x1="469.2" y1="1243.8" x2="475.2" y2="1243.8" stroke="#000" stroke-width="1.8"/>
<text transform="translate(457.7,1250.8) scale(1,1.045)" font-size="34" text-anchor="end" fill="#000" >10</text>
<text transform="translate(467.7,1239.2) scale(1,1.045)" font-size="20" text-anchor="end" fill="#000" >0</text>
<line x1="471.6" y1="1067.3" x2="475.2" y2="1067.3" stroke="#000" stroke-width="1.3"/>
<line x1="471.6" y1="1053.8" x2="475.2" y2="1053.8" stroke="#000" stroke-width="1.3"/>
<line x1="471.6" y1="1044.2" x2="475.2" y2="1044.2" stroke="#000" stroke-width="1.3"/>
<line x1="471.6" y1="1036.8" x2="475.2" y2="1036.8" stroke="#000" stroke-width="1.3"/>
<line x1="471.6" y1="1030.7" x2="475.2" y2="1030.7" stroke="#000" stroke-width="1.3"/>
<line x1="471.6" y1="1025.6" x2="475.2" y2="1025.6" stroke="#000" stroke-width="1.3"/>
<line x1="471.6" y1="1021.1" x2="475.2" y2="1021.1" stroke="#000" stroke-width="1.3"/>
<line x1="471.6" y1="1017.2" x2="475.2" y2="1017.2" stroke="#000" stroke-width="1.3"/>
<line x1="471.6" y1="1144" x2="475.2" y2="1144" stroke="#000" stroke-width="1.3"/>
<line x1="471.6" y1="1130.5" x2="475.2" y2="1130.5" stroke="#000" stroke-width="1.3"/>
<line x1="471.6" y1="1120.9" x2="475.2" y2="1120.9" stroke="#000" stroke-width="1.3"/>
<line x1="471.6" y1="1113.5" x2="475.2" y2="1113.5" stroke="#000" stroke-width="1.3"/>
<line x1="471.6" y1="1107.4" x2="475.2" y2="1107.4" stroke="#000" stroke-width="1.3"/>
<line x1="471.6" y1="1102.3" x2="475.2" y2="1102.3" stroke="#000" stroke-width="1.3"/>
<line x1="471.6" y1="1097.8" x2="475.2" y2="1097.8" stroke="#000" stroke-width="1.3"/>
<line x1="471.6" y1="1093.9" x2="475.2" y2="1093.9" stroke="#000" stroke-width="1.3"/>
<line x1="471.6" y1="1220.7" x2="475.2" y2="1220.7" stroke="#000" stroke-width="1.3"/>
<line x1="471.6" y1="1207.2" x2="475.2" y2="1207.2" stroke="#000" stroke-width="1.3"/>
<line x1="471.6" y1="1197.6" x2="475.2" y2="1197.6" stroke="#000" stroke-width="1.3"/>
<line x1="471.6" y1="1190.2" x2="475.2" y2="1190.2" stroke="#000" stroke-width="1.3"/>
<line x1="471.6" y1="1184.1" x2="475.2" y2="1184.1" stroke="#000" stroke-width="1.3"/>
<line x1="471.6" y1="1179" x2="475.2" y2="1179" stroke="#000" stroke-width="1.3"/>
<line x1="471.6" y1="1174.5" x2="475.2" y2="1174.5" stroke="#000" stroke-width="1.3"/>
<line x1="471.6" y1="1170.6" x2="475.2" y2="1170.6" stroke="#000" stroke-width="1.3"/>
<line x1="476.4" y1="1245.2" x2="476.4" y2="1251.2" stroke="#000" stroke-width="1.8"/>
<line x1="490.8" y1="1245.2" x2="490.8" y2="1248.8" stroke="#000" stroke-width="1.3"/>
<line x1="499.3" y1="1245.2" x2="499.3" y2="1248.8" stroke="#000" stroke-width="1.3"/>
<line x1="505.3" y1="1245.2" x2="505.3" y2="1248.8" stroke="#000" stroke-width="1.3"/>
<line x1="510" y1="1245.2" x2="510" y2="1248.8" stroke="#000" stroke-width="1.3"/>
<line x1="513.8" y1="1245.2" x2="513.8" y2="1248.8" stroke="#000" stroke-width="1.3"/>
<line x1="517" y1="1245.2" x2="517" y2="1248.8" stroke="#000" stroke-width="1.3"/>
<line x1="519.7" y1="1245.2" x2="519.7" y2="1248.8" stroke="#000" stroke-width="1.3"/>
<line x1="522.2" y1="1245.2" x2="522.2" y2="1248.8" stroke="#000" stroke-width="1.3"/>
<line x1="524.4" y1="1245.2" x2="524.4" y2="1251.2" stroke="#000" stroke-width="1.8"/>
<line x1="538.8" y1="1245.2" x2="538.8" y2="1248.8" stroke="#000" stroke-width="1.3"/>
<line x1="547.3" y1="1245.2" x2="547.3" y2="1248.8" stroke="#000" stroke-width="1.3"/>
<line x1="553.3" y1="1245.2" x2="553.3" y2="1248.8" stroke="#000" stroke-width="1.3"/>
<line x1="558" y1="1245.2" x2="558" y2="1248.8" stroke="#000" stroke-width="1.3"/>
<line x1="561.8" y1="1245.2" x2="561.8" y2="1248.8" stroke="#000" stroke-width="1.3"/>
<line x1="565" y1="1245.2" x2="565" y2="1248.8" stroke="#000" stroke-width="1.3"/>
<line x1="567.7" y1="1245.2" x2="567.7" y2="1248.8" stroke="#000" stroke-width="1.3"/>
<line x1="570.2" y1="1245.2" x2="570.2" y2="1248.8" stroke="#000" stroke-width="1.3"/>
<line x1="572.4" y1="1245.2" x2="572.4" y2="1251.2" stroke="#000" stroke-width="1.8"/>
<line x1="586.8" y1="1245.2" x2="586.8" y2="1248.8" stroke="#000" stroke-width="1.3"/>
<line x1="595.3" y1="1245.2" x2="595.3" y2="1248.8" stroke="#000" stroke-width="1.3"/>
<line x1="601.3" y1="1245.2" x2="601.3" y2="1248.8" stroke="#000" stroke-width="1.3"/>
<line x1="606" y1="1245.2" x2="606" y2="1248.8" stroke="#000" stroke-width="1.3"/>
<line x1="609.8" y1="1245.2" x2="609.8" y2="1248.8" stroke="#000" stroke-width="1.3"/>
<line x1="613" y1="1245.2" x2="613" y2="1248.8" stroke="#000" stroke-width="1.3"/>
<line x1="615.7" y1="1245.2" x2="615.7" y2="1248.8" stroke="#000" stroke-width="1.3"/>
<line x1="618.2" y1="1245.2" x2="618.2" y2="1248.8" stroke="#000" stroke-width="1.3"/>
<line x1="620.4" y1="1245.2" x2="620.4" y2="1251.2" stroke="#000" stroke-width="1.8"/>
<line x1="634.8" y1="1245.2" x2="634.8" y2="1248.8" stroke="#000" stroke-width="1.3"/>
<line x1="643.3" y1="1245.2" x2="643.3" y2="1248.8" stroke="#000" stroke-width="1.3"/>
<line x1="649.3" y1="1245.2" x2="649.3" y2="1248.8" stroke="#000" stroke-width="1.3"/>
<line x1="654" y1="1245.2" x2="654" y2="1248.8" stroke="#000" stroke-width="1.3"/>
<line x1="657.8" y1="1245.2" x2="657.8" y2="1248.8" stroke="#000" stroke-width="1.3"/>
<line x1="661" y1="1245.2" x2="661" y2="1248.8" stroke="#000" stroke-width="1.3"/>
<line x1="663.7" y1="1245.2" x2="663.7" y2="1248.8" stroke="#000" stroke-width="1.3"/>
<line x1="666.2" y1="1245.2" x2="666.2" y2="1248.8" stroke="#000" stroke-width="1.3"/>
<line x1="668.4" y1="1245.2" x2="668.4" y2="1251.2" stroke="#000" stroke-width="1.8"/>
<line x1="682.8" y1="1245.2" x2="682.8" y2="1248.8" stroke="#000" stroke-width="1.3"/>
<line x1="691.3" y1="1245.2" x2="691.3" y2="1248.8" stroke="#000" stroke-width="1.3"/>
<line x1="697.3" y1="1245.2" x2="697.3" y2="1248.8" stroke="#000" stroke-width="1.3"/>
<line x1="702" y1="1245.2" x2="702" y2="1248.8" stroke="#000" stroke-width="1.3"/>
<line x1="705.8" y1="1245.2" x2="705.8" y2="1248.8" stroke="#000" stroke-width="1.3"/>
<line x1="709" y1="1245.2" x2="709" y2="1248.8" stroke="#000" stroke-width="1.3"/>
<line x1="711.7" y1="1245.2" x2="711.7" y2="1248.8" stroke="#000" stroke-width="1.3"/>
<line x1="714.2" y1="1245.2" x2="714.2" y2="1248.8" stroke="#000" stroke-width="1.3"/>
<line x1="716.4" y1="1245.2" x2="716.4" y2="1251.2" stroke="#000" stroke-width="1.8"/>
<line x1="730.8" y1="1245.2" x2="730.8" y2="1248.8" stroke="#000" stroke-width="1.3"/>
<text transform="translate(489.5,1009.7) scale(1,1.045)" font-size="25.5" text-anchor="start" fill="#000" >Q<tspan dx="-1.5">1</tspan></text>
<text transform="translate(489.5,1040.6) scale(1,1.045)" font-size="25.5" text-anchor="start" fill="#000" >5.05</text>
<text transform="translate(724.7,1009.7) scale(1,1.045)" font-size="25.5" text-anchor="end" fill="#000" >Q<tspan dx="-1.5">2</tspan></text>
<text transform="translate(724.7,1040.6) scale(1,1.045)" font-size="25.5" text-anchor="end" fill="#000" >24.5</text>
<text transform="translate(485.2,1204.6) scale(1,1.045)" font-size="25.5" text-anchor="start" fill="#000" >Q<tspan dx="-1.5">4</tspan></text>
<text transform="translate(485.2,1233.2) scale(1,1.045)" font-size="25.5" text-anchor="start" fill="#000" >61.7</text>
<text transform="translate(724.7,1204.6) scale(1,1.045)" font-size="25.5" text-anchor="end" fill="#000" >Q<tspan dx="-1.5">3</tspan></text>
<text transform="translate(724.7,1233.2) scale(1,1.045)" font-size="25.5" text-anchor="end" fill="#000" >8.77</text>
<text transform="translate(479.4,1273.7) scale(1,1.045)" font-size="23" text-anchor="end" fill="#000" >10</text>
<text transform="translate(479.6,1263.5) scale(1,1.045)" font-size="14" text-anchor="start" fill="#000" >0</text>
<text transform="translate(527.4,1273.7) scale(1,1.045)" font-size="23" text-anchor="end" fill="#000" >10</text>
<text transform="translate(527.6,1263.5) scale(1,1.045)" font-size="14" text-anchor="start" fill="#000" >1</text>
<text transform="translate(575.4,1273.7) scale(1,1.045)" font-size="23" text-anchor="end" fill="#000" >10</text>
<text transform="translate(575.6,1263.5) scale(1,1.045)" font-size="14" text-anchor="start" fill="#000" >2</text>
<text transform="translate(623.4,1273.7) scale(1,1.045)" font-size="23" text-anchor="end" fill="#000" >10</text>
<text transform="translate(623.6,1263.5) scale(1,1.045)" font-size="14" text-anchor="start" fill="#000" >3</text>
<text transform="translate(671.4,1273.7) scale(1,1.045)" font-size="23" text-anchor="end" fill="#000" >10</text>
<text transform="translate(671.6,1263.5) scale(1,1.045)" font-size="14" text-anchor="start" fill="#000" >4</text>
<text transform="translate(719.4,1273.7) scale(1,1.045)" font-size="23" text-anchor="end" fill="#000" >10</text>
<text transform="translate(719.6,1263.5) scale(1,1.045)" font-size="14" text-anchor="start" fill="#000" >5</text>
<text transform="translate(181,1319) scale(1,1.045)" font-size="33" text-anchor="start" fill="#E8643E" >VK2/E6E7</text>
<text transform="translate(542.5,1319) scale(1,1.045)" font-size="33" text-anchor="start" fill="#E8643E" >End1/E6E7</text>
<rect x="119.3" y="1668.7" width="44.2" height="67.5" fill="#BC6223" />
<line x1="141.4" y1="1664.6" x2="141.4" y2="1669.7" stroke="#BC6223" stroke-width="2.2"/>
<line x1="130.4" y1="1664.6" x2="152.4" y2="1664.6" stroke="#BC6223" stroke-width="2.7"/>
<rect x="185.2" y="1616.6" width="44.2" height="119.6" fill="#BC6223" />
<line x1="207.3" y1="1604.5" x2="207.3" y2="1617.6" stroke="#BC6223" stroke-width="2.2"/>
<line x1="196.3" y1="1604.5" x2="218.3" y2="1604.5" stroke="#BC6223" stroke-width="2.7"/>
<rect x="251.1" y="1510.2" width="44.2" height="226" fill="#BC6223" />
<line x1="273.2" y1="1497.5" x2="273.2" y2="1511.2" stroke="#BC6223" stroke-width="2.2"/>
<line x1="262.2" y1="1497.5" x2="284.2" y2="1497.5" stroke="#BC6223" stroke-width="2.7"/>
<rect x="317.1" y="1486.9" width="44.2" height="249.3" fill="#BC6223" />
<line x1="339.2" y1="1469.6" x2="339.2" y2="1487.9" stroke="#BC6223" stroke-width="2.2"/>
<line x1="328.2" y1="1469.6" x2="350.2" y2="1469.6" stroke="#BC6223" stroke-width="2.7"/>
<line x1="97.2" y1="1417.4" x2="97.2" y2="1737.7" stroke="#000" stroke-width="3"/>
<line x1="87.2" y1="1736.2" x2="384.4" y2="1736.2" stroke="#000" stroke-width="3"/>
<line x1="87.2" y1="1736.2" x2="97.2" y2="1736.2" stroke="#000" stroke-width="3"/>
<text transform="translate(82.7,1747.8) scale(1,1.045)" font-size="33" text-anchor="end" fill="#000" >0</text>
<line x1="87.2" y1="1656.8" x2="97.2" y2="1656.8" stroke="#000" stroke-width="3"/>
<text transform="translate(82.7,1668.4) scale(1,1.045)" font-size="33" text-anchor="end" fill="#000" >10</text>
<line x1="87.2" y1="1577.5" x2="97.2" y2="1577.5" stroke="#000" stroke-width="3"/>
<text transform="translate(82.7,1589) scale(1,1.045)" font-size="33" text-anchor="end" fill="#000" >20</text>
<line x1="87.2" y1="1498.1" x2="97.2" y2="1498.1" stroke="#000" stroke-width="3"/>
<text transform="translate(82.7,1509.7) scale(1,1.045)" font-size="33" text-anchor="end" fill="#000" >30</text>
<line x1="87.2" y1="1418.7" x2="97.2" y2="1418.7" stroke="#000" stroke-width="3"/>
<text transform="translate(82.7,1430.3) scale(1,1.045)" font-size="33" text-anchor="end" fill="#000" >40</text>
<line x1="141.4" y1="1736.2" x2="141.4" y2="1746.7" stroke="#000" stroke-width="3"/>
<line x1="207.3" y1="1736.2" x2="207.3" y2="1746.7" stroke="#000" stroke-width="3"/>
<line x1="273.2" y1="1736.2" x2="273.2" y2="1746.7" stroke="#000" stroke-width="3"/>
<line x1="339.2" y1="1736.2" x2="339.2" y2="1746.7" stroke="#000" stroke-width="3"/>
<text transform="translate(209.5,1610) scale(1,1.045)" font-size="34" text-anchor="middle" fill="#000" letter-spacing="4.6" stroke="#000" stroke-width="0.6">**</text>
<text transform="translate(275.4,1501.5) scale(1,1.045)" font-size="34" text-anchor="middle" fill="#000" letter-spacing="4.6" stroke="#000" stroke-width="0.6">***</text>
<text transform="translate(341.4,1474.5) scale(1,1.045)" font-size="34" text-anchor="middle" fill="#000" letter-spacing="4.6" stroke="#000" stroke-width="0.6">***</text>
<text transform="translate(26.1,1579.6) rotate(-90)" font-size="33" text-anchor="middle" fill="#000" >Apoptosis rate (%)</text>
<text transform="translate(141.4,1782.5) scale(1,1.045)" font-size="33" text-anchor="middle" fill="#000" >0</text>
<text transform="translate(207.3,1782.5) scale(1,1.045)" font-size="33" text-anchor="middle" fill="#000" >1.5</text>
<text transform="translate(273.2,1782.5) scale(1,1.045)" font-size="33" text-anchor="middle" fill="#000" >3</text>
<text transform="translate(339.2,1782.5) scale(1,1.045)" font-size="33" text-anchor="middle" fill="#000" >6</text>
<line x1="117.7" y1="1794" x2="360.2" y2="1794" stroke="#000" stroke-width="2.5"/>
<text transform="translate(242.1,1832.7) scale(1,1.045)" font-size="34" text-anchor="middle" fill="#000" >Nimbolide (μM)</text>
<rect x="531.8" y="1668.6" width="44.2" height="67.6" fill="#0B5324" />
<line x1="553.9" y1="1664.5" x2="553.9" y2="1669.6" stroke="#0B5324" stroke-width="2.2"/>
<line x1="542.9" y1="1664.5" x2="564.9" y2="1664.5" stroke="#0B5324" stroke-width="2.7"/>
<rect x="597.5" y="1631.7" width="44.2" height="104.5" fill="#0B5324" />
<line x1="619.6" y1="1622.6" x2="619.6" y2="1632.7" stroke="#0B5324" stroke-width="2.2"/>
<line x1="608.6" y1="1622.6" x2="630.6" y2="1622.6" stroke="#0B5324" stroke-width="2.7"/>
<rect x="663.5" y="1548.4" width="44.2" height="187.8" fill="#0B5324" />
<line x1="685.6" y1="1532.2" x2="685.6" y2="1549.4" stroke="#0B5324" stroke-width="2.2"/>
<line x1="674.6" y1="1532.2" x2="696.6" y2="1532.2" stroke="#0B5324" stroke-width="2.7"/>
<rect x="729.7" y="1469" width="44.2" height="267.2" fill="#0B5324" />
<line x1="751.8" y1="1444" x2="751.8" y2="1470" stroke="#0B5324" stroke-width="2.2"/>
<line x1="740.8" y1="1444" x2="762.8" y2="1444" stroke="#0B5324" stroke-width="2.7"/>
<line x1="509.5" y1="1417.4" x2="509.5" y2="1737.7" stroke="#000" stroke-width="3"/>
<line x1="499.5" y1="1736.2" x2="796.8" y2="1736.2" stroke="#000" stroke-width="3"/>
<line x1="499.5" y1="1736.2" x2="509.5" y2="1736.2" stroke="#000" stroke-width="3"/>
<text transform="translate(492.6,1747.8) scale(1,1.045)" font-size="33" text-anchor="end" fill="#000" >0</text>
<line x1="499.5" y1="1656.8" x2="509.5" y2="1656.8" stroke="#000" stroke-width="3"/>
<text transform="translate(492.6,1668.4) scale(1,1.045)" font-size="33" text-anchor="end" fill="#000" >10</text>
<line x1="499.5" y1="1577.5" x2="509.5" y2="1577.5" stroke="#000" stroke-width="3"/>
<text transform="translate(492.6,1589) scale(1,1.045)" font-size="33" text-anchor="end" fill="#000" >20</text>
<line x1="499.5" y1="1498.1" x2="509.5" y2="1498.1" stroke="#000" stroke-width="3"/>
<text transform="translate(492.6,1509.7) scale(1,1.045)" font-size="33" text-anchor="end" fill="#000" >30</text>
<line x1="499.5" y1="1418.7" x2="509.5" y2="1418.7" stroke="#000" stroke-width="3"/>
<text transform="translate(492.6,1430.3) scale(1,1.045)" font-size="33" text-anchor="end" fill="#000" >40</text>
<line x1="553.9" y1="1736.2" x2="553.9" y2="1746.7" stroke="#000" stroke-width="3"/>
<line x1="619.6" y1="1736.2" x2="619.6" y2="1746.7" stroke="#000" stroke-width="3"/>
<line x1="685.6" y1="1736.2" x2="685.6" y2="1746.7" stroke="#000" stroke-width="3"/>
<line x1="751.8" y1="1736.2" x2="751.8" y2="1746.7" stroke="#000" stroke-width="3"/>
<text transform="translate(621.8,1628.5) scale(1,1.045)" font-size="34" text-anchor="middle" fill="#000" letter-spacing="4.6" stroke="#000" stroke-width="0.6">*</text>
<text transform="translate(687.8,1537.5) scale(1,1.045)" font-size="34" text-anchor="middle" fill="#000" letter-spacing="4.6" stroke="#000" stroke-width="0.6">***</text>
<text transform="translate(754,1448.5) scale(1,1.045)" font-size="34" text-anchor="middle" fill="#000" letter-spacing="4.6" stroke="#000" stroke-width="0.6">***</text>
<text transform="translate(434,1582.5) rotate(-90)" font-size="33" text-anchor="middle" fill="#000" >Apoptosis rate (%)</text>
<text transform="translate(553.9,1782.5) scale(1,1.045)" font-size="33" text-anchor="middle" fill="#000" >0</text>
<text transform="translate(619.6,1782.5) scale(1,1.045)" font-size="33" text-anchor="middle" fill="#000" >1.5</text>
<text transform="translate(685.6,1782.5) scale(1,1.045)" font-size="33" text-anchor="middle" fill="#000" >3</text>
<text transform="translate(751.8,1782.5) scale(1,1.045)" font-size="33" text-anchor="middle" fill="#000" >6</text>
<line x1="528.8" y1="1794" x2="771" y2="1794" stroke="#000" stroke-width="2.5"/>
<text transform="translate(652,1832.7) scale(1,1.045)" font-size="34" text-anchor="middle" fill="#000" >Nimbolide (μM)</text>
<rect x="1152.2" y="869.2" width="44.2" height="11.8" fill="#BC6223" />
<line x1="1174.3" y1="867.4" x2="1174.3" y2="870.2" stroke="#BC6223" stroke-width="2.2"/>
<line x1="1163.3" y1="867.4" x2="1185.3" y2="867.4" stroke="#BC6223" stroke-width="2.7"/>
<rect x="1218" y="837.8" width="44.2" height="43.2" fill="#BC6223" />
<line x1="1240.1" y1="835.8" x2="1240.1" y2="838.8" stroke="#BC6223" stroke-width="2.2"/>
<line x1="1229.1" y1="835.8" x2="1251.1" y2="835.8" stroke="#BC6223" stroke-width="2.7"/>
<rect x="1283.3" y="734.8" width="44.2" height="146.2" fill="#BC6223" />
<line x1="1305.4" y1="728.5" x2="1305.4" y2="735.8" stroke="#BC6223" stroke-width="2.2"/>
<line x1="1294.4" y1="728.5" x2="1316.4" y2="728.5" stroke="#BC6223" stroke-width="2.7"/>
<rect x="1349.4" y="651.1" width="44.2" height="229.9" fill="#BC6223" />
<line x1="1371.5" y1="645.6" x2="1371.5" y2="652.1" stroke="#BC6223" stroke-width="2.2"/>
<line x1="1360.5" y1="645.6" x2="1382.5" y2="645.6" stroke="#BC6223" stroke-width="2.7"/>
<line x1="1130.4" y1="561.9" x2="1130.4" y2="882.5" stroke="#000" stroke-width="3"/>
<line x1="1120.4" y1="881" x2="1417.2" y2="881" stroke="#000" stroke-width="3"/>
<line x1="1120.4" y1="881" x2="1130.4" y2="881" stroke="#000" stroke-width="3"/>
<text transform="translate(1116.3,892.6) scale(1,1.045)" font-size="33" text-anchor="end" fill="#000" >0.0</text>
<line x1="1120.4" y1="801.5" x2="1130.4" y2="801.5" stroke="#000" stroke-width="3"/>
<text transform="translate(1116.3,813.1) scale(1,1.045)" font-size="33" text-anchor="end" fill="#000" >0.2</text>
<line x1="1120.4" y1="722.1" x2="1130.4" y2="722.1" stroke="#000" stroke-width="3"/>
<text transform="translate(1116.3,733.7) scale(1,1.045)" font-size="33" text-anchor="end" fill="#000" >0.4</text>
<line x1="1120.4" y1="642.7" x2="1130.4" y2="642.7" stroke="#000" stroke-width="3"/>
<text transform="translate(1116.3,654.3) scale(1,1.045)" font-size="33" text-anchor="end" fill="#000" >0.6</text>
<line x1="1120.4" y1="563.2" x2="1130.4" y2="563.2" stroke="#000" stroke-width="3"/>
<text transform="translate(1116.3,574.8) scale(1,1.045)" font-size="33" text-anchor="end" fill="#000" >0.8</text>
<line x1="1174.3" y1="881" x2="1174.3" y2="891.5" stroke="#000" stroke-width="3"/>
<line x1="1240.1" y1="881" x2="1240.1" y2="891.5" stroke="#000" stroke-width="3"/>
<line x1="1305.4" y1="881" x2="1305.4" y2="891.5" stroke="#000" stroke-width="3"/>
<line x1="1371.5" y1="881" x2="1371.5" y2="891.5" stroke="#000" stroke-width="3"/>
<text transform="translate(1242.3,841.5) scale(1,1.045)" font-size="34" text-anchor="middle" fill="#000" letter-spacing="4.6" stroke="#000" stroke-width="0.6">***</text>
<text transform="translate(1307.6,733.5) scale(1,1.045)" font-size="34" text-anchor="middle" fill="#000" letter-spacing="4.6" stroke="#000" stroke-width="0.6">***</text>
<text transform="translate(1373.7,651.8) scale(1,1.045)" font-size="34" text-anchor="middle" fill="#000" letter-spacing="4.6" stroke="#000" stroke-width="0.6">***</text>
<text transform="translate(996,724) rotate(-90)" font-size="33" text-anchor="middle" fill="#000" >Cleaved caspase-3</text>
<text transform="translate(1035.8,724.7) rotate(-90)" font-size="33" text-anchor="middle" fill="#000" >relative expression</text>
<rect x="1643.2" y="862.3" width="44.2" height="18.4" fill="#0B5324" />
<line x1="1665.3" y1="859.3" x2="1665.3" y2="863.3" stroke="#0B5324" stroke-width="2.2"/>
<line x1="1654.3" y1="859.3" x2="1676.3" y2="859.3" stroke="#0B5324" stroke-width="2.7"/>
<rect x="1708.7" y="785.5" width="44.2" height="95.2" fill="#0B5324" />
<line x1="1730.8" y1="774.2" x2="1730.8" y2="786.5" stroke="#0B5324" stroke-width="2.2"/>
<line x1="1719.8" y1="774.2" x2="1741.8" y2="774.2" stroke="#0B5324" stroke-width="2.7"/>
<rect x="1774.1" y="684.4" width="44.2" height="196.3" fill="#0B5324" />
<line x1="1796.2" y1="663.5" x2="1796.2" y2="685.4" stroke="#0B5324" stroke-width="2.2"/>
<line x1="1785.2" y1="663.5" x2="1807.2" y2="663.5" stroke="#0B5324" stroke-width="2.7"/>
<rect x="1840.3" y="648.9" width="44.2" height="231.8" fill="#0B5324" />
<line x1="1862.4" y1="622.4" x2="1862.4" y2="649.9" stroke="#0B5324" stroke-width="2.2"/>
<line x1="1851.4" y1="622.4" x2="1873.4" y2="622.4" stroke="#0B5324" stroke-width="2.7"/>
<line x1="1621.3" y1="562" x2="1621.3" y2="882.2" stroke="#000" stroke-width="3"/>
<line x1="1611.3" y1="880.7" x2="1907" y2="880.7" stroke="#000" stroke-width="3"/>
<line x1="1611.3" y1="880.7" x2="1621.3" y2="880.7" stroke="#000" stroke-width="3"/>
<text transform="translate(1605.3,892.3) scale(1,1.045)" font-size="33" text-anchor="end" fill="#000" >0.0</text>
<line x1="1611.3" y1="774.9" x2="1621.3" y2="774.9" stroke="#000" stroke-width="3"/>
<text transform="translate(1605.3,786.5) scale(1,1.045)" font-size="33" text-anchor="end" fill="#000" >0.5</text>
<line x1="1611.3" y1="669.1" x2="1621.3" y2="669.1" stroke="#000" stroke-width="3"/>
<text transform="translate(1605.3,680.7) scale(1,1.045)" font-size="33" text-anchor="end" fill="#000" >1.0</text>
<line x1="1611.3" y1="563.3" x2="1621.3" y2="563.3" stroke="#000" stroke-width="3"/>
<text transform="translate(1605.3,574.9) scale(1,1.045)" font-size="33" text-anchor="end" fill="#000" >1.5</text>
<line x1="1665.3" y1="880.7" x2="1665.3" y2="891.2" stroke="#000" stroke-width="3"/>
<line x1="1730.8" y1="880.7" x2="1730.8" y2="891.2" stroke="#000" stroke-width="3"/>
<line x1="1796.2" y1="880.7" x2="1796.2" y2="891.2" stroke="#000" stroke-width="3"/>
<line x1="1862.4" y1="880.7" x2="1862.4" y2="891.2" stroke="#000" stroke-width="3"/>
<text transform="translate(1733,779.2) scale(1,1.045)" font-size="34" text-anchor="middle" fill="#000" letter-spacing="4.6" stroke="#000" stroke-width="0.6">**</text>
<text transform="translate(1798.4,668.4) scale(1,1.045)" font-size="34" text-anchor="middle" fill="#000" letter-spacing="4.6" stroke="#000" stroke-width="0.6">***</text>
<text transform="translate(1864.6,626.9) scale(1,1.045)" font-size="34" text-anchor="middle" fill="#000" letter-spacing="4.6" stroke="#000" stroke-width="0.6">***</text>
<text transform="translate(1499.2,723.8) rotate(-90)" font-size="33" text-anchor="middle" fill="#000" >Cleaved caspase-3</text>
<text transform="translate(1538.5,723.8) rotate(-90)" font-size="33" text-anchor="middle" fill="#000" >relative expression</text>
<rect x="1152.2" y="1266.5" width="44.2" height="40.2" fill="#BC6223" />
<line x1="1174.3" y1="1258.3" x2="1174.3" y2="1267.5" stroke="#BC6223" stroke-width="2.2"/>
<line x1="1163.3" y1="1258.3" x2="1185.3" y2="1258.3" stroke="#BC6223" stroke-width="2.7"/>
<rect x="1218" y="1242.7" width="44.2" height="64" fill="#BC6223" />
<line x1="1240.1" y1="1233.4" x2="1240.1" y2="1243.7" stroke="#BC6223" stroke-width="2.2"/>
<line x1="1229.1" y1="1233.4" x2="1251.1" y2="1233.4" stroke="#BC6223" stroke-width="2.7"/>
<rect x="1283.3" y="1133.4" width="44.2" height="173.3" fill="#BC6223" />
<line x1="1305.4" y1="1112" x2="1305.4" y2="1134.4" stroke="#BC6223" stroke-width="2.2"/>
<line x1="1294.4" y1="1112" x2="1316.4" y2="1112" stroke="#BC6223" stroke-width="2.7"/>
<rect x="1349.4" y="1057.6" width="44.2" height="249.1" fill="#BC6223" />
<line x1="1371.5" y1="1042.2" x2="1371.5" y2="1058.6" stroke="#BC6223" stroke-width="2.2"/>
<line x1="1360.5" y1="1042.2" x2="1382.5" y2="1042.2" stroke="#BC6223" stroke-width="2.7"/>
<line x1="1130.4" y1="986.4" x2="1130.4" y2="1308.2" stroke="#000" stroke-width="3"/>
<line x1="1120.4" y1="1306.7" x2="1417.2" y2="1306.7" stroke="#000" stroke-width="3"/>
<line x1="1120.4" y1="1306.7" x2="1130.4" y2="1306.7" stroke="#000" stroke-width="3"/>
<text transform="translate(1116.3,1318.3) scale(1,1.045)" font-size="33" text-anchor="end" fill="#000" >0.0</text>
<line x1="1120.4" y1="1253.5" x2="1130.4" y2="1253.5" stroke="#000" stroke-width="3"/>
<text transform="translate(1116.3,1265.1) scale(1,1.045)" font-size="33" text-anchor="end" fill="#000" >0.2</text>
<line x1="1120.4" y1="1200.4" x2="1130.4" y2="1200.4" stroke="#000" stroke-width="3"/>
<text transform="translate(1116.3,1212) scale(1,1.045)" font-size="33" text-anchor="end" fill="#000" >0.4</text>
<line x1="1120.4" y1="1147.2" x2="1130.4" y2="1147.2" stroke="#000" stroke-width="3"/>
<text transform="translate(1116.3,1158.8) scale(1,1.045)" font-size="33" text-anchor="end" fill="#000" >0.6</text>
<line x1="1120.4" y1="1094" x2="1130.4" y2="1094" stroke="#000" stroke-width="3"/>
<text transform="translate(1116.3,1105.6) scale(1,1.045)" font-size="33" text-anchor="end" fill="#000" >0.8</text>
<line x1="1120.4" y1="1040.9" x2="1130.4" y2="1040.9" stroke="#000" stroke-width="3"/>
<text transform="translate(1116.3,1052.5) scale(1,1.045)" font-size="33" text-anchor="end" fill="#000" >1.0</text>
<line x1="1120.4" y1="987.7" x2="1130.4" y2="987.7" stroke="#000" stroke-width="3"/>
<text transform="translate(1116.3,999.3) scale(1,1.045)" font-size="33" text-anchor="end" fill="#000" >1.2</text>
<line x1="1174.3" y1="1306.7" x2="1174.3" y2="1317.2" stroke="#000" stroke-width="3"/>
<line x1="1240.1" y1="1306.7" x2="1240.1" y2="1317.2" stroke="#000" stroke-width="3"/>
<line x1="1305.4" y1="1306.7" x2="1305.4" y2="1317.2" stroke="#000" stroke-width="3"/>
<line x1="1371.5" y1="1306.7" x2="1371.5" y2="1317.2" stroke="#000" stroke-width="3"/>
<text transform="translate(1307.6,1118.3) scale(1,1.045)" font-size="34" text-anchor="middle" fill="#000" letter-spacing="4.6" stroke="#000" stroke-width="0.6">***</text>
<text transform="translate(1373.7,1048) scale(1,1.045)" font-size="34" text-anchor="middle" fill="#000" letter-spacing="4.6" stroke="#000" stroke-width="0.6">***</text>
<text transform="translate(994,1149.5) rotate(-90)" font-size="33" text-anchor="middle" fill="#000" >BAX</text>
<text transform="translate(1034.5,1149.7) rotate(-90)" font-size="33" text-anchor="middle" fill="#000" >relative expression</text>
<rect x="1643.2" y="1290.4" width="44.2" height="15.8" fill="#0B5324" />
<line x1="1665.3" y1="1287.3" x2="1665.3" y2="1291.4" stroke="#0B5324" stroke-width="2.2"/>
<line x1="1654.3" y1="1287.3" x2="1676.3" y2="1287.3" stroke="#0B5324" stroke-width="2.7"/>
<rect x="1708.7" y="1251.4" width="44.2" height="54.8" fill="#0B5324" />
<line x1="1730.8" y1="1242" x2="1730.8" y2="1252.4" stroke="#0B5324" stroke-width="2.2"/>
<line x1="1719.8" y1="1242" x2="1741.8" y2="1242" stroke="#0B5324" stroke-width="2.7"/>
<rect x="1774.1" y="1116.2" width="44.2" height="190" fill="#0B5324" />
<line x1="1796.2" y1="1103.1" x2="1796.2" y2="1117.2" stroke="#0B5324" stroke-width="2.2"/>
<line x1="1785.2" y1="1103.1" x2="1807.2" y2="1103.1" stroke="#0B5324" stroke-width="2.7"/>
<rect x="1840.3" y="1025.6" width="44.2" height="280.6" fill="#0B5324" />
<line x1="1862.4" y1="1010" x2="1862.4" y2="1026.6" stroke="#0B5324" stroke-width="2.2"/>
<line x1="1851.4" y1="1010" x2="1873.4" y2="1010" stroke="#0B5324" stroke-width="2.7"/>
<line x1="1621.3" y1="986.5" x2="1621.3" y2="1307.7" stroke="#000" stroke-width="3"/>
<line x1="1611.3" y1="1306.2" x2="1907" y2="1306.2" stroke="#000" stroke-width="3"/>
<line x1="1611.3" y1="1306.2" x2="1621.3" y2="1306.2" stroke="#000" stroke-width="3"/>
<text transform="translate(1605.3,1317.8) scale(1,1.045)" font-size="33" text-anchor="end" fill="#000" >0.0</text>
<line x1="1611.3" y1="1226.6" x2="1621.3" y2="1226.6" stroke="#000" stroke-width="3"/>
<text transform="translate(1605.3,1238.2) scale(1,1.045)" font-size="33" text-anchor="end" fill="#000" >0.2</text>
<line x1="1611.3" y1="1147" x2="1621.3" y2="1147" stroke="#000" stroke-width="3"/>
<text transform="translate(1605.3,1158.6) scale(1,1.045)" font-size="33" text-anchor="end" fill="#000" >0.4</text>
<line x1="1611.3" y1="1067.4" x2="1621.3" y2="1067.4" stroke="#000" stroke-width="3"/>
<text transform="translate(1605.3,1079) scale(1,1.045)" font-size="33" text-anchor="end" fill="#000" >0.6</text>
<line x1="1611.3" y1="987.8" x2="1621.3" y2="987.8" stroke="#000" stroke-width="3"/>
<text transform="translate(1605.3,999.4) scale(1,1.045)" font-size="33" text-anchor="end" fill="#000" >0.8</text>
<line x1="1665.3" y1="1306.2" x2="1665.3" y2="1316.7" stroke="#000" stroke-width="3"/>
<line x1="1730.8" y1="1306.2" x2="1730.8" y2="1316.7" stroke="#000" stroke-width="3"/>
<line x1="1796.2" y1="1306.2" x2="1796.2" y2="1316.7" stroke="#000" stroke-width="3"/>
<line x1="1862.4" y1="1306.2" x2="1862.4" y2="1316.7" stroke="#000" stroke-width="3"/>
<text transform="translate(1733,1247) scale(1,1.045)" font-size="34" text-anchor="middle" fill="#000" letter-spacing="4.6" stroke="#000" stroke-width="0.6">**</text>
<text transform="translate(1798.4,1107.3) scale(1,1.045)" font-size="34" text-anchor="middle" fill="#000" letter-spacing="4.6" stroke="#000" stroke-width="0.6">***</text>
<text transform="translate(1864.6,1015.4) scale(1,1.045)" font-size="34" text-anchor="middle" fill="#000" letter-spacing="4.6" stroke="#000" stroke-width="0.6">***</text>
<text transform="translate(1484.1,1149.5) rotate(-90)" font-size="33" text-anchor="middle" fill="#000" >BAX</text>
<text transform="translate(1523.7,1149.5) rotate(-90)" font-size="33" text-anchor="middle" fill="#000" >relative expression</text>
<rect x="1152.2" y="1476" width="44.2" height="259.4" fill="#BC6223" />
<line x1="1174.3" y1="1458.6" x2="1174.3" y2="1477" stroke="#BC6223" stroke-width="2.2"/>
<line x1="1163.3" y1="1458.6" x2="1185.3" y2="1458.6" stroke="#BC6223" stroke-width="2.7"/>
<rect x="1218" y="1520.7" width="44.2" height="214.7" fill="#BC6223" />
<line x1="1240.1" y1="1506.9" x2="1240.1" y2="1521.7" stroke="#BC6223" stroke-width="2.2"/>
<line x1="1229.1" y1="1506.9" x2="1251.1" y2="1506.9" stroke="#BC6223" stroke-width="2.7"/>
<rect x="1283.3" y="1606.6" width="44.2" height="128.8" fill="#BC6223" />
<line x1="1305.4" y1="1592.3" x2="1305.4" y2="1607.6" stroke="#BC6223" stroke-width="2.2"/>
<line x1="1294.4" y1="1592.3" x2="1316.4" y2="1592.3" stroke="#BC6223" stroke-width="2.7"/>
<rect x="1349.4" y="1653.8" width="44.2" height="81.6" fill="#BC6223" />
<line x1="1371.5" y1="1640" x2="1371.5" y2="1654.8" stroke="#BC6223" stroke-width="2.2"/>
<line x1="1360.5" y1="1640" x2="1382.5" y2="1640" stroke="#BC6223" stroke-width="2.7"/>
<line x1="1130.4" y1="1417.6" x2="1130.4" y2="1736.9" stroke="#000" stroke-width="3"/>
<line x1="1120.4" y1="1735.4" x2="1417.2" y2="1735.4" stroke="#000" stroke-width="3"/>
<line x1="1120.4" y1="1735.4" x2="1130.4" y2="1735.4" stroke="#000" stroke-width="3"/>
<text transform="translate(1116.3,1747) scale(1,1.045)" font-size="33" text-anchor="end" fill="#000" >0.0</text>
<line x1="1120.4" y1="1672.1" x2="1130.4" y2="1672.1" stroke="#000" stroke-width="3"/>
<text transform="translate(1116.3,1683.7) scale(1,1.045)" font-size="33" text-anchor="end" fill="#000" >0.2</text>
<line x1="1120.4" y1="1608.8" x2="1130.4" y2="1608.8" stroke="#000" stroke-width="3"/>
<text transform="translate(1116.3,1620.4) scale(1,1.045)" font-size="33" text-anchor="end" fill="#000" >0.4</text>
<line x1="1120.4" y1="1545.5" x2="1130.4" y2="1545.5" stroke="#000" stroke-width="3"/>
<text transform="translate(1116.3,1557.1) scale(1,1.045)" font-size="33" text-anchor="end" fill="#000" >0.6</text>
<line x1="1120.4" y1="1482.2" x2="1130.4" y2="1482.2" stroke="#000" stroke-width="3"/>
<text transform="translate(1116.3,1493.8) scale(1,1.045)" font-size="33" text-anchor="end" fill="#000" >0.8</text>
<line x1="1120.4" y1="1418.9" x2="1130.4" y2="1418.9" stroke="#000" stroke-width="3"/>
<text transform="translate(1116.3,1430.5) scale(1,1.045)" font-size="33" text-anchor="end" fill="#000" >1.0</text>
<line x1="1174.3" y1="1735.4" x2="1174.3" y2="1745.9" stroke="#000" stroke-width="3"/>
<line x1="1240.1" y1="1735.4" x2="1240.1" y2="1745.9" stroke="#000" stroke-width="3"/>
<line x1="1305.4" y1="1735.4" x2="1305.4" y2="1745.9" stroke="#000" stroke-width="3"/>
<line x1="1371.5" y1="1735.4" x2="1371.5" y2="1745.9" stroke="#000" stroke-width="3"/>
<text transform="translate(1242.3,1511.8) scale(1,1.045)" font-size="34" text-anchor="middle" fill="#000" letter-spacing="4.6" stroke="#000" stroke-width="0.6">*</text>
<text transform="translate(1307.6,1597.2) scale(1,1.045)" font-size="34" text-anchor="middle" fill="#000" letter-spacing="4.6" stroke="#000" stroke-width="0.6">***</text>
<text transform="translate(1373.7,1646.2) scale(1,1.045)" font-size="34" text-anchor="middle" fill="#000" letter-spacing="4.6" stroke="#000" stroke-width="0.6">***</text>
<text transform="translate(991.6,1578.5) rotate(-90)" font-size="33" text-anchor="middle" fill="#000" >BCL-2</text>
<text transform="translate(1031.8,1579.7) rotate(-90)" font-size="33" text-anchor="middle" fill="#000" >relative expression</text>
<text transform="translate(1174.3,1790.7) scale(1,1.045)" font-size="33" text-anchor="middle" fill="#000" >0</text>
<text transform="translate(1240.1,1790.7) scale(1,1.045)" font-size="33" text-anchor="middle" fill="#000" >1.5</text>
<text transform="translate(1305.4,1790.7) scale(1,1.045)" font-size="33" text-anchor="middle" fill="#000" >3</text>
<text transform="translate(1371.5,1790.7) scale(1,1.045)" font-size="33" text-anchor="middle" fill="#000" >6</text>
<line x1="1149.7" y1="1803.3" x2="1392" y2="1803.3" stroke="#000" stroke-width="2.5"/>
<text transform="translate(1272.8,1845) scale(1,1.045)" font-size="34" text-anchor="middle" fill="#000" >Nimbolide (μM)</text>
<rect x="1643.2" y="1479.4" width="44.2" height="256.8" fill="#0B5324" />
<line x1="1665.3" y1="1457.3" x2="1665.3" y2="1480.4" stroke="#0B5324" stroke-width="2.2"/>
<line x1="1654.3" y1="1457.3" x2="1676.3" y2="1457.3" stroke="#0B5324" stroke-width="2.7"/>
<rect x="1708.7" y="1555.4" width="44.2" height="180.8" fill="#0B5324" />
<line x1="1730.8" y1="1544.1" x2="1730.8" y2="1556.4" stroke="#0B5324" stroke-width="2.2"/>
<line x1="1719.8" y1="1544.1" x2="1741.8" y2="1544.1" stroke="#0B5324" stroke-width="2.7"/>
<rect x="1774.1" y="1648" width="44.2" height="88.2" fill="#0B5324" />
<line x1="1796.2" y1="1635.5" x2="1796.2" y2="1649" stroke="#0B5324" stroke-width="2.2"/>
<line x1="1785.2" y1="1635.5" x2="1807.2" y2="1635.5" stroke="#0B5324" stroke-width="2.7"/>
<rect x="1840.3" y="1686.3" width="44.2" height="49.9" fill="#0B5324" />
<line x1="1862.4" y1="1680.8" x2="1862.4" y2="1687.3" stroke="#0B5324" stroke-width="2.2"/>
<line x1="1851.4" y1="1680.8" x2="1873.4" y2="1680.8" stroke="#0B5324" stroke-width="2.7"/>
<line x1="1621.3" y1="1417.7" x2="1621.3" y2="1737.7" stroke="#000" stroke-width="3"/>
<line x1="1611.3" y1="1736.2" x2="1907" y2="1736.2" stroke="#000" stroke-width="3"/>
<line x1="1611.3" y1="1736.2" x2="1621.3" y2="1736.2" stroke="#000" stroke-width="3"/>
<text transform="translate(1605.3,1747.8) scale(1,1.045)" font-size="33" text-anchor="end" fill="#000" >0.0</text>
<line x1="1611.3" y1="1672.8" x2="1621.3" y2="1672.8" stroke="#000" stroke-width="3"/>
<text transform="translate(1605.3,1684.4) scale(1,1.045)" font-size="33" text-anchor="end" fill="#000" >0.2</text>
<line x1="1611.3" y1="1609.3" x2="1621.3" y2="1609.3" stroke="#000" stroke-width="3"/>
<text transform="translate(1605.3,1620.9) scale(1,1.045)" font-size="33" text-anchor="end" fill="#000" >0.4</text>
<line x1="1611.3" y1="1545.9" x2="1621.3" y2="1545.9" stroke="#000" stroke-width="3"/>
<text transform="translate(1605.3,1557.5) scale(1,1.045)" font-size="33" text-anchor="end" fill="#000" >0.6</text>
<line x1="1611.3" y1="1482.4" x2="1621.3" y2="1482.4" stroke="#000" stroke-width="3"/>
<text transform="translate(1605.3,1494) scale(1,1.045)" font-size="33" text-anchor="end" fill="#000" >0.8</text>
<line x1="1611.3" y1="1419" x2="1621.3" y2="1419" stroke="#000" stroke-width="3"/>
<text transform="translate(1605.3,1430.6) scale(1,1.045)" font-size="33" text-anchor="end" fill="#000" >1.0</text>
<line x1="1665.3" y1="1736.2" x2="1665.3" y2="1746.7" stroke="#000" stroke-width="3"/>
<line x1="1730.8" y1="1736.2" x2="1730.8" y2="1746.7" stroke="#000" stroke-width="3"/>
<line x1="1796.2" y1="1736.2" x2="1796.2" y2="1746.7" stroke="#000" stroke-width="3"/>
<line x1="1862.4" y1="1736.2" x2="1862.4" y2="1746.7" stroke="#000" stroke-width="3"/>
<text transform="translate(1733,1548.6) scale(1,1.045)" font-size="34" text-anchor="middle" fill="#000" letter-spacing="4.6" stroke="#000" stroke-width="0.6">***</text>
<text transform="translate(1798.4,1641.7) scale(1,1.045)" font-size="34" text-anchor="middle" fill="#000" letter-spacing="4.6" stroke="#000" stroke-width="0.6">***</text>
<text transform="translate(1864.6,1687) scale(1,1.045)" font-size="34" text-anchor="middle" fill="#000" letter-spacing="4.6" stroke="#000" stroke-width="0.6">***</text>
<text transform="translate(1482.9,1578.5) rotate(-90)" font-size="33" text-anchor="middle" fill="#000" >BCL-2</text>
<text transform="translate(1524.4,1579.7) rotate(-90)" font-size="33" text-anchor="middle" fill="#000" >relative expression</text>
<text transform="translate(1665.3,1782.7) scale(1,1.045)" font-size="33" text-anchor="middle" fill="#000" >0</text>
<text transform="translate(1730.8,1782.7) scale(1,1.045)" font-size="33" text-anchor="middle" fill="#000" >1.5</text>
<text transform="translate(1796.2,1782.7) scale(1,1.045)" font-size="33" text-anchor="middle" fill="#000" >3</text>
<text transform="translate(1862.4,1782.7) scale(1,1.045)" font-size="33" text-anchor="middle" fill="#000" >6</text>
<line x1="1644" y1="1794" x2="1885.6" y2="1794" stroke="#000" stroke-width="2.5"/>
<text transform="translate(1767.9,1833) scale(1,1.045)" font-size="34" text-anchor="middle" fill="#000" >Nimbolide (μM)</text>
<text transform="translate(919.5,25) scale(1,1.045)" font-size="33" text-anchor="start" fill="#000" >(B)</text>
<text transform="translate(1040.3,205) scale(1,1.045)" font-size="33" text-anchor="end" fill="#000" >Cleaved</text>
<text transform="translate(1040.3,237.6) scale(1,1.045)" font-size="33" text-anchor="end" fill="#000" >caspase-3</text>
<text transform="translate(1040.3,294.7) scale(1,1.045)" font-size="33" text-anchor="end" fill="#000" >BAX</text>
<text transform="translate(1040.3,368) scale(1,1.045)" font-size="33" text-anchor="end" fill="#000" >BCL-2</text>
<text transform="translate(1040.3,438.1) scale(1,1.045)" font-size="33" text-anchor="end" fill="#000" >β-actin</text>
<rect x="1092" y="360" width="74" height="8" fill="#000" fill-opacity="0.12" filter="url(#sb2)"/>
<rect x="1184" y="360" width="68" height="8" fill="#000" fill-opacity="0.12" filter="url(#sb2)"/>
<text transform="translate(1254.6,107.7) scale(1,1.045)" font-size="34" text-anchor="middle" fill="#000" >Nimbolide (μM)</text>
<line x1="1114.8" y1="122.2" x2="1407.9" y2="122.2" stroke="#000" stroke-width="2.5"/>
<text transform="translate(1123,164.7) scale(1,1.045)" font-size="33" text-anchor="middle" fill="#000" >0</text>
<text transform="translate(1214,164.7) scale(1,1.045)" font-size="33" text-anchor="middle" fill="#000" >1.5</text>
<text transform="translate(1302,164.7) scale(1,1.045)" font-size="33" text-anchor="middle" fill="#000" >3</text>
<text transform="translate(1391.7,164.7) scale(1,1.045)" font-size="33" text-anchor="middle" fill="#000" >6</text>
<rect x="1063.1" y="178.3" width="397.4" height="65.5" fill="#AAA7A4" />
<rect x="1063.1" y="250.4" width="397.4" height="65.5" fill="#E9E7E5" />
<rect x="1063.1" y="323.1" width="397.4" height="65.5" fill="#DAD8D5" />
<rect x="1063.1" y="395.4" width="397.4" height="65.5" fill="#DFDDDA" />
<path d="M1091 209.5 1092.3 207.2 1093.5 207 1094.8 207.1 1096.1 207.3 1097.4 207.4 1098.6 207.7 1099.9 207.9 1101.2 208 1102.4 208.2 1103.7 208.3 1105 208.4 1106.2 208.5 1107.5 208.6 1108.8 208.6 1110.1 208.6 1111.3 208.7 1112.6 208.7 1113.9 208.7 1115.1 208.7 1116.4 208.7 1117.7 208.7 1119 208.8 1120.2 208.8 1121.5 208.8 1122.8 208.8 1124 208.8 1125.3 208.8 1126.6 208.9 1127.9 208.9 1129.1 208.9 1130.4 208.9 1131.7 208.9 1132.9 208.9 1134.2 208.9 1135.5 208.9 1136.8 208.9 1138 208.9 1139.3 208.8 1140.6 208.7 1141.8 208.6 1143.1 208.4 1144.4 208.3 1145.6 208.1 1146.9 207.9 1148.2 207.8 1149.5 207.8 1150.7 207.9 1152 209.5 1152 209.5 1150.7 211.1 1149.5 211.2 1148.2 211.2 1146.9 211.1 1145.6 210.9 1144.4 210.7 1143.1 210.6 1141.8 210.4 1140.6 210.3 1139.3 210.2 1138 210.1 1136.8 210.1 1135.5 210.1 1134.2 210.1 1132.9 210.1 1131.7 210.1 1130.4 210.1 1129.1 210.1 1127.9 210.1 1126.6 210.1 1125.3 210.2 1124 210.2 1122.8 210.2 1121.5 210.2 1120.2 210.2 1119 210.2 1117.7 210.3 1116.4 210.3 1115.1 210.3 1113.9 210.3 1112.6 210.3 1111.3 210.3 1110.1 210.4 1108.8 210.4 1107.5 210.4 1106.2 210.5 1105 210.6 1103.7 210.7 1102.4 210.8 1101.2 211 1099.9 211.1 1098.6 211.3 1097.4 211.6 1096.1 211.7 1094.8 211.9 1093.5 212 1092.3 211.8 1091 209.5Z" fill="#0a0a0a" fill-opacity="0.18" filter="url(#bl)"/>
<path d="M1182.3 209.4 1183.6 206.4 1184.9 205.7 1186.3 205.7 1187.6 205.9 1188.9 206.2 1190.2 206.6 1191.5 207.1 1192.8 207.6 1194.2 208 1195.5 208.3 1196.8 208.6 1198.1 208.7 1199.4 208.9 1200.8 208.9 1202.1 208.9 1203.4 209 1204.7 208.9 1206 208.9 1207.4 208.9 1208.7 208.9 1210 208.9 1211.3 208.8 1212.6 208.8 1213.9 208.8 1215.3 208.8 1216.6 208.8 1217.9 208.7 1219.2 208.7 1220.5 208.7 1221.9 208.7 1223.2 208.6 1224.5 208.6 1225.8 208.5 1227.1 208.4 1228.5 208.3 1229.8 208.1 1231.1 207.8 1232.4 207.5 1233.7 207 1235 206.5 1236.4 206 1237.7 205.5 1239 205.1 1240.3 204.8 1241.6 204.7 1243 204.9 1244.3 205.7 1245.6 209.1 1245.6 209.1 1244.3 212.5 1243 213.3 1241.6 213.6 1240.3 213.5 1239 213.2 1237.7 212.9 1236.4 212.5 1235 212.1 1233.7 211.7 1232.4 211.4 1231.1 211.1 1229.8 210.9 1228.5 210.7 1227.1 210.6 1225.8 210.6 1224.5 210.5 1223.2 210.5 1221.9 210.5 1220.5 210.5 1219.2 210.4 1217.9 210.4 1216.6 210.4 1215.3 210.4 1213.9 210.4 1212.6 210.4 1211.3 210.4 1210 210.4 1208.7 210.4 1207.4 210.4 1206 210.3 1204.7 210.3 1203.4 210.3 1202.1 210.4 1200.8 210.4 1199.4 210.4 1198.1 210.5 1196.8 210.7 1195.5 210.9 1194.2 211.2 1192.8 211.5 1191.5 211.9 1190.2 212.3 1188.9 212.7 1187.6 212.9 1186.3 213.1 1184.9 213.1 1183.6 212.4 1182.3 209.4Z" fill="#0a0a0a" fill-opacity="1.00" filter="url(#bl)"/>
<path d="M1270 207.3 1271.4 202.8 1272.9 201.4 1274.3 200.6 1275.7 200.3 1277.1 200.2 1278.6 200.3 1280 200.5 1281.4 200.8 1282.8 201.1 1284.3 201.5 1285.7 201.9 1287.1 202.3 1288.6 202.6 1290 203 1291.4 203.3 1292.8 203.7 1294.3 203.9 1295.7 204.2 1297.1 204.4 1298.5 204.5 1300 204.7 1301.4 204.8 1302.8 204.9 1304.2 205 1305.7 205.1 1307.1 205.1 1308.5 205.1 1310 205.1 1311.4 205.1 1312.8 205.1 1314.2 205 1315.7 204.9 1317.1 204.8 1318.5 204.6 1319.9 204.4 1321.4 204.2 1322.8 203.9 1324.2 203.6 1325.7 203.4 1327.1 203.2 1328.5 203 1329.9 202.8 1331.4 202.7 1332.8 202.7 1334.2 202.9 1335.6 203.5 1337.1 204.8 1338.5 208.8 1338.5 208.8 1337.1 212.8 1335.6 214 1334.2 214.6 1332.8 214.7 1331.4 214.7 1329.9 214.6 1328.5 214.4 1327.1 214.2 1325.7 214 1324.2 213.8 1322.8 213.6 1321.4 213.3 1319.9 213.1 1318.5 212.9 1317.1 212.7 1315.7 212.6 1314.2 212.5 1312.8 212.4 1311.4 212.3 1310 212.3 1308.5 212.2 1307.1 212.2 1305.7 212.2 1304.2 212.2 1302.8 212.2 1301.4 212.2 1300 212.3 1298.5 212.3 1297.1 212.4 1295.7 212.5 1294.3 212.6 1292.8 212.8 1291.4 212.9 1290 213.1 1288.6 213.3 1287.1 213.6 1285.7 213.8 1284.3 214 1282.8 214.2 1281.4 214.4 1280 214.6 1278.6 214.7 1277.1 214.7 1275.7 214.6 1274.3 214.2 1272.9 213.3 1271.4 211.8 1270 207.3Z" fill="#0a0a0a" fill-opacity="1.00" filter="url(#bl)"/>
<path d="M1361 207.6 1362.5 203 1364.1 201.6 1365.6 200.8 1367.2 200.6 1368.7 200.6 1370.3 200.7 1371.8 200.8 1373.4 200.9 1374.9 201 1376.5 201.1 1378 201.2 1379.6 201.4 1381.1 201.5 1382.7 201.6 1384.2 201.8 1385.8 201.9 1387.3 202 1388.9 202.2 1390.4 202.3 1392 202.4 1393.5 202.5 1395.1 202.5 1396.6 202.6 1398.2 202.7 1399.7 202.7 1401.2 202.7 1402.8 202.7 1404.3 202.8 1405.9 202.7 1407.4 202.7 1409 202.7 1410.5 202.7 1412.1 202.6 1413.6 202.6 1415.2 202.5 1416.7 202.5 1418.3 202.4 1419.8 202.4 1421.4 202.3 1422.9 202.3 1424.5 202.3 1426 202.3 1427.6 202.3 1429.1 202.3 1430.7 202.5 1432.2 203.1 1433.8 204.5 1435.3 208.8 1435.3 208.8 1433.8 213.2 1432.2 214.5 1430.7 215 1429.1 215.2 1427.6 215.2 1426 215.1 1424.5 215.1 1422.9 215.1 1421.4 215.1 1419.8 215.1 1418.3 215.1 1416.7 215.2 1415.2 215.2 1413.6 215.2 1412.1 215.2 1410.5 215.2 1409 215.2 1407.4 215.2 1405.9 215.2 1404.3 215.2 1402.8 215.2 1401.2 215.2 1399.7 215.2 1398.2 215.1 1396.6 215.1 1395.1 215.1 1393.5 215.1 1392 215.1 1390.4 215.1 1388.9 215 1387.3 215 1385.8 215 1384.2 215 1382.7 214.9 1381.1 214.9 1379.6 214.9 1378 214.9 1376.5 214.8 1374.9 214.8 1373.4 214.8 1371.8 214.8 1370.3 214.8 1368.7 214.8 1367.2 214.7 1365.6 214.4 1364.1 213.7 1362.5 212.2 1361 207.6Z" fill="#0a0a0a" fill-opacity="1.00" filter="url(#bl)"/>
<path d="M1089.2 280.6 1090.7 277.3 1092.1 276.7 1093.6 276.7 1095.1 276.8 1096.6 277 1098 277.3 1099.5 277.5 1101 277.8 1102.4 278 1103.9 278.2 1105.4 278.3 1106.8 278.5 1108.3 278.5 1109.8 278.6 1111.3 278.7 1112.7 278.7 1114.2 278.8 1115.7 278.8 1117.1 278.8 1118.6 278.9 1120.1 278.9 1121.6 278.9 1123 279 1124.5 279 1126 279 1127.4 279.1 1128.9 279.1 1130.4 279.1 1131.9 279.2 1133.3 279.2 1134.8 279.2 1136.3 279.3 1137.7 279.3 1139.2 279.3 1140.7 279.3 1142.2 279.3 1143.6 279.3 1145.1 279.2 1146.6 279.1 1148 278.9 1149.5 278.8 1151 278.6 1152.4 278.4 1153.9 278.3 1155.4 278.2 1156.9 278.1 1158.3 278.5 1159.8 281.4 1159.8 281.4 1158.3 284.3 1156.9 284.6 1155.4 284.5 1153.9 284.3 1152.4 283.9 1151 283.6 1149.5 283.2 1148 282.8 1146.6 282.5 1145.1 282.3 1143.6 282.1 1142.2 282 1140.7 281.9 1139.2 281.9 1137.7 281.8 1136.3 281.8 1134.8 281.8 1133.3 281.8 1131.9 281.8 1130.4 281.8 1128.9 281.8 1127.4 281.8 1126 281.8 1124.5 281.8 1123 281.8 1121.6 281.8 1120.1 281.8 1118.6 281.8 1117.1 281.8 1115.7 281.8 1114.2 281.8 1112.7 281.8 1111.3 281.8 1109.8 281.9 1108.3 281.9 1106.8 282.1 1105.4 282.2 1103.9 282.4 1102.4 282.7 1101 283 1099.5 283.4 1098 283.8 1096.6 284.1 1095.1 284.4 1093.6 284.6 1092.1 284.6 1090.7 283.9 1089.2 280.6Z" fill="#0a0a0a" fill-opacity="1.00" filter="url(#bl)"/>
<path d="M1178.6 282.1 1180.1 278.4 1181.5 277.4 1183 277.2 1184.4 277.2 1185.9 277.2 1187.4 277.3 1188.8 277.3 1190.3 277.4 1191.8 277.4 1193.2 277.5 1194.7 277.5 1196.1 277.6 1197.6 277.6 1199.1 277.7 1200.5 277.7 1202 277.8 1203.5 277.8 1204.9 277.9 1206.4 277.9 1207.8 278 1209.3 278 1210.8 278.1 1212.2 278.1 1213.7 278.1 1215.2 278.1 1216.6 278.1 1218.1 278.2 1219.5 278.2 1221 278.2 1222.5 278.2 1223.9 278.2 1225.4 278.2 1226.9 278.2 1228.3 278.2 1229.8 278.2 1231.2 278.1 1232.7 278.1 1234.2 278.1 1235.6 278.1 1237.1 278.1 1238.6 278.1 1240 278.1 1241.5 278.1 1243 278.1 1244.4 278.1 1245.9 278.2 1247.3 279 1248.8 282.5 1248.8 282.5 1247.3 285.9 1245.9 286.6 1244.4 286.7 1243 286.7 1241.5 286.7 1240 286.7 1238.6 286.7 1237.1 286.7 1235.6 286.6 1234.2 286.6 1232.7 286.6 1231.2 286.5 1229.8 286.5 1228.3 286.5 1226.9 286.4 1225.4 286.4 1223.9 286.4 1222.5 286.3 1221 286.3 1219.5 286.3 1218.1 286.3 1216.6 286.3 1215.2 286.3 1213.7 286.3 1212.2 286.3 1210.8 286.4 1209.3 286.4 1207.8 286.4 1206.4 286.5 1204.9 286.5 1203.5 286.5 1202 286.6 1200.5 286.6 1199.1 286.7 1197.6 286.7 1196.1 286.8 1194.7 286.9 1193.2 286.9 1191.8 287 1190.3 287 1188.8 287.1 1187.4 287.1 1185.9 287.1 1184.4 287.2 1183 287.2 1181.5 286.9 1180.1 285.9 1178.6 282.1Z" fill="#0a0a0a" fill-opacity="1.00" filter="url(#bl)"/>
<path d="M1265.2 284.8 1266.7 280.7 1268.3 279.5 1269.8 279.1 1271.4 279 1272.9 279 1274.5 278.9 1276 278.9 1277.6 278.9 1279.1 278.8 1280.7 278.8 1282.2 278.7 1283.8 278.7 1285.3 278.7 1286.9 278.6 1288.4 278.6 1290 278.5 1291.5 278.5 1293.1 278.4 1294.6 278.4 1296.2 278.4 1297.7 278.3 1299.3 278.3 1300.8 278.2 1302.3 278.2 1303.9 278.1 1305.4 278.1 1307 278.1 1308.5 278 1310.1 278 1311.6 277.9 1313.2 277.9 1314.7 277.8 1316.3 277.8 1317.8 277.7 1319.4 277.7 1320.9 277.6 1322.5 277.6 1324 277.5 1325.6 277.5 1327.1 277.5 1328.7 277.4 1330.2 277.4 1331.8 277.3 1333.3 277.3 1334.9 277.5 1336.4 278.1 1338 279.5 1339.5 284 1339.5 284 1338 288.5 1336.4 289.9 1334.9 290.6 1333.3 290.9 1331.8 290.8 1330.2 290.8 1328.7 290.8 1327.1 290.7 1325.6 290.7 1324 290.6 1322.5 290.6 1320.9 290.5 1319.4 290.5 1317.8 290.4 1316.3 290.3 1314.7 290.3 1313.2 290.2 1311.6 290.2 1310.1 290.1 1308.5 290.1 1307 290 1305.4 290 1303.9 290 1302.3 290 1300.8 290 1299.3 290 1297.7 290 1296.2 290 1294.6 290 1293.1 290 1291.5 290 1290 290.1 1288.4 290.1 1286.9 290.1 1285.3 290.2 1283.8 290.2 1282.2 290.3 1280.7 290.3 1279.1 290.4 1277.6 290.4 1276 290.4 1274.5 290.4 1272.9 290.4 1271.4 290.4 1269.8 290.4 1268.3 290 1266.7 288.9 1265.2 284.8Z" fill="#0a0a0a" fill-opacity="1.00" filter="url(#bl)"/>
<path d="M1350.5 284.3 1352.2 279.8 1354 278.5 1355.7 278 1357.5 277.9 1359.2 277.8 1361 277.7 1362.7 277.6 1364.5 277.4 1366.2 277.3 1368 277.1 1369.7 277 1371.5 276.8 1373.2 276.6 1374.9 276.5 1376.7 276.3 1378.4 276.2 1380.2 276 1381.9 275.9 1383.7 275.8 1385.4 275.6 1387.2 275.5 1388.9 275.4 1390.7 275.3 1392.4 275.2 1394.1 275.2 1395.9 275.1 1397.6 275 1399.4 275 1401.1 275 1402.9 274.9 1404.6 274.9 1406.4 274.9 1408.1 274.9 1409.9 274.9 1411.6 274.9 1413.3 274.9 1415.1 274.9 1416.8 274.9 1418.6 274.9 1420.3 274.9 1422.1 274.9 1423.8 274.9 1425.6 274.8 1427.3 274.8 1429.1 274.7 1430.8 274.8 1432.6 275.8 1434.3 279.8 1434.3 279.8 1432.6 284 1430.8 285.1 1429.1 285.4 1427.3 285.6 1425.6 285.7 1423.8 285.9 1422.1 286.2 1420.3 286.4 1418.6 286.7 1416.8 287 1415.1 287.3 1413.3 287.6 1411.6 287.9 1409.9 288.2 1408.1 288.5 1406.4 288.8 1404.6 289.1 1402.9 289.3 1401.1 289.5 1399.4 289.8 1397.6 289.9 1395.9 290.1 1394.1 290.2 1392.4 290.4 1390.7 290.5 1388.9 290.5 1387.2 290.6 1385.4 290.6 1383.7 290.6 1381.9 290.6 1380.2 290.5 1378.4 290.5 1376.7 290.4 1374.9 290.3 1373.2 290.3 1371.5 290.2 1369.7 290.1 1368 290 1366.2 289.9 1364.5 289.9 1362.7 289.9 1361 289.9 1359.2 289.9 1357.5 290 1355.7 290.1 1354 289.8 1352.2 288.7 1350.5 284.3Z" fill="#0a0a0a" fill-opacity="1.00" filter="url(#bl)"/>
<path d="M1090.2 356.5 1091.8 351.3 1093.4 349.5 1094.9 348.5 1096.5 347.9 1098.1 347.7 1099.7 347.8 1101.3 347.8 1102.8 347.8 1104.4 347.9 1106 347.9 1107.6 347.9 1109.2 347.9 1110.8 347.9 1112.3 347.9 1113.9 347.9 1115.5 347.9 1117.1 348 1118.7 348 1120.2 348 1121.8 348 1123.4 348 1125 348.1 1126.6 348.1 1128.2 348.1 1129.7 348.2 1131.3 348.2 1132.9 348.3 1134.5 348.3 1136.1 348.4 1137.6 348.5 1139.2 348.5 1140.8 348.6 1142.4 348.7 1144 348.8 1145.5 348.8 1147.1 348.9 1148.7 349 1150.3 349.1 1151.9 349.1 1153.4 349.2 1155 349.3 1156.6 349.3 1158.2 349.4 1159.8 349.4 1161.4 349.8 1162.9 350.6 1164.5 352.1 1166.1 356.8 1166.1 356.8 1164.5 361.4 1162.9 362.9 1161.4 363.7 1159.8 364 1158.2 364.1 1156.6 364.1 1155 364.1 1153.4 364.2 1151.9 364.2 1150.3 364.3 1148.7 364.3 1147.1 364.4 1145.5 364.4 1144 364.4 1142.4 364.5 1140.8 364.5 1139.2 364.6 1137.6 364.6 1136.1 364.7 1134.5 364.7 1132.9 364.7 1131.3 364.8 1129.7 364.8 1128.2 364.8 1126.6 364.9 1125 364.9 1123.4 364.9 1121.8 365 1120.2 365 1118.7 365 1117.1 365 1115.5 365.1 1113.9 365.1 1112.3 365.1 1110.8 365.1 1109.2 365.1 1107.6 365.2 1106 365.2 1104.4 365.2 1102.8 365.2 1101.3 365.3 1099.7 365.3 1098.1 365.3 1096.5 365.1 1094.9 364.5 1093.4 363.5 1091.8 361.7 1090.2 356.5Z" fill="#0a0a0a" fill-opacity="1.00" filter="url(#bl)"/>
<path d="M1182.8 354.6 1184.3 350 1185.7 348.5 1187.2 347.6 1188.7 347.2 1190.2 347.1 1191.6 347.1 1193.1 347.2 1194.6 347.3 1196.1 347.4 1197.5 347.5 1199 347.6 1200.5 347.8 1201.9 347.9 1203.4 348.1 1204.9 348.2 1206.4 348.4 1207.8 348.5 1209.3 348.6 1210.8 348.7 1212.3 348.8 1213.7 348.9 1215.2 349 1216.7 349 1218.2 349.1 1219.6 349.1 1221.1 349.1 1222.6 349 1224 349 1225.5 348.9 1227 348.9 1228.5 348.8 1229.9 348.7 1231.4 348.6 1232.9 348.5 1234.4 348.4 1235.8 348.3 1237.3 348.2 1238.8 348.1 1240.2 348 1241.7 347.9 1243.2 347.9 1244.7 347.9 1246.1 347.9 1247.6 348 1249.1 348.5 1250.6 349.4 1252 351 1253.5 355.7 1253.5 355.7 1252 360.4 1250.6 361.9 1249.1 362.8 1247.6 363.2 1246.1 363.3 1244.7 363.3 1243.2 363.2 1241.7 363.2 1240.2 363.1 1238.8 363 1237.3 363 1235.8 362.9 1234.4 362.8 1232.9 362.7 1231.4 362.6 1229.9 362.5 1228.5 362.4 1227 362.4 1225.5 362.3 1224 362.2 1222.6 362.2 1221.1 362.1 1219.6 362.1 1218.2 362.1 1216.7 362.1 1215.2 362 1213.7 362 1212.3 362.1 1210.8 362.1 1209.3 362.1 1207.8 362.1 1206.4 362.2 1204.9 362.2 1203.4 362.2 1201.9 362.3 1200.5 362.3 1199 362.4 1197.5 362.4 1196.1 362.4 1194.6 362.4 1193.1 362.4 1191.6 362.4 1190.2 362.4 1188.7 362.3 1187.2 361.8 1185.7 360.9 1184.3 359.4 1182.8 354.6Z" fill="#0a0a0a" fill-opacity="1.00" filter="url(#bl)"/>
<path d="M1272 354.7 1273.4 350.7 1274.9 349.6 1276.3 349.1 1277.7 349 1279.1 349.1 1280.6 349.2 1282 349.3 1283.4 349.4 1284.9 349.4 1286.3 349.5 1287.7 349.5 1289.2 349.6 1290.6 349.6 1292 349.6 1293.4 349.7 1294.9 349.7 1296.3 349.8 1297.7 349.8 1299.2 349.9 1300.6 350 1302 350 1303.4 350.1 1304.9 350.2 1306.3 350.3 1307.7 350.4 1309.2 350.5 1310.6 350.6 1312 350.8 1313.4 350.9 1314.9 351.1 1316.3 351.2 1317.7 351.4 1319.2 351.5 1320.6 351.7 1322 351.9 1323.4 352.1 1324.9 352.2 1326.3 352.4 1327.7 352.6 1329.2 352.7 1330.6 352.9 1332 353.1 1333.5 353.2 1334.9 353.3 1336.3 353.5 1337.7 353.6 1339.2 354.3 1340.6 357.5 1340.6 357.5 1339.2 360.7 1337.7 361.3 1336.3 361.3 1334.9 361.2 1333.5 361.2 1332 361.2 1330.6 361.1 1329.2 361.1 1327.7 361 1326.3 361 1324.9 360.9 1323.4 360.8 1322 360.8 1320.6 360.7 1319.2 360.6 1317.7 360.6 1316.3 360.5 1314.9 360.5 1313.4 360.5 1312 360.4 1310.6 360.4 1309.2 360.4 1307.7 360.4 1306.3 360.4 1304.9 360.3 1303.4 360.4 1302 360.4 1300.6 360.4 1299.2 360.4 1297.7 360.4 1296.3 360.5 1294.9 360.5 1293.4 360.5 1292 360.6 1290.6 360.6 1289.2 360.7 1287.7 360.7 1286.3 360.7 1284.9 360.8 1283.4 360.8 1282 360.8 1280.6 360.8 1279.1 360.8 1277.7 360.8 1276.3 360.7 1274.9 360.1 1273.4 358.8 1272 354.7Z" fill="#0a0a0a" fill-opacity="1.00" filter="url(#bl)"/>
<path d="M1360 357.3 1361.6 353.7 1363.1 352.9 1364.7 352.8 1366.2 352.9 1367.8 352.9 1369.3 353 1370.9 353.1 1372.5 353.2 1374 353.4 1375.6 353.5 1377.1 353.7 1378.7 353.8 1380.3 354 1381.8 354.2 1383.4 354.3 1384.9 354.4 1386.5 354.6 1388 354.7 1389.6 354.8 1391.2 354.9 1392.7 354.9 1394.3 355 1395.8 355 1397.4 355.1 1399 355.1 1400.5 355.1 1402.1 355 1403.6 355 1405.2 354.9 1406.8 354.9 1408.3 354.8 1409.9 354.7 1411.4 354.6 1413 354.4 1414.5 354.3 1416.1 354.2 1417.7 354 1419.2 353.9 1420.8 353.8 1422.3 353.6 1423.9 353.5 1425.5 353.4 1427 353.4 1428.6 353.3 1430.1 353.3 1431.7 353.3 1433.2 353.8 1434.8 357 1434.8 357 1433.2 360.3 1431.7 360.8 1430.1 360.9 1428.6 360.9 1427 360.9 1425.5 360.8 1423.9 360.8 1422.3 360.8 1420.8 360.7 1419.2 360.7 1417.7 360.6 1416.1 360.6 1414.5 360.5 1413 360.5 1411.4 360.5 1409.9 360.4 1408.3 360.4 1406.8 360.4 1405.2 360.3 1403.6 360.3 1402.1 360.3 1400.5 360.3 1399 360.3 1397.4 360.4 1395.8 360.4 1394.3 360.4 1392.7 360.5 1391.2 360.5 1389.6 360.6 1388 360.6 1386.5 360.7 1384.9 360.8 1383.4 360.9 1381.8 360.9 1380.3 361 1378.7 361.1 1377.1 361.2 1375.6 361.3 1374 361.4 1372.5 361.5 1370.9 361.5 1369.3 361.6 1367.8 361.7 1366.2 361.7 1364.7 361.7 1363.1 361.7 1361.6 360.9 1360 357.3Z" fill="#0a0a0a" fill-opacity="1.00" filter="url(#bl)"/>
<path d="M1090.7 426.1 1092.6 420.6 1094.4 419 1096.3 418.1 1098.1 417.8 1100 417.8 1101.8 417.9 1103.7 418 1105.5 418.1 1107.4 418.1 1109.2 418.2 1111.1 418.3 1113 418.3 1114.8 418.4 1116.7 418.4 1118.5 418.5 1120.4 418.5 1122.2 418.6 1124.1 418.7 1125.9 418.7 1127.8 418.8 1129.6 418.9 1131.5 418.9 1133.3 419 1135.2 419.1 1137.1 419.2 1138.9 419.3 1140.8 419.4 1142.6 419.5 1144.5 419.6 1146.3 419.7 1148.2 419.8 1150 419.9 1151.9 420 1153.7 420.2 1155.6 420.3 1157.5 420.4 1159.3 420.5 1161.2 420.6 1163 420.7 1164.9 420.9 1166.7 421 1168.6 421.1 1170.4 421.2 1172.3 421.2 1174.1 421.5 1176 422.3 1177.8 424 1179.7 429.2 1179.7 429.2 1177.8 434.4 1176 435.9 1174.1 436.6 1172.3 436.7 1170.4 436.7 1168.6 436.7 1166.7 436.6 1164.9 436.6 1163 436.6 1161.2 436.6 1159.3 436.6 1157.5 436.5 1155.6 436.5 1153.7 436.5 1151.9 436.5 1150 436.5 1148.2 436.5 1146.3 436.5 1144.5 436.4 1142.6 436.4 1140.8 436.4 1138.9 436.4 1137.1 436.3 1135.2 436.3 1133.3 436.2 1131.5 436.2 1129.6 436.1 1127.8 436.1 1125.9 436 1124.1 435.9 1122.2 435.9 1120.4 435.8 1118.5 435.7 1116.7 435.6 1114.8 435.6 1113 435.5 1111.1 435.4 1109.2 435.3 1107.4 435.3 1105.5 435.2 1103.7 435.1 1101.8 435.1 1100 435 1098.1 434.9 1096.3 434.5 1094.4 433.5 1092.6 431.7 1090.7 426.1Z" fill="#0a0a0a" fill-opacity="1.00" filter="url(#bl)"/>
<path d="M1182.8 428.5 1184.5 423.8 1186.1 422.3 1187.8 421.5 1189.4 421.3 1191.1 421.2 1192.8 421.1 1194.4 421.1 1196.1 421 1197.7 420.9 1199.4 420.9 1201 420.8 1202.7 420.8 1204.4 420.7 1206 420.6 1207.7 420.6 1209.3 420.5 1211 420.4 1212.7 420.4 1214.3 420.3 1216 420.2 1217.6 420.2 1219.3 420.1 1220.9 420 1222.6 419.9 1224.3 419.9 1225.9 419.8 1227.6 419.7 1229.2 419.6 1230.9 419.5 1232.5 419.4 1234.2 419.3 1235.9 419.3 1237.5 419.2 1239.2 419.1 1240.8 419 1242.5 418.9 1244.2 418.8 1245.8 418.7 1247.5 418.6 1249.1 418.5 1250.8 418.4 1252.5 418.4 1254.1 418.3 1255.8 418.4 1257.4 418.8 1259.1 419.7 1260.7 421.4 1262.4 426.6 1262.4 426.6 1260.7 432 1259.1 433.7 1257.4 434.7 1255.8 435.2 1254.1 435.4 1252.5 435.4 1250.8 435.5 1249.1 435.6 1247.5 435.7 1245.8 435.8 1244.2 436 1242.5 436.1 1240.8 436.3 1239.2 436.5 1237.5 436.7 1235.9 436.9 1234.2 437.1 1232.5 437.2 1230.9 437.4 1229.2 437.5 1227.6 437.6 1225.9 437.7 1224.3 437.7 1222.6 437.8 1220.9 437.8 1219.3 437.7 1217.6 437.7 1216 437.6 1214.3 437.5 1212.7 437.4 1211 437.2 1209.3 437.1 1207.7 436.9 1206 436.7 1204.4 436.5 1202.7 436.3 1201 436.2 1199.4 436 1197.7 435.8 1196.1 435.7 1194.4 435.6 1192.8 435.5 1191.1 435.4 1189.4 435.4 1187.8 435.2 1186.1 434.6 1184.5 433.2 1182.8 428.5Z" fill="#0a0a0a" fill-opacity="1.00" filter="url(#bl)"/>
<path d="M1266.3 427.4 1268 422.8 1269.7 421.4 1271.4 420.8 1273.1 420.7 1274.8 420.8 1276.5 420.8 1278.2 420.8 1279.9 420.9 1281.6 420.9 1283.3 421 1285 421 1286.7 421.1 1288.4 421.1 1290.1 421.1 1291.8 421.2 1293.5 421.2 1295.2 421.3 1296.9 421.3 1298.6 421.4 1300.3 421.4 1302 421.4 1303.7 421.5 1305.4 421.5 1307.1 421.5 1308.8 421.6 1310.5 421.6 1312.2 421.6 1313.9 421.7 1315.6 421.7 1317.3 421.7 1319 421.7 1320.7 421.7 1322.4 421.7 1324.1 421.8 1325.8 421.8 1327.5 421.8 1329.2 421.8 1330.9 421.8 1332.6 421.8 1334.3 421.9 1336 421.9 1337.7 421.9 1339.4 421.9 1341.1 422 1342.8 422.3 1344.5 423.2 1346.2 424.8 1347.9 429.8 1347.9 429.8 1346.2 434.7 1344.5 436.2 1342.8 437 1341.1 437.2 1339.4 437.2 1337.7 437.1 1336 437.1 1334.3 437.1 1332.6 437.2 1330.9 437.2 1329.2 437.2 1327.5 437.3 1325.8 437.4 1324.1 437.4 1322.4 437.5 1320.7 437.5 1319 437.6 1317.3 437.6 1315.6 437.7 1313.9 437.7 1312.2 437.7 1310.5 437.6 1308.8 437.6 1307.1 437.5 1305.4 437.5 1303.7 437.4 1302 437.3 1300.3 437.2 1298.6 437 1296.9 436.9 1295.2 436.7 1293.5 436.5 1291.8 436.3 1290.1 436.2 1288.4 436 1286.7 435.8 1285 435.6 1283.3 435.4 1281.6 435.2 1279.9 435 1278.2 434.9 1276.5 434.8 1274.8 434.7 1273.1 434.6 1271.4 434.4 1269.7 433.7 1268 432.2 1266.3 427.4Z" fill="#0a0a0a" fill-opacity="1.00" filter="url(#bl)"/>
<path d="M1349 428.8 1350.8 424 1352.5 422.5 1354.3 421.9 1356 421.7 1357.8 421.7 1359.5 421.6 1361.3 421.5 1363 421.3 1364.8 421.2 1366.5 421.1 1368.3 421 1370 420.9 1371.8 420.8 1373.6 420.6 1375.3 420.5 1377.1 420.4 1378.8 420.3 1380.6 420.2 1382.3 420.1 1384.1 420 1385.8 419.9 1387.6 419.8 1389.3 419.7 1391.1 419.6 1392.9 419.5 1394.6 419.4 1396.4 419.4 1398.1 419.3 1399.9 419.2 1401.6 419.2 1403.4 419.1 1405.1 419 1406.9 419 1408.6 418.9 1410.4 418.9 1412.2 418.8 1413.9 418.7 1415.7 418.7 1417.4 418.6 1419.2 418.6 1420.9 418.5 1422.7 418.4 1424.4 418.3 1426.2 418.3 1427.9 418.4 1429.7 419.1 1431.4 420.6 1433.2 425.6 1433.2 425.6 1431.4 430.7 1429.7 432.3 1427.9 433.2 1426.2 433.5 1424.4 433.5 1422.7 433.6 1420.9 433.7 1419.2 433.9 1417.4 434 1415.7 434.2 1413.9 434.4 1412.2 434.6 1410.4 434.8 1408.6 435 1406.9 435.2 1405.1 435.4 1403.4 435.5 1401.6 435.7 1399.9 435.9 1398.1 436 1396.4 436.1 1394.6 436.2 1392.9 436.3 1391.1 436.4 1389.3 436.4 1387.6 436.4 1385.8 436.4 1384.1 436.4 1382.3 436.4 1380.6 436.3 1378.8 436.2 1377.1 436.2 1375.3 436.1 1373.6 435.9 1371.8 435.8 1370 435.7 1368.3 435.6 1366.5 435.5 1364.8 435.4 1363 435.3 1361.3 435.3 1359.5 435.2 1357.8 435.2 1356 435.2 1354.3 435.2 1352.5 434.7 1350.8 433.4 1349 428.8Z" fill="#0a0a0a" fill-opacity="1.00" filter="url(#bl)"/>
<rect x="1636" y="284" width="62" height="10" fill="#000" fill-opacity="0.10" filter="url(#sb2)"/>
<rect x="1720" y="284" width="72" height="10" fill="#000" fill-opacity="0.10" filter="url(#sb2)"/>
<rect x="1809" y="284" width="75" height="10" fill="#000" fill-opacity="0.10" filter="url(#sb2)"/>
<text transform="translate(1697.9,104.1) scale(1,1.045)" font-size="34" text-anchor="middle" fill="#000" >Nimbolide (μM)</text>
<line x1="1558" y1="119" x2="1850.5" y2="119" stroke="#000" stroke-width="2.5"/>
<text transform="translate(1567.2,161.5) scale(1,1.045)" font-size="33" text-anchor="middle" fill="#000" >0</text>
<text transform="translate(1657,161.5) scale(1,1.045)" font-size="33" text-anchor="middle" fill="#000" >1.5</text>
<text transform="translate(1746.2,161.5) scale(1,1.045)" font-size="33" text-anchor="middle" fill="#000" >3</text>
<text transform="translate(1835.5,161.5) scale(1,1.045)" font-size="33" text-anchor="middle" fill="#000" >6</text>
<rect x="1512.9" y="177.8" width="398.1" height="65.5" fill="#DAD8D5" />
<rect x="1512.9" y="250.3" width="398.1" height="65.5" fill="#F3F2F1" />
<rect x="1512.9" y="322.8" width="398.1" height="65.5" fill="#D6D4D1" />
<rect x="1512.9" y="395.3" width="398.1" height="65.5" fill="#E1DFDC" />
<path d="M1540.3 210.9 1541.6 208.4 1543 208.2 1544.3 208.3 1545.7 208.5 1547 208.7 1548.4 209 1549.8 209.3 1551.1 209.5 1552.5 209.7 1553.8 209.8 1555.1 209.9 1556.5 210 1557.8 210 1559.2 210 1560.5 210 1561.9 209.9 1563.2 209.9 1564.6 209.9 1566 209.8 1567.3 209.8 1568.6 209.7 1570 209.7 1571.3 209.6 1572.7 209.6 1574 209.6 1575.4 209.5 1576.8 209.5 1578.1 209.4 1579.4 209.4 1580.8 209.3 1582.1 209.3 1583.5 209.2 1584.8 209.2 1586.2 209.1 1587.5 209 1588.9 208.9 1590.2 208.7 1591.6 208.5 1592.9 208.2 1594.3 207.9 1595.6 207.6 1597 207.2 1598.3 206.9 1599.7 206.6 1601 206.4 1602.4 206.3 1603.8 206.8 1605.1 209.7 1605.1 209.7 1603.8 212.6 1602.4 213.1 1601 213.1 1599.7 213 1598.3 212.9 1597 212.7 1595.6 212.5 1594.3 212.3 1592.9 212.1 1591.6 212 1590.2 211.9 1588.9 211.8 1587.5 211.8 1586.2 211.7 1584.8 211.7 1583.5 211.7 1582.1 211.7 1580.8 211.7 1579.4 211.7 1578.1 211.8 1576.8 211.8 1575.4 211.8 1574 211.8 1572.7 211.8 1571.3 211.8 1570 211.8 1568.6 211.8 1567.3 211.8 1566 211.9 1564.6 211.9 1563.2 211.9 1561.9 211.9 1560.5 211.9 1559.2 211.9 1557.8 212 1556.5 212 1555.1 212.1 1553.8 212.2 1552.5 212.3 1551.1 212.5 1549.8 212.7 1548.4 212.9 1547 213.1 1545.7 213.3 1544.3 213.5 1543 213.6 1541.6 213.4 1540.3 210.9Z" fill="#0a0a0a" fill-opacity="1.00" filter="url(#bl)"/>
<path d="M1630.8 208.9 1632.2 204.6 1633.5 203.3 1634.9 202.6 1636.3 202.3 1637.7 202.3 1639 202.5 1640.4 202.8 1641.8 203.2 1643.2 203.7 1644.5 204.2 1645.9 204.7 1647.3 205.2 1648.6 205.6 1650 206 1651.4 206.4 1652.8 206.7 1654.1 206.9 1655.5 207.1 1656.9 207.3 1658.3 207.4 1659.6 207.5 1661 207.6 1662.4 207.7 1663.8 207.8 1665.1 207.8 1666.5 207.9 1667.9 208 1669.2 208 1670.6 208 1672 208 1673.4 208 1674.7 208 1676.1 207.9 1677.5 207.7 1678.9 207.5 1680.2 207.3 1681.6 207 1683 206.6 1684.3 206.3 1685.7 205.9 1687.1 205.5 1688.5 205.2 1689.8 205 1691.2 204.9 1692.6 204.9 1694 205.3 1695.3 206.3 1696.7 209.9 1696.7 209.9 1695.3 213.5 1694 214.4 1692.6 214.8 1691.2 214.8 1689.8 214.8 1688.5 214.7 1687.1 214.6 1685.7 214.6 1684.3 214.5 1683 214.4 1681.6 214.3 1680.2 214.2 1678.9 214.2 1677.5 214.1 1676.1 214.1 1674.7 214.1 1673.4 214.1 1672 214.1 1670.6 214.1 1669.2 214.1 1667.9 214.1 1666.5 214.2 1665.1 214.2 1663.8 214.2 1662.4 214.2 1661 214.3 1659.6 214.3 1658.3 214.3 1656.9 214.4 1655.5 214.4 1654.1 214.5 1652.8 214.5 1651.4 214.6 1650 214.7 1648.6 214.8 1647.3 214.9 1645.9 215.1 1644.5 215.2 1643.2 215.3 1641.8 215.4 1640.4 215.6 1639 215.6 1637.7 215.7 1636.3 215.7 1634.9 215.3 1633.5 214.6 1632.2 213.2 1630.8 208.9Z" fill="#0a0a0a" fill-opacity="1.00" filter="url(#bl)"/>
<path d="M1719.9 210.4 1721.4 205.5 1722.9 203.8 1724.4 202.7 1725.9 202.2 1727.4 201.9 1728.9 201.9 1730.4 201.9 1731.9 201.9 1733.3 201.9 1734.8 201.9 1736.3 202 1737.8 202.1 1739.3 202.1 1740.8 202.2 1742.3 202.3 1743.8 202.3 1745.3 202.4 1746.8 202.5 1748.3 202.5 1749.8 202.5 1751.3 202.6 1752.8 202.6 1754.3 202.6 1755.8 202.6 1757.2 202.5 1758.7 202.5 1760.2 202.4 1761.7 202.4 1763.2 202.3 1764.7 202.2 1766.2 202.1 1767.7 202 1769.2 201.9 1770.7 201.7 1772.2 201.6 1773.7 201.5 1775.2 201.4 1776.7 201.3 1778.2 201.2 1779.6 201.1 1781.1 201.1 1782.6 201 1784.1 201 1785.6 201.2 1787.1 201.8 1788.6 202.8 1790.1 204.4 1791.6 209.3 1791.6 209.3 1790.1 214.3 1788.6 216 1787.1 217.1 1785.6 217.6 1784.1 217.9 1782.6 217.9 1781.1 217.9 1779.6 217.9 1778.2 217.9 1776.7 217.9 1775.2 217.8 1773.7 217.7 1772.2 217.7 1770.7 217.6 1769.2 217.5 1767.7 217.5 1766.2 217.4 1764.7 217.3 1763.2 217.3 1761.7 217.3 1760.2 217.2 1758.7 217.2 1757.2 217.2 1755.8 217.2 1754.3 217.3 1752.8 217.3 1751.3 217.4 1749.8 217.4 1748.3 217.5 1746.8 217.6 1745.3 217.7 1743.8 217.8 1742.3 217.9 1740.8 218.1 1739.3 218.2 1737.8 218.3 1736.3 218.4 1734.8 218.5 1733.3 218.6 1731.9 218.7 1730.4 218.7 1728.9 218.8 1727.4 218.8 1725.9 218.6 1724.4 218 1722.9 217 1721.4 215.4 1719.9 210.4Z" fill="#0a0a0a" fill-opacity="1.00" filter="url(#bl)"/>
<path d="M1810.4 211.2 1811.9 205.6 1813.5 203.7 1815 202.4 1816.6 201.6 1818.1 201.2 1819.7 201 1821.2 201 1822.8 201 1824.3 201 1825.9 201.1 1827.4 201.1 1829 201.2 1830.5 201.2 1832.1 201.3 1833.6 201.3 1835.2 201.4 1836.7 201.4 1838.3 201.5 1839.8 201.6 1841.4 201.6 1842.9 201.6 1844.5 201.7 1846 201.7 1847.6 201.7 1849.1 201.7 1850.6 201.7 1852.2 201.7 1853.7 201.7 1855.3 201.7 1856.8 201.6 1858.4 201.6 1859.9 201.6 1861.5 201.5 1863 201.5 1864.6 201.4 1866.1 201.4 1867.7 201.4 1869.2 201.4 1870.8 201.3 1872.3 201.3 1873.9 201.3 1875.4 201.3 1877 201.6 1878.5 202.1 1880.1 202.9 1881.6 204.1 1883.2 206.1 1884.7 211.7 1884.7 211.7 1883.2 217.3 1881.6 219.2 1880.1 220.5 1878.5 221.3 1877 221.7 1875.4 221.9 1873.9 221.9 1872.3 221.9 1870.8 221.7 1869.2 221.6 1867.7 221.4 1866.1 221.2 1864.6 220.9 1863 220.7 1861.5 220.4 1859.9 220.1 1858.4 219.9 1856.8 219.6 1855.3 219.4 1853.7 219.2 1852.2 219.1 1850.6 219 1849.1 218.9 1847.6 218.9 1846 218.9 1844.5 218.9 1842.9 219 1841.4 219.2 1839.8 219.3 1838.3 219.5 1836.7 219.7 1835.2 220 1833.6 220.2 1832.1 220.5 1830.5 220.7 1829 220.9 1827.4 221.1 1825.9 221.3 1824.3 221.4 1822.8 221.5 1821.2 221.6 1819.7 221.6 1818.1 221.3 1816.6 220.8 1815 220 1813.5 218.8 1811.9 216.8 1810.4 211.2Z" fill="#0a0a0a" fill-opacity="1.00" filter="url(#bl)"/>
<path d="M1541.3 280.4 1542.8 277.5 1544.2 277.2 1545.7 277.3 1547.1 277.3 1548.6 277.4 1550.1 277.6 1551.5 277.7 1553 277.9 1554.4 278 1555.9 278.2 1557.4 278.3 1558.8 278.4 1560.3 278.5 1561.7 278.6 1563.2 278.6 1564.7 278.7 1566.1 278.7 1567.6 278.7 1569 278.7 1570.5 278.7 1572 278.8 1573.4 278.8 1574.9 278.8 1576.3 278.8 1577.8 278.8 1579.3 278.8 1580.7 278.8 1582.2 278.8 1583.7 278.8 1585.1 278.8 1586.6 278.8 1588 278.8 1589.5 278.8 1591 278.8 1592.4 278.7 1593.9 278.7 1595.3 278.6 1596.8 278.5 1598.3 278.4 1599.7 278.3 1601.2 278.1 1602.6 278 1604.1 277.9 1605.6 277.8 1607 277.7 1608.5 277.7 1609.9 277.8 1611.4 280.4 1611.4 280.4 1609.9 283 1608.5 283.1 1607 283.1 1605.6 283 1604.1 282.9 1602.6 282.8 1601.2 282.7 1599.7 282.5 1598.3 282.4 1596.8 282.3 1595.3 282.2 1593.9 282.1 1592.4 282.1 1591 282 1589.5 282 1588 282 1586.6 282 1585.1 282 1583.7 282 1582.2 282 1580.7 282 1579.3 282 1577.8 282 1576.3 282 1574.9 282 1573.4 282 1572 282 1570.5 282.1 1569 282.1 1567.6 282.1 1566.1 282.1 1564.7 282.1 1563.2 282.2 1561.7 282.2 1560.3 282.3 1558.8 282.4 1557.4 282.5 1555.9 282.6 1554.4 282.8 1553 282.9 1551.5 283.1 1550.1 283.2 1548.6 283.4 1547.1 283.5 1545.7 283.5 1544.2 283.6 1542.8 283.3 1541.3 280.4Z" fill="#0a0a0a" fill-opacity="0.60" filter="url(#bl2)"/>
<path d="M1633.4 280.1 1634.8 276.9 1636.1 276.2 1637.5 276.2 1638.8 276.2 1640.2 276.2 1641.5 276.3 1642.9 276.4 1644.2 276.4 1645.6 276.5 1646.9 276.6 1648.3 276.7 1649.6 276.8 1651 276.9 1652.3 277 1653.7 277 1655 277.1 1656.4 277.2 1657.7 277.3 1659.1 277.3 1660.4 277.4 1661.8 277.4 1663.1 277.5 1664.5 277.5 1665.8 277.5 1667.2 277.6 1668.6 277.6 1669.9 277.6 1671.3 277.6 1672.6 277.6 1674 277.5 1675.3 277.5 1676.7 277.5 1678 277.5 1679.4 277.4 1680.7 277.4 1682.1 277.3 1683.4 277.3 1684.8 277.2 1686.1 277.2 1687.5 277.1 1688.8 277.1 1690.2 277.1 1691.5 277.1 1692.9 277 1694.2 277 1695.6 277.1 1696.9 277.5 1698.3 280.4 1698.3 280.4 1696.9 283.2 1695.6 283.6 1694.2 283.6 1692.9 283.6 1691.5 283.6 1690.2 283.6 1688.8 283.6 1687.5 283.5 1686.1 283.5 1684.8 283.4 1683.4 283.4 1682.1 283.4 1680.7 283.3 1679.4 283.3 1678 283.2 1676.7 283.2 1675.3 283.2 1674 283.2 1672.6 283.1 1671.3 283.1 1669.9 283.1 1668.6 283.1 1667.2 283.1 1665.8 283.1 1664.5 283.1 1663.1 283.2 1661.8 283.2 1660.4 283.2 1659.1 283.3 1657.7 283.3 1656.4 283.3 1655 283.4 1653.7 283.5 1652.3 283.5 1651 283.6 1649.6 283.6 1648.3 283.7 1646.9 283.8 1645.6 283.8 1644.2 283.9 1642.9 283.9 1641.5 284 1640.2 284 1638.8 284 1637.5 284.1 1636.1 284 1634.8 283.3 1633.4 280.1Z" fill="#0a0a0a" fill-opacity="1.00" filter="url(#bl2)"/>
<path d="M1719.9 283 1721.4 279.5 1722.9 278.7 1724.4 278.5 1725.9 278.5 1727.4 278.5 1728.9 278.4 1730.4 278.4 1731.9 278.4 1733.4 278.4 1734.9 278.3 1736.4 278.3 1738 278.3 1739.5 278.3 1741 278.3 1742.5 278.3 1744 278.3 1745.5 278.3 1747 278.2 1748.5 278.2 1750 278.2 1751.5 278.1 1753 278.1 1754.5 278 1756 278 1757.5 277.9 1759 277.8 1760.5 277.8 1762 277.7 1763.5 277.6 1765 277.5 1766.5 277.4 1768 277.4 1769.5 277.3 1771 277.2 1772.5 277.1 1774 277 1775.6 276.9 1777.1 276.8 1778.6 276.7 1780.1 276.6 1781.6 276.5 1783.1 276.4 1784.6 276.4 1786.1 276.3 1787.6 276.4 1789.1 277 1790.6 278.2 1792.1 282.4 1792.1 282.4 1790.6 286.7 1789.1 288 1787.6 288.6 1786.1 288.7 1784.6 288.6 1783.1 288.5 1781.6 288.4 1780.1 288.3 1778.6 288.1 1777.1 287.9 1775.6 287.7 1774 287.5 1772.5 287.3 1771 287.1 1769.5 286.9 1768 286.7 1766.5 286.5 1765 286.3 1763.5 286.1 1762 286 1760.5 285.9 1759 285.8 1757.5 285.7 1756 285.6 1754.5 285.6 1753 285.6 1751.5 285.6 1750 285.6 1748.5 285.7 1747 285.7 1745.5 285.8 1744 285.9 1742.5 286 1741 286.2 1739.5 286.3 1738 286.5 1736.4 286.6 1734.9 286.7 1733.4 286.9 1731.9 287 1730.4 287.1 1728.9 287.2 1727.4 287.3 1725.9 287.3 1724.4 287.3 1722.9 287.2 1721.4 286.4 1719.9 283Z" fill="#0a0a0a" fill-opacity="1.00" filter="url(#bl2)"/>
<path d="M1808.9 284.3 1810.5 279.3 1812 277.6 1813.6 276.7 1815.1 276.1 1816.7 276 1818.2 276 1819.8 275.9 1821.4 275.9 1822.9 275.8 1824.5 275.7 1826 275.7 1827.6 275.6 1829.2 275.5 1830.7 275.4 1832.3 275.3 1833.8 275.2 1835.4 275.1 1837 275.1 1838.5 275 1840.1 274.9 1841.6 274.9 1843.2 274.8 1844.7 274.8 1846.3 274.8 1847.9 274.8 1849.4 274.7 1851 274.7 1852.5 274.8 1854.1 274.8 1855.7 274.8 1857.2 274.8 1858.8 274.9 1860.3 274.9 1861.9 274.9 1863.4 275 1865 275 1866.6 275 1868.1 275.1 1869.7 275.1 1871.2 275.1 1872.8 275.1 1874.4 275.1 1875.9 275.1 1877.5 275.2 1879 275.6 1880.6 276.5 1882.1 278.1 1883.7 283 1883.7 283 1882.1 287.9 1880.6 289.5 1879 290.5 1877.5 290.9 1875.9 291.1 1874.4 291.1 1872.8 291 1871.2 290.9 1869.7 290.7 1868.1 290.5 1866.6 290.3 1865 290.1 1863.4 289.8 1861.9 289.5 1860.3 289.2 1858.8 289 1857.2 288.7 1855.7 288.5 1854.1 288.3 1852.5 288.2 1851 288.1 1849.4 288 1847.9 288 1846.3 288 1844.7 288.1 1843.2 288.2 1841.6 288.3 1840.1 288.5 1838.5 288.7 1837 289 1835.4 289.3 1833.8 289.6 1832.3 289.9 1830.7 290.2 1829.2 290.6 1827.6 290.9 1826 291.2 1824.5 291.5 1822.9 291.8 1821.4 292 1819.8 292.1 1818.2 292.3 1816.7 292.3 1815.1 292.2 1813.6 291.8 1812 290.9 1810.5 289.2 1808.9 284.3Z" fill="#0a0a0a" fill-opacity="1.00" filter="url(#bl2)"/>
<path d="M1539.7 355.2 1541.3 350.7 1543 349.4 1544.6 348.8 1546.3 348.8 1547.9 348.8 1549.6 348.8 1551.2 348.9 1552.9 348.9 1554.5 348.9 1556.2 348.9 1557.8 348.9 1559.5 349 1561.1 349 1562.7 349 1564.4 349 1566 349 1567.7 349 1569.3 349 1571 349 1572.6 349.1 1574.3 349.1 1575.9 349.1 1577.6 349.2 1579.2 349.2 1580.8 349.3 1582.5 349.3 1584.1 349.4 1585.8 349.4 1587.4 349.5 1589.1 349.5 1590.7 349.6 1592.4 349.7 1594 349.8 1595.7 349.8 1597.3 349.9 1599 350 1600.6 350.1 1602.2 350.1 1603.9 350.2 1605.5 350.3 1607.2 350.4 1608.8 350.4 1610.5 350.5 1612.1 350.5 1613.8 350.6 1615.4 351.2 1617.1 352.6 1618.7 357.1 1618.7 357.1 1617.1 361.5 1615.4 362.7 1613.8 363.2 1612.1 363.3 1610.5 363.2 1608.8 363.2 1607.2 363.1 1605.5 363.1 1603.9 363.1 1602.2 363 1600.6 363 1599 362.9 1597.3 362.8 1595.7 362.8 1594 362.7 1592.4 362.7 1590.7 362.6 1589.1 362.6 1587.4 362.6 1585.8 362.5 1584.1 362.5 1582.5 362.4 1580.8 362.4 1579.2 362.4 1577.6 362.3 1575.9 362.3 1574.3 362.3 1572.6 362.2 1571 362.2 1569.3 362.2 1567.7 362.2 1566 362.2 1564.4 362.1 1562.7 362.1 1561.1 362.1 1559.5 362.1 1557.8 362.1 1556.2 362.1 1554.5 362.1 1552.9 362 1551.2 362 1549.6 362 1547.9 362 1546.3 361.9 1544.6 361.8 1543 361.2 1541.3 359.8 1539.7 355.2Z" fill="#0a0a0a" fill-opacity="1.00" filter="url(#bl)"/>
<path d="M1636 355.2 1637.5 351.6 1639 350.8 1640.5 350.7 1642 350.6 1643.5 350.6 1645 350.6 1646.5 350.5 1648 350.5 1649.4 350.4 1650.9 350.4 1652.4 350.3 1653.9 350.2 1655.4 350.2 1656.9 350.1 1658.4 350.1 1659.9 350 1661.4 350 1662.9 349.9 1664.4 349.9 1665.9 349.8 1667.4 349.8 1668.9 349.8 1670.4 349.7 1671.8 349.7 1673.3 349.7 1674.8 349.7 1676.3 349.7 1677.8 349.7 1679.3 349.8 1680.8 349.8 1682.3 349.8 1683.8 349.8 1685.3 349.9 1686.8 349.9 1688.3 349.9 1689.8 350 1691.3 350 1692.8 350 1694.3 350.1 1695.8 350.1 1697.2 350.1 1698.7 350.1 1700.2 350.1 1701.7 350.1 1703.2 350.1 1704.7 350.5 1706.2 351.6 1707.7 355.4 1707.7 355.4 1706.2 359.3 1704.7 360.4 1703.2 360.7 1701.7 360.7 1700.2 360.7 1698.7 360.6 1697.2 360.5 1695.8 360.4 1694.3 360.3 1692.8 360.2 1691.3 360.1 1689.8 360 1688.3 359.9 1686.8 359.7 1685.3 359.6 1683.8 359.5 1682.3 359.4 1680.8 359.3 1679.3 359.2 1677.8 359.2 1676.3 359.1 1674.8 359 1673.3 359 1671.8 359 1670.4 358.9 1668.9 358.9 1667.4 358.9 1665.9 359 1664.4 359 1662.9 359 1661.4 359.1 1659.9 359.1 1658.4 359.2 1656.9 359.2 1655.4 359.3 1653.9 359.4 1652.4 359.5 1650.9 359.5 1649.4 359.6 1648 359.7 1646.5 359.7 1645 359.7 1643.5 359.8 1642 359.8 1640.5 359.8 1639 359.6 1637.5 358.8 1636 355.2Z" fill="#0a0a0a" fill-opacity="1.00" filter="url(#bl)"/>
<path d="M1727.7 354.6 1729.1 351.2 1730.6 350.3 1732 350.2 1733.4 350.2 1734.8 350.3 1736.3 350.3 1737.7 350.4 1739.1 350.4 1740.6 350.5 1742 350.5 1743.4 350.6 1744.8 350.6 1746.3 350.7 1747.7 350.7 1749.1 350.8 1750.6 350.8 1752 350.9 1753.4 350.9 1754.9 351 1756.3 351 1757.7 351 1759.1 351.1 1760.6 351.1 1762 351.2 1763.4 351.2 1764.9 351.2 1766.3 351.2 1767.7 351.3 1769.1 351.3 1770.6 351.3 1772 351.3 1773.4 351.4 1774.9 351.4 1776.3 351.4 1777.7 351.4 1779.2 351.4 1780.6 351.4 1782 351.5 1783.4 351.5 1784.9 351.5 1786.3 351.5 1787.7 351.5 1789.2 351.5 1790.6 351.6 1792 351.6 1793.4 351.6 1794.9 352.2 1796.3 355.2 1796.3 355.2 1794.9 358.2 1793.4 358.7 1792 358.7 1790.6 358.7 1789.2 358.7 1787.7 358.6 1786.3 358.6 1784.9 358.5 1783.4 358.5 1782 358.4 1780.6 358.3 1779.2 358.3 1777.7 358.2 1776.3 358.1 1774.9 358 1773.4 358 1772 357.9 1770.6 357.9 1769.1 357.9 1767.7 357.8 1766.3 357.8 1764.9 357.8 1763.4 357.8 1762 357.8 1760.6 357.8 1759.1 357.9 1757.7 357.9 1756.3 357.9 1754.9 358 1753.4 358.1 1752 358.1 1750.6 358.2 1749.1 358.3 1747.7 358.4 1746.3 358.5 1744.8 358.6 1743.4 358.7 1742 358.8 1740.6 358.8 1739.1 358.9 1737.7 359 1736.3 359.1 1734.8 359.1 1733.4 359.1 1732 359.2 1730.6 359 1729.1 358.1 1727.7 354.6Z" fill="#0a0a0a" fill-opacity="1.00" filter="url(#bl)"/>
<path d="M1821.9 354.4 1823.2 351.7 1824.5 351.3 1825.8 351.3 1827.1 351.4 1828.4 351.5 1829.8 351.6 1831.1 351.7 1832.4 351.9 1833.7 352 1835 352.1 1836.3 352.2 1837.6 352.3 1838.9 352.4 1840.2 352.5 1841.5 352.5 1842.8 352.6 1844.1 352.7 1845.5 352.7 1846.8 352.8 1848.1 352.8 1849.4 352.9 1850.7 352.9 1852 353 1853.3 353 1854.6 353 1855.9 353.1 1857.2 353.1 1858.5 353.2 1859.8 353.2 1861.2 353.2 1862.5 353.3 1863.8 353.3 1865.1 353.3 1866.4 353.4 1867.7 353.4 1869 353.4 1870.3 353.4 1871.6 353.3 1872.9 353.3 1874.2 353.3 1875.5 353.2 1876.9 353.2 1878.2 353.2 1879.5 353.2 1880.8 353.2 1882.1 353.2 1883.4 353.6 1884.7 356.2 1884.7 356.2 1883.4 358.9 1882.1 359.1 1880.8 359 1879.5 358.9 1878.2 358.7 1876.9 358.4 1875.5 358.1 1874.2 357.8 1872.9 357.5 1871.6 357.2 1870.3 357 1869 356.7 1867.7 356.6 1866.4 356.4 1865.1 356.3 1863.8 356.2 1862.5 356.1 1861.2 356.1 1859.8 356 1858.5 356 1857.2 355.9 1855.9 355.9 1854.6 355.8 1853.3 355.8 1852 355.8 1850.7 355.7 1849.4 355.7 1848.1 355.7 1846.8 355.7 1845.5 355.7 1844.1 355.7 1842.8 355.7 1841.5 355.7 1840.2 355.8 1838.9 355.9 1837.6 356 1836.3 356.1 1835 356.3 1833.7 356.5 1832.4 356.8 1831.1 357 1829.8 357.2 1828.4 357.4 1827.1 357.6 1825.8 357.7 1824.5 357.7 1823.2 357.2 1821.9 354.4Z" fill="#0a0a0a" fill-opacity="1.00" filter="url(#bl)"/>
<path d="M1540.3 428 1542 422.7 1543.7 421.1 1545.4 420.2 1547.1 419.8 1548.8 419.7 1550.5 419.8 1552.2 419.8 1553.9 419.8 1555.6 419.8 1557.3 419.9 1559 419.9 1560.7 419.9 1562.4 419.9 1564.1 419.9 1565.8 419.9 1567.5 419.9 1569.2 419.9 1570.9 420 1572.6 420 1574.3 420 1576 420 1577.7 420.1 1579.4 420.1 1581.1 420.1 1582.8 420.2 1584.5 420.2 1586.2 420.3 1587.9 420.3 1589.6 420.4 1591.3 420.5 1593 420.5 1594.7 420.6 1596.4 420.7 1598.1 420.8 1599.8 420.8 1601.5 420.9 1603.2 421 1604.9 421.1 1606.6 421.1 1608.3 421.2 1610 421.3 1611.7 421.3 1613.4 421.4 1615.1 421.4 1616.8 421.8 1618.5 422.6 1620.2 424.2 1621.9 429.2 1621.9 429.2 1620.2 434.2 1618.5 435.8 1616.8 436.6 1615.1 436.9 1613.4 436.8 1611.7 436.8 1610 436.8 1608.3 436.8 1606.6 436.8 1604.9 436.8 1603.2 436.7 1601.5 436.7 1599.8 436.7 1598.1 436.7 1596.4 436.6 1594.7 436.6 1593 436.6 1591.3 436.6 1589.6 436.5 1587.9 436.5 1586.2 436.5 1584.5 436.5 1582.8 436.5 1581.1 436.5 1579.4 436.5 1577.7 436.4 1576 436.4 1574.3 436.4 1572.6 436.4 1570.9 436.4 1569.2 436.4 1567.5 436.4 1565.8 436.4 1564.1 436.5 1562.4 436.5 1560.7 436.5 1559 436.5 1557.3 436.5 1555.6 436.5 1553.9 436.5 1552.2 436.5 1550.5 436.5 1548.8 436.5 1547.1 436.4 1545.4 435.9 1543.7 434.9 1542 433.2 1540.3 428Z" fill="#0a0a0a" fill-opacity="1.00" filter="url(#bl)"/>
<path d="M1636 428 1637.6 423 1639.1 421.4 1640.7 420.5 1642.2 420.1 1643.8 419.9 1645.3 419.9 1646.9 420 1648.5 420 1650 420 1651.6 420 1653.1 420 1654.7 420.1 1656.3 420.1 1657.8 420.2 1659.4 420.2 1660.9 420.2 1662.5 420.3 1664 420.3 1665.6 420.3 1667.2 420.4 1668.7 420.4 1670.3 420.4 1671.8 420.4 1673.4 420.4 1675 420.4 1676.5 420.3 1678.1 420.3 1679.6 420.3 1681.2 420.2 1682.8 420.2 1684.3 420.1 1685.9 420.1 1687.4 420 1689 420 1690.5 419.9 1692.1 419.8 1693.7 419.8 1695.2 419.7 1696.8 419.7 1698.3 419.6 1699.9 419.6 1701.5 419.6 1703 419.6 1704.6 419.7 1706.1 420.2 1707.7 421.1 1709.2 422.7 1710.8 427.7 1710.8 427.7 1709.2 432.7 1707.7 434.3 1706.1 435.3 1704.6 435.8 1703 435.9 1701.5 435.9 1699.9 435.9 1698.3 435.9 1696.8 435.9 1695.2 435.9 1693.7 435.9 1692.1 435.9 1690.5 435.9 1689 435.9 1687.4 435.9 1685.9 435.9 1684.3 435.9 1682.8 435.9 1681.2 435.9 1679.6 435.9 1678.1 435.9 1676.5 435.9 1675 435.9 1673.4 435.9 1671.8 435.9 1670.3 435.9 1668.7 435.9 1667.2 435.9 1665.6 435.9 1664 435.9 1662.5 435.9 1660.9 435.9 1659.4 435.9 1657.8 435.9 1656.3 435.9 1654.7 435.9 1653.1 435.9 1651.6 435.9 1650 435.9 1648.5 435.9 1646.9 435.9 1645.3 435.9 1643.8 435.9 1642.2 435.8 1640.7 435.4 1639.1 434.4 1637.6 432.8 1636 428Z" fill="#0a0a0a" fill-opacity="1.00" filter="url(#bl)"/>
<path d="M1720.9 427.7 1722.5 423 1724.1 421.5 1725.7 420.7 1727.3 420.4 1728.9 420.3 1730.5 420.3 1732 420.2 1733.6 420.2 1735.2 420.1 1736.8 420.1 1738.4 420 1740 420 1741.6 420 1743.2 419.9 1744.8 419.9 1746.4 419.8 1748 419.8 1749.5 419.7 1751.1 419.7 1752.7 419.7 1754.3 419.6 1755.9 419.6 1757.5 419.5 1759.1 419.4 1760.7 419.4 1762.3 419.3 1763.9 419.3 1765.5 419.2 1767.1 419.1 1768.7 419.1 1770.2 419 1771.8 418.9 1773.4 418.9 1775 418.8 1776.6 418.7 1778.2 418.6 1779.8 418.6 1781.4 418.5 1783 418.4 1784.6 418.4 1786.2 418.3 1787.8 418.2 1789.3 418.2 1790.9 418.2 1792.5 418.6 1794.1 419.4 1795.7 421 1797.3 425.9 1797.3 425.9 1795.7 430.8 1794.1 432.4 1792.5 433.4 1790.9 433.8 1789.3 433.9 1787.8 433.9 1786.2 434 1784.6 434 1783 434 1781.4 434.1 1779.8 434.1 1778.2 434.2 1776.6 434.2 1775 434.3 1773.4 434.3 1771.8 434.4 1770.2 434.4 1768.7 434.5 1767.1 434.5 1765.5 434.6 1763.9 434.6 1762.3 434.6 1760.7 434.7 1759.1 434.7 1757.5 434.7 1755.9 434.7 1754.3 434.7 1752.7 434.7 1751.1 434.7 1749.5 434.7 1748 434.7 1746.4 434.7 1744.8 434.7 1743.2 434.7 1741.6 434.7 1740 434.7 1738.4 434.7 1736.8 434.7 1735.2 434.7 1733.6 434.7 1732 434.7 1730.5 434.7 1728.9 434.7 1727.3 434.7 1725.7 434.5 1724.1 433.8 1722.5 432.3 1720.9 427.7Z" fill="#0a0a0a" fill-opacity="1.00" filter="url(#bl)"/>
<path d="M1808.9 428 1810.5 423.1 1812 421.5 1813.6 420.6 1815.1 420.1 1816.7 420.1 1818.2 420.1 1819.8 420.1 1821.4 420.1 1822.9 420.1 1824.5 420.2 1826 420.2 1827.6 420.2 1829.2 420.3 1830.7 420.3 1832.3 420.3 1833.8 420.3 1835.4 420.4 1837 420.4 1838.5 420.4 1840.1 420.5 1841.6 420.5 1843.2 420.5 1844.7 420.5 1846.3 420.5 1847.9 420.5 1849.4 420.5 1851 420.6 1852.5 420.6 1854.1 420.6 1855.7 420.6 1857.2 420.6 1858.8 420.6 1860.3 420.5 1861.9 420.5 1863.4 420.5 1865 420.5 1866.6 420.5 1868.1 420.5 1869.7 420.5 1871.2 420.5 1872.8 420.5 1874.4 420.5 1875.9 420.5 1877.5 420.6 1879 421 1880.6 421.9 1882.1 423.4 1883.7 428.2 1883.7 428.2 1882.1 433 1880.6 434.6 1879 435.5 1877.5 435.8 1875.9 435.9 1874.4 435.9 1872.8 435.9 1871.2 435.9 1869.7 436 1868.1 436 1866.6 436 1865 436 1863.4 436.1 1861.9 436.1 1860.3 436.1 1858.8 436.2 1857.2 436.2 1855.7 436.2 1854.1 436.2 1852.5 436.2 1851 436.3 1849.4 436.3 1847.9 436.3 1846.3 436.3 1844.7 436.3 1843.2 436.3 1841.6 436.3 1840.1 436.2 1838.5 436.2 1837 436.2 1835.4 436.2 1833.8 436.1 1832.3 436.1 1830.7 436.1 1829.2 436.1 1827.6 436 1826 436 1824.5 436 1822.9 435.9 1821.4 435.9 1819.8 435.9 1818.2 435.9 1816.7 435.9 1815.1 435.8 1813.6 435.4 1812 434.5 1810.5 432.8 1808.9 428Z" fill="#0a0a0a" fill-opacity="1.00" filter="url(#bl)"/>
</svg></body></html>
